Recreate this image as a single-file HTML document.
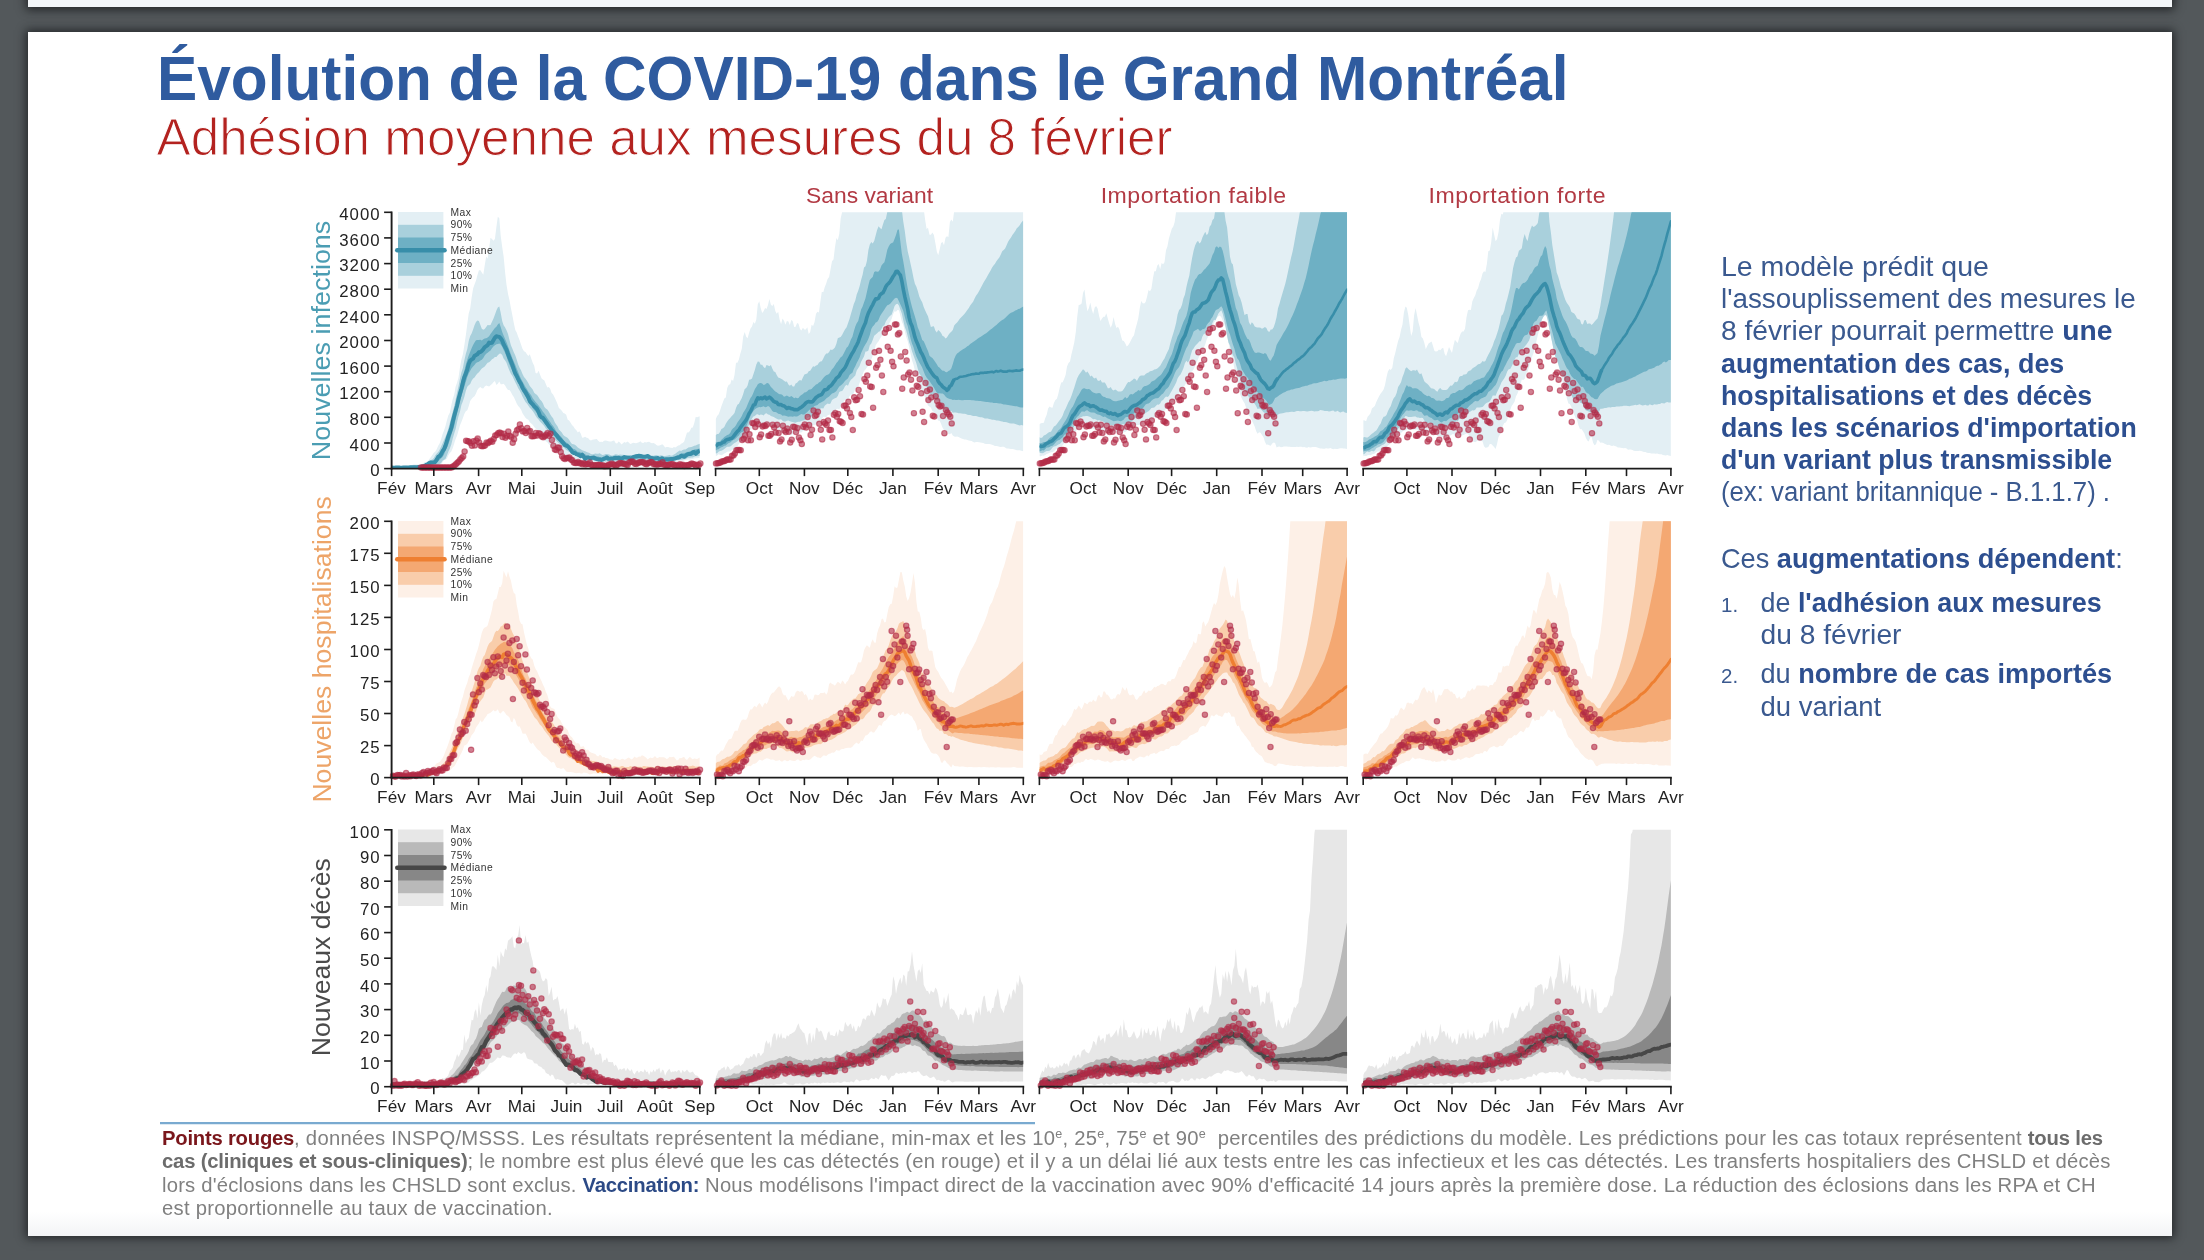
<!DOCTYPE html>
<html lang="fr"><head><meta charset="utf-8"><title>Évolution de la COVID-19 dans le Grand Montréal</title>
<style>
html,body{margin:0;padding:0;}
body{width:2204px;height:1260px;overflow:hidden;background:#53585b;position:relative;font-family:"Liberation Sans",sans-serif;}
.prev{position:absolute;left:28px;top:-20px;width:2144px;height:27px;background:#f3f6f9;box-shadow:0 1px 9px 2px rgba(20,22,24,.75);}
.page{position:absolute;left:28px;top:32px;width:2144px;height:1204px;background:#fff;box-shadow:0 0 9px 2px rgba(20,22,24,.75);}
.page .fade{position:absolute;left:0;right:0;bottom:0;height:24px;background:linear-gradient(#fff,#f3f4f6);}
svg{position:absolute;left:0;top:0;will-change:transform;}
svg text{font-family:"Liberation Sans",sans-serif;white-space:pre;}
</style></head><body>
<div class="prev"></div>
<div class="page"><div class="fade"></div></div>
<svg width="2204" height="1260" viewBox="0 0 2204 1260">
<clipPath id="c1_391"><rect x="391.6" y="212.3" width="308.2" height="256.3"/></clipPath><g clip-path="url(#c1_391)"><path d="M391.6,465.8 393.1,465.8 394.5,465.9 396.0,465.8 397.4,465.8 398.9,465.7 400.3,465.9 401.8,465.9 403.2,465.9 404.7,465.7 406.1,465.6 407.6,466.0 409.1,465.6 410.5,465.2 412.0,464.9 413.4,464.6 414.9,464.5 416.3,464.6 417.8,464.6 419.2,464.4 420.7,464.6 422.2,464.0 423.6,462.7 425.1,462.0 426.5,462.0 428.0,461.1 429.4,459.0 430.9,456.9 432.3,455.1 433.8,452.8 435.2,451.7 436.7,449.3 438.2,445.7 439.6,443.4 441.1,439.2 442.5,434.3 444.0,430.6 445.4,426.3 446.9,420.4 448.3,415.5 449.8,412.8 451.3,405.6 452.7,399.1 454.2,394.7 455.6,386.8 457.1,382.4 458.5,377.5 460.0,367.3 461.4,359.5 462.9,354.2 464.3,345.6 465.8,335.5 467.3,324.1 468.7,313.5 470.2,308.5 471.6,297.8 473.1,288.5 474.5,284.5 476.0,280.6 477.4,275.2 478.9,270.2 480.4,270.3 481.8,272.5 483.3,274.7 484.7,265.5 486.2,256.5 487.6,258.8 489.1,248.5 490.5,237.7 492.0,239.1 493.4,240.7 494.9,239.0 496.4,227.1 497.8,216.7 499.3,218.3 500.7,235.7 502.2,247.0 503.6,256.3 505.1,272.3 506.5,284.7 508.0,293.8 509.5,300.2 510.9,307.9 512.4,315.5 513.8,323.1 515.3,330.1 516.7,332.5 518.2,336.8 519.6,340.3 521.1,344.7 522.5,348.8 524.0,351.2 525.5,351.9 526.9,354.2 528.4,356.0 529.8,354.3 531.3,358.8 532.7,362.8 534.2,365.7 535.6,373.0 537.1,373.4 538.6,370.8 540.0,374.4 541.5,378.2 542.9,379.5 544.4,380.4 545.8,384.0 547.3,387.4 548.7,387.1 550.2,388.8 551.6,393.1 553.1,394.4 554.6,397.5 556.0,400.5 557.5,404.1 558.9,408.0 560.4,409.3 561.8,410.8 563.3,413.0 564.7,413.6 566.2,414.7 567.7,419.7 569.1,420.4 570.6,422.8 572.0,424.9 573.5,426.4 574.9,428.8 576.4,430.2 577.8,432.6 579.3,431.3 580.7,433.6 582.2,437.7 583.7,437.5 585.1,436.8 586.6,437.7 588.0,437.9 589.5,439.7 590.9,440.5 592.4,439.7 593.8,439.6 595.3,439.3 596.8,439.0 598.2,440.8 599.7,441.9 601.1,441.7 602.6,442.0 604.0,440.7 605.5,440.6 606.9,440.8 608.4,441.3 609.8,441.6 611.3,441.5 612.8,440.8 614.2,440.5 615.7,443.2 617.1,443.5 618.6,441.5 620.0,442.5 621.5,444.5 622.9,443.3 624.4,442.1 625.9,442.7 627.3,441.5 628.8,442.6 630.2,443.9 631.7,443.4 633.1,442.8 634.6,443.1 636.0,443.3 637.5,442.8 638.9,442.2 640.4,441.2 641.9,442.8 643.3,443.1 644.8,442.1 646.2,442.4 647.7,441.9 649.1,441.7 650.6,442.8 652.0,443.3 653.5,443.1 655.0,443.7 656.4,445.0 657.9,445.8 659.3,445.5 660.8,445.0 662.2,444.2 663.7,445.6 665.1,447.5 666.6,447.1 668.0,446.9 669.5,447.6 671.0,447.8 672.4,447.9 673.9,447.0 675.3,447.4 676.8,446.6 678.2,445.4 679.7,445.3 681.1,443.7 682.6,443.0 684.1,441.7 685.5,437.3 687.0,432.6 688.4,432.4 689.9,430.9 691.3,427.7 692.8,427.5 694.2,423.2 695.7,417.1 697.1,417.3 699.8,416.3 L699.8,457.8 697.1,458.3 695.7,458.3 694.2,458.4 692.8,459.1 691.3,459.3 689.9,459.6 688.4,459.4 687.0,459.7 685.5,459.8 684.1,460.4 682.6,461.0 681.1,460.8 679.7,461.1 678.2,461.6 676.8,461.8 675.3,462.2 673.9,462.8 672.4,463.5 671.0,463.7 669.5,463.7 668.0,463.4 666.6,463.5 665.1,463.4 663.7,462.7 662.2,462.9 660.8,463.0 659.3,463.8 657.9,464.0 656.4,463.7 655.0,463.8 653.5,463.9 652.0,463.6 650.6,463.3 649.1,463.0 647.7,463.3 646.2,463.8 644.8,464.0 643.3,463.8 641.9,463.5 640.4,463.3 638.9,463.7 637.5,463.5 636.0,463.9 634.6,464.1 633.1,463.4 631.7,463.2 630.2,463.4 628.8,463.6 627.3,463.1 625.9,463.0 624.4,463.4 622.9,463.4 621.5,463.3 620.0,463.5 618.6,463.1 617.1,462.9 615.7,463.7 614.2,463.6 612.8,462.9 611.3,463.5 609.8,463.7 608.4,463.1 606.9,463.0 605.5,463.1 604.0,462.6 602.6,462.8 601.1,463.7 599.7,463.8 598.2,463.6 596.8,463.5 595.3,463.8 593.8,463.5 592.4,463.0 590.9,463.5 589.5,463.4 588.0,463.2 586.6,463.2 585.1,462.5 583.7,462.5 582.2,463.1 580.7,463.1 579.3,462.8 577.8,462.4 576.4,461.8 574.9,460.9 573.5,460.0 572.0,459.0 570.6,458.2 569.1,458.2 567.7,457.8 566.2,456.1 564.7,455.1 563.3,455.3 561.8,453.8 560.4,451.8 558.9,450.9 557.5,449.9 556.0,449.2 554.6,449.6 553.1,448.9 551.6,446.8 550.2,445.5 548.7,443.9 547.3,442.2 545.8,441.2 544.4,440.3 542.9,439.2 541.5,436.9 540.0,434.0 538.6,431.1 537.1,429.6 535.6,428.5 534.2,427.0 532.7,424.8 531.3,423.4 529.8,422.3 528.4,419.8 526.9,418.9 525.5,417.7 524.0,415.5 522.5,413.2 521.1,409.8 519.6,407.6 518.2,406.1 516.7,403.5 515.3,400.3 513.8,397.1 512.4,395.1 510.9,392.1 509.5,390.1 508.0,389.9 506.5,388.0 505.1,385.4 503.6,383.7 502.2,384.3 500.7,384.3 499.3,381.4 497.8,383.8 496.4,385.0 494.9,381.0 493.4,382.3 492.0,384.0 490.5,385.3 489.1,386.4 487.6,386.0 486.2,385.4 484.7,386.4 483.3,388.5 481.8,388.2 480.4,386.9 478.9,388.0 477.4,390.1 476.0,393.4 474.5,396.2 473.1,397.2 471.6,399.1 470.2,401.1 468.7,406.2 467.3,410.2 465.8,411.3 464.3,414.1 462.9,418.1 461.4,422.0 460.0,425.3 458.5,430.6 457.1,435.4 455.6,439.0 454.2,443.5 452.7,448.3 451.3,451.4 449.8,453.1 448.3,455.4 446.9,458.5 445.4,459.7 444.0,460.1 442.5,462.2 441.1,464.5 439.6,465.4 438.2,465.3 436.7,465.7 435.2,465.9 433.8,466.0 432.3,466.9 430.9,466.9 429.4,466.8 428.0,466.8 426.5,466.8 425.1,467.1 423.6,467.5 422.2,468.0 420.7,468.1 419.2,468.1 417.8,468.1 416.3,468.1 414.9,468.1 413.4,468.1 412.0,468.1 410.5,468.1 409.1,468.1 407.6,468.1 406.1,468.1 404.7,468.1 403.2,468.1 401.8,468.1 400.3,468.1 398.9,468.1 397.4,468.1 396.0,468.1 394.5,468.1 393.1,468.1 391.6,468.1Z" fill="#e3eff4"/><path d="M391.6,466.5 393.1,466.5 394.5,466.3 396.0,466.1 397.4,466.1 398.9,466.0 400.3,466.2 401.8,466.2 403.2,466.2 404.7,466.4 406.1,466.3 407.6,466.3 409.1,465.9 410.5,466.1 412.0,465.9 413.4,465.5 414.9,465.3 416.3,465.7 417.8,465.5 419.2,465.4 420.7,465.2 422.2,465.3 423.6,464.9 425.1,464.3 426.5,463.6 428.0,462.8 429.4,461.0 430.9,459.9 432.3,459.5 433.8,458.0 435.2,455.6 436.7,453.4 438.2,452.0 439.6,449.8 441.1,446.6 442.5,443.4 444.0,440.1 445.4,436.9 446.9,433.3 448.3,428.7 449.8,423.0 451.3,417.6 452.7,411.8 454.2,406.0 455.6,399.6 457.1,392.6 458.5,386.2 460.0,378.5 461.4,372.6 462.9,367.9 464.3,360.4 465.8,354.0 467.3,348.9 468.7,341.1 470.2,336.0 471.6,333.4 473.1,329.5 474.5,325.3 476.0,321.9 477.4,320.4 478.9,321.0 480.4,325.0 481.8,328.8 483.3,329.8 484.7,329.0 486.2,326.9 487.6,325.1 489.1,325.2 490.5,325.0 492.0,321.8 493.4,318.7 494.9,314.7 496.4,310.6 497.8,307.4 499.3,306.6 500.7,312.8 502.2,321.0 503.6,325.3 505.1,327.6 506.5,330.3 508.0,334.1 509.5,340.1 510.9,345.3 512.4,348.7 513.8,352.3 515.3,355.5 516.7,359.5 518.2,364.4 519.6,367.8 521.1,370.6 522.5,373.9 524.0,376.9 525.5,378.7 526.9,380.8 528.4,383.3 529.8,385.9 531.3,387.8 532.7,389.5 534.2,392.7 535.6,394.1 537.1,395.0 538.6,397.3 540.0,399.6 541.5,400.9 542.9,403.2 544.4,406.9 545.8,408.6 547.3,409.6 548.7,411.5 550.2,414.2 551.6,416.5 553.1,418.3 554.6,421.9 556.0,424.3 557.5,426.3 558.9,429.4 560.4,431.0 561.8,432.4 563.3,434.9 564.7,436.3 566.2,436.9 567.7,438.0 569.1,439.7 570.6,442.2 572.0,443.9 573.5,444.2 574.9,444.8 576.4,446.1 577.8,447.5 579.3,448.5 580.7,449.3 582.2,450.2 583.7,450.8 585.1,451.3 586.6,452.1 588.0,452.6 589.5,453.1 590.9,454.0 592.4,454.3 593.8,453.9 595.3,453.4 596.8,453.7 598.2,453.7 599.7,453.3 601.1,454.2 602.6,454.9 604.0,454.7 605.5,454.0 606.9,454.0 608.4,454.3 609.8,454.7 611.3,455.5 612.8,455.5 614.2,454.7 615.7,454.3 617.1,454.6 618.6,454.9 620.0,454.6 621.5,454.7 622.9,454.8 624.4,455.1 625.9,455.6 627.3,455.7 628.8,455.3 630.2,455.2 631.7,455.3 633.1,455.1 634.6,455.1 636.0,454.9 637.5,454.7 638.9,454.7 640.4,454.9 641.9,455.2 643.3,455.7 644.8,455.3 646.2,454.9 647.7,454.9 649.1,455.6 650.6,455.5 652.0,455.6 653.5,455.8 655.0,455.3 656.4,455.0 657.9,455.5 659.3,455.8 660.8,455.2 662.2,455.4 663.7,456.0 665.1,456.1 666.6,455.8 668.0,455.4 669.5,455.1 671.0,455.7 672.4,455.5 673.9,454.6 675.3,453.7 676.8,452.5 678.2,451.4 679.7,450.6 681.1,450.9 682.6,450.1 684.1,449.6 685.5,449.6 687.0,448.4 688.4,447.6 689.9,447.3 691.3,447.0 692.8,446.5 694.2,445.7 695.7,445.4 697.1,444.8 699.8,443.7 L699.8,455.9 697.1,456.3 695.7,456.2 694.2,456.8 692.8,457.4 691.3,457.5 689.9,457.8 688.4,457.7 687.0,458.3 685.5,459.2 684.1,459.2 682.6,459.6 681.1,459.8 679.7,459.9 678.2,460.0 676.8,459.8 675.3,460.7 673.9,461.2 672.4,461.1 671.0,461.4 669.5,461.3 668.0,461.9 666.6,462.3 665.1,461.7 663.7,461.8 662.2,462.6 660.8,462.4 659.3,461.7 657.9,461.8 656.4,461.3 655.0,460.9 653.5,461.1 652.0,460.9 650.6,461.3 649.1,461.9 647.7,462.3 646.2,461.8 644.8,461.3 643.3,461.8 641.9,461.9 640.4,461.3 638.9,461.1 637.5,461.7 636.0,462.8 634.6,462.5 633.1,461.3 631.7,461.2 630.2,461.3 628.8,461.3 627.3,461.8 625.9,461.8 624.4,461.0 622.9,461.5 621.5,462.1 620.0,461.8 618.6,461.7 617.1,461.6 615.7,461.4 614.2,461.3 612.8,461.6 611.3,462.0 609.8,462.0 608.4,461.6 606.9,461.3 605.5,461.4 604.0,461.1 602.6,461.2 601.1,461.2 599.7,461.4 598.2,461.4 596.8,460.5 595.3,460.4 593.8,460.5 592.4,460.3 590.9,460.8 589.5,461.0 588.0,460.5 586.6,459.9 585.1,460.2 583.7,458.8 582.2,458.1 580.7,457.6 579.3,457.0 577.8,456.7 576.4,456.0 574.9,455.3 573.5,454.2 572.0,453.0 570.6,452.3 569.1,452.0 567.7,450.8 566.2,449.9 564.7,448.6 563.3,447.0 561.8,446.0 560.4,444.5 558.9,443.2 557.5,441.9 556.0,440.6 554.6,438.8 553.1,436.7 551.6,435.1 550.2,433.2 548.7,431.3 547.3,429.9 545.8,428.4 544.4,426.3 542.9,424.4 541.5,423.1 540.0,421.4 538.6,419.6 537.1,418.1 535.6,415.8 534.2,413.2 532.7,411.0 531.3,409.3 529.8,407.8 528.4,405.8 526.9,403.4 525.5,401.9 524.0,399.2 522.5,396.5 521.1,393.2 519.6,390.4 518.2,388.3 516.7,385.1 515.3,382.2 513.8,378.9 512.4,376.1 510.9,373.7 509.5,370.7 508.0,367.0 506.5,362.7 505.1,360.5 503.6,358.6 502.2,354.9 500.7,353.6 499.3,353.7 497.8,355.3 496.4,357.0 494.9,357.1 493.4,358.5 492.0,359.2 490.5,361.0 489.1,362.3 487.6,362.8 486.2,364.6 484.7,366.4 483.3,367.5 481.8,368.5 480.4,370.2 478.9,372.3 477.4,373.5 476.0,375.3 474.5,377.6 473.1,378.4 471.6,380.8 470.2,383.9 468.7,385.2 467.3,386.8 465.8,390.9 464.3,397.1 462.9,401.3 461.4,405.1 460.0,411.5 458.5,416.3 457.1,422.1 455.6,428.9 454.2,433.6 452.7,438.8 451.3,444.4 449.8,448.5 448.3,451.7 446.9,455.5 445.4,458.9 444.0,459.8 442.5,460.8 441.1,462.9 439.6,463.9 438.2,464.7 436.7,465.3 435.2,465.4 433.8,465.7 432.3,466.5 430.9,466.6 429.4,466.5 428.0,466.3 426.5,466.5 425.1,466.8 423.6,467.2 422.2,467.7 420.7,467.9 419.2,468.0 417.8,468.1 416.3,468.1 414.9,468.1 413.4,468.1 412.0,468.1 410.5,468.1 409.1,468.1 407.6,468.1 406.1,468.1 404.7,468.1 403.2,468.1 401.8,468.1 400.3,468.1 398.9,468.1 397.4,468.1 396.0,468.1 394.5,468.1 393.1,468.1 391.6,468.1Z" fill="#a9d0dc"/><path d="M391.6,466.8 393.1,467.0 394.5,466.9 396.0,466.7 397.4,466.6 398.9,466.7 400.3,467.0 401.8,466.9 403.2,466.8 404.7,466.7 406.1,466.6 407.6,466.6 409.1,466.6 410.5,466.4 412.0,466.5 413.4,466.3 414.9,466.4 416.3,466.4 417.8,465.8 419.2,465.9 420.7,466.0 422.2,465.8 423.6,465.2 425.1,464.9 426.5,463.9 428.0,463.1 429.4,462.2 430.9,461.7 432.3,461.5 433.8,460.2 435.2,458.7 436.7,457.1 438.2,454.8 439.6,452.4 441.1,450.9 442.5,448.5 444.0,445.0 445.4,441.6 446.9,437.9 448.3,433.7 449.8,429.4 451.3,423.7 452.7,417.1 454.2,411.4 455.6,405.5 457.1,399.9 458.5,394.2 460.0,387.4 461.4,380.6 462.9,375.2 464.3,370.9 465.8,364.7 467.3,359.5 468.7,355.6 470.2,351.7 471.6,348.3 473.1,345.0 474.5,342.6 476.0,340.2 477.4,340.1 478.9,340.0 480.4,339.8 481.8,340.4 483.3,339.2 484.7,338.5 486.2,338.3 487.6,337.4 489.1,336.2 490.5,334.1 492.0,332.0 493.4,330.0 494.9,328.1 496.4,326.8 497.8,324.4 499.3,323.1 500.7,326.9 502.2,331.9 503.6,335.4 505.1,339.0 506.5,342.2 508.0,346.3 509.5,350.6 510.9,354.3 512.4,358.2 513.8,361.5 515.3,364.9 516.7,368.6 518.2,372.2 519.6,375.7 521.1,379.0 522.5,381.5 524.0,384.3 525.5,386.9 526.9,389.1 528.4,391.7 529.8,393.4 531.3,395.6 532.7,398.3 534.2,400.2 535.6,401.9 537.1,403.7 538.6,405.5 540.0,407.5 541.5,409.6 542.9,411.7 544.4,413.5 545.8,415.5 547.3,418.1 548.7,420.0 550.2,422.0 551.6,424.3 553.1,426.1 554.6,428.3 556.0,431.0 557.5,432.9 558.9,434.7 560.4,436.1 561.8,437.5 563.3,439.5 564.7,441.2 566.2,442.5 567.7,443.3 569.1,444.7 570.6,446.7 572.0,448.0 573.5,448.9 574.9,449.3 576.4,450.6 577.8,451.9 579.3,451.7 580.7,452.5 582.2,453.4 583.7,453.5 585.1,454.3 586.6,455.4 588.0,455.8 589.5,455.9 590.9,456.6 592.4,456.9 593.8,456.7 595.3,456.5 596.8,456.4 598.2,456.4 599.7,456.9 601.1,457.2 602.6,457.1 604.0,457.3 605.5,457.1 606.9,456.5 608.4,457.2 609.8,457.3 611.3,457.3 612.8,457.3 614.2,456.9 615.7,456.9 617.1,456.7 618.6,456.2 620.0,456.5 621.5,456.9 622.9,456.7 624.4,456.3 625.9,456.1 627.3,456.3 628.8,456.1 630.2,455.6 631.7,455.7 633.1,456.2 634.6,455.8 636.0,455.4 637.5,455.1 638.9,455.0 640.4,455.2 641.9,455.5 643.3,456.0 644.8,456.0 646.2,455.6 647.7,455.2 649.1,456.2 650.6,456.4 652.0,456.6 653.5,456.6 655.0,456.5 656.4,456.9 657.9,457.2 659.3,457.3 660.8,457.0 662.2,457.1 663.7,457.5 665.1,457.6 666.6,457.7 668.0,457.6 669.5,457.3 671.0,457.4 672.4,457.5 673.9,457.6 675.3,456.5 676.8,455.3 678.2,455.0 679.7,454.4 681.1,453.4 682.6,453.3 684.1,453.3 685.5,452.7 687.0,452.0 688.4,451.7 689.9,451.3 691.3,450.9 692.8,450.3 694.2,449.4 695.7,449.3 697.1,448.9 699.8,448.4 L699.8,453.1 697.1,454.0 695.7,454.6 694.2,454.8 692.8,454.9 691.3,455.2 689.9,455.2 688.4,455.5 687.0,456.5 685.5,457.0 684.1,457.6 682.6,457.4 681.1,457.9 679.7,458.9 678.2,459.2 676.8,459.2 675.3,459.9 673.9,460.3 672.4,460.4 671.0,460.5 669.5,460.5 668.0,460.5 666.6,460.0 665.1,460.3 663.7,460.5 662.2,459.8 660.8,459.6 659.3,460.3 657.9,459.9 656.4,459.6 655.0,459.3 653.5,459.2 652.0,459.2 650.6,459.0 649.1,458.6 647.7,458.2 646.2,458.4 644.8,458.6 643.3,458.5 641.9,458.7 640.4,458.8 638.9,458.6 637.5,458.9 636.0,458.9 634.6,458.7 633.1,458.7 631.7,459.4 630.2,459.9 628.8,459.4 627.3,459.2 625.9,459.4 624.4,459.5 622.9,459.4 621.5,459.5 620.0,459.5 618.6,459.6 617.1,459.3 615.7,459.2 614.2,459.6 612.8,460.2 611.3,459.9 609.8,459.7 608.4,459.9 606.9,459.9 605.5,459.7 604.0,459.8 602.6,460.4 601.1,460.8 599.7,460.3 598.2,460.2 596.8,460.0 595.3,459.9 593.8,459.8 592.4,459.6 590.9,459.6 589.5,459.1 588.0,458.6 586.6,458.7 585.1,459.9 583.7,457.5 582.2,457.0 580.7,457.0 579.3,456.1 577.8,455.8 576.4,455.1 574.9,454.0 573.5,453.7 572.0,452.6 570.6,450.4 569.1,449.3 567.7,448.0 566.2,447.4 564.7,446.2 563.3,444.8 561.8,443.8 560.4,442.2 558.9,440.9 557.5,439.9 556.0,438.0 554.6,436.0 553.1,433.8 551.6,431.5 550.2,430.1 548.7,428.5 547.3,426.3 545.8,424.4 544.4,422.9 542.9,421.3 541.5,419.2 540.0,417.5 538.6,415.5 537.1,413.2 535.6,411.5 534.2,410.1 532.7,407.9 531.3,405.8 529.8,404.3 528.4,402.0 526.9,398.9 525.5,396.6 524.0,394.2 522.5,391.6 521.1,388.8 519.6,385.8 518.2,382.8 516.7,380.0 515.3,376.7 513.8,373.2 512.4,370.5 510.9,367.7 509.5,364.7 508.0,360.9 506.5,356.6 505.1,353.0 503.6,349.9 502.2,346.8 500.7,344.6 499.3,343.5 497.8,343.9 496.4,344.2 494.9,345.2 493.4,346.6 492.0,348.3 490.5,350.5 489.1,351.5 487.6,352.7 486.2,353.8 484.7,355.4 483.3,358.0 481.8,359.7 480.4,360.4 478.9,361.8 477.4,362.3 476.0,363.0 474.5,365.1 473.1,366.6 471.6,368.3 470.2,370.8 468.7,373.6 467.3,377.0 465.8,381.9 464.3,386.7 462.9,391.3 461.4,396.4 460.0,400.9 458.5,406.4 457.1,413.2 455.6,419.6 454.2,425.9 452.7,430.6 451.3,435.1 449.8,439.9 448.3,444.4 446.9,447.9 445.4,450.8 444.0,454.4 442.5,457.0 441.1,458.2 439.6,459.7 438.2,461.6 436.7,462.4 435.2,462.8 433.8,463.3 432.3,464.3 430.9,465.0 429.4,465.2 428.0,465.4 426.5,465.8 425.1,466.5 423.6,466.9 422.2,467.4 420.7,467.6 419.2,467.7 417.8,467.9 416.3,468.0 414.9,468.1 413.4,468.1 412.0,468.1 410.5,468.0 409.1,468.1 407.6,468.1 406.1,468.1 404.7,468.1 403.2,468.1 401.8,468.1 400.3,468.1 398.9,468.1 397.4,468.1 396.0,468.1 394.5,468.1 393.1,468.1 391.6,468.1Z" fill="#6eb0c4"/><path d="M391.6,467.6 393.1,467.8 394.5,467.7 396.0,467.5 397.4,467.4 398.9,467.5 400.3,467.8 401.8,467.7 403.2,467.6 404.7,467.6 406.1,467.4 407.6,467.4 409.1,467.4 410.5,467.2 412.0,467.3 413.4,467.3 414.9,467.3 416.3,467.2 417.8,467.1 419.2,466.9 420.7,466.8 422.2,466.6 423.6,466.1 425.1,465.7 426.5,464.7 428.0,463.9 429.4,463.0 430.9,462.5 432.3,462.5 433.8,462.4 435.2,462.0 436.7,459.7 438.2,456.8 439.6,456.2 441.1,454.3 442.5,451.2 444.0,449.2 445.4,445.9 446.9,441.0 448.3,436.4 449.8,432.3 451.3,427.9 452.7,421.8 454.2,415.8 455.6,410.8 457.1,405.5 458.5,399.0 460.0,393.4 461.4,388.7 462.9,382.5 464.3,377.2 465.8,373.7 467.3,369.3 468.7,364.0 470.2,360.6 471.6,359.5 473.1,358.6 474.5,355.8 476.0,355.1 477.4,354.3 478.9,352.3 480.4,352.1 481.8,350.9 483.3,349.3 484.7,347.1 486.2,346.2 487.6,345.2 489.1,342.6 490.5,342.9 492.0,342.8 493.4,340.3 494.9,337.7 496.4,336.3 497.8,336.6 499.3,336.9 500.7,338.4 502.2,340.6 503.6,344.2 505.1,347.0 506.5,349.6 508.0,354.1 509.5,357.9 510.9,361.2 512.4,365.1 513.8,369.5 515.3,373.6 516.7,376.0 518.2,379.2 519.6,381.9 521.1,384.2 522.5,387.8 524.0,390.2 525.5,392.2 526.9,394.8 528.4,397.4 529.8,401.1 531.3,402.9 532.7,404.3 534.2,406.2 535.6,407.4 537.1,409.1 538.6,412.2 540.0,415.8 541.5,417.3 542.9,417.9 544.4,419.9 545.8,422.0 547.3,424.0 548.7,426.2 550.2,427.9 551.6,430.0 553.1,431.6 554.6,433.2 556.0,434.6 557.5,436.4 558.9,438.2 560.4,439.9 561.8,441.5 563.3,443.0 564.7,445.0 566.2,445.6 567.7,446.3 569.1,447.7 570.6,449.5 572.0,451.8 573.5,452.9 574.9,453.0 576.4,454.2 577.8,454.6 579.3,455.3 580.7,456.2 582.2,454.7 583.7,456.7 585.1,459.1 586.6,457.7 588.0,457.4 589.5,458.0 590.9,458.2 592.4,457.7 593.8,457.5 595.3,458.5 596.8,459.0 598.2,459.4 599.7,459.4 601.1,460.0 602.6,459.6 604.0,458.7 605.5,458.1 606.9,457.3 608.4,458.7 609.8,458.8 611.3,458.4 612.8,458.7 614.2,457.9 615.7,457.7 617.1,457.9 618.6,457.7 620.0,458.2 621.5,458.6 622.9,457.9 624.4,457.1 625.9,457.4 627.3,457.6 628.8,457.7 630.2,458.8 631.7,458.5 633.1,457.1 634.6,456.6 636.0,456.2 637.5,455.9 638.9,455.8 640.4,456.0 641.9,456.3 643.3,456.8 644.8,456.8 646.2,456.4 647.7,456.0 649.1,457.0 650.6,457.9 652.0,458.1 653.5,458.4 655.0,458.5 656.4,458.2 657.9,458.0 659.3,459.5 660.8,458.8 662.2,458.2 663.7,459.7 665.1,459.5 666.6,459.2 668.0,459.7 669.5,459.2 671.0,459.0 672.4,459.1 673.9,458.6 675.3,458.3 676.8,457.9 678.2,457.5 679.7,457.1 681.1,455.8 682.6,456.1 684.1,456.8 685.5,455.8 687.0,454.7 688.4,453.9 689.9,453.9 691.3,453.7 692.8,452.3 694.2,452.1 695.7,453.8 697.1,452.3 699.8,450.8" fill="none" stroke="#388ea9" stroke-width="4.0" stroke-linejoin="round"/></g>
<clipPath id="c1_715"><rect x="715.6" y="212.3" width="307.7" height="256.3"/></clipPath><g clip-path="url(#c1_715)"><path d="M715.6,419.5 717.1,416.1 718.5,414.6 720.0,410.7 721.4,406.3 722.9,402.3 724.3,398.6 725.8,397.4 727.2,388.1 728.7,384.8 730.2,384.2 731.6,379.4 733.1,381.0 734.5,374.9 736.0,362.8 737.4,362.8 738.9,359.5 740.3,353.7 741.8,348.8 743.2,336.6 744.7,332.0 746.2,336.7 747.6,338.2 749.1,332.8 750.5,328.6 752.0,326.4 753.4,322.1 754.9,323.8 756.3,319.6 757.8,304.3 759.3,301.2 760.7,308.1 762.2,312.9 763.6,311.3 765.1,308.0 766.5,309.0 768.0,305.1 769.4,298.9 770.9,304.8 772.3,306.0 773.8,304.1 775.3,311.1 776.7,313.8 778.2,311.8 779.6,319.5 781.1,324.3 782.5,318.5 784.0,320.7 785.4,324.7 786.9,321.1 788.4,321.5 789.8,325.0 791.3,319.9 792.7,321.0 794.2,327.0 795.6,326.7 797.1,323.0 798.5,323.7 800.0,328.9 801.4,330.5 802.9,327.7 804.4,329.4 805.8,329.4 807.3,327.2 808.7,334.0 810.2,332.0 811.6,324.7 813.1,326.0 814.5,322.3 816.0,313.8 817.5,311.7 818.9,312.6 820.4,301.4 821.8,291.8 823.3,292.2 824.7,287.3 826.2,283.4 827.6,279.0 829.1,277.0 830.5,269.6 832.0,261.2 833.5,259.5 834.9,247.8 836.4,238.1 837.8,240.2 839.3,233.8 840.7,218.2 842.2,211.8 843.6,206.6 845.1,204.5 846.6,208.7 848.0,200.4 849.5,192.3 850.9,197.7 852.4,194.0 853.8,188.3 855.3,185.3 856.7,180.9 858.2,183.1 859.6,195.9 861.1,196.4 862.6,184.9 864.0,184.2 865.5,185.8 866.9,191.0 868.4,192.5 869.8,198.4 871.3,198.4 872.7,195.7 874.2,195.8 875.7,192.4 877.1,185.6 878.6,182.8 880.0,188.1 881.5,187.7 882.9,180.0 884.4,184.2 885.8,190.7 887.3,186.0 888.7,186.5 890.2,187.3 891.7,189.5 893.1,186.2 894.6,182.1 896.0,186.9 897.5,188.9 898.9,188.2 900.4,185.9 901.8,184.2 903.3,185.7 904.8,193.2 906.2,189.4 907.7,190.9 909.1,199.0 910.6,190.6 912.0,190.3 913.5,186.0 914.9,175.3 916.4,176.0 917.8,181.7 919.3,189.5 920.8,197.0 922.2,207.1 923.7,208.7 925.1,219.5 926.6,229.1 928.0,227.7 929.5,234.7 930.9,234.7 932.4,232.5 933.9,235.0 935.3,242.7 936.8,251.4 938.2,255.3 939.7,249.3 941.1,243.1 942.6,242.0 944.0,245.3 945.5,237.7 946.9,236.3 948.4,236.9 949.9,222.0 951.3,219.6 952.8,221.8 954.2,210.6 955.7,201.1 957.1,191.0 958.6,189.6 960.0,190.2 961.5,189.5 963.0,189.6 964.4,189.7 965.9,189.0 967.3,188.5 968.8,188.3 970.2,189.1 971.7,188.6 973.1,188.6 974.6,189.4 976.0,189.2 977.5,187.9 979.0,187.7 980.4,189.2 981.9,188.8 983.3,188.5 984.8,187.7 986.2,188.0 987.7,188.9 989.1,189.0 990.6,188.4 992.1,188.3 993.5,189.1 995.0,189.2 996.4,188.8 997.9,188.1 999.3,189.7 1000.8,189.6 1002.2,188.1 1003.7,188.4 1005.1,188.2 1006.6,189.0 1008.1,190.4 1009.5,189.4 1011.0,187.6 1012.4,188.6 1013.9,190.1 1015.3,189.9 1016.8,189.9 1018.2,189.0 1019.7,188.4 1021.2,188.1 1023.3,187.5 L1023.3,451.3 1021.2,450.8 1019.7,450.3 1018.2,450.2 1016.8,450.2 1015.3,449.7 1013.9,449.2 1012.4,449.0 1011.0,448.9 1009.5,448.8 1008.1,448.6 1006.6,448.5 1005.1,447.6 1003.7,446.8 1002.2,446.7 1000.8,446.9 999.3,446.8 997.9,446.3 996.4,446.1 995.0,445.9 993.5,445.3 992.1,444.8 990.6,444.3 989.1,444.1 987.7,444.0 986.2,444.0 984.8,443.7 983.3,443.1 981.9,442.7 980.4,442.5 979.0,442.3 977.5,442.0 976.0,442.1 974.6,442.4 973.1,441.9 971.7,441.1 970.2,440.7 968.8,440.4 967.3,440.1 965.9,439.6 964.4,439.5 963.0,439.1 961.5,438.4 960.0,437.8 958.6,437.1 957.1,436.6 955.7,436.7 954.2,436.4 952.8,435.5 951.3,433.1 949.9,434.3 948.4,434.0 946.9,430.9 945.5,430.2 944.0,429.9 942.6,427.7 941.1,423.9 939.7,420.7 938.2,420.4 936.8,418.1 935.3,413.5 933.9,411.7 932.4,411.0 930.9,407.7 929.5,406.5 928.0,405.4 926.6,401.9 925.1,397.6 923.7,394.5 922.2,392.6 920.8,388.7 919.3,383.2 917.8,377.6 916.4,375.1 914.9,370.7 913.5,364.8 912.0,360.2 910.6,354.1 909.1,347.2 907.7,341.3 906.2,337.1 904.8,330.9 903.3,325.2 901.8,321.4 900.4,315.8 898.9,310.3 897.5,310.0 896.0,311.7 894.6,311.3 893.1,314.0 891.7,318.8 890.2,321.7 888.7,324.2 887.3,327.3 885.8,328.6 884.4,330.1 882.9,333.4 881.5,336.6 880.0,338.5 878.6,341.3 877.1,342.9 875.7,345.3 874.2,351.1 872.7,355.8 871.3,359.5 869.8,363.0 868.4,365.4 866.9,367.5 865.5,369.5 864.0,371.1 862.6,374.5 861.1,379.0 859.6,382.8 858.2,386.7 856.7,388.0 855.3,388.7 853.8,393.1 852.4,394.9 850.9,394.2 849.5,396.2 848.0,399.4 846.6,400.1 845.1,399.7 843.6,401.5 842.2,403.9 840.7,406.5 839.3,409.4 837.8,408.7 836.4,409.1 834.9,411.8 833.5,412.4 832.0,412.5 830.5,414.2 829.1,414.8 827.6,415.3 826.2,417.2 824.7,416.8 823.3,416.8 821.8,419.2 820.4,420.3 818.9,422.3 817.5,423.6 816.0,424.6 814.5,425.3 813.1,425.2 811.6,426.1 810.2,426.3 808.7,427.8 807.3,428.3 805.8,429.6 804.4,430.8 802.9,431.0 801.4,432.5 800.0,432.5 798.5,431.3 797.1,432.3 795.6,432.9 794.2,432.5 792.7,433.9 791.3,435.3 789.8,433.6 788.4,432.4 786.9,432.9 785.4,433.0 784.0,433.7 782.5,432.8 781.1,432.1 779.6,430.9 778.2,429.3 776.7,429.1 775.3,429.1 773.8,428.2 772.3,426.4 770.9,425.2 769.4,424.2 768.0,423.5 766.5,423.4 765.1,424.4 763.6,425.7 762.2,427.6 760.7,427.9 759.3,425.9 757.8,426.2 756.3,426.2 754.9,425.7 753.4,427.3 752.0,428.1 750.5,429.5 749.1,432.3 747.6,434.1 746.2,435.3 744.7,436.5 743.2,439.4 741.8,441.7 740.3,442.1 738.9,443.9 737.4,446.2 736.0,447.7 734.5,448.7 733.1,449.4 731.6,450.3 730.2,451.4 728.7,451.6 727.2,451.8 725.8,452.8 724.3,453.5 722.9,454.5 721.4,455.3 720.0,454.7 718.5,454.3 717.1,455.4 715.6,456.0Z" fill="#e3eff4"/><path d="M715.6,435.2 717.1,433.9 718.5,433.9 720.0,431.9 721.4,429.1 722.9,428.3 724.3,427.0 725.8,423.8 727.2,421.4 728.7,419.6 730.2,417.9 731.6,416.3 733.1,414.7 734.5,412.9 736.0,407.9 737.4,404.7 738.9,403.8 740.3,400.8 741.8,397.9 743.2,393.9 744.7,389.1 746.2,388.0 747.6,385.4 749.1,379.8 750.5,379.5 752.0,378.4 753.4,374.3 754.9,369.8 756.3,364.4 757.8,361.4 759.3,361.7 760.7,364.7 762.2,364.8 763.6,367.0 765.1,368.3 766.5,365.1 768.0,365.5 769.4,366.3 770.9,364.9 772.3,368.6 773.8,371.4 775.3,372.0 776.7,374.9 778.2,377.4 779.6,377.9 781.1,378.7 782.5,379.6 784.0,380.8 785.4,381.8 786.9,381.4 788.4,384.5 789.8,385.7 791.3,384.6 792.7,386.5 794.2,386.6 795.6,383.4 797.1,382.7 798.5,381.0 800.0,379.9 801.4,380.7 802.9,377.5 804.4,374.5 805.8,374.0 807.3,373.5 808.7,371.3 810.2,370.7 811.6,368.5 813.1,366.3 814.5,366.7 816.0,365.6 817.5,365.0 818.9,362.7 820.4,361.6 821.8,361.2 823.3,358.4 824.7,355.6 826.2,353.4 827.6,353.5 829.1,351.9 830.5,349.6 832.0,349.9 833.5,349.0 834.9,347.5 836.4,343.7 837.8,338.3 839.3,337.6 840.7,337.0 842.2,334.8 843.6,331.9 845.1,329.2 846.6,327.3 848.0,323.2 849.5,318.9 850.9,314.1 852.4,309.1 853.8,304.1 855.3,300.5 856.7,294.6 858.2,290.8 859.6,286.3 861.1,279.9 862.6,274.8 864.0,267.6 865.5,266.3 866.9,261.1 868.4,250.1 869.8,244.5 871.3,242.0 872.7,243.6 874.2,241.0 875.7,235.3 877.1,230.0 878.6,226.3 880.0,227.9 881.5,229.2 882.9,224.6 884.4,219.9 885.8,219.1 887.3,211.9 888.7,207.0 890.2,203.1 891.7,191.0 893.1,189.2 894.6,196.0 896.0,193.6 897.5,189.2 898.9,193.7 900.4,201.8 901.8,209.4 903.3,221.8 904.8,231.1 906.2,241.9 907.7,251.2 909.1,257.1 910.6,264.1 912.0,270.3 913.5,278.0 914.9,283.7 916.4,286.8 917.8,291.1 919.3,296.5 920.8,299.7 922.2,302.2 923.7,307.1 925.1,310.3 926.6,313.4 928.0,316.2 929.5,321.9 930.9,327.1 932.4,326.6 933.9,326.2 935.3,330.4 936.8,332.4 938.2,330.1 939.7,331.2 941.1,333.0 942.6,335.9 944.0,336.4 945.5,338.4 946.9,337.5 948.4,335.0 949.9,332.9 951.3,331.8 952.8,330.0 954.2,325.4 955.7,323.8 957.1,322.4 958.6,320.4 960.0,318.5 961.5,316.9 963.0,315.4 964.4,314.0 965.9,312.1 967.3,310.0 968.8,307.9 970.2,305.6 971.7,303.5 973.1,301.7 974.6,298.6 976.0,295.7 977.5,293.7 979.0,291.3 980.4,288.6 981.9,285.7 983.3,283.0 984.8,280.6 986.2,278.3 987.7,275.4 989.1,273.0 990.6,270.5 992.1,267.5 993.5,265.4 995.0,263.8 996.4,261.3 997.9,259.3 999.3,257.5 1000.8,254.4 1002.2,251.2 1003.7,249.9 1005.1,248.4 1006.6,245.2 1008.1,241.8 1009.5,239.5 1011.0,237.5 1012.4,234.9 1013.9,233.0 1015.3,230.9 1016.8,228.3 1018.2,227.1 1019.7,225.2 1021.2,222.7 1023.3,220.3 L1023.3,425.5 1021.2,425.1 1019.7,425.4 1018.2,425.1 1016.8,424.5 1015.3,423.9 1013.9,423.4 1012.4,423.6 1011.0,423.6 1009.5,423.2 1008.1,422.8 1006.6,422.2 1005.1,422.0 1003.7,421.9 1002.2,421.5 1000.8,421.3 999.3,420.8 997.9,420.5 996.4,420.4 995.0,419.9 993.5,419.8 992.1,419.7 990.6,419.3 989.1,418.9 987.7,418.6 986.2,418.6 984.8,418.4 983.3,417.7 981.9,417.2 980.4,417.2 979.0,417.0 977.5,416.6 976.0,416.1 974.6,415.9 973.1,415.9 971.7,415.5 970.2,415.0 968.8,414.9 967.3,414.7 965.9,413.9 964.4,413.8 963.0,413.8 961.5,413.6 960.0,413.3 958.6,413.2 957.1,412.8 955.7,412.6 954.2,412.6 952.8,412.8 951.3,410.8 949.9,411.6 948.4,411.6 946.9,411.4 945.5,411.1 944.0,409.3 942.6,408.0 941.1,406.8 939.7,402.7 938.2,400.3 936.8,400.4 935.3,399.8 933.9,397.3 932.4,394.5 930.9,395.0 929.5,392.9 928.0,389.4 926.6,387.0 925.1,383.7 923.7,381.8 922.2,378.8 920.8,375.6 919.3,373.6 917.8,368.8 916.4,363.6 914.9,359.2 913.5,355.5 912.0,351.3 910.6,346.0 909.1,341.9 907.7,336.2 906.2,330.6 904.8,326.9 903.3,320.4 901.8,313.6 900.4,309.8 898.9,305.4 897.5,303.8 896.0,304.2 894.6,306.0 893.1,310.4 891.7,314.4 890.2,315.7 888.7,317.2 887.3,319.2 885.8,321.6 884.4,325.2 882.9,326.0 881.5,328.7 880.0,331.3 878.6,331.7 877.1,333.3 875.7,334.6 874.2,335.7 872.7,340.0 871.3,343.5 869.8,345.2 868.4,350.5 866.9,351.5 865.5,351.5 864.0,356.5 862.6,359.1 861.1,361.7 859.6,366.1 858.2,368.3 856.7,370.5 855.3,375.4 853.8,377.1 852.4,378.6 850.9,379.7 849.5,382.1 848.0,385.8 846.6,384.8 845.1,386.0 843.6,388.9 842.2,390.9 840.7,391.2 839.3,392.0 837.8,396.1 836.4,397.8 834.9,398.3 833.5,398.9 832.0,400.1 830.5,403.5 829.1,403.9 827.6,403.6 826.2,404.6 824.7,405.8 823.3,408.4 821.8,408.2 820.4,408.5 818.9,411.4 817.5,412.5 816.0,413.2 814.5,414.3 813.1,415.2 811.6,416.4 810.2,416.9 808.7,417.2 807.3,417.8 805.8,418.9 804.4,420.3 802.9,420.5 801.4,420.9 800.0,421.8 798.5,421.8 797.1,422.1 795.6,422.7 794.2,422.4 792.7,421.9 791.3,421.8 789.8,421.3 788.4,420.4 786.9,420.8 785.4,421.6 784.0,421.5 782.5,420.7 781.1,419.3 779.6,419.5 778.2,419.6 776.7,418.7 775.3,417.9 773.8,416.9 772.3,416.6 770.9,416.1 769.4,414.8 768.0,414.5 766.5,413.2 765.1,413.8 763.6,415.6 762.2,414.8 760.7,414.6 759.3,415.3 757.8,414.3 756.3,414.4 754.9,415.9 753.4,416.5 752.0,418.4 750.5,421.0 749.1,423.9 747.6,427.9 746.2,431.1 744.7,433.3 743.2,434.9 741.8,436.3 740.3,438.0 738.9,440.1 737.4,441.3 736.0,442.2 734.5,443.0 733.1,443.9 731.6,445.5 730.2,446.5 728.7,446.7 727.2,446.8 725.8,447.8 724.3,449.0 722.9,449.9 721.4,450.7 720.0,451.1 718.5,451.8 717.1,453.2 715.6,453.6Z" fill="#a9d0dc"/><path d="M715.6,442.4 717.1,442.1 718.5,441.8 720.0,441.4 721.4,439.8 722.9,438.4 724.3,437.1 725.8,436.0 727.2,435.1 728.7,434.5 730.2,433.1 731.6,430.0 733.1,428.2 734.5,427.3 736.0,425.2 737.4,422.6 738.9,420.6 740.3,418.5 741.8,416.0 743.2,412.8 744.7,410.6 746.2,408.0 747.6,404.5 749.1,401.1 750.5,397.9 752.0,395.9 753.4,392.7 754.9,389.0 756.3,386.9 757.8,384.2 759.3,383.3 760.7,382.9 762.2,383.6 763.6,384.9 765.1,384.5 766.5,383.3 768.0,382.9 769.4,384.6 770.9,387.0 772.3,388.3 773.8,390.0 775.3,391.4 776.7,392.3 778.2,393.4 779.6,394.3 781.1,394.2 782.5,395.0 784.0,396.7 785.4,396.2 786.9,395.4 788.4,396.5 789.8,397.1 791.3,396.1 792.7,396.9 794.2,398.2 795.6,397.6 797.1,398.3 798.5,398.1 800.0,396.0 801.4,395.0 802.9,393.9 804.4,392.6 805.8,392.3 807.3,391.3 808.7,389.8 810.2,389.6 811.6,389.0 813.1,387.3 814.5,385.9 816.0,384.6 817.5,384.0 818.9,382.6 820.4,381.7 821.8,380.1 823.3,377.9 824.7,376.5 826.2,375.2 827.6,374.7 829.1,374.1 830.5,371.8 832.0,369.3 833.5,367.7 834.9,365.4 836.4,363.0 837.8,361.5 839.3,359.3 840.7,357.3 842.2,356.3 843.6,353.7 845.1,350.8 846.6,347.8 848.0,346.5 849.5,343.2 850.9,339.4 852.4,336.7 853.8,331.6 855.3,326.4 856.7,323.3 858.2,321.1 859.6,315.5 861.1,309.6 862.6,306.5 864.0,302.4 865.5,298.3 866.9,292.1 868.4,285.3 869.8,280.0 871.3,278.3 872.7,276.9 874.2,271.9 875.7,271.3 877.1,271.7 878.6,271.6 880.0,269.5 881.5,265.5 882.9,263.8 884.4,262.2 885.8,256.7 887.3,249.8 888.7,246.4 890.2,243.9 891.7,242.9 893.1,242.5 894.6,238.8 896.0,234.9 897.5,229.8 898.9,229.5 900.4,242.0 901.8,253.6 903.3,261.6 904.8,270.4 906.2,279.8 907.7,288.3 909.1,295.1 910.6,301.6 912.0,307.0 913.5,312.1 914.9,316.6 916.4,321.8 917.8,327.4 919.3,331.0 920.8,335.6 922.2,340.1 923.7,341.3 925.1,344.2 926.6,347.9 928.0,351.1 929.5,355.8 930.9,357.1 932.4,357.9 933.9,360.0 935.3,362.0 936.8,364.3 938.2,366.8 939.7,367.8 941.1,369.6 942.6,370.8 944.0,370.7 945.5,372.0 946.9,372.3 948.4,371.0 949.9,370.2 951.3,368.6 952.8,364.0 954.2,358.9 955.7,355.4 957.1,353.6 958.6,352.4 960.0,351.2 961.5,350.2 963.0,349.3 964.4,348.4 965.9,347.4 967.3,346.3 968.8,345.4 970.2,344.1 971.7,343.0 973.1,342.1 974.6,341.0 976.0,339.9 977.5,338.7 979.0,337.8 980.4,337.0 981.9,336.1 983.3,335.0 984.8,334.1 986.2,333.3 987.7,332.0 989.1,330.8 990.6,329.6 992.1,328.4 993.5,327.2 995.0,326.1 996.4,325.0 997.9,323.5 999.3,322.2 1000.8,321.1 1002.2,319.9 1003.7,319.2 1005.1,318.1 1006.6,316.6 1008.1,315.1 1009.5,313.8 1011.0,312.8 1012.4,312.3 1013.9,311.6 1015.3,310.6 1016.8,309.9 1018.2,309.1 1019.7,308.7 1021.2,307.8 1023.3,306.5 L1023.3,407.6 1021.2,407.4 1019.7,407.2 1018.2,406.7 1016.8,406.3 1015.3,406.2 1013.9,406.1 1012.4,405.8 1011.0,405.4 1009.5,405.2 1008.1,405.0 1006.6,404.8 1005.1,404.6 1003.7,404.4 1002.2,404.1 1000.8,403.6 999.3,403.5 997.9,403.3 996.4,402.9 995.0,402.9 993.5,402.9 992.1,402.6 990.6,402.4 989.1,402.2 987.7,401.9 986.2,401.9 984.8,401.7 983.3,401.6 981.9,401.3 980.4,401.1 979.0,400.9 977.5,400.7 976.0,400.7 974.6,400.5 973.1,400.3 971.7,400.2 970.2,400.1 968.8,400.0 967.3,400.0 965.9,399.9 964.4,400.0 963.0,400.2 961.5,400.3 960.0,400.0 958.6,399.8 957.1,399.9 955.7,399.9 954.2,399.8 952.8,399.9 951.3,399.3 949.9,399.0 948.4,398.6 946.9,397.8 945.5,396.5 944.0,394.5 942.6,393.5 941.1,393.6 939.7,393.2 938.2,393.5 936.8,392.5 935.3,390.2 933.9,387.4 932.4,385.2 930.9,383.3 929.5,380.9 928.0,379.2 926.6,377.5 925.1,375.1 923.7,371.4 922.2,367.5 920.8,364.9 919.3,362.6 917.8,359.4 916.4,356.6 914.9,352.3 913.5,347.2 912.0,343.4 910.6,338.7 909.1,332.4 907.7,325.9 906.2,321.9 904.8,317.0 903.3,311.1 901.8,307.4 900.4,304.4 898.9,301.2 897.5,298.3 896.0,297.8 894.6,298.4 893.1,300.3 891.7,302.0 890.2,303.8 888.7,304.8 887.3,305.2 885.8,307.3 884.4,309.5 882.9,311.8 881.5,313.8 880.0,316.3 878.6,319.7 877.1,322.1 875.7,322.5 874.2,325.1 872.7,326.5 871.3,328.9 869.8,335.0 868.4,338.7 866.9,341.9 865.5,344.2 864.0,346.7 862.6,349.7 861.1,353.0 859.6,357.5 858.2,360.3 856.7,363.1 855.3,366.2 853.8,369.1 852.4,372.8 850.9,373.7 849.5,375.1 848.0,378.2 846.6,379.6 845.1,380.7 843.6,382.7 842.2,384.3 840.7,385.6 839.3,386.5 837.8,388.7 836.4,391.1 834.9,392.2 833.5,393.0 832.0,393.6 830.5,394.9 829.1,396.4 827.6,397.5 826.2,398.6 824.7,400.2 823.3,401.2 821.8,402.0 820.4,402.7 818.9,403.4 817.5,404.9 816.0,405.6 814.5,406.0 813.1,407.4 811.6,408.7 810.2,409.2 808.7,410.6 807.3,412.0 805.8,413.3 804.4,414.6 802.9,414.4 801.4,414.0 800.0,414.7 798.5,415.8 797.1,416.5 795.6,416.4 794.2,416.2 792.7,416.8 791.3,416.5 789.8,416.4 788.4,416.8 786.9,416.2 785.4,415.7 784.0,415.6 782.5,415.8 781.1,414.5 779.6,413.9 778.2,413.7 776.7,412.4 775.3,411.9 773.8,411.9 772.3,411.0 770.9,408.7 769.4,406.7 768.0,405.9 766.5,406.9 765.1,407.2 763.6,406.3 762.2,406.8 760.7,407.3 759.3,406.9 757.8,407.4 756.3,408.3 754.9,409.3 753.4,411.0 752.0,413.0 750.5,416.1 749.1,419.3 747.6,423.0 746.2,426.8 744.7,429.7 743.2,431.7 741.8,431.9 740.3,433.3 738.9,435.6 737.4,436.8 736.0,438.2 734.5,439.4 733.1,440.1 731.6,441.2 730.2,442.5 728.7,442.9 727.2,444.3 725.8,445.5 724.3,445.8 722.9,446.7 721.4,447.3 720.0,448.1 718.5,449.3 717.1,449.5 715.6,450.4Z" fill="#6eb0c4"/><path d="M715.6,446.4 717.1,445.1 718.5,443.7 720.0,444.0 721.4,443.4 722.9,442.3 724.3,442.0 725.8,440.2 727.2,439.6 728.7,439.3 730.2,438.6 731.6,438.3 733.1,437.0 734.5,435.1 736.0,433.1 737.4,431.4 738.9,430.1 740.3,427.7 741.8,425.6 743.2,423.8 744.7,421.9 746.2,419.9 747.6,416.9 749.1,413.5 750.5,411.5 752.0,408.4 753.4,405.2 754.9,404.6 756.3,400.9 757.8,397.8 759.3,398.8 760.7,397.9 762.2,398.7 763.6,397.9 765.1,397.0 766.5,398.8 768.0,398.1 769.4,397.2 770.9,398.3 772.3,399.8 773.8,401.4 775.3,402.2 776.7,402.4 778.2,404.4 779.6,404.6 781.1,404.5 782.5,405.8 784.0,405.8 785.4,407.0 786.9,408.5 788.4,407.6 789.8,407.9 791.3,408.8 792.7,408.9 794.2,409.6 795.6,409.6 797.1,409.8 798.5,409.1 800.0,408.1 801.4,407.2 802.9,406.0 804.4,404.7 805.8,403.0 807.3,401.9 808.7,401.6 810.2,401.9 811.6,402.0 813.1,401.3 814.5,399.3 816.0,397.5 817.5,396.5 818.9,395.5 820.4,395.0 821.8,394.4 823.3,391.9 824.7,389.7 826.2,389.7 827.6,389.0 829.1,386.8 830.5,385.9 832.0,384.4 833.5,382.2 834.9,380.6 836.4,378.1 837.8,377.1 839.3,375.7 840.7,372.9 842.2,371.0 843.6,369.5 845.1,367.5 846.6,364.6 848.0,361.2 849.5,358.4 850.9,355.7 852.4,352.9 853.8,350.8 855.3,347.5 856.7,345.1 858.2,341.9 859.6,337.5 861.1,333.5 862.6,329.3 864.0,326.0 865.5,322.8 866.9,317.3 868.4,313.0 869.8,310.2 871.3,307.2 872.7,304.8 874.2,301.6 875.7,298.9 877.1,298.9 878.6,298.1 880.0,294.9 881.5,293.6 882.9,292.8 884.4,290.0 885.8,286.8 887.3,284.5 888.7,283.3 890.2,281.6 891.7,279.0 893.1,276.5 894.6,274.5 896.0,271.6 897.5,271.2 898.9,273.3 900.4,275.2 901.8,281.0 903.3,289.4 904.8,296.7 906.2,302.6 907.7,309.1 909.1,317.4 910.6,323.0 912.0,326.1 913.5,331.5 914.9,337.2 916.4,341.3 917.8,344.3 919.3,348.3 920.8,352.0 922.2,354.2 923.7,357.5 925.1,361.1 926.6,364.6 928.0,367.5 929.5,369.5 930.9,371.8 932.4,373.9 933.9,375.9 935.3,377.1 936.8,377.9 938.2,381.3 939.7,383.5 941.1,384.7 942.6,386.7 944.0,387.8 945.5,388.7 946.9,390.4 948.4,389.1 949.9,386.2 951.3,385.3 952.8,381.9 954.2,379.5" fill="none" stroke="#388ea9" stroke-width="3.6" stroke-linejoin="round"/><path d="M954.2,379.5 955.7,378.9 957.1,378.8 958.6,377.7 960.0,376.8 961.5,376.7 963.0,376.5 964.4,376.2 965.9,376.0 967.3,375.5 968.8,375.0 970.2,374.7 971.7,374.2 973.1,374.1 974.6,374.0 976.0,373.5 977.5,373.7 979.0,373.8 980.4,372.8 981.9,372.9 983.3,372.9 984.8,372.6 986.2,372.6 987.7,372.4 989.1,372.3 990.6,372.0 992.1,371.8 993.5,372.4 995.0,371.6 996.4,371.0 997.9,371.6 999.3,371.2 1000.8,370.6 1002.2,371.4 1003.7,371.6 1005.1,371.5 1006.6,371.7 1008.1,371.0 1009.5,370.9 1011.0,371.0 1012.4,371.1 1013.9,370.9 1015.3,370.6 1016.8,370.4 1018.2,370.7 1019.7,370.8 1021.2,370.1 1023.3,369.5" fill="none" stroke="#388ea9" stroke-width="2.6" stroke-linejoin="round" stroke-linecap="round"/></g>
<clipPath id="c1_1039"><rect x="1039.4" y="212.3" width="307.7" height="256.3"/></clipPath><g clip-path="url(#c1_1039)"><path d="M1039.4,424.3 1040.9,423.2 1042.3,423.1 1043.8,422.8 1045.2,418.3 1046.7,414.7 1048.1,408.6 1049.6,406.5 1051.0,407.6 1052.5,407.7 1053.9,402.9 1055.4,400.1 1056.9,398.8 1058.3,394.1 1059.8,387.3 1061.2,382.6 1062.7,382.2 1064.1,378.9 1065.6,375.1 1067.0,366.6 1068.5,363.1 1070.0,361.6 1071.4,354.6 1072.9,348.4 1074.3,342.3 1075.8,331.9 1077.2,317.0 1078.7,305.1 1080.1,304.8 1081.6,303.4 1083.0,293.1 1084.5,289.6 1086.0,302.6 1087.4,311.3 1088.9,308.0 1090.3,302.5 1091.8,309.4 1093.2,313.9 1094.7,307.6 1096.1,306.1 1097.6,308.5 1099.1,315.9 1100.5,321.1 1102.0,318.6 1103.4,316.7 1104.9,316.7 1106.3,313.3 1107.8,318.6 1109.2,323.6 1110.7,327.7 1112.1,324.6 1113.6,317.0 1115.1,324.1 1116.5,328.0 1118.0,326.7 1119.4,329.5 1120.9,335.8 1122.3,340.4 1123.8,340.9 1125.2,343.3 1126.7,346.5 1128.2,345.2 1129.6,343.0 1131.1,339.9 1132.5,337.2 1134.0,335.3 1135.4,329.1 1136.9,323.7 1138.3,318.2 1139.8,308.1 1141.2,301.1 1142.7,303.2 1144.2,303.4 1145.6,301.9 1147.1,296.5 1148.5,290.1 1150.0,291.3 1151.4,288.8 1152.9,278.6 1154.3,271.2 1155.8,271.3 1157.3,265.4 1158.7,263.9 1160.2,269.2 1161.6,263.0 1163.1,264.2 1164.5,262.2 1166.0,250.2 1167.4,246.5 1168.9,238.6 1170.3,233.8 1171.8,228.8 1173.3,226.6 1174.7,222.0 1176.2,211.0 1177.6,200.3 1179.1,185.6 1180.5,182.9 1182.0,185.2 1183.4,189.3 1184.9,192.5 1186.4,195.4 1187.8,198.4 1189.3,195.1 1190.7,193.1 1192.2,190.6 1193.6,192.3 1195.1,195.1 1196.5,189.7 1198.0,188.0 1199.4,201.1 1200.9,198.7 1202.4,187.6 1203.8,185.3 1205.3,180.8 1206.7,187.9 1208.2,193.5 1209.6,190.2 1211.1,196.4 1212.5,203.8 1214.0,194.3 1215.5,189.4 1216.9,194.2 1218.4,192.1 1219.8,191.6 1221.3,188.6 1222.7,192.5 1224.2,196.0 1225.6,192.2 1227.1,194.6 1228.5,197.0 1230.0,194.3 1231.5,192.0 1232.9,197.2 1234.4,197.9 1235.8,190.6 1237.3,185.2 1238.7,184.1 1240.2,183.4 1241.6,185.2 1243.1,190.4 1244.6,181.8 1246.0,180.8 1247.5,191.6 1248.9,192.2 1250.4,185.8 1251.8,190.2 1253.3,191.2 1254.7,181.3 1256.2,179.7 1257.6,184.6 1259.1,192.8 1260.6,197.4 1262.0,194.4 1263.5,185.0 1264.9,181.6 1266.4,182.7 1267.8,184.6 1269.3,181.1 1270.7,182.3 1272.2,191.9 1273.7,190.9 1275.1,190.1 1276.6,187.0 1278.0,187.7 1279.5,187.9 1280.9,189.1 1282.4,189.9 1283.8,189.2 1285.3,189.2 1286.7,189.3 1288.2,189.5 1289.7,189.8 1291.1,188.9 1292.6,189.1 1294.0,188.9 1295.5,188.1 1296.9,187.8 1298.4,188.3 1299.8,189.0 1301.3,188.8 1302.8,188.7 1304.2,189.4 1305.7,189.4 1307.1,188.3 1308.6,189.1 1310.0,190.2 1311.5,189.7 1312.9,188.2 1314.4,187.8 1315.8,188.9 1317.3,189.2 1318.8,189.6 1320.2,189.0 1321.7,188.6 1323.1,188.9 1324.6,189.2 1326.0,189.5 1327.5,189.3 1328.9,189.1 1330.4,187.9 1331.9,187.7 1333.3,188.1 1334.8,188.1 1336.2,189.0 1337.7,190.1 1339.1,189.6 1340.6,188.5 1342.0,188.4 1343.5,188.5 1344.9,189.2 1347.1,189.6 L1347.1,449.1 1344.9,448.6 1343.5,448.4 1342.0,448.3 1340.6,448.2 1339.1,448.5 1337.7,449.1 1336.2,448.9 1334.8,448.8 1333.3,449.2 1331.9,448.7 1330.4,448.0 1328.9,448.5 1327.5,448.5 1326.0,448.2 1324.6,448.7 1323.1,448.7 1321.7,448.6 1320.2,448.4 1318.8,448.0 1317.3,447.6 1315.8,447.1 1314.4,447.1 1312.9,446.9 1311.5,447.2 1310.0,447.4 1308.6,447.0 1307.1,447.7 1305.7,447.6 1304.2,447.0 1302.8,447.2 1301.3,446.8 1299.8,446.7 1298.4,446.9 1296.9,446.8 1295.5,446.9 1294.0,447.0 1292.6,447.1 1291.1,446.9 1289.7,446.8 1288.2,446.8 1286.7,446.5 1285.3,446.5 1283.8,446.6 1282.4,446.9 1280.9,447.2 1279.5,446.6 1278.0,446.7 1276.6,447.4 1275.1,443.0 1273.7,442.4 1272.2,443.5 1270.7,445.7 1269.3,445.3 1267.8,444.4 1266.4,444.7 1264.9,441.7 1263.5,437.2 1262.0,435.0 1260.6,432.7 1259.1,432.2 1257.6,433.8 1256.2,431.2 1254.7,426.5 1253.3,423.5 1251.8,420.3 1250.4,417.6 1248.9,415.3 1247.5,412.3 1246.0,407.5 1244.6,403.2 1243.1,400.9 1241.6,397.9 1240.2,394.4 1238.7,387.5 1237.3,379.7 1235.8,374.7 1234.4,368.6 1232.9,360.8 1231.5,355.6 1230.0,349.8 1228.5,342.8 1227.1,336.3 1225.6,328.0 1224.2,323.9 1222.7,320.5 1221.3,317.3 1219.8,315.5 1218.4,316.2 1216.9,317.8 1215.5,320.5 1214.0,322.8 1212.5,326.3 1211.1,329.1 1209.6,332.9 1208.2,336.4 1206.7,339.6 1205.3,344.2 1203.8,347.4 1202.4,349.9 1200.9,351.9 1199.4,355.7 1198.0,359.3 1196.5,362.4 1195.1,366.1 1193.6,369.3 1192.2,371.3 1190.7,371.9 1189.3,375.6 1187.8,378.3 1186.4,382.2 1184.9,385.3 1183.4,387.2 1182.0,388.1 1180.5,389.9 1179.1,393.3 1177.6,395.5 1176.2,398.7 1174.7,400.7 1173.3,401.7 1171.8,401.9 1170.3,404.3 1168.9,408.0 1167.4,408.7 1166.0,408.8 1164.5,410.5 1163.1,412.1 1161.6,412.0 1160.2,412.2 1158.7,413.5 1157.3,416.1 1155.8,417.5 1154.3,417.0 1152.9,419.1 1151.4,420.5 1150.0,419.4 1148.5,420.0 1147.1,421.0 1145.6,420.9 1144.2,421.5 1142.7,423.5 1141.2,424.4 1139.8,424.7 1138.3,425.1 1136.9,425.0 1135.4,425.5 1134.0,427.6 1132.5,428.5 1131.1,427.8 1129.6,428.5 1128.2,429.1 1126.7,430.9 1125.2,432.0 1123.8,432.3 1122.3,433.6 1120.9,432.6 1119.4,432.7 1118.0,434.1 1116.5,432.7 1115.1,431.2 1113.6,431.7 1112.1,430.8 1110.7,430.3 1109.2,431.6 1107.8,432.5 1106.3,432.1 1104.9,430.9 1103.4,430.8 1102.0,430.6 1100.5,431.2 1099.1,430.9 1097.6,428.3 1096.1,428.2 1094.7,429.4 1093.2,428.7 1091.8,428.5 1090.3,428.3 1088.9,427.5 1087.4,427.5 1086.0,427.9 1084.5,426.8 1083.0,424.7 1081.6,424.4 1080.1,425.0 1078.7,427.4 1077.2,429.8 1075.8,431.0 1074.3,431.5 1072.9,432.5 1071.4,435.3 1070.0,437.6 1068.5,439.0 1067.0,441.0 1065.6,442.7 1064.1,443.4 1062.7,445.3 1061.2,446.9 1059.8,448.0 1058.3,448.4 1056.9,448.7 1055.4,449.7 1053.9,451.2 1052.5,452.3 1051.0,452.3 1049.6,452.7 1048.1,453.5 1046.7,453.9 1045.2,454.9 1043.8,455.7 1042.3,455.4 1040.9,456.2 1039.4,456.3Z" fill="#e3eff4"/><path d="M1039.4,437.3 1040.9,438.1 1042.3,437.4 1043.8,435.6 1045.2,435.1 1046.7,434.1 1048.1,432.8 1049.6,432.1 1051.0,431.7 1052.5,429.0 1053.9,426.5 1055.4,425.7 1056.9,424.0 1058.3,422.1 1059.8,419.9 1061.2,418.2 1062.7,415.4 1064.1,411.6 1065.6,408.7 1067.0,405.5 1068.5,402.1 1070.0,399.5 1071.4,396.0 1072.9,391.4 1074.3,387.4 1075.8,382.4 1077.2,378.2 1078.7,375.2 1080.1,373.3 1081.6,371.3 1083.0,369.2 1084.5,370.5 1086.0,372.8 1087.4,371.6 1088.9,373.7 1090.3,376.5 1091.8,375.5 1093.2,377.4 1094.7,378.4 1096.1,377.6 1097.6,380.6 1099.1,381.1 1100.5,379.7 1102.0,382.5 1103.4,382.4 1104.9,382.5 1106.3,384.9 1107.8,388.3 1109.2,388.2 1110.7,387.1 1112.1,389.4 1113.6,390.4 1115.1,389.4 1116.5,390.2 1118.0,391.5 1119.4,391.4 1120.9,391.6 1122.3,391.0 1123.8,389.0 1125.2,386.8 1126.7,383.9 1128.2,382.1 1129.6,382.2 1131.1,381.0 1132.5,379.9 1134.0,378.6 1135.4,379.0 1136.9,380.9 1138.3,378.3 1139.8,375.9 1141.2,375.4 1142.7,375.6 1144.2,375.6 1145.6,374.0 1147.1,372.9 1148.5,372.4 1150.0,371.2 1151.4,371.0 1152.9,370.4 1154.3,369.4 1155.8,369.2 1157.3,368.5 1158.7,367.2 1160.2,365.7 1161.6,363.2 1163.1,360.6 1164.5,358.5 1166.0,355.0 1167.4,351.9 1168.9,349.0 1170.3,343.2 1171.8,337.9 1173.3,333.2 1174.7,328.6 1176.2,322.5 1177.6,314.6 1179.1,309.9 1180.5,308.6 1182.0,304.8 1183.4,298.5 1184.9,294.8 1186.4,287.1 1187.8,281.0 1189.3,275.7 1190.7,266.1 1192.2,257.5 1193.6,250.7 1195.1,245.4 1196.5,242.5 1198.0,240.8 1199.4,243.6 1200.9,242.1 1202.4,237.4 1203.8,234.5 1205.3,231.8 1206.7,235.2 1208.2,233.3 1209.6,226.8 1211.1,224.8 1212.5,219.9 1214.0,218.5 1215.5,208.6 1216.9,196.3 1218.4,196.1 1219.8,192.3 1221.3,188.9 1222.7,192.8 1224.2,210.2 1225.6,220.7 1227.1,227.5 1228.5,241.7 1230.0,256.7 1231.5,262.9 1232.9,264.5 1234.4,274.4 1235.8,283.9 1237.3,289.5 1238.7,295.3 1240.2,298.3 1241.6,302.4 1243.1,308.9 1244.6,315.2 1246.0,313.9 1247.5,313.9 1248.9,322.0 1250.4,325.0 1251.8,322.2 1253.3,323.8 1254.7,326.6 1256.2,327.3 1257.6,327.4 1259.1,327.5 1260.6,327.7 1262.0,328.7 1263.5,328.1 1264.9,327.0 1266.4,328.1 1267.8,331.0 1269.3,332.0 1270.7,329.4 1272.2,329.4 1273.7,327.2 1275.1,322.9 1276.6,316.9 1278.0,308.3 1279.5,303.8 1280.9,298.6 1282.4,293.5 1283.8,288.8 1285.3,283.8 1286.7,277.7 1288.2,270.8 1289.7,263.7 1291.1,257.6 1292.6,251.6 1294.0,244.3 1295.5,235.8 1296.9,228.1 1298.4,220.7 1299.8,212.6 1301.3,204.6 1302.8,194.4 1304.2,190.5 1305.7,190.0 1307.1,189.9 1308.6,190.0 1310.0,190.5 1311.5,191.3 1312.9,191.5 1314.4,191.6 1315.8,191.0 1317.3,191.0 1318.8,191.1 1320.2,191.2 1321.7,191.5 1323.1,190.8 1324.6,190.7 1326.0,190.4 1327.5,190.8 1328.9,190.8 1330.4,190.6 1331.9,190.5 1333.3,190.7 1334.8,190.0 1336.2,190.1 1337.7,190.5 1339.1,190.1 1340.6,190.4 1342.0,190.9 1343.5,190.6 1344.9,190.7 1347.1,189.9 L1347.1,413.0 1344.9,412.4 1343.5,411.6 1342.0,411.7 1340.6,412.4 1339.1,412.1 1337.7,410.7 1336.2,411.4 1334.8,411.7 1333.3,410.5 1331.9,410.7 1330.4,411.3 1328.9,411.4 1327.5,411.1 1326.0,411.1 1324.6,411.0 1323.1,410.6 1321.7,410.3 1320.2,410.1 1318.8,410.9 1317.3,411.2 1315.8,411.2 1314.4,411.4 1312.9,410.9 1311.5,410.8 1310.0,411.0 1308.6,411.2 1307.1,411.5 1305.7,411.2 1304.2,411.1 1302.8,411.1 1301.3,411.3 1299.8,411.2 1298.4,411.1 1296.9,411.0 1295.5,411.4 1294.0,411.9 1292.6,411.7 1291.1,411.8 1289.7,411.9 1288.2,412.3 1286.7,412.3 1285.3,412.6 1283.8,413.1 1282.4,413.3 1280.9,413.6 1279.5,413.8 1278.0,414.5 1276.6,416.2 1275.1,417.1 1273.7,415.9 1272.2,414.0 1270.7,415.9 1269.3,416.0 1267.8,415.5 1266.4,413.9 1264.9,413.0 1263.5,412.2 1262.0,410.5 1260.6,409.0 1259.1,408.4 1257.6,409.0 1256.2,406.3 1254.7,403.8 1253.3,402.4 1251.8,398.9 1250.4,397.6 1248.9,397.4 1247.5,394.0 1246.0,391.7 1244.6,390.9 1243.1,388.8 1241.6,383.5 1240.2,378.7 1238.7,374.5 1237.3,369.1 1235.8,363.9 1234.4,357.7 1232.9,355.2 1231.5,351.7 1230.0,345.5 1228.5,342.5 1227.1,336.0 1225.6,326.8 1224.2,320.3 1222.7,313.7 1221.3,310.3 1219.8,311.8 1218.4,313.6 1216.9,317.1 1215.5,320.2 1214.0,319.7 1212.5,322.8 1211.1,327.0 1209.6,327.8 1208.2,328.5 1206.7,330.2 1205.3,333.6 1203.8,333.9 1202.4,336.6 1200.9,341.3 1199.4,341.2 1198.0,342.9 1196.5,344.5 1195.1,346.1 1193.6,348.5 1192.2,350.2 1190.7,355.1 1189.3,360.3 1187.8,362.5 1186.4,360.8 1184.9,363.2 1183.4,368.3 1182.0,371.6 1180.5,374.4 1179.1,376.1 1177.6,378.6 1176.2,382.6 1174.7,385.5 1173.3,387.9 1171.8,390.8 1170.3,393.2 1168.9,395.9 1167.4,397.0 1166.0,396.6 1164.5,398.1 1163.1,400.1 1161.6,400.7 1160.2,403.4 1158.7,404.8 1157.3,404.5 1155.8,406.1 1154.3,407.6 1152.9,407.7 1151.4,408.1 1150.0,409.8 1148.5,411.2 1147.1,412.0 1145.6,413.1 1144.2,413.7 1142.7,414.2 1141.2,415.3 1139.8,416.3 1138.3,416.8 1136.9,417.1 1135.4,417.7 1134.0,419.1 1132.5,420.8 1131.1,422.3 1129.6,423.3 1128.2,423.5 1126.7,424.1 1125.2,424.5 1123.8,424.2 1122.3,424.2 1120.9,425.6 1119.4,426.6 1118.0,426.4 1116.5,425.9 1115.1,426.0 1113.6,425.4 1112.1,424.9 1110.7,425.0 1109.2,424.7 1107.8,424.2 1106.3,423.6 1104.9,423.1 1103.4,421.7 1102.0,421.1 1100.5,420.8 1099.1,420.0 1097.6,420.5 1096.1,419.6 1094.7,418.9 1093.2,419.2 1091.8,418.3 1090.3,417.1 1088.9,416.6 1087.4,416.0 1086.0,416.0 1084.5,416.2 1083.0,416.3 1081.6,417.0 1080.1,417.6 1078.7,418.2 1077.2,419.7 1075.8,422.7 1074.3,426.1 1072.9,428.6 1071.4,429.9 1070.0,433.3 1068.5,435.3 1067.0,435.5 1065.6,437.6 1064.1,439.8 1062.7,441.2 1061.2,442.4 1059.8,443.9 1058.3,444.5 1056.9,445.4 1055.4,446.3 1053.9,446.4 1052.5,447.6 1051.0,449.4 1049.6,450.8 1048.1,450.9 1046.7,450.9 1045.2,451.7 1043.8,452.7 1042.3,453.3 1040.9,453.0 1039.4,452.8Z" fill="#a9d0dc"/><path d="M1039.4,443.0 1040.9,443.3 1042.3,442.7 1043.8,442.1 1045.2,442.0 1046.7,441.4 1048.1,439.8 1049.6,438.2 1051.0,437.0 1052.5,436.4 1053.9,435.7 1055.4,434.2 1056.9,432.5 1058.3,430.5 1059.8,429.2 1061.2,427.7 1062.7,425.1 1064.1,422.7 1065.6,420.6 1067.0,418.0 1068.5,414.7 1070.0,411.1 1071.4,408.6 1072.9,406.5 1074.3,403.4 1075.8,400.1 1077.2,397.0 1078.7,394.9 1080.1,392.4 1081.6,389.7 1083.0,388.4 1084.5,388.2 1086.0,389.1 1087.4,389.3 1088.9,389.0 1090.3,389.8 1091.8,391.6 1093.2,392.4 1094.7,393.1 1096.1,393.5 1097.6,393.2 1099.1,393.1 1100.5,393.6 1102.0,395.7 1103.4,396.7 1104.9,397.0 1106.3,397.9 1107.8,398.2 1109.2,398.4 1110.7,399.1 1112.1,400.2 1113.6,400.9 1115.1,401.2 1116.5,401.3 1118.0,400.8 1119.4,400.5 1120.9,400.0 1122.3,400.0 1123.8,398.6 1125.2,397.0 1126.7,398.4 1128.2,397.3 1129.6,394.7 1131.1,394.1 1132.5,394.4 1134.0,393.5 1135.4,392.3 1136.9,391.5 1138.3,390.1 1139.8,390.7 1141.2,390.1 1142.7,387.4 1144.2,386.3 1145.6,385.9 1147.1,385.5 1148.5,384.8 1150.0,383.7 1151.4,381.8 1152.9,381.0 1154.3,380.6 1155.8,379.3 1157.3,377.7 1158.7,376.4 1160.2,375.4 1161.6,374.0 1163.1,371.6 1164.5,369.2 1166.0,367.2 1167.4,363.7 1168.9,360.3 1170.3,357.2 1171.8,354.3 1173.3,349.4 1174.7,344.5 1176.2,340.7 1177.6,336.4 1179.1,333.8 1180.5,329.9 1182.0,325.8 1183.4,321.9 1184.9,319.0 1186.4,315.7 1187.8,310.2 1189.3,302.0 1190.7,292.9 1192.2,287.8 1193.6,283.6 1195.1,279.6 1196.5,278.0 1198.0,275.2 1199.4,274.1 1200.9,273.7 1202.4,272.0 1203.8,270.1 1205.3,268.8 1206.7,267.1 1208.2,265.2 1209.6,263.4 1211.1,259.3 1212.5,254.9 1214.0,252.3 1215.5,247.3 1216.9,246.3 1218.4,247.9 1219.8,246.6 1221.3,247.2 1222.7,250.8 1224.2,257.2 1225.6,264.7 1227.1,272.0 1228.5,276.9 1230.0,280.9 1231.5,288.5 1232.9,294.5 1234.4,301.2 1235.8,308.0 1237.3,311.4 1238.7,316.9 1240.2,323.0 1241.6,325.3 1243.1,328.9 1244.6,333.2 1246.0,336.3 1247.5,339.0 1248.9,339.5 1250.4,342.8 1251.8,347.0 1253.3,350.2 1254.7,352.6 1256.2,352.9 1257.6,352.5 1259.1,352.4 1260.6,353.1 1262.0,353.4 1263.5,354.0 1264.9,353.0 1266.4,354.0 1267.8,356.9 1269.3,359.7 1270.7,360.8 1272.2,357.8 1273.7,355.4 1275.1,350.7 1276.6,345.1 1278.0,342.6 1279.5,340.0 1280.9,337.7 1282.4,335.0 1283.8,332.5 1285.3,330.3 1286.7,327.8 1288.2,324.8 1289.7,321.6 1291.1,318.3 1292.6,315.2 1294.0,312.0 1295.5,308.3 1296.9,304.2 1298.4,300.6 1299.8,296.6 1301.3,292.2 1302.8,287.9 1304.2,283.0 1305.7,278.2 1307.1,272.2 1308.6,265.5 1310.0,258.4 1311.5,251.4 1312.9,245.5 1314.4,239.9 1315.8,233.8 1317.3,227.9 1318.8,221.5 1320.2,215.1 1321.7,209.3 1323.1,199.9 1324.6,191.7 1326.0,190.7 1327.5,191.1 1328.9,191.1 1330.4,190.9 1331.9,190.8 1333.3,191.0 1334.8,191.1 1336.2,191.0 1337.7,190.8 1339.1,190.4 1340.6,191.4 1342.0,191.2 1343.5,190.9 1344.9,191.0 1347.1,190.2 L1347.1,378.0 1344.9,378.7 1343.5,378.6 1342.0,378.5 1340.6,378.6 1339.1,378.8 1337.7,379.1 1336.2,379.5 1334.8,379.7 1333.3,379.5 1331.9,379.9 1330.4,380.3 1328.9,380.3 1327.5,381.0 1326.0,381.3 1324.6,380.8 1323.1,381.3 1321.7,381.8 1320.2,382.0 1318.8,382.5 1317.3,383.1 1315.8,383.2 1314.4,383.2 1312.9,383.6 1311.5,384.2 1310.0,384.6 1308.6,385.1 1307.1,385.7 1305.7,385.8 1304.2,386.2 1302.8,386.6 1301.3,387.1 1299.8,387.7 1298.4,387.9 1296.9,388.2 1295.5,388.5 1294.0,388.9 1292.6,389.4 1291.1,389.6 1289.7,390.2 1288.2,390.6 1286.7,391.1 1285.3,391.9 1283.8,392.6 1282.4,393.2 1280.9,394.2 1279.5,395.1 1278.0,396.2 1276.6,397.2 1275.1,398.1 1273.7,401.1 1272.2,403.6 1270.7,404.3 1269.3,404.9 1267.8,403.3 1266.4,400.8 1264.9,399.2 1263.5,397.9 1262.0,398.0 1260.6,396.9 1259.1,394.9 1257.6,392.1 1256.2,391.6 1254.7,389.7 1253.3,387.8 1251.8,386.3 1250.4,382.5 1248.9,379.9 1247.5,377.6 1246.0,376.2 1244.6,373.9 1243.1,371.6 1241.6,369.0 1240.2,363.9 1238.7,360.1 1237.3,358.5 1235.8,354.2 1234.4,348.4 1232.9,344.5 1231.5,339.8 1230.0,334.5 1228.5,330.9 1227.1,325.6 1225.6,319.1 1224.2,313.5 1222.7,308.4 1221.3,306.2 1219.8,307.6 1218.4,309.1 1216.9,309.6 1215.5,310.6 1214.0,313.8 1212.5,317.0 1211.1,318.8 1209.6,321.8 1208.2,323.1 1206.7,325.1 1205.3,328.3 1203.8,329.1 1202.4,329.2 1200.9,330.7 1199.4,330.4 1198.0,328.8 1196.5,329.7 1195.1,330.4 1193.6,331.5 1192.2,335.6 1190.7,338.7 1189.3,341.8 1187.8,345.7 1186.4,348.1 1184.9,351.4 1183.4,355.6 1182.0,359.6 1180.5,363.8 1179.1,367.0 1177.6,368.8 1176.2,370.4 1174.7,373.6 1173.3,377.3 1171.8,380.6 1170.3,383.5 1168.9,386.4 1167.4,388.3 1166.0,389.2 1164.5,391.4 1163.1,393.4 1161.6,394.4 1160.2,396.0 1158.7,397.7 1157.3,398.3 1155.8,398.3 1154.3,398.7 1152.9,399.6 1151.4,400.8 1150.0,402.4 1148.5,403.5 1147.1,403.7 1145.6,404.6 1144.2,406.6 1142.7,408.4 1141.2,408.9 1139.8,409.0 1138.3,410.5 1136.9,411.0 1135.4,411.7 1134.0,413.4 1132.5,414.1 1131.1,414.7 1129.6,415.5 1128.2,416.9 1126.7,417.1 1125.2,417.4 1123.8,419.5 1122.3,420.6 1120.9,421.3 1119.4,421.1 1118.0,420.6 1116.5,420.8 1115.1,420.9 1113.6,421.2 1112.1,420.6 1110.7,419.8 1109.2,419.0 1107.8,418.5 1106.3,417.6 1104.9,416.6 1103.4,416.9 1102.0,416.3 1100.5,415.3 1099.1,414.7 1097.6,414.5 1096.1,413.7 1094.7,412.8 1093.2,412.4 1091.8,412.5 1090.3,412.3 1088.9,411.5 1087.4,410.2 1086.0,410.4 1084.5,411.7 1083.0,411.4 1081.6,411.6 1080.1,413.4 1078.7,415.4 1077.2,416.7 1075.8,418.5 1074.3,421.0 1072.9,423.4 1071.4,425.5 1070.0,428.1 1068.5,430.8 1067.0,432.9 1065.6,433.9 1064.1,435.1 1062.7,437.3 1061.2,438.4 1059.8,439.7 1058.3,440.3 1056.9,441.0 1055.4,442.8 1053.9,444.5 1052.5,445.7 1051.0,446.1 1049.6,447.1 1048.1,447.5 1046.7,447.5 1045.2,449.0 1043.8,450.4 1042.3,450.2 1040.9,451.0 1039.4,451.6Z" fill="#6eb0c4"/><path d="M1039.4,445.5 1040.9,446.4 1042.3,446.2 1043.8,446.0 1045.2,444.5 1046.7,443.4 1048.1,442.9 1049.6,441.8 1051.0,441.4 1052.5,440.6 1053.9,439.0 1055.4,437.6 1056.9,436.2 1058.3,434.2 1059.8,433.8 1061.2,433.0 1062.7,430.3 1064.1,428.1 1065.6,427.0 1067.0,426.3 1068.5,424.8 1070.0,422.4 1071.4,418.6 1072.9,415.6 1074.3,414.2 1075.8,411.9 1077.2,409.6 1078.7,407.4 1080.1,406.1 1081.6,405.4 1083.0,404.0 1084.5,402.9 1086.0,404.2 1087.4,404.9 1088.9,404.9 1090.3,406.6 1091.8,406.0 1093.2,405.7 1094.7,406.5 1096.1,407.2 1097.6,408.2 1099.1,409.6 1100.5,410.3 1102.0,409.9 1103.4,410.8 1104.9,411.2 1106.3,411.2 1107.8,413.1 1109.2,413.6 1110.7,412.9 1112.1,413.9 1113.6,414.1 1115.1,413.5 1116.5,414.8 1118.0,415.6 1119.4,414.7 1120.9,414.4 1122.3,413.4 1123.8,412.0 1125.2,411.5 1126.7,412.1 1128.2,411.3 1129.6,409.5 1131.1,407.5 1132.5,406.3 1134.0,405.6 1135.4,405.2 1136.9,404.8 1138.3,403.5 1139.8,402.7 1141.2,401.3 1142.7,399.5 1144.2,399.0 1145.6,397.8 1147.1,395.7 1148.5,395.1 1150.0,394.1 1151.4,393.2 1152.9,393.0 1154.3,392.0 1155.8,390.6 1157.3,389.5 1158.7,388.7 1160.2,386.5 1161.6,384.7 1163.1,383.4 1164.5,380.5 1166.0,378.7 1167.4,376.7 1168.9,374.4 1170.3,372.3 1171.8,367.6 1173.3,363.3 1174.7,361.6 1176.2,358.1 1177.6,354.0 1179.1,350.0 1180.5,344.9 1182.0,340.7 1183.4,338.2 1184.9,335.6 1186.4,331.2 1187.8,326.7 1189.3,322.8 1190.7,317.4 1192.2,313.1 1193.6,312.0 1195.1,311.9 1196.5,310.0 1198.0,309.1 1199.4,308.0 1200.9,305.7 1202.4,303.5 1203.8,303.1 1205.3,302.5 1206.7,301.5 1208.2,300.0 1209.6,296.5 1211.1,292.8 1212.5,290.9 1214.0,289.2 1215.5,285.9 1216.9,282.2 1218.4,280.1 1219.8,279.8 1221.3,278.0 1222.7,279.3 1224.2,285.7 1225.6,291.9 1227.1,297.5 1228.5,304.0 1230.0,309.8 1231.5,314.3 1232.9,319.5 1234.4,323.6 1235.8,328.3 1237.3,334.7 1238.7,339.5 1240.2,342.7 1241.6,346.7 1243.1,349.9 1244.6,353.1 1246.0,357.7 1247.5,361.0 1248.9,362.9 1250.4,365.3 1251.8,368.8 1253.3,370.2 1254.7,371.6 1256.2,373.0 1257.6,373.6 1259.1,376.7 1260.6,379.6 1262.0,381.2 1263.5,382.6 1264.9,383.9 1266.4,386.1 1267.8,388.6 1269.3,389.2 1270.7,387.9 1272.2,387.2 1273.7,385.5 1275.1,382.2 1276.6,379.8 1278.0,378.3" fill="none" stroke="#388ea9" stroke-width="3.6" stroke-linejoin="round"/><path d="M1278.0,378.3 1279.5,376.7 1280.9,374.8 1282.4,372.9 1283.8,371.3 1285.3,370.3 1286.7,369.1 1288.2,368.1 1289.7,366.6 1291.1,365.8 1292.6,364.5 1294.0,362.8 1295.5,362.0 1296.9,360.6 1298.4,359.5 1299.8,358.7 1301.3,357.2 1302.8,356.2 1304.2,354.9 1305.7,353.1 1307.1,351.5 1308.6,349.5 1310.0,348.1 1311.5,346.9 1312.9,345.3 1314.4,343.9 1315.8,341.6 1317.3,339.2 1318.8,337.4 1320.2,336.0 1321.7,334.2 1323.1,331.5 1324.6,329.1 1326.0,327.1 1327.5,324.8 1328.9,322.1 1330.4,319.0 1331.9,316.5 1333.3,314.4 1334.8,311.5 1336.2,309.1 1337.7,306.4 1339.1,303.5 1340.6,301.2 1342.0,298.8 1343.5,296.0 1344.9,293.4 1347.1,289.7" fill="none" stroke="#388ea9" stroke-width="2.6" stroke-linejoin="round" stroke-linecap="round"/></g>
<clipPath id="c1_1363"><rect x="1363.2" y="212.3" width="307.7" height="256.3"/></clipPath><g clip-path="url(#c1_1363)"><path d="M1363.2,420.2 1364.7,420.6 1366.1,421.2 1367.6,416.8 1369.0,415.2 1370.5,413.3 1371.9,408.6 1373.4,407.3 1374.8,405.9 1376.3,401.9 1377.7,399.1 1379.2,396.1 1380.7,393.5 1382.1,391.7 1383.6,389.4 1385.0,385.0 1386.5,377.3 1387.9,371.4 1389.4,368.9 1390.8,370.0 1392.3,367.7 1393.8,358.2 1395.2,353.3 1396.7,346.7 1398.1,341.1 1399.6,337.0 1401.0,330.0 1402.5,324.6 1403.9,312.4 1405.4,306.6 1406.8,307.8 1408.3,315.3 1409.8,326.6 1411.2,336.1 1412.7,331.2 1414.1,315.3 1415.6,308.1 1417.0,315.1 1418.5,322.5 1419.9,327.5 1421.4,337.1 1422.9,338.4 1424.3,342.8 1425.8,349.3 1427.2,345.9 1428.7,343.3 1430.1,342.5 1431.6,341.4 1433.0,345.9 1434.5,351.0 1435.9,351.4 1437.4,351.2 1438.9,349.6 1440.3,350.2 1441.8,348.4 1443.2,347.8 1444.7,353.9 1446.1,356.3 1447.6,351.5 1449.0,347.1 1450.5,349.9 1452.0,353.1 1453.4,345.8 1454.9,339.8 1456.3,341.6 1457.8,342.9 1459.2,337.8 1460.7,333.6 1462.1,331.5 1463.6,331.5 1465.0,328.8 1466.5,317.2 1468.0,310.3 1469.4,309.8 1470.9,310.0 1472.3,301.4 1473.8,298.1 1475.2,295.6 1476.7,290.5 1478.1,288.1 1479.6,282.6 1481.1,279.1 1482.5,273.6 1484.0,271.2 1485.4,272.0 1486.9,263.7 1488.3,251.2 1489.8,250.4 1491.2,242.3 1492.7,227.4 1494.1,234.4 1495.6,241.3 1497.1,239.1 1498.5,232.3 1500.0,219.7 1501.4,213.8 1502.9,214.5 1504.3,206.1 1505.8,191.9 1507.2,181.2 1508.7,178.6 1510.2,187.3 1511.6,193.6 1513.1,185.8 1514.5,179.8 1516.0,182.1 1517.4,188.5 1518.9,186.1 1520.3,183.3 1521.8,179.5 1523.2,175.3 1524.7,185.3 1526.2,193.7 1527.6,187.6 1529.1,181.3 1530.5,188.6 1532.0,190.0 1533.4,185.3 1534.9,188.5 1536.3,191.0 1537.8,193.0 1539.3,194.9 1540.7,189.3 1542.2,186.4 1543.6,188.1 1545.1,184.2 1546.5,181.2 1548.0,188.6 1549.4,186.4 1550.9,186.4 1552.3,193.5 1553.8,189.1 1555.3,190.1 1556.7,192.5 1558.2,195.1 1559.6,191.7 1561.1,186.1 1562.5,186.7 1564.0,194.9 1565.4,199.6 1566.9,188.6 1568.4,183.7 1569.8,184.5 1571.3,185.9 1572.7,189.5 1574.2,198.3 1575.6,190.4 1577.1,185.5 1578.5,194.3 1580.0,187.5 1581.4,185.3 1582.9,186.1 1584.4,186.8 1585.8,192.7 1587.3,186.6 1588.7,187.8 1590.2,192.2 1591.6,193.0 1593.1,196.0 1594.5,195.0 1596.0,195.6 1597.5,195.0 1598.9,193.0 1600.4,185.6 1601.8,188.8 1603.3,189.5 1604.7,190.2 1606.2,188.9 1607.6,187.8 1609.1,189.3 1610.5,188.8 1612.0,188.2 1613.5,189.7 1614.9,190.5 1616.4,189.1 1617.8,189.1 1619.3,190.1 1620.7,189.8 1622.2,189.4 1623.6,189.1 1625.1,188.6 1626.6,188.2 1628.0,189.0 1629.5,189.3 1630.9,189.8 1632.4,189.6 1633.8,187.6 1635.3,187.6 1636.7,188.8 1638.2,189.2 1639.6,189.1 1641.1,188.5 1642.6,189.2 1644.0,189.2 1645.5,188.9 1646.9,189.0 1648.4,188.3 1649.8,189.0 1651.3,188.5 1652.7,187.6 1654.2,188.7 1655.7,188.9 1657.1,189.0 1658.6,189.1 1660.0,188.7 1661.5,189.3 1662.9,189.4 1664.4,188.8 1665.8,188.6 1667.3,188.5 1668.7,188.9 1670.9,189.1 L1670.9,455.9 1668.7,455.4 1667.3,454.9 1665.8,455.4 1664.4,455.2 1662.9,454.9 1661.5,454.3 1660.0,454.3 1658.6,454.0 1657.1,453.5 1655.7,453.8 1654.2,453.6 1652.7,453.5 1651.3,453.4 1649.8,453.1 1648.4,453.0 1646.9,452.7 1645.5,452.1 1644.0,451.9 1642.6,451.6 1641.1,450.9 1639.6,450.7 1638.2,450.9 1636.7,450.9 1635.3,451.1 1633.8,450.8 1632.4,450.1 1630.9,449.6 1629.5,449.6 1628.0,449.7 1626.6,448.6 1625.1,448.0 1623.6,448.2 1622.2,447.9 1620.7,447.8 1619.3,447.6 1617.8,447.4 1616.4,446.6 1614.9,445.9 1613.5,445.6 1612.0,445.9 1610.5,445.6 1609.1,444.8 1607.6,444.9 1606.2,444.6 1604.7,443.8 1603.3,442.9 1601.8,442.5 1600.4,442.7 1598.9,440.7 1597.5,439.8 1596.0,444.2 1594.5,445.2 1593.1,442.8 1591.6,437.1 1590.2,437.6 1588.7,441.4 1587.3,440.4 1585.8,437.7 1584.4,433.4 1582.9,431.0 1581.4,429.1 1580.0,429.3 1578.5,425.6 1577.1,420.1 1575.6,418.0 1574.2,414.7 1572.7,410.9 1571.3,406.8 1569.8,404.1 1568.4,403.6 1566.9,398.5 1565.4,391.6 1564.0,386.8 1562.5,381.3 1561.1,374.6 1559.6,369.1 1558.2,364.2 1556.7,359.5 1555.3,356.8 1553.8,351.3 1552.3,343.2 1550.9,336.7 1549.4,329.2 1548.0,321.6 1546.5,316.0 1545.1,315.3 1543.6,316.7 1542.2,319.5 1540.7,325.7 1539.3,329.6 1537.8,335.2 1536.3,341.8 1534.9,348.5 1533.4,353.3 1532.0,357.0 1530.5,361.0 1529.1,367.0 1527.6,371.5 1526.2,373.1 1524.7,379.0 1523.2,380.0 1521.8,379.6 1520.3,385.0 1518.9,389.6 1517.4,393.7 1516.0,396.3 1514.5,401.8 1513.1,404.1 1511.6,405.9 1510.2,410.1 1508.7,414.2 1507.2,420.0 1505.8,422.6 1504.3,423.1 1502.9,425.8 1501.4,431.1 1500.0,434.6 1498.5,437.0 1497.1,443.7 1495.6,449.1 1494.1,447.1 1492.7,445.4 1491.2,444.0 1489.8,444.0 1488.3,447.1 1486.9,447.6 1485.4,447.7 1484.0,446.3 1482.5,441.3 1481.1,441.0 1479.6,441.2 1478.1,440.2 1476.7,441.3 1475.2,442.3 1473.8,441.8 1472.3,441.0 1470.9,439.3 1469.4,436.0 1468.0,434.1 1466.5,433.4 1465.0,434.2 1463.6,435.1 1462.1,435.5 1460.7,435.2 1459.2,435.1 1457.8,435.2 1456.3,436.8 1454.9,436.3 1453.4,433.8 1452.0,434.4 1450.5,435.6 1449.0,435.4 1447.6,435.5 1446.1,437.3 1444.7,437.4 1443.2,437.1 1441.8,437.4 1440.3,436.2 1438.9,436.0 1437.4,436.3 1435.9,434.3 1434.5,434.6 1433.0,434.2 1431.6,431.7 1430.1,431.5 1428.7,432.5 1427.2,432.8 1425.8,433.0 1424.3,433.2 1422.9,432.5 1421.4,431.8 1419.9,431.7 1418.5,430.5 1417.0,429.6 1415.6,429.7 1414.1,429.2 1412.7,429.1 1411.2,429.4 1409.8,429.8 1408.3,429.2 1406.8,429.5 1405.4,430.6 1403.9,430.8 1402.5,431.5 1401.0,433.0 1399.6,434.1 1398.1,434.7 1396.7,435.5 1395.2,436.8 1393.8,438.6 1392.3,440.2 1390.8,442.4 1389.4,444.5 1387.9,445.4 1386.5,446.7 1385.0,448.7 1383.6,449.4 1382.1,449.7 1380.7,450.4 1379.2,451.3 1377.7,451.5 1376.3,452.0 1374.8,453.5 1373.4,454.0 1371.9,454.5 1370.5,455.2 1369.0,455.0 1367.6,455.3 1366.1,455.9 1364.7,455.8 1363.2,456.2Z" fill="#e3eff4"/><path d="M1363.2,437.6 1364.7,437.0 1366.1,437.6 1367.6,437.6 1369.0,436.5 1370.5,435.1 1371.9,433.8 1373.4,432.8 1374.8,431.4 1376.3,430.6 1377.7,428.2 1379.2,425.4 1380.7,423.6 1382.1,419.6 1383.6,416.8 1385.0,416.5 1386.5,414.9 1387.9,411.3 1389.4,408.2 1390.8,406.1 1392.3,401.3 1393.8,398.0 1395.2,396.6 1396.7,392.7 1398.1,387.0 1399.6,384.8 1401.0,382.3 1402.5,377.1 1403.9,373.5 1405.4,368.4 1406.8,367.2 1408.3,369.1 1409.8,370.3 1411.2,371.2 1412.7,370.3 1414.1,370.2 1415.6,370.7 1417.0,369.4 1418.5,372.4 1419.9,374.3 1421.4,373.3 1422.9,377.4 1424.3,381.3 1425.8,382.7 1427.2,383.7 1428.7,385.3 1430.1,387.2 1431.6,388.5 1433.0,388.5 1434.5,389.2 1435.9,390.8 1437.4,391.7 1438.9,389.0 1440.3,388.0 1441.8,389.8 1443.2,389.9 1444.7,390.0 1446.1,390.0 1447.6,389.2 1449.0,387.2 1450.5,385.4 1452.0,385.7 1453.4,383.9 1454.9,381.7 1456.3,382.3 1457.8,381.2 1459.2,377.1 1460.7,375.9 1462.1,376.1 1463.6,374.5 1465.0,374.5 1466.5,373.9 1468.0,371.6 1469.4,370.8 1470.9,370.3 1472.3,368.5 1473.8,367.4 1475.2,366.7 1476.7,365.5 1478.1,364.3 1479.6,364.0 1481.1,362.9 1482.5,360.9 1484.0,361.7 1485.4,360.9 1486.9,357.4 1488.3,354.8 1489.8,351.9 1491.2,348.9 1492.7,345.7 1494.1,341.2 1495.6,337.9 1497.1,333.5 1498.5,328.9 1500.0,322.8 1501.4,315.7 1502.9,314.2 1504.3,310.5 1505.8,303.7 1507.2,299.2 1508.7,293.2 1510.2,286.9 1511.6,277.7 1513.1,268.1 1514.5,262.3 1516.0,257.5 1517.4,256.4 1518.9,250.8 1520.3,249.7 1521.8,248.2 1523.2,239.2 1524.7,233.9 1526.2,238.8 1527.6,240.9 1529.1,233.9 1530.5,229.6 1532.0,225.6 1533.4,226.9 1534.9,226.2 1536.3,225.1 1537.8,223.1 1539.3,212.5 1540.7,211.4 1542.2,206.3 1543.6,192.0 1545.1,196.6 1546.5,196.6 1548.0,201.5 1549.4,221.8 1550.9,232.4 1552.3,244.9 1553.8,254.1 1555.3,263.2 1556.7,272.5 1558.2,276.6 1559.6,281.6 1561.1,287.5 1562.5,291.0 1564.0,296.0 1565.4,300.0 1566.9,303.1 1568.4,305.1 1569.8,307.2 1571.3,311.7 1572.7,312.7 1574.2,313.6 1575.6,315.6 1577.1,318.4 1578.5,319.2 1580.0,319.8 1581.4,323.9 1582.9,324.5 1584.4,320.2 1585.8,319.9 1587.3,324.1 1588.7,323.4 1590.2,323.4 1591.6,324.9 1593.1,323.6 1594.5,321.8 1596.0,319.9 1597.5,318.5 1598.9,312.9 1600.4,305.5 1601.8,296.4 1603.3,287.6 1604.7,278.4 1606.2,269.6 1607.6,259.9 1609.1,249.9 1610.5,239.8 1612.0,228.5 1613.5,216.7 1614.9,204.3 1616.4,191.3 1617.8,191.0 1619.3,191.5 1620.7,190.6 1622.2,190.5 1623.6,190.7 1625.1,191.3 1626.6,191.6 1628.0,190.8 1629.5,191.0 1630.9,191.1 1632.4,191.0 1633.8,191.7 1635.3,190.2 1636.7,189.8 1638.2,190.3 1639.6,190.5 1641.1,190.6 1642.6,190.4 1644.0,190.6 1645.5,190.8 1646.9,190.2 1648.4,190.1 1649.8,190.4 1651.3,190.9 1652.7,191.2 1654.2,190.9 1655.7,190.7 1657.1,190.9 1658.6,191.3 1660.0,191.1 1661.5,190.8 1662.9,191.0 1664.4,190.8 1665.8,190.7 1667.3,190.9 1668.7,190.8 1670.9,190.8 L1670.9,402.5 1668.7,402.6 1667.3,402.0 1665.8,402.6 1664.4,403.5 1662.9,403.2 1661.5,403.1 1660.0,404.0 1658.6,404.1 1657.1,404.5 1655.7,404.4 1654.2,404.3 1652.7,405.3 1651.3,404.9 1649.8,404.3 1648.4,405.5 1646.9,405.4 1645.5,404.7 1644.0,405.2 1642.6,405.4 1641.1,404.9 1639.6,404.2 1638.2,404.8 1636.7,405.2 1635.3,404.8 1633.8,405.3 1632.4,405.5 1630.9,405.8 1629.5,406.3 1628.0,406.0 1626.6,405.8 1625.1,405.7 1623.6,405.8 1622.2,406.2 1620.7,406.3 1619.3,406.5 1617.8,406.6 1616.4,406.6 1614.9,406.9 1613.5,407.0 1612.0,407.1 1610.5,407.4 1609.1,407.3 1607.6,407.4 1606.2,407.9 1604.7,408.0 1603.3,408.4 1601.8,408.8 1600.4,408.7 1598.9,412.0 1597.5,415.6 1596.0,417.1 1594.5,413.8 1593.1,412.6 1591.6,412.8 1590.2,412.3 1588.7,411.6 1587.3,411.0 1585.8,410.2 1584.4,408.2 1582.9,404.6 1581.4,403.0 1580.0,402.7 1578.5,399.8 1577.1,398.4 1575.6,398.4 1574.2,399.0 1572.7,398.0 1571.3,394.4 1569.8,391.2 1568.4,387.0 1566.9,384.5 1565.4,381.3 1564.0,376.7 1562.5,375.9 1561.1,373.5 1559.6,368.8 1558.2,363.9 1556.7,359.2 1555.3,356.5 1553.8,351.0 1552.3,342.9 1550.9,336.4 1549.4,328.9 1548.0,321.3 1546.5,315.7 1545.1,314.8 1543.6,316.4 1542.2,319.0 1540.7,322.3 1539.3,324.1 1537.8,325.9 1536.3,329.6 1534.9,332.0 1533.4,333.4 1532.0,334.3 1530.5,336.2 1529.1,340.6 1527.6,342.7 1526.2,344.7 1524.7,346.5 1523.2,348.6 1521.8,349.7 1520.3,350.0 1518.9,354.0 1517.4,357.3 1516.0,357.3 1514.5,359.7 1513.1,363.6 1511.6,366.4 1510.2,368.9 1508.7,369.3 1507.2,371.5 1505.8,375.4 1504.3,378.3 1502.9,380.2 1501.4,382.5 1500.0,386.1 1498.5,389.2 1497.1,392.0 1495.6,395.7 1494.1,395.5 1492.7,395.4 1491.2,399.0 1489.8,401.3 1488.3,402.2 1486.9,402.7 1485.4,403.7 1484.0,405.5 1482.5,407.0 1481.1,407.3 1479.6,407.4 1478.1,407.6 1476.7,407.6 1475.2,409.7 1473.8,410.6 1472.3,410.2 1470.9,411.3 1469.4,411.9 1468.0,413.6 1466.5,414.5 1465.0,415.2 1463.6,416.7 1462.1,418.2 1460.7,417.9 1459.2,418.9 1457.8,421.3 1456.3,420.8 1454.9,422.7 1453.4,423.6 1452.0,423.8 1450.5,425.8 1449.0,425.3 1447.6,425.4 1446.1,427.5 1444.7,427.1 1443.2,427.0 1441.8,427.4 1440.3,427.4 1438.9,428.0 1437.4,427.6 1435.9,426.0 1434.5,425.4 1433.0,425.6 1431.6,423.7 1430.1,422.7 1428.7,422.7 1427.2,423.0 1425.8,422.8 1424.3,420.5 1422.9,417.9 1421.4,417.8 1419.9,417.9 1418.5,417.4 1417.0,417.4 1415.6,416.6 1414.1,416.6 1412.7,416.8 1411.2,416.9 1409.8,417.1 1408.3,417.1 1406.8,416.2 1405.4,415.9 1403.9,418.4 1402.5,420.5 1401.0,423.1 1399.6,426.7 1398.1,428.7 1396.7,429.9 1395.2,432.3 1393.8,435.0 1392.3,436.1 1390.8,437.5 1389.4,439.2 1387.9,440.0 1386.5,441.6 1385.0,443.6 1383.6,444.6 1382.1,445.1 1380.7,445.9 1379.2,447.0 1377.7,447.6 1376.3,448.3 1374.8,450.6 1373.4,451.4 1371.9,450.8 1370.5,451.6 1369.0,452.2 1367.6,451.5 1366.1,452.2 1364.7,453.8 1363.2,454.5Z" fill="#a9d0dc"/><path d="M1363.2,441.9 1364.7,442.2 1366.1,441.7 1367.6,440.7 1369.0,439.6 1370.5,438.9 1371.9,438.3 1373.4,437.5 1374.8,436.4 1376.3,435.7 1377.7,434.9 1379.2,432.9 1380.7,430.9 1382.1,430.4 1383.6,429.2 1385.0,427.5 1386.5,426.5 1387.9,424.0 1389.4,421.2 1390.8,419.2 1392.3,416.7 1393.8,413.8 1395.2,411.4 1396.7,409.1 1398.1,405.8 1399.6,401.8 1401.0,398.3 1402.5,394.3 1403.9,392.0 1405.4,387.8 1406.8,385.1 1408.3,386.7 1409.8,386.5 1411.2,386.9 1412.7,388.6 1414.1,388.3 1415.6,388.2 1417.0,388.6 1418.5,389.4 1419.9,390.8 1421.4,391.6 1422.9,393.2 1424.3,394.4 1425.8,395.3 1427.2,396.3 1428.7,395.7 1430.1,396.4 1431.6,398.0 1433.0,398.0 1434.5,399.1 1435.9,400.6 1437.4,400.7 1438.9,400.6 1440.3,400.7 1441.8,401.3 1443.2,400.8 1444.7,400.0 1446.1,398.3 1447.6,398.0 1449.0,397.4 1450.5,394.5 1452.0,393.5 1453.4,393.1 1454.9,393.0 1456.3,392.0 1457.8,391.0 1459.2,390.1 1460.7,390.2 1462.1,390.0 1463.6,389.1 1465.0,387.4 1466.5,386.0 1468.0,385.3 1469.4,384.5 1470.9,384.6 1472.3,382.9 1473.8,381.3 1475.2,380.8 1476.7,380.0 1478.1,379.6 1479.6,379.2 1481.1,378.2 1482.5,377.8 1484.0,377.6 1485.4,375.4 1486.9,373.0 1488.3,371.4 1489.8,369.0 1491.2,365.9 1492.7,363.5 1494.1,360.6 1495.6,356.2 1497.1,350.9 1498.5,346.8 1500.0,343.3 1501.4,337.8 1502.9,333.0 1504.3,330.6 1505.8,326.8 1507.2,322.9 1508.7,319.6 1510.2,314.6 1511.6,308.6 1513.1,300.9 1514.5,293.7 1516.0,288.0 1517.4,288.0 1518.9,289.4 1520.3,286.8 1521.8,284.3 1523.2,283.0 1524.7,282.7 1526.2,281.5 1527.6,279.7 1529.1,276.4 1530.5,274.3 1532.0,273.0 1533.4,269.9 1534.9,267.4 1536.3,266.6 1537.8,265.6 1539.3,260.2 1540.7,256.5 1542.2,255.1 1543.6,249.7 1545.1,245.9 1546.5,248.4 1548.0,258.1 1549.4,265.5 1550.9,270.8 1552.3,278.8 1553.8,284.7 1555.3,290.4 1556.7,298.5 1558.2,303.6 1559.6,307.8 1561.1,312.1 1562.5,315.9 1564.0,319.2 1565.4,321.3 1566.9,324.2 1568.4,327.8 1569.8,331.7 1571.3,335.6 1572.7,337.4 1574.2,338.0 1575.6,339.3 1577.1,341.7 1578.5,345.0 1580.0,346.9 1581.4,347.1 1582.9,347.5 1584.4,349.3 1585.8,351.1 1587.3,351.1 1588.7,351.5 1590.2,353.5 1591.6,353.8 1593.1,354.2 1594.5,355.8 1596.0,354.5 1597.5,353.0 1598.9,346.3 1600.4,336.0 1601.8,330.2 1603.3,324.3 1604.7,318.6 1606.2,313.1 1607.6,307.3 1609.1,301.6 1610.5,295.0 1612.0,288.9 1613.5,283.3 1614.9,277.4 1616.4,272.1 1617.8,266.7 1619.3,262.3 1620.7,257.0 1622.2,251.9 1623.6,247.3 1625.1,241.2 1626.6,235.5 1628.0,229.6 1629.5,222.4 1630.9,215.0 1632.4,209.0 1633.8,199.4 1635.3,190.5 1636.7,190.1 1638.2,190.6 1639.6,190.8 1641.1,190.9 1642.6,190.7 1644.0,190.9 1645.5,191.1 1646.9,190.5 1648.4,190.4 1649.8,190.7 1651.3,191.2 1652.7,191.5 1654.2,191.2 1655.7,191.0 1657.1,191.2 1658.6,191.6 1660.0,191.4 1661.5,191.1 1662.9,191.3 1664.4,191.1 1665.8,191.0 1667.3,191.2 1668.7,191.1 1670.9,191.1 L1670.9,360.0 1668.7,360.1 1667.3,361.5 1665.8,362.5 1664.4,361.4 1662.9,362.3 1661.5,363.9 1660.0,364.8 1658.6,365.8 1657.1,365.8 1655.7,366.6 1654.2,367.8 1652.7,368.2 1651.3,368.8 1649.8,369.0 1648.4,369.4 1646.9,370.9 1645.5,371.5 1644.0,371.7 1642.6,372.6 1641.1,373.3 1639.6,373.9 1638.2,374.8 1636.7,375.5 1635.3,376.4 1633.8,377.1 1632.4,377.7 1630.9,378.5 1629.5,378.7 1628.0,379.8 1626.6,380.6 1625.1,381.1 1623.6,381.6 1622.2,382.0 1620.7,382.4 1619.3,382.8 1617.8,383.2 1616.4,383.6 1614.9,384.5 1613.5,385.2 1612.0,385.5 1610.5,386.2 1609.1,387.2 1607.6,388.1 1606.2,389.0 1604.7,390.0 1603.3,391.4 1601.8,392.8 1600.4,394.1 1598.9,396.5 1597.5,398.9 1596.0,399.2 1594.5,399.1 1593.1,397.8 1591.6,397.2 1590.2,395.7 1588.7,393.7 1587.3,393.2 1585.8,391.9 1584.4,389.3 1582.9,386.8 1581.4,386.9 1580.0,385.5 1578.5,383.6 1577.1,381.5 1575.6,379.3 1574.2,379.1 1572.7,377.4 1571.3,375.9 1569.8,373.3 1568.4,369.8 1566.9,368.3 1565.4,365.3 1564.0,361.8 1562.5,358.8 1561.1,355.0 1559.6,352.1 1558.2,349.2 1556.7,346.3 1555.3,343.6 1553.8,337.8 1552.3,331.8 1550.9,327.1 1549.4,322.0 1548.0,316.4 1546.5,310.6 1545.1,311.7 1543.6,314.6 1542.2,315.8 1540.7,315.8 1539.3,316.0 1537.8,318.4 1536.3,321.1 1534.9,321.5 1533.4,323.6 1532.0,328.1 1530.5,329.5 1529.1,331.5 1527.6,334.6 1526.2,335.0 1524.7,335.5 1523.2,337.6 1521.8,340.7 1520.3,342.8 1518.9,343.1 1517.4,343.0 1516.0,343.7 1514.5,346.7 1513.1,349.3 1511.6,352.4 1510.2,356.5 1508.7,358.9 1507.2,361.5 1505.8,364.4 1504.3,367.2 1502.9,370.5 1501.4,371.8 1500.0,374.2 1498.5,377.8 1497.1,381.9 1495.6,385.1 1494.1,386.5 1492.7,388.3 1491.2,390.0 1489.8,391.0 1488.3,392.1 1486.9,395.0 1485.4,396.7 1484.0,397.2 1482.5,397.9 1481.1,398.4 1479.6,399.8 1478.1,401.2 1476.7,401.2 1475.2,401.1 1473.8,402.1 1472.3,403.6 1470.9,404.4 1469.4,405.7 1468.0,407.6 1466.5,408.8 1465.0,409.5 1463.6,410.0 1462.1,411.1 1460.7,411.7 1459.2,412.3 1457.8,413.5 1456.3,414.7 1454.9,415.6 1453.4,416.7 1452.0,417.7 1450.5,418.1 1449.0,418.8 1447.6,420.1 1446.1,421.2 1444.7,421.0 1443.2,421.3 1441.8,422.5 1440.3,422.1 1438.9,420.7 1437.4,419.8 1435.9,420.2 1434.5,420.3 1433.0,419.2 1431.6,418.1 1430.1,417.6 1428.7,416.7 1427.2,415.3 1425.8,415.5 1424.3,415.7 1422.9,413.9 1421.4,412.0 1419.9,411.7 1418.5,411.4 1417.0,410.3 1415.6,410.4 1414.1,411.1 1412.7,410.7 1411.2,410.2 1409.8,410.5 1408.3,410.8 1406.8,410.3 1405.4,411.4 1403.9,413.6 1402.5,414.9 1401.0,417.2 1399.6,419.8 1398.1,422.4 1396.7,425.5 1395.2,428.2 1393.8,429.7 1392.3,431.8 1390.8,434.0 1389.4,434.9 1387.9,437.1 1386.5,438.5 1385.0,439.8 1383.6,441.8 1382.1,443.0 1380.7,443.7 1379.2,443.9 1377.7,444.6 1376.3,445.8 1374.8,446.6 1373.4,447.6 1371.9,448.3 1370.5,449.3 1369.0,450.2 1367.6,450.4 1366.1,450.8 1364.7,451.1 1363.2,451.4Z" fill="#6eb0c4"/><path d="M1363.2,447.8 1364.7,447.7 1366.1,446.3 1367.6,446.2 1369.0,445.6 1370.5,444.3 1371.9,443.7 1373.4,442.0 1374.8,441.5 1376.3,441.6 1377.7,439.9 1379.2,438.0 1380.7,437.2 1382.1,437.5 1383.6,435.8 1385.0,433.2 1386.5,432.3 1387.9,430.4 1389.4,427.1 1390.8,425.8 1392.3,424.7 1393.8,422.7 1395.2,420.7 1396.7,418.7 1398.1,416.3 1399.6,413.1 1401.0,410.3 1402.5,408.3 1403.9,406.4 1405.4,403.5 1406.8,402.1 1408.3,399.8 1409.8,398.9 1411.2,400.7 1412.7,401.6 1414.1,401.1 1415.6,402.0 1417.0,403.3 1418.5,402.7 1419.9,403.4 1421.4,404.5 1422.9,405.0 1424.3,406.6 1425.8,407.8 1427.2,407.6 1428.7,408.3 1430.1,409.8 1431.6,410.4 1433.0,411.9 1434.5,412.7 1435.9,413.6 1437.4,415.3 1438.9,414.2 1440.3,414.0 1441.8,415.2 1443.2,414.7 1444.7,412.8 1446.1,412.1 1447.6,412.9 1449.0,410.9 1450.5,409.0 1452.0,408.7 1453.4,407.3 1454.9,406.2 1456.3,405.2 1457.8,405.2 1459.2,404.9 1460.7,402.9 1462.1,402.6 1463.6,401.5 1465.0,400.1 1466.5,399.9 1468.0,399.1 1469.4,398.0 1470.9,396.8 1472.3,395.4 1473.8,394.4 1475.2,393.7 1476.7,393.6 1478.1,392.4 1479.6,391.3 1481.1,391.3 1482.5,389.9 1484.0,388.3 1485.4,387.1 1486.9,385.0 1488.3,382.2 1489.8,381.3 1491.2,379.0 1492.7,377.0 1494.1,374.6 1495.6,370.4 1497.1,366.6 1498.5,362.7 1500.0,358.6 1501.4,354.5 1502.9,351.2 1504.3,348.6 1505.8,346.0 1507.2,342.9 1508.7,339.3 1510.2,335.4 1511.6,331.1 1513.1,328.5 1514.5,326.8 1516.0,323.3 1517.4,320.5 1518.9,319.0 1520.3,316.5 1521.8,314.6 1523.2,313.0 1524.7,309.7 1526.2,307.6 1527.6,306.5 1529.1,305.0 1530.5,302.5 1532.0,299.7 1533.4,297.3 1534.9,295.3 1536.3,293.9 1537.8,292.4 1539.3,290.7 1540.7,288.1 1542.2,285.9 1543.6,284.4 1545.1,283.6 1546.5,286.1 1548.0,291.1 1549.4,296.3 1550.9,303.8 1552.3,310.6 1553.8,315.6 1555.3,320.2 1556.7,326.1 1558.2,330.1 1559.6,332.7 1561.1,336.5 1562.5,340.3 1564.0,344.1 1565.4,347.2 1566.9,350.6 1568.4,353.8 1569.8,354.9 1571.3,357.1 1572.7,359.3 1574.2,362.1 1575.6,365.7 1577.1,367.4 1578.5,368.9 1580.0,370.3 1581.4,371.5 1582.9,374.9 1584.4,375.3 1585.8,376.1 1587.3,378.8 1588.7,378.3 1590.2,378.2 1591.6,380.1 1593.1,382.5 1594.5,383.6 1596.0,382.9 1597.5,381.2 1598.9,377.4 1600.4,373.0 1601.8,369.8" fill="none" stroke="#388ea9" stroke-width="3.6" stroke-linejoin="round"/><path d="M1601.8,369.8 1603.3,367.5 1604.7,364.9 1606.2,362.7 1607.6,360.6 1609.1,357.7 1610.5,355.8 1612.0,354.0 1613.5,351.1 1614.9,349.0 1616.4,347.2 1617.8,344.9 1619.3,343.5 1620.7,341.5 1622.2,339.4 1623.6,337.3 1625.1,335.6 1626.6,333.5 1628.0,330.4 1629.5,327.8 1630.9,325.5 1632.4,323.4 1633.8,321.2 1635.3,318.8 1636.7,316.2 1638.2,313.1 1639.6,310.3 1641.1,307.3 1642.6,304.3 1644.0,301.4 1645.5,298.4 1646.9,294.9 1648.4,291.0 1649.8,287.7 1651.3,284.9 1652.7,280.9 1654.2,277.0 1655.7,274.0 1657.1,269.8 1658.6,264.8 1660.0,260.5 1661.5,255.9 1662.9,250.0 1664.4,244.6 1665.8,239.8 1667.3,233.9 1668.7,229.0 1670.9,221.3" fill="none" stroke="#388ea9" stroke-width="2.6" stroke-linejoin="round" stroke-linecap="round"/></g>
<clipPath id="c2_391"><rect x="391.6" y="521.3" width="308.2" height="256.3"/></clipPath><g clip-path="url(#c2_391)"><path d="M391.6,774.0 393.1,773.8 394.5,773.6 396.0,773.7 397.4,773.5 398.9,773.5 400.3,773.5 401.8,773.4 403.2,773.1 404.7,772.8 406.1,773.1 407.6,773.2 409.1,772.6 410.5,772.3 412.0,772.3 413.4,772.4 414.9,772.5 416.3,772.4 417.8,772.0 419.2,771.8 420.7,771.4 422.2,770.3 423.6,770.6 425.1,770.7 426.5,770.1 428.0,769.7 429.4,769.5 430.9,768.7 432.3,767.6 433.8,766.8 435.2,765.0 436.7,763.3 438.2,762.7 439.6,761.9 441.1,759.9 442.5,758.3 444.0,755.3 445.4,751.2 446.9,747.7 448.3,743.9 449.8,739.5 451.3,734.1 452.7,731.7 454.2,725.9 455.6,719.4 457.1,717.4 458.5,712.6 460.0,706.1 461.4,700.9 462.9,696.7 464.3,690.8 465.8,686.6 467.3,682.7 468.7,677.2 470.2,674.0 471.6,668.6 473.1,663.5 474.5,659.3 476.0,654.3 477.4,650.4 478.9,645.2 480.4,638.8 481.8,632.7 483.3,629.1 484.7,627.4 486.2,627.0 487.6,625.6 489.1,620.3 490.5,615.2 492.0,609.6 493.4,601.6 494.9,599.4 496.4,598.9 497.8,593.6 499.3,586.9 500.7,587.0 502.2,583.3 503.6,570.8 505.1,574.3 506.5,577.6 508.0,571.2 509.5,576.7 510.9,580.4 512.4,588.2 513.8,593.1 515.3,594.0 516.7,604.7 518.2,612.0 519.6,620.5 521.1,623.7 522.5,624.3 524.0,632.2 525.5,639.0 526.9,644.7 528.4,648.8 529.8,655.2 531.3,658.3 532.7,659.4 534.2,665.6 535.6,668.9 537.1,671.2 538.6,674.9 540.0,678.1 541.5,680.9 542.9,684.5 544.4,687.4 545.8,691.7 547.3,694.8 548.7,699.7 550.2,706.2 551.6,707.9 553.1,708.5 554.6,709.3 556.0,713.5 557.5,716.9 558.9,718.7 560.4,720.3 561.8,723.2 563.3,725.4 564.7,726.9 566.2,728.5 567.7,730.1 569.1,734.1 570.6,736.2 572.0,737.2 573.5,739.8 574.9,741.7 576.4,743.4 577.8,743.1 579.3,743.8 580.7,747.0 582.2,746.6 583.7,746.2 585.1,748.9 586.6,749.9 588.0,749.6 589.5,751.5 590.9,752.5 592.4,753.1 593.8,753.4 595.3,753.9 596.8,755.8 598.2,756.4 599.7,754.8 601.1,755.5 602.6,757.4 604.0,756.8 605.5,758.0 606.9,757.9 608.4,758.5 609.8,759.5 611.3,759.5 612.8,760.0 614.2,758.2 615.7,758.3 617.1,759.3 618.6,759.6 620.0,760.1 621.5,759.1 622.9,758.8 624.4,759.8 625.9,759.3 627.3,758.2 628.8,757.6 630.2,758.5 631.7,759.5 633.1,758.3 634.6,756.6 636.0,757.8 637.5,757.4 638.9,756.5 640.4,756.8 641.9,755.3 643.3,755.8 644.8,756.8 646.2,757.7 647.7,759.4 649.1,758.3 650.6,757.5 652.0,758.3 653.5,757.4 655.0,756.1 656.4,757.7 657.9,758.1 659.3,757.1 660.8,757.2 662.2,757.3 663.7,757.2 665.1,757.8 666.6,759.1 668.0,758.5 669.5,756.8 671.0,757.2 672.4,757.1 673.9,756.8 675.3,758.6 676.8,760.5 678.2,760.0 679.7,757.9 681.1,758.2 682.6,757.5 684.1,756.7 685.5,759.1 687.0,760.1 688.4,758.3 689.9,756.8 691.3,758.3 692.8,759.3 694.2,758.5 695.7,758.8 697.1,758.9 699.8,757.5 L699.8,774.5 697.1,774.7 695.7,774.8 694.2,774.5 692.8,774.3 691.3,774.7 689.9,774.4 688.4,774.4 687.0,774.6 685.5,774.1 684.1,774.5 682.6,774.5 681.1,774.4 679.7,774.8 678.2,774.7 676.8,774.6 675.3,774.5 673.9,774.6 672.4,774.7 671.0,774.8 669.5,774.7 668.0,774.4 666.6,774.6 665.1,775.2 663.7,775.1 662.2,774.6 660.8,774.8 659.3,774.8 657.9,774.7 656.4,774.4 655.0,774.4 653.5,774.4 652.0,774.6 650.6,774.6 649.1,774.7 647.7,774.4 646.2,774.5 644.8,774.6 643.3,774.6 641.9,774.9 640.4,774.6 638.9,774.6 637.5,774.4 636.0,774.4 634.6,774.9 633.1,774.6 631.7,774.5 630.2,774.9 628.8,774.2 627.3,774.2 625.9,774.0 624.4,774.2 622.9,774.4 621.5,774.5 620.0,774.3 618.6,774.5 617.1,774.7 615.7,774.5 614.2,775.2 612.8,774.8 611.3,774.5 609.8,774.0 608.4,773.9 606.9,773.6 605.5,773.3 604.0,773.9 602.6,774.3 601.1,774.1 599.7,773.8 598.2,773.7 596.8,773.8 595.3,773.4 593.8,773.3 592.4,773.8 590.9,774.2 589.5,774.6 588.0,773.5 586.6,772.9 585.1,772.7 583.7,772.5 582.2,773.6 580.7,773.5 579.3,772.7 577.8,773.0 576.4,773.2 574.9,772.9 573.5,772.6 572.0,772.3 570.6,772.1 569.1,771.9 567.7,771.9 566.2,771.6 564.7,769.5 563.3,768.1 561.8,768.7 560.4,768.8 558.9,768.0 557.5,767.9 556.0,766.8 554.6,762.9 553.1,761.7 551.6,762.7 550.2,761.4 548.7,760.0 547.3,758.6 545.8,756.9 544.4,756.4 542.9,755.3 541.5,753.7 540.0,751.3 538.6,750.3 537.1,748.9 535.6,747.0 534.2,744.9 532.7,742.6 531.3,744.0 529.8,742.6 528.4,739.7 526.9,736.0 525.5,733.4 524.0,733.8 522.5,733.6 521.1,729.5 519.6,726.2 518.2,726.7 516.7,724.8 515.3,720.2 513.8,717.7 512.4,722.4 510.9,721.4 509.5,717.4 508.0,715.9 506.5,714.9 505.1,713.0 503.6,711.0 502.2,711.4 500.7,713.4 499.3,712.8 497.8,709.3 496.4,710.8 494.9,711.6 493.4,709.9 492.0,711.6 490.5,712.8 489.1,713.5 487.6,714.0 486.2,716.4 484.7,718.2 483.3,720.7 481.8,722.2 480.4,720.3 478.9,723.4 477.4,725.4 476.0,727.4 474.5,731.5 473.1,733.4 471.6,735.3 470.2,738.6 468.7,741.0 467.3,743.8 465.8,744.9 464.3,745.6 462.9,749.7 461.4,753.0 460.0,755.5 458.5,758.7 457.1,761.2 455.6,764.2 454.2,766.4 452.7,767.2 451.3,769.1 449.8,770.4 448.3,770.8 446.9,772.0 445.4,772.8 444.0,773.1 442.5,773.2 441.1,773.4 439.6,774.0 438.2,774.1 436.7,773.7 435.2,774.0 433.8,774.8 432.3,775.0 430.9,774.9 429.4,775.4 428.0,776.4 426.5,775.7 425.1,775.4 423.6,776.4 422.2,777.1 420.7,777.1 419.2,776.0 417.8,776.1 416.3,776.3 414.9,776.3 413.4,776.5 412.0,776.5 410.5,776.6 409.1,776.9 407.6,777.1 406.1,777.0 404.7,776.9 403.2,777.0 401.8,776.8 400.3,777.0 398.9,777.1 397.4,777.1 396.0,777.1 394.5,777.1 393.1,777.1 391.6,777.1Z" fill="#fdf0e7"/><path d="M391.6,774.7 393.1,774.8 394.5,774.4 396.0,774.0 397.4,773.9 398.9,774.5 400.3,774.5 401.8,774.3 403.2,773.9 404.7,774.2 406.1,774.4 407.6,774.1 409.1,774.0 410.5,773.7 412.0,773.5 413.4,773.6 414.9,773.5 416.3,773.8 417.8,773.4 419.2,773.4 420.7,773.6 422.2,773.4 423.6,772.9 425.1,772.0 426.5,772.4 428.0,772.4 429.4,771.6 430.9,771.5 432.3,771.4 433.8,771.1 435.2,770.2 436.7,769.4 438.2,768.6 439.6,767.5 441.1,766.0 442.5,764.5 444.0,762.7 445.4,761.2 446.9,758.7 448.3,755.4 449.8,752.3 451.3,749.1 452.7,745.5 454.2,740.6 455.6,736.9 457.1,733.3 458.5,728.7 460.0,725.5 461.4,722.1 462.9,718.1 464.3,714.2 465.8,709.5 467.3,704.6 468.7,699.2 470.2,695.1 471.6,691.4 473.1,687.0 474.5,682.5 476.0,676.9 477.4,671.5 478.9,668.0 480.4,665.5 481.8,660.8 483.3,656.7 484.7,654.9 486.2,650.8 487.6,646.6 489.1,643.6 490.5,642.3 492.0,641.0 493.4,637.0 494.9,632.8 496.4,630.8 497.8,631.1 499.3,629.3 500.7,626.6 502.2,626.1 503.6,624.1 505.1,622.6 506.5,624.1 508.0,624.0 509.5,624.7 510.9,628.7 512.4,632.6 513.8,635.3 515.3,639.1 516.7,643.5 518.2,646.8 519.6,650.5 521.1,655.8 522.5,661.0 524.0,665.4 525.5,667.8 526.9,671.2 528.4,675.9 529.8,678.7 531.3,682.0 532.7,685.9 534.2,690.1 535.6,692.4 537.1,695.0 538.6,698.6 540.0,701.1 541.5,704.6 542.9,707.8 544.4,709.2 545.8,711.2 547.3,714.2 548.7,716.0 550.2,718.7 551.6,721.6 553.1,723.5 554.6,725.9 556.0,728.8 557.5,730.6 558.9,731.6 560.4,734.2 561.8,736.0 563.3,736.8 564.7,738.1 566.2,740.5 567.7,742.8 569.1,744.1 570.6,745.5 572.0,746.7 573.5,747.7 574.9,748.8 576.4,750.5 577.8,752.1 579.3,753.7 580.7,754.4 582.2,754.6 583.7,755.4 585.1,757.1 586.6,757.9 588.0,758.4 589.5,760.2 590.9,760.6 592.4,761.0 593.8,761.0 595.3,761.3 596.8,762.2 598.2,763.0 599.7,764.1 601.1,764.2 602.6,764.8 604.0,765.4 605.5,765.1 606.9,765.1 608.4,764.9 609.8,765.2 611.3,766.7 612.8,766.7 614.2,766.2 615.7,766.4 617.1,766.7 618.6,767.1 620.0,766.8 621.5,766.1 622.9,766.1 624.4,767.1 625.9,767.2 627.3,767.0 628.8,766.9 630.2,766.1 631.7,766.4 633.1,767.1 634.6,766.8 636.0,766.6 637.5,766.8 638.9,766.8 640.4,766.8 641.9,766.9 643.3,766.1 644.8,766.1 646.2,766.6 647.7,766.4 649.1,766.7 650.6,766.8 652.0,766.8 653.5,767.3 655.0,767.2 656.4,766.4 657.9,766.1 659.3,766.8 660.8,767.0 662.2,766.4 663.7,766.4 665.1,766.8 666.6,766.9 668.0,766.9 669.5,766.6 671.0,766.3 672.4,766.4 673.9,766.5 675.3,765.9 676.8,765.8 678.2,766.0 679.7,766.5 681.1,767.4 682.6,767.4 684.1,767.1 685.5,766.4 687.0,766.4 688.4,766.4 689.9,766.3 691.3,766.0 692.8,765.6 694.2,766.0 695.7,766.7 697.1,766.5 699.8,766.5 L699.8,773.7 697.1,774.4 695.7,773.8 694.2,773.2 692.8,773.7 691.3,772.8 689.9,772.5 688.4,772.5 687.0,772.5 685.5,772.5 684.1,772.8 682.6,773.2 681.1,772.9 679.7,772.8 678.2,772.5 676.8,772.6 675.3,772.6 673.9,772.5 672.4,772.9 671.0,773.3 669.5,772.5 668.0,773.0 666.6,772.2 665.1,771.9 663.7,772.1 662.2,772.3 660.8,772.2 659.3,772.8 657.9,774.4 656.4,773.6 655.0,772.9 653.5,773.8 652.0,774.3 650.6,773.1 649.1,772.7 647.7,773.6 646.2,772.5 644.8,772.4 643.3,772.9 641.9,772.7 640.4,772.6 638.9,773.6 637.5,773.2 636.0,772.7 634.6,773.6 633.1,773.2 631.7,774.1 630.2,774.6 628.8,773.9 627.3,773.6 625.9,773.6 624.4,773.3 622.9,773.9 621.5,773.8 620.0,773.1 618.6,773.0 617.1,773.0 615.7,773.2 614.2,774.9 612.8,773.2 611.3,772.8 609.8,773.7 608.4,773.2 606.9,772.7 605.5,772.3 604.0,771.7 602.6,772.5 601.1,771.3 599.7,770.8 598.2,772.1 596.8,770.6 595.3,770.1 593.8,769.6 592.4,769.3 590.9,768.5 589.5,767.5 588.0,767.7 586.6,767.4 585.1,766.2 583.7,765.5 582.2,764.8 580.7,764.7 579.3,763.9 577.8,762.3 576.4,761.7 574.9,760.8 573.5,760.1 572.0,759.1 570.6,757.9 569.1,757.8 567.7,756.5 566.2,754.8 564.7,753.4 563.3,751.8 561.8,750.6 560.4,748.9 558.9,747.5 557.5,746.1 556.0,744.1 554.6,743.7 553.1,742.6 551.6,740.8 550.2,738.2 548.7,735.7 547.3,734.2 545.8,732.2 544.4,730.6 542.9,727.9 541.5,726.1 540.0,724.7 538.6,722.5 537.1,720.1 535.6,718.6 534.2,717.1 532.7,713.9 531.3,711.7 529.8,709.1 528.4,706.7 526.9,703.3 525.5,700.8 524.0,699.3 522.5,696.6 521.1,694.2 519.6,691.3 518.2,688.8 516.7,686.6 515.3,684.5 513.8,682.5 512.4,680.1 510.9,677.9 509.5,675.8 508.0,675.7 506.5,675.7 505.1,673.3 503.6,674.5 502.2,677.5 500.7,678.7 499.3,677.6 497.8,678.2 496.4,679.5 494.9,679.9 493.4,681.4 492.0,684.4 490.5,687.5 489.1,688.5 487.6,689.5 486.2,689.8 484.7,693.2 483.3,697.4 481.8,699.3 480.4,701.2 478.9,703.0 477.4,706.8 476.0,711.3 474.5,713.9 473.1,717.0 471.6,720.1 470.2,722.1 468.7,725.2 467.3,729.2 465.8,731.3 464.3,734.0 462.9,737.8 461.4,741.4 460.0,744.7 458.5,747.2 457.1,750.0 455.6,753.5 454.2,756.4 452.7,759.3 451.3,762.1 449.8,764.1 448.3,766.1 446.9,767.8 445.4,768.5 444.0,769.8 442.5,770.2 441.1,771.0 439.6,771.5 438.2,772.3 436.7,772.7 435.2,773.2 433.8,773.5 432.3,774.1 430.9,773.9 429.4,775.1 428.0,776.1 426.5,774.6 425.1,775.1 423.6,776.1 422.2,777.1 420.7,776.9 419.2,775.7 417.8,775.8 416.3,776.0 414.9,776.0 413.4,776.2 412.0,776.2 410.5,776.3 409.1,776.6 407.6,776.8 406.1,776.7 404.7,776.6 403.2,776.7 401.8,776.5 400.3,776.7 398.9,776.9 397.4,776.7 396.0,776.8 394.5,777.0 393.1,777.0 391.6,776.9Z" fill="#f9cdab"/><path d="M391.6,775.0 393.1,775.1 394.5,775.1 396.0,774.9 397.4,774.8 398.9,775.0 400.3,774.8 401.8,774.6 403.2,774.8 404.7,774.7 406.1,774.8 407.6,774.9 409.1,774.6 410.5,774.4 412.0,774.3 413.4,773.9 414.9,773.8 416.3,774.1 417.8,773.9 419.2,773.8 420.7,774.3 422.2,774.0 423.6,773.4 425.1,772.3 426.5,772.7 428.0,773.4 429.4,772.8 430.9,772.0 432.3,772.2 433.8,771.5 435.2,770.5 436.7,770.4 438.2,769.2 439.6,769.3 441.1,767.9 442.5,766.8 444.0,765.6 445.4,764.2 446.9,762.8 448.3,760.5 449.8,757.7 451.3,754.1 452.7,750.6 454.2,747.4 455.6,743.7 457.1,740.1 458.5,736.1 460.0,732.2 461.4,728.6 462.9,724.1 464.3,720.1 465.8,716.3 467.3,712.2 468.7,708.5 470.2,705.1 471.6,701.0 473.1,696.7 474.5,692.2 476.0,688.1 477.4,684.9 478.9,681.1 480.4,677.0 481.8,672.9 483.3,669.1 484.7,666.3 486.2,663.2 487.6,660.1 489.1,658.5 490.5,656.4 492.0,654.6 493.4,652.3 494.9,649.7 496.4,647.9 497.8,646.2 499.3,644.9 500.7,643.7 502.2,643.1 503.6,642.0 505.1,641.8 506.5,642.7 508.0,642.8 509.5,644.0 510.9,646.3 512.4,648.2 513.8,651.9 515.3,654.2 516.7,656.4 518.2,660.0 519.6,663.7 521.1,667.8 522.5,672.8 524.0,676.3 525.5,678.8 526.9,682.3 528.4,684.7 529.8,687.6 531.3,691.5 532.7,694.6 534.2,697.2 535.6,700.3 537.1,702.7 538.6,705.1 540.0,708.4 541.5,711.5 542.9,713.7 544.4,715.9 545.8,718.5 547.3,720.9 548.7,723.4 550.2,725.7 551.6,727.8 553.1,729.4 554.6,731.1 556.0,733.6 557.5,735.4 558.9,737.3 560.4,739.3 561.8,740.8 563.3,742.8 564.7,744.5 566.2,745.7 567.7,747.2 569.1,748.9 570.6,751.2 572.0,751.9 573.5,752.5 574.9,754.2 576.4,755.6 577.8,756.7 579.3,756.8 580.7,758.2 582.2,759.5 583.7,760.0 585.1,760.8 586.6,761.3 588.0,762.3 589.5,763.5 590.9,764.4 592.4,764.7 593.8,765.2 595.3,765.8 596.8,766.3 598.2,766.9 599.7,767.4 601.1,767.6 602.6,767.8 604.0,768.2 605.5,768.6 606.9,768.6 608.4,769.2 609.8,769.5 611.3,769.4 612.8,769.8 614.2,770.0 615.7,769.5 617.1,769.8 618.6,770.4 620.0,769.7 621.5,769.8 622.9,770.7 624.4,770.8 625.9,769.9 627.3,769.7 628.8,770.2 630.2,770.0 631.7,769.6 633.1,769.8 634.6,770.3 636.0,770.2 637.5,769.9 638.9,769.8 640.4,769.2 641.9,769.6 643.3,769.9 644.8,769.2 646.2,769.2 647.7,769.7 649.1,769.4 650.6,769.3 652.0,769.5 653.5,769.4 655.0,769.2 656.4,769.1 657.9,769.2 659.3,769.0 660.8,769.1 662.2,769.0 663.7,769.1 665.1,769.4 666.6,769.1 668.0,769.3 669.5,770.0 671.0,770.1 672.4,769.3 673.9,769.3 675.3,769.7 676.8,769.3 678.2,769.1 679.7,769.1 681.1,769.6 682.6,769.7 684.1,769.3 685.5,769.0 687.0,768.9 688.4,769.2 689.9,769.7 691.3,769.3 692.8,768.9 694.2,769.0 695.7,768.8 697.1,768.9 699.8,769.2 L699.8,773.4 697.1,774.1 695.7,773.5 694.2,772.9 692.8,773.4 691.3,772.5 689.9,772.2 688.4,772.2 687.0,771.6 685.5,771.8 684.1,772.5 682.6,772.9 681.1,772.6 679.7,772.5 678.2,772.2 676.8,772.3 675.3,772.3 673.9,772.0 672.4,772.6 671.0,773.0 669.5,772.2 668.0,772.7 666.6,771.9 665.1,771.6 663.7,771.8 662.2,771.9 660.8,771.7 659.3,772.5 657.9,774.1 656.4,773.3 655.0,772.6 653.5,773.5 652.0,774.0 650.6,772.8 649.1,772.4 647.7,773.3 646.2,772.2 644.8,772.0 643.3,772.6 641.9,772.0 640.4,772.2 638.9,773.3 637.5,772.9 636.0,772.4 634.6,773.3 633.1,772.9 631.7,773.8 630.2,774.3 628.8,773.6 627.3,773.3 625.9,773.3 624.4,773.0 622.9,773.6 621.5,773.5 620.0,772.8 618.6,772.7 617.1,772.7 615.7,772.9 614.2,774.6 612.8,772.9 611.3,772.4 609.8,773.4 608.4,772.9 606.9,771.8 605.5,771.5 604.0,771.4 602.6,772.2 601.1,771.0 599.7,770.5 598.2,771.8 596.8,769.8 595.3,769.6 593.8,769.3 592.4,769.0 590.9,767.6 589.5,766.8 588.0,766.5 586.6,766.2 585.1,765.4 583.7,764.3 582.2,763.4 580.7,762.9 579.3,762.5 577.8,762.0 576.4,760.3 574.9,758.9 573.5,757.6 572.0,757.2 570.6,756.4 569.1,754.9 567.7,753.3 566.2,751.7 564.7,751.2 563.3,749.8 561.8,747.4 560.4,745.7 558.9,744.6 557.5,742.8 556.0,740.9 554.6,739.4 553.1,737.8 551.6,736.1 550.2,733.3 548.7,731.3 547.3,730.0 545.8,727.6 544.4,725.0 542.9,723.1 541.5,721.1 540.0,718.7 538.6,716.1 537.1,713.9 535.6,711.8 534.2,709.6 532.7,707.6 531.3,704.2 529.8,700.6 528.4,697.9 526.9,695.8 525.5,693.2 524.0,689.7 522.5,686.8 521.1,684.2 519.6,681.4 518.2,678.4 516.7,676.0 515.3,673.5 513.8,671.2 512.4,668.8 510.9,666.5 509.5,665.5 508.0,664.3 506.5,664.1 505.1,663.8 503.6,663.6 502.2,664.5 500.7,664.8 499.3,665.7 497.8,667.0 496.4,668.6 494.9,670.3 493.4,671.4 492.0,673.5 490.5,675.7 489.1,677.8 487.6,679.9 486.2,681.8 484.7,683.6 483.3,686.5 481.8,689.7 480.4,692.5 478.9,695.7 477.4,699.1 476.0,703.2 474.5,706.9 473.1,709.4 471.6,712.8 470.2,716.9 468.7,720.4 467.3,723.4 465.8,726.6 464.3,729.8 462.9,733.4 461.4,736.7 460.0,739.9 458.5,743.2 457.1,746.8 455.6,750.2 454.2,753.6 452.7,756.5 451.3,759.3 449.8,762.2 448.3,764.6 446.9,766.3 445.4,768.0 444.0,769.5 442.5,769.9 441.1,770.1 439.6,771.2 438.2,772.0 436.7,772.3 435.2,772.9 433.8,773.2 432.3,773.8 430.9,773.6 429.4,774.8 428.0,775.8 426.5,774.3 425.1,774.8 423.6,775.8 422.2,776.8 420.7,776.6 419.2,775.4 417.8,775.5 416.3,775.7 414.9,775.7 413.4,775.9 412.0,775.9 410.5,776.0 409.1,776.3 407.6,776.5 406.1,776.4 404.7,776.3 403.2,776.4 401.8,776.2 400.3,776.4 398.9,776.6 397.4,776.4 396.0,776.5 394.5,776.7 393.1,776.7 391.6,776.6Z" fill="#f4a872"/><path d="M391.6,775.8 393.1,775.9 394.5,775.9 396.0,775.7 397.4,775.6 398.9,775.8 400.3,775.6 401.8,775.4 403.2,775.6 404.7,775.5 406.1,775.6 407.6,775.7 409.1,775.5 410.5,775.2 412.0,775.1 413.4,775.1 414.9,774.9 416.3,774.9 417.8,774.7 419.2,774.6 420.7,775.8 422.2,776.0 423.6,775.0 425.1,773.1 426.5,773.5 428.0,775.0 429.4,774.0 430.9,772.8 432.3,773.0 433.8,772.4 435.2,772.1 436.7,771.5 438.2,770.0 439.6,770.1 441.1,769.0 442.5,768.2 444.0,768.3 445.4,766.4 446.9,765.3 448.3,763.8 449.8,761.0 451.3,758.4 452.7,754.5 454.2,750.6 455.6,746.5 457.1,743.1 458.5,740.0 460.0,737.7 461.4,735.0 462.9,729.5 464.3,725.7 465.8,723.0 467.3,718.6 468.7,715.1 470.2,712.2 471.6,707.9 473.1,703.7 474.5,700.4 476.0,696.2 477.4,692.3 478.9,689.1 480.4,685.0 481.8,681.3 483.3,678.9 484.7,677.0 486.2,674.3 487.6,670.7 489.1,668.6 490.5,667.1 492.0,665.1 493.4,663.9 494.9,661.4 496.4,659.1 497.8,658.0 499.3,656.5 500.7,657.1 502.2,657.4 503.6,654.5 505.1,653.9 506.5,654.7 508.0,655.8 509.5,657.3 510.9,657.8 512.4,659.5 513.8,662.3 515.3,665.2 516.7,668.0 518.2,670.8 519.6,674.1 521.1,676.4 522.5,679.0 524.0,682.6 525.5,685.2 526.9,688.6 528.4,691.1 529.8,693.4 531.3,696.7 532.7,700.1 534.2,703.2 535.6,705.7 537.1,708.9 538.6,710.6 540.0,713.2 541.5,716.2 542.9,718.2 544.4,721.0 545.8,724.0 547.3,726.7 548.7,729.5 550.2,731.4 551.6,732.1 553.1,733.8 554.6,736.4 556.0,739.6 557.5,741.3 558.9,741.8 560.4,743.5 561.8,745.7 563.3,747.1 564.7,748.1 566.2,748.1 567.7,749.7 569.1,753.2 570.6,754.9 572.0,754.3 573.5,755.3 574.9,756.7 576.4,759.0 577.8,761.2 579.3,760.3 580.7,761.5 582.2,762.6 583.7,763.3 585.1,764.5 586.6,764.2 588.0,765.3 589.5,765.8 590.9,766.8 592.4,768.2 593.8,767.3 595.3,766.7 596.8,768.7 598.2,771.0 599.7,769.7 601.1,770.2 602.6,771.4 604.0,770.6 605.5,770.7 606.9,771.0 608.4,772.1 609.8,772.6 611.3,770.8 612.8,772.1 614.2,773.8 615.7,772.0 617.1,771.4 618.6,771.6 620.0,771.9 621.5,772.7 622.9,772.8 624.4,772.2 625.9,771.6 627.3,772.4 628.8,772.8 630.2,773.5 631.7,773.0 633.1,772.1 634.6,772.5 636.0,771.4 637.5,772.1 638.9,772.5 640.4,771.1 641.9,770.8 643.3,771.8 644.8,771.2 646.2,771.4 647.7,772.5 649.1,771.6 650.6,772.0 652.0,773.2 653.5,772.7 655.0,771.8 656.4,772.5 657.9,773.3 659.3,771.7 660.8,770.7 662.2,771.1 663.7,771.0 665.1,770.2 666.6,771.0 668.0,771.9 669.5,771.4 671.0,772.2 672.4,771.8 673.9,771.0 675.3,771.5 676.8,771.2 678.2,771.0 679.7,771.7 681.1,771.8 682.6,772.1 684.1,771.7 685.5,771.0 687.0,770.6 688.4,770.4 689.9,770.8 691.3,771.7 692.8,772.6 694.2,772.1 695.7,772.7 697.1,773.3 699.8,772.6" fill="none" stroke="#ee7f31" stroke-width="3.6" stroke-linejoin="round"/></g>
<clipPath id="c2_715"><rect x="715.6" y="521.3" width="307.7" height="256.3"/></clipPath><g clip-path="url(#c2_715)"><path d="M715.6,757.1 717.1,754.4 718.5,754.1 720.0,752.0 721.4,750.6 722.9,750.8 724.3,748.1 725.8,744.5 727.2,742.3 728.7,739.4 730.2,738.9 731.6,738.5 733.1,734.4 734.5,731.3 736.0,730.6 737.4,731.1 738.9,727.0 740.3,722.7 741.8,720.0 743.2,719.4 744.7,719.8 746.2,719.7 747.6,717.3 749.1,712.0 750.5,709.3 752.0,709.4 753.4,706.9 754.9,705.8 756.3,707.4 757.8,705.1 759.3,703.1 760.7,704.5 762.2,707.4 763.6,704.8 765.1,702.4 766.5,704.3 768.0,701.7 769.4,697.4 770.9,694.6 772.3,692.7 773.8,692.5 775.3,690.6 776.7,688.7 778.2,686.7 779.6,686.4 781.1,688.6 782.5,693.2 784.0,695.6 785.4,695.1 786.9,698.1 788.4,700.8 789.8,698.7 791.3,696.0 792.7,696.7 794.2,696.6 795.6,692.5 797.1,690.8 798.5,691.0 800.0,692.1 801.4,691.0 802.9,691.7 804.4,695.3 805.8,694.1 807.3,696.7 808.7,700.7 810.2,698.4 811.6,699.9 813.1,699.6 814.5,694.7 816.0,694.4 817.5,695.2 818.9,695.1 820.4,692.9 821.8,693.1 823.3,693.0 824.7,692.2 826.2,694.8 827.6,692.3 829.1,684.0 830.5,682.5 832.0,684.1 833.5,684.4 834.9,685.7 836.4,683.6 837.8,681.7 839.3,682.8 840.7,683.9 842.2,680.6 843.6,681.7 845.1,684.5 846.6,682.1 848.0,680.7 849.5,677.3 850.9,674.4 852.4,674.7 853.8,673.8 855.3,670.7 856.7,666.5 858.2,662.3 859.6,662.4 861.1,662.2 862.6,657.1 864.0,650.3 865.5,647.2 866.9,645.2 868.4,646.4 869.8,647.8 871.3,642.2 872.7,639.2 874.2,642.6 875.7,642.8 877.1,633.5 878.6,628.4 880.0,625.5 881.5,619.3 882.9,618.4 884.4,622.6 885.8,621.9 887.3,614.1 888.7,607.2 890.2,604.3 891.7,603.8 893.1,596.6 894.6,586.2 896.0,588.1 897.5,587.5 898.9,579.7 900.4,572.0 901.8,572.2 903.3,580.5 904.8,586.6 906.2,596.2 907.7,600.9 909.1,597.9 910.6,592.2 912.0,583.5 913.5,573.0 914.9,582.6 916.4,601.5 917.8,611.6 919.3,611.8 920.8,618.0 922.2,627.9 923.7,630.2 925.1,628.7 926.6,636.6 928.0,647.8 929.5,651.1 930.9,650.5 932.4,651.0 933.9,659.6 935.3,667.2 936.8,669.9 938.2,671.8 939.7,675.0 941.1,677.7 942.6,679.4 944.0,681.4 945.5,684.2 946.9,686.8 948.4,689.6 949.9,692.6 951.3,691.6 952.8,693.6 954.2,691.3 955.7,685.5 957.1,679.3 958.6,675.3 960.0,671.4 961.5,668.4 963.0,666.5 964.4,664.0 965.9,660.5 967.3,657.0 968.8,654.7 970.2,652.0 971.7,649.6 973.1,646.7 974.6,643.7 976.0,641.2 977.5,637.2 979.0,633.4 980.4,630.5 981.9,627.5 983.3,624.6 984.8,620.9 986.2,617.3 987.7,613.0 989.1,607.6 990.6,604.3 992.1,602.0 993.5,598.0 995.0,593.4 996.4,589.6 997.9,586.7 999.3,582.0 1000.8,576.3 1002.2,571.1 1003.7,567.3 1005.1,562.4 1006.6,556.5 1008.1,551.8 1009.5,546.8 1011.0,540.7 1012.4,535.4 1013.9,530.8 1015.3,525.0 1016.8,518.8 1018.2,512.6 1019.7,508.0 1021.2,504.5 1023.3,501.5 L1023.3,767.7 1021.2,767.7 1019.7,767.7 1018.2,767.8 1016.8,767.8 1015.3,767.3 1013.9,767.1 1012.4,767.2 1011.0,767.4 1009.5,767.6 1008.1,767.6 1006.6,767.5 1005.1,767.4 1003.7,767.4 1002.2,767.5 1000.8,767.5 999.3,767.3 997.9,767.3 996.4,767.6 995.0,767.6 993.5,767.3 992.1,767.3 990.6,767.3 989.1,767.4 987.7,767.2 986.2,767.2 984.8,767.1 983.3,767.1 981.9,767.2 980.4,767.2 979.0,767.1 977.5,767.2 976.0,767.3 974.6,767.2 973.1,767.2 971.7,767.1 970.2,766.9 968.8,767.1 967.3,767.2 965.9,767.0 964.4,766.7 963.0,766.4 961.5,766.5 960.0,766.7 958.6,766.6 957.1,766.2 955.7,766.3 954.2,765.9 952.8,764.2 951.3,767.4 949.9,766.1 948.4,764.3 946.9,763.0 945.5,760.7 944.0,760.3 942.6,762.7 941.1,762.5 939.7,758.1 938.2,755.5 936.8,753.9 935.3,753.6 933.9,753.8 932.4,753.2 930.9,752.3 929.5,749.4 928.0,746.9 926.6,744.1 925.1,741.7 923.7,739.6 922.2,735.5 920.8,729.0 919.3,729.2 917.8,731.0 916.4,725.2 914.9,721.6 913.5,719.7 912.0,716.5 910.6,715.8 909.1,714.8 907.7,713.5 906.2,713.5 904.8,714.5 903.3,711.5 901.8,712.9 900.4,715.2 898.9,712.5 897.5,714.1 896.0,715.4 894.6,716.2 893.1,715.2 891.7,714.5 890.2,715.3 888.7,716.5 887.3,718.5 885.8,720.6 884.4,721.0 882.9,722.6 881.5,725.9 880.0,725.1 878.6,725.6 877.1,728.5 875.7,730.3 874.2,732.6 872.7,732.6 871.3,731.3 869.8,732.0 868.4,733.9 866.9,735.2 865.5,735.4 864.0,738.3 862.6,740.9 861.1,740.6 859.6,743.3 858.2,743.9 856.7,742.5 855.3,743.6 853.8,744.9 852.4,746.7 850.9,747.8 849.5,747.7 848.0,747.8 846.6,747.9 845.1,748.2 843.6,749.0 842.2,749.0 840.7,749.6 839.3,750.8 837.8,750.6 836.4,750.1 834.9,751.9 833.5,752.7 832.0,752.5 830.5,753.6 829.1,753.8 827.6,754.8 826.2,756.1 824.7,755.5 823.3,755.6 821.8,757.1 820.4,758.2 818.9,757.6 817.5,757.5 816.0,756.4 814.5,755.8 813.1,756.8 811.6,758.3 810.2,759.6 808.7,760.1 807.3,759.7 805.8,759.5 804.4,760.2 802.9,759.8 801.4,760.7 800.0,761.0 798.5,759.5 797.1,759.4 795.6,760.8 794.2,761.0 792.7,760.8 791.3,760.6 789.8,759.9 788.4,760.9 786.9,761.3 785.4,760.2 784.0,760.3 782.5,761.6 781.1,761.6 779.6,760.1 778.2,760.4 776.7,760.7 775.3,760.7 773.8,759.7 772.3,759.4 770.9,759.8 769.4,759.0 768.0,758.4 766.5,758.2 765.1,759.0 763.6,759.8 762.2,760.8 760.7,759.9 759.3,759.8 757.8,761.6 756.3,763.0 754.9,763.8 753.4,763.7 752.0,764.9 750.5,766.2 749.1,766.0 747.6,766.1 746.2,767.6 744.7,768.5 743.2,768.5 741.8,768.5 740.3,768.4 738.9,768.8 737.4,769.9 736.0,771.1 734.5,771.6 733.1,771.8 731.6,772.4 730.2,772.6 728.7,772.6 727.2,773.0 725.8,773.5 724.3,773.8 722.9,774.1 721.4,774.6 720.0,775.6 718.5,775.6 717.1,775.2 715.6,776.0Z" fill="#fdf0e7"/><path d="M715.6,763.6 717.1,762.0 718.5,761.8 720.0,761.6 721.4,760.1 722.9,759.1 724.3,758.8 725.8,757.8 727.2,756.7 728.7,756.7 730.2,756.2 731.6,755.3 733.1,753.7 734.5,751.5 736.0,750.8 737.4,750.9 738.9,749.5 740.3,748.1 741.8,746.5 743.2,744.6 744.7,743.8 746.2,743.3 747.6,740.8 749.1,739.0 750.5,738.1 752.0,736.5 753.4,735.1 754.9,734.0 756.3,733.3 757.8,732.1 759.3,729.8 760.7,728.9 762.2,728.9 763.6,727.0 765.1,726.6 766.5,725.7 768.0,725.1 769.4,726.1 770.9,724.5 772.3,723.3 773.8,723.3 775.3,722.6 776.7,721.2 778.2,721.1 779.6,722.7 781.1,724.0 782.5,725.5 784.0,727.4 785.4,729.2 786.9,730.2 788.4,731.5 789.8,731.3 791.3,731.1 792.7,731.1 794.2,730.9 795.6,730.5 797.1,730.6 798.5,731.5 800.0,730.7 801.4,730.0 802.9,729.6 804.4,727.8 805.8,727.1 807.3,727.8 808.7,726.8 810.2,724.5 811.6,724.3 813.1,724.3 814.5,724.6 816.0,724.4 817.5,722.7 818.9,721.7 820.4,721.2 821.8,720.6 823.3,719.3 824.7,718.9 826.2,718.2 827.6,718.3 829.1,717.3 830.5,715.8 832.0,715.3 833.5,713.7 834.9,714.1 836.4,712.8 837.8,711.7 839.3,711.1 840.7,709.3 842.2,710.2 843.6,707.9 845.1,704.6 846.6,705.4 848.0,705.1 849.5,702.8 850.9,701.3 852.4,699.7 853.8,698.4 855.3,698.4 856.7,696.6 858.2,694.2 859.6,693.5 861.1,693.0 862.6,690.1 864.0,687.2 865.5,685.3 866.9,682.7 868.4,680.7 869.8,678.6 871.3,675.4 872.7,672.1 874.2,670.4 875.7,669.4 877.1,668.2 878.6,665.1 880.0,661.4 881.5,659.4 882.9,657.2 884.4,653.6 885.8,649.9 887.3,648.6 888.7,645.4 890.2,640.5 891.7,636.4 893.1,634.2 894.6,632.5 896.0,631.1 897.5,628.0 898.9,623.8 900.4,622.5 901.8,622.1 903.3,620.9 904.8,624.7 906.2,630.6 907.7,633.0 909.1,636.6 910.6,640.3 912.0,644.2 913.5,646.4 914.9,650.9 916.4,656.7 917.8,659.3 919.3,662.8 920.8,668.9 922.2,672.5 923.7,673.7 925.1,677.9 926.6,680.6 928.0,682.2 929.5,685.1 930.9,687.4 932.4,690.6 933.9,693.2 935.3,694.2 936.8,695.5 938.2,697.7 939.7,698.9 941.1,700.0 942.6,700.8 944.0,701.3 945.5,702.9 946.9,703.8 948.4,705.2 949.9,706.9 951.3,706.8 952.8,707.0 954.2,707.7 955.7,707.3 957.1,706.8 958.6,706.1 960.0,705.2 961.5,704.5 963.0,703.7 964.4,702.7 965.9,701.9 967.3,701.1 968.8,700.2 970.2,699.3 971.7,698.7 973.1,698.0 974.6,696.9 976.0,695.8 977.5,694.9 979.0,694.3 980.4,693.4 981.9,692.4 983.3,691.7 984.8,690.7 986.2,689.9 987.7,689.0 989.1,688.0 990.6,687.0 992.1,686.5 993.5,685.8 995.0,684.6 996.4,683.9 997.9,682.9 999.3,681.7 1000.8,680.7 1002.2,679.6 1003.7,678.6 1005.1,677.5 1006.6,676.3 1008.1,674.9 1009.5,673.7 1011.0,672.5 1012.4,671.2 1013.9,670.1 1015.3,669.1 1016.8,667.6 1018.2,665.9 1019.7,664.7 1021.2,663.3 1023.3,661.1 L1023.3,751.1 1021.2,750.6 1019.7,750.5 1018.2,750.4 1016.8,750.0 1015.3,749.7 1013.9,749.4 1012.4,749.2 1011.0,749.0 1009.5,748.8 1008.1,748.5 1006.6,748.4 1005.1,748.5 1003.7,748.3 1002.2,747.8 1000.8,747.6 999.3,747.6 997.9,747.3 996.4,746.8 995.0,746.6 993.5,746.6 992.1,746.4 990.6,746.0 989.1,745.6 987.7,745.5 986.2,745.3 984.8,745.0 983.3,744.6 981.9,744.5 980.4,744.3 979.0,744.1 977.5,743.7 976.0,743.5 974.6,743.3 973.1,742.9 971.7,742.6 970.2,742.3 968.8,742.0 967.3,741.5 965.9,741.1 964.4,740.7 963.0,740.3 961.5,740.0 960.0,739.6 958.6,738.8 957.1,738.2 955.7,737.8 954.2,737.1 952.8,736.2 951.3,736.8 949.9,736.1 948.4,736.0 946.9,734.5 945.5,734.1 944.0,734.0 942.6,731.3 941.1,730.6 939.7,730.9 938.2,729.1 936.8,728.5 935.3,726.5 933.9,723.8 932.4,722.6 930.9,720.3 929.5,717.9 928.0,715.7 926.6,713.8 925.1,712.1 923.7,710.3 922.2,708.1 920.8,705.5 919.3,702.8 917.8,699.6 916.4,696.4 914.9,693.8 913.5,690.6 912.0,687.5 910.6,685.0 909.1,682.7 907.7,679.7 906.2,676.4 904.8,672.4 903.3,670.7 901.8,670.0 900.4,671.3 898.9,672.5 897.5,673.8 896.0,675.8 894.6,676.7 893.1,678.8 891.7,681.3 890.2,684.8 888.7,686.9 887.3,688.0 885.8,690.9 884.4,693.2 882.9,693.5 881.5,696.1 880.0,699.7 878.6,700.8 877.1,702.2 875.7,704.7 874.2,705.1 872.7,705.6 871.3,709.0 869.8,711.5 868.4,712.4 866.9,714.0 865.5,715.6 864.0,717.9 862.6,719.3 861.1,719.3 859.6,720.0 858.2,721.7 856.7,723.8 855.3,725.1 853.8,725.7 852.4,726.8 850.9,728.6 849.5,728.7 848.0,729.1 846.6,730.7 845.1,731.9 843.6,732.8 842.2,733.5 840.7,734.3 839.3,734.7 837.8,735.2 836.4,736.4 834.9,737.7 833.5,738.5 832.0,739.5 830.5,740.0 829.1,740.3 827.6,740.9 826.2,742.0 824.7,742.2 823.3,742.0 821.8,743.4 820.4,744.2 818.9,744.1 817.5,744.3 816.0,744.5 814.5,745.1 813.1,745.6 811.6,746.4 810.2,746.9 808.7,747.3 807.3,747.5 805.8,747.6 804.4,748.9 802.9,750.4 801.4,751.0 800.0,751.0 798.5,751.5 797.1,750.9 795.6,750.4 794.2,752.0 792.7,752.6 791.3,751.6 789.8,751.0 788.4,751.2 786.9,751.5 785.4,750.8 784.0,749.6 782.5,748.4 781.1,748.1 779.6,748.1 778.2,747.1 776.7,745.9 775.3,745.8 773.8,746.4 772.3,746.6 770.9,746.9 769.4,747.7 768.0,748.1 766.5,748.9 765.1,749.1 763.6,748.9 762.2,750.2 760.7,751.7 759.3,751.8 757.8,752.6 756.3,753.4 754.9,753.5 753.4,754.0 752.0,754.8 750.5,756.4 749.1,756.7 747.6,757.8 746.2,759.2 744.7,760.1 743.2,762.1 741.8,763.0 740.3,763.7 738.9,765.0 737.4,765.8 736.0,766.8 734.5,767.7 733.1,768.2 731.6,768.9 730.2,769.7 728.7,770.5 727.2,771.2 725.8,772.0 724.3,772.5 722.9,773.0 721.4,773.1 720.0,773.8 718.5,774.1 717.1,774.9 715.6,775.7Z" fill="#f9cdab"/><path d="M715.6,767.9 717.1,767.4 718.5,766.4 720.0,765.2 721.4,765.8 722.9,765.4 724.3,763.6 725.8,762.9 727.2,762.4 728.7,761.2 730.2,760.1 731.6,759.6 733.1,758.8 734.5,757.9 736.0,756.5 737.4,755.0 738.9,753.2 740.3,752.6 741.8,751.6 743.2,749.9 744.7,749.7 746.2,748.4 747.6,746.7 749.1,745.4 750.5,744.0 752.0,742.8 753.4,741.1 754.9,740.4 756.3,739.5 757.8,737.7 759.3,736.8 760.7,736.6 762.2,735.5 763.6,734.9 765.1,734.8 766.5,734.7 768.0,733.7 769.4,732.6 770.9,731.7 772.3,730.8 773.8,731.0 775.3,731.0 776.7,730.7 778.2,730.5 779.6,730.8 781.1,731.6 782.5,733.2 784.0,734.9 785.4,736.3 786.9,737.4 788.4,738.1 789.8,737.3 791.3,736.7 792.7,737.2 794.2,737.2 795.6,737.6 797.1,738.1 798.5,737.6 800.0,737.1 801.4,737.0 802.9,736.2 804.4,735.0 805.8,734.7 807.3,734.4 808.7,733.9 810.2,733.3 811.6,732.5 813.1,731.6 814.5,730.5 816.0,730.0 817.5,728.8 818.9,728.3 820.4,728.9 821.8,728.1 823.3,727.0 824.7,726.7 826.2,726.0 827.6,725.3 829.1,725.2 830.5,724.4 832.0,723.2 833.5,722.3 834.9,721.3 836.4,720.3 837.8,719.4 839.3,718.7 840.7,717.2 842.2,715.7 843.6,715.5 845.1,714.2 846.6,712.9 848.0,711.8 849.5,710.8 850.9,710.1 852.4,709.2 853.8,707.7 855.3,705.6 856.7,704.1 858.2,703.2 859.6,702.1 861.1,699.6 862.6,697.6 864.0,696.0 865.5,694.4 866.9,693.5 868.4,691.5 869.8,689.7 871.3,687.5 872.7,684.8 874.2,682.5 875.7,680.9 877.1,678.4 878.6,675.6 880.0,672.7 881.5,670.6 882.9,668.3 884.4,664.9 885.8,662.3 887.3,659.6 888.7,657.0 890.2,655.3 891.7,653.0 893.1,650.3 894.6,648.1 896.0,644.8 897.5,641.8 898.9,640.6 900.4,639.6 901.8,637.2 903.3,636.1 904.8,640.0 906.2,644.2 907.7,646.8 909.1,650.7 910.6,654.5 912.0,657.1 913.5,661.0 914.9,665.6 916.4,669.5 917.8,673.4 919.3,676.6 920.8,679.4 922.2,682.2 923.7,684.6 925.1,687.7 926.6,691.6 928.0,694.7 929.5,697.6 930.9,699.6 932.4,700.2 933.9,702.7 935.3,705.7 936.8,706.7 938.2,707.3 939.7,709.3 941.1,711.6 942.6,712.3 944.0,713.1 945.5,714.3 946.9,714.9 948.4,716.1 949.9,717.7 951.3,718.7 952.8,718.7 954.2,718.7 955.7,718.3 957.1,718.0 958.6,717.4 960.0,716.9 961.5,716.4 963.0,715.9 964.4,715.4 965.9,715.0 967.3,714.5 968.8,713.9 970.2,713.2 971.7,712.7 973.1,712.3 974.6,711.7 976.0,711.0 977.5,710.4 979.0,709.8 980.4,709.3 981.9,708.7 983.3,708.1 984.8,707.5 986.2,706.8 987.7,706.2 989.1,705.5 990.6,704.9 992.1,704.4 993.5,703.9 995.0,703.5 996.4,703.0 997.9,702.4 999.3,701.9 1000.8,701.1 1002.2,700.5 1003.7,700.1 1005.1,699.5 1006.6,698.8 1008.1,698.2 1009.5,697.8 1011.0,697.2 1012.4,696.4 1013.9,695.6 1015.3,694.9 1016.8,694.3 1018.2,693.5 1019.7,692.5 1021.2,691.5 1023.3,690.3 L1023.3,739.3 1021.2,738.8 1019.7,738.8 1018.2,738.7 1016.8,738.6 1015.3,738.5 1013.9,738.3 1012.4,738.2 1011.0,738.0 1009.5,737.7 1008.1,737.5 1006.6,737.4 1005.1,737.3 1003.7,737.2 1002.2,737.0 1000.8,737.0 999.3,736.9 997.9,736.6 996.4,736.5 995.0,736.5 993.5,736.2 992.1,736.1 990.6,736.0 989.1,735.8 987.7,735.6 986.2,735.5 984.8,735.3 983.3,735.2 981.9,735.1 980.4,734.9 979.0,734.8 977.5,734.6 976.0,734.4 974.6,734.2 973.1,734.2 971.7,734.1 970.2,733.9 968.8,733.6 967.3,733.5 965.9,733.5 964.4,733.5 963.0,733.3 961.5,733.0 960.0,733.0 958.6,732.9 957.1,732.7 955.7,732.6 954.2,732.6 952.8,733.6 951.3,732.7 949.9,731.5 948.4,730.5 946.9,729.5 945.5,729.1 944.0,728.2 942.6,726.9 941.1,725.8 939.7,723.7 938.2,722.0 936.8,721.2 935.3,718.9 933.9,717.0 932.4,715.7 930.9,713.6 929.5,711.6 928.0,709.5 926.6,707.3 925.1,704.6 923.7,702.3 922.2,700.0 920.8,696.0 919.3,692.4 917.8,690.0 916.4,687.2 914.9,684.2 913.5,681.0 912.0,677.9 910.6,674.4 909.1,671.4 907.7,669.1 906.2,666.1 904.8,662.8 903.3,660.5 901.8,660.1 900.4,660.9 898.9,661.9 897.5,663.5 896.0,665.2 894.6,667.0 893.1,669.6 891.7,672.5 890.2,675.0 888.7,677.0 887.3,679.1 885.8,681.8 884.4,684.0 882.9,686.2 881.5,688.2 880.0,690.3 878.6,692.5 877.1,693.8 875.7,696.1 874.2,698.8 872.7,699.9 871.3,701.6 869.8,704.1 868.4,705.5 866.9,707.0 865.5,708.5 864.0,709.9 862.6,711.4 861.1,713.1 859.6,715.1 858.2,716.6 856.7,717.9 855.3,719.1 853.8,719.6 852.4,720.2 850.9,721.7 849.5,723.8 848.0,724.9 846.6,725.5 845.1,726.4 843.6,727.5 842.2,728.5 840.7,728.6 839.3,729.2 837.8,730.2 836.4,731.2 834.9,732.1 833.5,732.6 832.0,733.6 830.5,734.7 829.1,735.0 827.6,735.2 826.2,735.7 824.7,736.6 823.3,737.6 821.8,738.0 820.4,738.2 818.9,739.3 817.5,740.5 816.0,741.4 814.5,742.4 813.1,742.6 811.6,742.7 810.2,742.9 808.7,742.8 807.3,744.0 805.8,744.6 804.4,744.7 802.9,745.3 801.4,746.4 800.0,747.1 798.5,747.4 797.1,747.5 795.6,747.2 794.2,747.5 792.7,747.7 791.3,747.8 789.8,747.3 788.4,746.8 786.9,746.9 785.4,746.8 784.0,745.1 782.5,744.1 781.1,743.8 779.6,742.0 778.2,741.6 776.7,742.1 775.3,742.5 773.8,742.4 772.3,742.5 770.9,743.2 769.4,743.5 768.0,743.9 766.5,744.6 765.1,745.5 763.6,745.5 762.2,745.4 760.7,746.3 759.3,747.7 757.8,748.5 756.3,749.1 754.9,749.7 753.4,750.6 752.0,751.7 750.5,753.3 749.1,755.3 747.6,756.1 746.2,756.9 744.7,757.7 743.2,758.8 741.8,760.5 740.3,761.2 738.9,762.0 737.4,763.6 736.0,764.6 734.5,765.3 733.1,766.2 731.6,767.4 730.2,768.5 728.7,768.7 727.2,769.7 725.8,770.3 724.3,770.5 722.9,771.4 721.4,771.9 720.0,772.3 718.5,772.9 717.1,772.9 715.6,773.0Z" fill="#f4a872"/><path d="M715.6,771.7 717.1,770.6 718.5,769.0 720.0,768.5 721.4,768.2 722.9,767.8 724.3,768.0 725.8,767.4 727.2,766.7 728.7,766.3 730.2,765.0 731.6,764.5 733.1,763.2 734.5,761.8 736.0,762.0 737.4,760.4 738.9,757.9 740.3,757.5 741.8,756.8 743.2,755.7 744.7,755.4 746.2,753.7 747.6,752.0 749.1,751.3 750.5,750.3 752.0,748.0 753.4,746.7 754.9,746.6 756.3,745.7 757.8,744.6 759.3,743.6 760.7,742.6 762.2,741.3 763.6,739.8 765.1,740.5 766.5,740.5 768.0,739.6 769.4,738.6 770.9,738.2 772.3,738.2 773.8,739.7 775.3,739.3 776.7,736.8 778.2,738.0 779.6,739.7 781.1,738.5 782.5,739.0 784.0,741.9 785.4,742.0 786.9,742.7 788.4,743.6 789.8,742.6 791.3,742.7 792.7,743.0 794.2,742.4 795.6,744.0 797.1,744.6 798.5,742.7 800.0,743.2 801.4,743.1 802.9,742.7 804.4,741.9 805.8,740.6 807.3,740.2 808.7,739.5 810.2,738.8 811.6,738.0 813.1,738.6 814.5,737.6 816.0,735.6 817.5,735.2 818.9,735.3 820.4,735.1 821.8,734.6 823.3,732.9 824.7,731.7 826.2,731.7 827.6,730.7 829.1,730.1 830.5,728.3 832.0,727.6 833.5,728.2 834.9,726.3 836.4,725.3 837.8,726.3 839.3,725.3 840.7,723.8 842.2,723.0 843.6,721.2 845.1,719.8 846.6,719.0 848.0,719.3 849.5,718.9 850.9,716.5 852.4,715.4 853.8,714.5 855.3,712.1 856.7,711.2 858.2,709.7 859.6,707.1 861.1,707.1 862.6,705.5 864.0,703.5 865.5,702.1 866.9,700.0 868.4,699.1 869.8,696.9 871.3,693.7 872.7,691.8 874.2,691.0 875.7,688.4 877.1,686.2 878.6,685.1 880.0,682.5 881.5,679.8 882.9,677.2 884.4,674.9 885.8,673.6 887.3,672.5 888.7,670.3 890.2,666.5 891.7,664.2 893.1,660.8 894.6,658.3 896.0,656.6 897.5,653.6 898.9,652.7 900.4,651.8 901.8,651.2 903.3,650.7 904.8,652.4 906.2,655.8 907.7,658.3 909.1,660.7 910.6,665.1 912.0,670.0 913.5,672.3 914.9,674.7 916.4,678.2 917.8,683.3 919.3,687.0 920.8,689.1 922.2,692.5 923.7,695.5 925.1,698.1 926.6,701.2 928.0,703.8 929.5,706.2 930.9,707.5 932.4,709.1 933.9,711.7 935.3,713.6 936.8,715.6 938.2,716.8 939.7,718.2 941.1,720.6 942.6,721.8 944.0,721.8 945.5,723.5 946.9,725.8 948.4,726.0 949.9,726.2 951.3,726.4 952.8,726.2 954.2,727.1" fill="none" stroke="#ee7f31" stroke-width="3.4" stroke-linejoin="round"/><path d="M954.2,727.1 955.7,727.4 957.1,727.0 958.6,726.6 960.0,726.0 961.5,726.1 963.0,726.7 964.4,726.8 965.9,727.2 967.3,726.9 968.8,726.5 970.2,726.0 971.7,726.0 973.1,726.6 974.6,726.6 976.0,726.5 977.5,726.1 979.0,726.3 980.4,725.9 981.9,725.6 983.3,726.1 984.8,725.6 986.2,724.9 987.7,725.2 989.1,725.5 990.6,725.5 992.1,725.5 993.5,725.0 995.0,724.9 996.4,725.3 997.9,725.0 999.3,724.5 1000.8,724.2 1002.2,724.4 1003.7,725.3 1005.1,724.5 1006.6,724.1 1008.1,724.7 1009.5,724.2 1011.0,723.7 1012.4,723.5 1013.9,723.3 1015.3,723.6 1016.8,724.0 1018.2,724.0 1019.7,724.0 1021.2,723.9 1023.3,723.3" fill="none" stroke="#ee7f31" stroke-width="2.9" stroke-linejoin="round" stroke-linecap="round"/></g>
<clipPath id="c2_1039"><rect x="1039.4" y="521.3" width="307.7" height="256.3"/></clipPath><g clip-path="url(#c2_1039)"><path d="M1039.4,754.2 1040.9,755.0 1042.3,754.5 1043.8,751.9 1045.2,751.6 1046.7,751.1 1048.1,747.0 1049.6,744.0 1051.0,743.8 1052.5,744.0 1053.9,739.1 1055.4,735.4 1056.9,735.0 1058.3,730.7 1059.8,728.8 1061.2,726.8 1062.7,724.3 1064.1,726.1 1065.6,725.4 1067.0,722.4 1068.5,720.6 1070.0,718.1 1071.4,716.6 1072.9,712.5 1074.3,708.8 1075.8,710.0 1077.2,708.2 1078.7,705.4 1080.1,707.3 1081.6,709.4 1083.0,706.3 1084.5,702.4 1086.0,703.5 1087.4,704.3 1088.9,701.9 1090.3,701.4 1091.8,702.0 1093.2,699.6 1094.7,701.3 1096.1,701.5 1097.6,696.5 1099.1,694.5 1100.5,697.2 1102.0,697.2 1103.4,691.6 1104.9,691.6 1106.3,694.5 1107.8,694.8 1109.2,696.7 1110.7,699.3 1112.1,699.5 1113.6,698.2 1115.1,698.8 1116.5,695.6 1118.0,693.8 1119.4,694.9 1120.9,692.4 1122.3,687.0 1123.8,689.1 1125.2,690.7 1126.7,687.3 1128.2,693.0 1129.6,695.2 1131.1,695.2 1132.5,694.3 1134.0,695.2 1135.4,698.9 1136.9,699.9 1138.3,698.1 1139.8,696.0 1141.2,695.7 1142.7,693.0 1144.2,690.2 1145.6,693.3 1147.1,692.3 1148.5,690.4 1150.0,691.0 1151.4,690.6 1152.9,688.8 1154.3,686.7 1155.8,687.6 1157.3,686.0 1158.7,685.7 1160.2,684.6 1161.6,683.8 1163.1,684.1 1164.5,685.1 1166.0,685.3 1167.4,681.9 1168.9,681.0 1170.3,681.6 1171.8,679.1 1173.3,679.0 1174.7,678.5 1176.2,675.3 1177.6,671.0 1179.1,666.7 1180.5,667.3 1182.0,663.4 1183.4,660.0 1184.9,660.2 1186.4,656.4 1187.8,654.0 1189.3,650.6 1190.7,648.5 1192.2,645.9 1193.6,641.0 1195.1,643.5 1196.5,642.4 1198.0,633.7 1199.4,634.3 1200.9,634.2 1202.4,623.1 1203.8,621.3 1205.3,626.5 1206.7,623.9 1208.2,622.1 1209.6,617.8 1211.1,612.2 1212.5,607.2 1214.0,603.1 1215.5,605.1 1216.9,602.1 1218.4,594.8 1219.8,584.1 1221.3,577.1 1222.7,571.0 1224.2,566.0 1225.6,568.1 1227.1,577.8 1228.5,585.7 1230.0,594.1 1231.5,597.4 1232.9,594.7 1234.4,598.4 1235.8,591.3 1237.3,577.4 1238.7,584.7 1240.2,601.1 1241.6,611.2 1243.1,610.3 1244.6,614.9 1246.0,620.3 1247.5,629.4 1248.9,639.2 1250.4,639.0 1251.8,644.8 1253.3,651.0 1254.7,651.6 1256.2,657.7 1257.6,663.1 1259.1,661.3 1260.6,668.4 1262.0,677.8 1263.5,681.2 1264.9,682.9 1266.4,682.0 1267.8,683.7 1269.3,687.5 1270.7,686.5 1272.2,684.6 1273.7,678.7 1275.1,672.6 1276.6,670.4 1278.0,658.4 1279.5,648.2 1280.9,637.6 1282.4,625.1 1283.8,610.3 1285.3,593.6 1286.7,574.8 1288.2,554.3 1289.7,530.8 1291.1,508.7 1292.6,491.2 1294.0,490.5 1295.5,490.4 1296.9,490.2 1298.4,490.4 1299.8,490.4 1301.3,490.8 1302.8,491.0 1304.2,490.4 1305.7,490.0 1307.1,489.7 1308.6,490.2 1310.0,490.4 1311.5,490.0 1312.9,489.4 1314.4,489.7 1315.8,490.4 1317.3,490.6 1318.8,491.1 1320.2,490.7 1321.7,489.2 1323.1,489.3 1324.6,489.3 1326.0,488.8 1327.5,490.2 1328.9,491.0 1330.4,490.2 1331.9,489.7 1333.3,489.9 1334.8,489.4 1336.2,489.7 1337.7,490.3 1339.1,491.0 1340.6,490.6 1342.0,490.2 1343.5,490.4 1344.9,490.4 1347.1,490.3 L1347.1,766.8 1344.9,767.0 1343.5,766.2 1342.0,765.9 1340.6,766.1 1339.1,766.5 1337.7,767.1 1336.2,766.9 1334.8,766.5 1333.3,766.8 1331.9,766.8 1330.4,766.8 1328.9,766.7 1327.5,766.9 1326.0,766.8 1324.6,766.8 1323.1,766.8 1321.7,766.8 1320.2,766.7 1318.8,766.8 1317.3,767.0 1315.8,766.7 1314.4,766.4 1312.9,766.3 1311.5,766.5 1310.0,766.6 1308.6,766.5 1307.1,766.5 1305.7,766.6 1304.2,766.8 1302.8,766.5 1301.3,766.1 1299.8,766.1 1298.4,765.9 1296.9,765.6 1295.5,765.9 1294.0,766.0 1292.6,765.8 1291.1,765.6 1289.7,765.4 1288.2,765.1 1286.7,764.9 1285.3,764.7 1283.8,764.3 1282.4,764.0 1280.9,763.8 1279.5,763.4 1278.0,763.5 1276.6,765.5 1275.1,766.3 1273.7,765.5 1272.2,764.2 1270.7,763.9 1269.3,763.3 1267.8,763.2 1266.4,762.5 1264.9,762.1 1263.5,759.6 1262.0,756.6 1260.6,755.5 1259.1,754.8 1257.6,752.9 1256.2,752.1 1254.7,750.1 1253.3,746.9 1251.8,746.7 1250.4,742.6 1248.9,740.7 1247.5,739.0 1246.0,736.7 1244.6,735.3 1243.1,732.9 1241.6,731.6 1240.2,728.9 1238.7,725.5 1237.3,726.3 1235.8,723.0 1234.4,716.7 1232.9,716.5 1231.5,716.7 1230.0,713.3 1228.5,711.9 1227.1,713.4 1225.6,712.4 1224.2,713.6 1222.7,716.4 1221.3,716.7 1219.8,715.7 1218.4,715.7 1216.9,714.3 1215.5,714.7 1214.0,716.5 1212.5,715.4 1211.1,715.6 1209.6,719.7 1208.2,722.4 1206.7,724.8 1205.3,727.1 1203.8,725.7 1202.4,725.9 1200.9,726.7 1199.4,728.2 1198.0,732.0 1196.5,732.6 1195.1,733.3 1193.6,734.3 1192.2,734.8 1190.7,735.3 1189.3,736.3 1187.8,738.3 1186.4,739.5 1184.9,739.7 1183.4,740.2 1182.0,741.1 1180.5,743.1 1179.1,744.8 1177.6,745.3 1176.2,746.1 1174.7,745.6 1173.3,746.0 1171.8,746.0 1170.3,747.1 1168.9,749.0 1167.4,748.9 1166.0,749.1 1164.5,750.4 1163.1,751.2 1161.6,750.7 1160.2,751.2 1158.7,752.1 1157.3,753.3 1155.8,754.1 1154.3,752.8 1152.9,753.4 1151.4,753.7 1150.0,754.6 1148.5,756.5 1147.1,755.3 1145.6,756.4 1144.2,757.6 1142.7,757.2 1141.2,756.7 1139.8,756.5 1138.3,757.5 1136.9,758.3 1135.4,758.9 1134.0,761.1 1132.5,760.9 1131.1,758.6 1129.6,758.9 1128.2,759.3 1126.7,760.0 1125.2,761.1 1123.8,760.5 1122.3,759.8 1120.9,760.2 1119.4,761.1 1118.0,761.2 1116.5,760.8 1115.1,760.6 1113.6,761.1 1112.1,762.1 1110.7,762.7 1109.2,762.3 1107.8,760.9 1106.3,761.4 1104.9,761.7 1103.4,761.3 1102.0,761.1 1100.5,760.2 1099.1,759.7 1097.6,759.5 1096.1,760.2 1094.7,760.5 1093.2,759.8 1091.8,759.2 1090.3,758.9 1088.9,760.1 1087.4,760.0 1086.0,758.7 1084.5,760.5 1083.0,762.0 1081.6,761.7 1080.1,762.9 1078.7,762.6 1077.2,762.8 1075.8,764.1 1074.3,764.1 1072.9,765.9 1071.4,767.1 1070.0,766.9 1068.5,767.2 1067.0,768.3 1065.6,769.4 1064.1,769.7 1062.7,770.2 1061.2,770.9 1059.8,770.8 1058.3,771.3 1056.9,772.4 1055.4,772.4 1053.9,772.0 1052.5,772.0 1051.0,772.3 1049.6,773.3 1048.1,774.3 1046.7,775.0 1045.2,774.8 1043.8,774.8 1042.3,775.1 1040.9,775.4 1039.4,775.6Z" fill="#fdf0e7"/><path d="M1039.4,763.1 1040.9,761.9 1042.3,761.3 1043.8,760.5 1045.2,760.6 1046.7,759.4 1048.1,757.7 1049.6,757.4 1051.0,756.8 1052.5,756.5 1053.9,755.7 1055.4,754.3 1056.9,753.9 1058.3,752.4 1059.8,750.6 1061.2,749.2 1062.7,748.2 1064.1,747.9 1065.6,747.2 1067.0,745.5 1068.5,743.3 1070.0,741.5 1071.4,739.7 1072.9,738.5 1074.3,738.2 1075.8,735.5 1077.2,732.3 1078.7,732.9 1080.1,732.0 1081.6,730.5 1083.0,729.7 1084.5,729.0 1086.0,729.2 1087.4,728.1 1088.9,727.4 1090.3,726.6 1091.8,725.7 1093.2,725.9 1094.7,725.4 1096.1,723.4 1097.6,721.7 1099.1,721.4 1100.5,721.4 1102.0,721.6 1103.4,722.0 1104.9,723.5 1106.3,725.5 1107.8,727.1 1109.2,728.7 1110.7,730.1 1112.1,730.2 1113.6,730.7 1115.1,731.5 1116.5,730.9 1118.0,731.0 1119.4,731.3 1120.9,731.4 1122.3,730.9 1123.8,730.2 1125.2,728.7 1126.7,728.3 1128.2,728.2 1129.6,727.2 1131.1,728.0 1132.5,726.6 1134.0,724.9 1135.4,725.8 1136.9,725.7 1138.3,725.1 1139.8,723.4 1141.2,721.7 1142.7,722.0 1144.2,721.6 1145.6,721.5 1147.1,721.1 1148.5,719.7 1150.0,719.1 1151.4,718.1 1152.9,717.2 1154.3,716.3 1155.8,715.4 1157.3,714.6 1158.7,713.9 1160.2,712.5 1161.6,710.6 1163.1,710.6 1164.5,710.4 1166.0,708.6 1167.4,707.2 1168.9,706.0 1170.3,706.0 1171.8,704.5 1173.3,703.1 1174.7,702.2 1176.2,700.1 1177.6,699.0 1179.1,697.1 1180.5,696.3 1182.0,695.4 1183.4,693.0 1184.9,690.3 1186.4,689.9 1187.8,689.5 1189.3,686.4 1190.7,683.4 1192.2,681.5 1193.6,679.5 1195.1,677.9 1196.5,674.9 1198.0,671.7 1199.4,669.4 1200.9,667.6 1202.4,666.8 1203.8,663.1 1205.3,659.4 1206.7,657.5 1208.2,654.0 1209.6,649.2 1211.1,647.2 1212.5,645.4 1214.0,641.5 1215.5,639.2 1216.9,636.6 1218.4,631.2 1219.8,628.5 1221.3,626.8 1222.7,625.1 1224.2,622.6 1225.6,619.4 1227.1,620.8 1228.5,625.2 1230.0,628.3 1231.5,632.2 1232.9,636.9 1234.4,641.9 1235.8,647.9 1237.3,649.7 1238.7,651.0 1240.2,655.0 1241.6,658.9 1243.1,662.7 1244.6,666.8 1246.0,671.4 1247.5,673.6 1248.9,675.0 1250.4,677.7 1251.8,682.5 1253.3,687.3 1254.7,687.9 1256.2,688.2 1257.6,691.4 1259.1,695.1 1260.6,697.5 1262.0,698.5 1263.5,699.7 1264.9,701.0 1266.4,701.3 1267.8,703.3 1269.3,704.8 1270.7,703.8 1272.2,704.5 1273.7,705.0 1275.1,706.3 1276.6,709.3 1278.0,710.1 1279.5,709.9 1280.9,709.0 1282.4,707.2 1283.8,704.7 1285.3,702.1 1286.7,699.8 1288.2,697.4 1289.7,694.8 1291.1,692.2 1292.6,689.4 1294.0,686.3 1295.5,682.8 1296.9,679.4 1298.4,675.7 1299.8,671.2 1301.3,666.2 1302.8,661.2 1304.2,655.9 1305.7,650.1 1307.1,643.9 1308.6,636.1 1310.0,628.0 1311.5,620.6 1312.9,612.5 1314.4,602.5 1315.8,592.3 1317.3,582.2 1318.8,571.5 1320.2,560.5 1321.7,549.4 1323.1,538.5 1324.6,528.5 1326.0,517.4 1327.5,501.7 1328.9,497.3 1330.4,497.3 1331.9,497.6 1333.3,497.8 1334.8,497.7 1336.2,497.5 1337.7,497.2 1339.1,497.1 1340.6,496.8 1342.0,496.5 1343.5,497.1 1344.9,497.2 1347.1,497.1 L1347.1,744.6 1344.9,745.5 1343.5,745.3 1342.0,745.3 1340.6,745.2 1339.1,745.6 1337.7,746.1 1336.2,746.2 1334.8,745.9 1333.3,745.6 1331.9,745.9 1330.4,745.6 1328.9,745.5 1327.5,745.6 1326.0,745.5 1324.6,745.5 1323.1,745.3 1321.7,745.4 1320.2,745.5 1318.8,745.1 1317.3,744.8 1315.8,744.7 1314.4,744.8 1312.9,744.6 1311.5,744.3 1310.0,744.1 1308.6,744.1 1307.1,744.0 1305.7,743.8 1304.2,743.7 1302.8,743.4 1301.3,743.1 1299.8,743.1 1298.4,742.7 1296.9,742.3 1295.5,742.1 1294.0,741.7 1292.6,741.5 1291.1,741.2 1289.7,740.9 1288.2,740.5 1286.7,740.0 1285.3,739.5 1283.8,739.0 1282.4,738.4 1280.9,737.9 1279.5,737.4 1278.0,736.9 1276.6,736.6 1275.1,736.6 1273.7,736.3 1272.2,735.1 1270.7,734.6 1269.3,734.1 1267.8,732.9 1266.4,732.9 1264.9,731.7 1263.5,729.5 1262.0,728.0 1260.6,726.5 1259.1,725.9 1257.6,724.5 1256.2,722.5 1254.7,719.8 1253.3,717.8 1251.8,717.5 1250.4,716.1 1248.9,712.4 1247.5,709.5 1246.0,706.5 1244.6,703.8 1243.1,702.2 1241.6,698.9 1240.2,697.1 1238.7,694.3 1237.3,690.6 1235.8,686.8 1234.4,683.4 1232.9,682.2 1231.5,678.9 1230.0,676.7 1228.5,675.3 1227.1,672.6 1225.6,672.5 1224.2,672.7 1222.7,673.5 1221.3,675.0 1219.8,676.6 1218.4,678.0 1216.9,680.5 1215.5,682.3 1214.0,684.6 1212.5,686.5 1211.1,687.9 1209.6,690.5 1208.2,692.6 1206.7,694.3 1205.3,695.8 1203.8,698.2 1202.4,700.6 1200.9,702.8 1199.4,704.0 1198.0,705.8 1196.5,707.0 1195.1,709.1 1193.6,711.8 1192.2,712.9 1190.7,714.6 1189.3,715.6 1187.8,717.3 1186.4,719.0 1184.9,720.8 1183.4,722.3 1182.0,723.2 1180.5,724.7 1179.1,724.8 1177.6,725.5 1176.2,725.8 1174.7,726.1 1173.3,728.2 1171.8,729.4 1170.3,730.5 1168.9,732.2 1167.4,733.4 1166.0,733.5 1164.5,733.7 1163.1,735.5 1161.6,736.4 1160.2,736.6 1158.7,737.1 1157.3,738.3 1155.8,739.4 1154.3,739.4 1152.9,739.0 1151.4,738.8 1150.0,740.2 1148.5,742.1 1147.1,743.0 1145.6,743.8 1144.2,744.3 1142.7,743.8 1141.2,744.2 1139.8,744.7 1138.3,745.8 1136.9,747.7 1135.4,748.1 1134.0,747.4 1132.5,747.0 1131.1,747.3 1129.6,748.1 1128.2,748.6 1126.7,749.9 1125.2,751.1 1123.8,751.1 1122.3,751.2 1120.9,751.4 1119.4,751.7 1118.0,751.9 1116.5,751.8 1115.1,751.2 1113.6,751.6 1112.1,751.2 1110.7,751.4 1109.2,751.4 1107.8,749.5 1106.3,747.9 1104.9,746.9 1103.4,746.4 1102.0,746.6 1100.5,747.6 1099.1,746.7 1097.6,746.5 1096.1,746.7 1094.7,747.2 1093.2,747.7 1091.8,747.7 1090.3,748.3 1088.9,748.6 1087.4,749.3 1086.0,749.9 1084.5,750.7 1083.0,751.6 1081.6,751.8 1080.1,752.6 1078.7,753.8 1077.2,754.9 1075.8,755.5 1074.3,755.8 1072.9,756.4 1071.4,757.5 1070.0,758.6 1068.5,759.9 1067.0,761.0 1065.6,762.6 1064.1,764.3 1062.7,765.4 1061.2,765.8 1059.8,766.4 1058.3,767.5 1056.9,769.0 1055.4,770.4 1053.9,770.5 1052.5,771.1 1051.0,772.0 1049.6,771.6 1048.1,772.0 1046.7,773.7 1045.2,774.5 1043.8,774.5 1042.3,774.6 1040.9,774.6 1039.4,775.3Z" fill="#f9cdab"/><path d="M1039.4,766.9 1040.9,766.5 1042.3,766.1 1043.8,765.7 1045.2,765.7 1046.7,764.3 1048.1,762.8 1049.6,762.7 1051.0,762.6 1052.5,761.7 1053.9,760.6 1055.4,759.8 1056.9,758.9 1058.3,758.3 1059.8,757.2 1061.2,755.3 1062.7,753.8 1064.1,753.0 1065.6,751.6 1067.0,750.3 1068.5,749.1 1070.0,747.7 1071.4,746.7 1072.9,745.4 1074.3,743.5 1075.8,742.0 1077.2,741.1 1078.7,740.9 1080.1,739.9 1081.6,738.8 1083.0,738.0 1084.5,736.0 1086.0,735.2 1087.4,734.9 1088.9,733.6 1090.3,733.0 1091.8,733.4 1093.2,732.7 1094.7,731.4 1096.1,731.8 1097.6,731.8 1099.1,730.5 1100.5,730.0 1102.0,730.4 1103.4,730.8 1104.9,732.2 1106.3,733.3 1107.8,734.4 1109.2,736.3 1110.7,736.8 1112.1,736.8 1113.6,737.5 1115.1,737.3 1116.5,736.9 1118.0,736.9 1119.4,737.1 1120.9,737.4 1122.3,737.5 1123.8,737.7 1125.2,736.9 1126.7,735.8 1128.2,735.2 1129.6,734.6 1131.1,733.6 1132.5,733.3 1134.0,733.2 1135.4,732.5 1136.9,731.4 1138.3,730.8 1139.8,731.3 1141.2,730.6 1142.7,728.9 1144.2,728.0 1145.6,727.8 1147.1,727.2 1148.5,726.4 1150.0,725.8 1151.4,725.0 1152.9,724.2 1154.3,723.3 1155.8,722.5 1157.3,722.2 1158.7,721.2 1160.2,720.2 1161.6,719.2 1163.1,718.0 1164.5,717.2 1166.0,716.7 1167.4,715.5 1168.9,714.5 1170.3,713.2 1171.8,711.6 1173.3,711.1 1174.7,710.2 1176.2,708.3 1177.6,706.3 1179.1,705.6 1180.5,704.2 1182.0,702.7 1183.4,701.4 1184.9,699.7 1186.4,699.1 1187.8,698.0 1189.3,695.7 1190.7,692.9 1192.2,690.8 1193.6,689.3 1195.1,687.1 1196.5,685.3 1198.0,682.5 1199.4,679.8 1200.9,678.2 1202.4,675.4 1203.8,673.6 1205.3,670.9 1206.7,667.6 1208.2,665.5 1209.6,662.0 1211.1,658.7 1212.5,656.5 1214.0,654.8 1215.5,652.8 1216.9,650.0 1218.4,647.2 1219.8,643.7 1221.3,641.2 1222.7,639.5 1224.2,638.1 1225.6,638.0 1227.1,639.3 1228.5,641.9 1230.0,644.9 1231.5,647.4 1232.9,650.6 1234.4,654.2 1235.8,658.3 1237.3,662.0 1238.7,665.1 1240.2,668.8 1241.6,672.2 1243.1,676.2 1244.6,679.5 1246.0,682.5 1247.5,685.3 1248.9,688.7 1250.4,691.7 1251.8,694.2 1253.3,697.8 1254.7,698.8 1256.2,699.7 1257.6,702.6 1259.1,705.4 1260.6,707.1 1262.0,708.4 1263.5,709.8 1264.9,711.2 1266.4,712.3 1267.8,713.5 1269.3,713.9 1270.7,713.9 1272.2,716.6 1273.7,718.5 1275.1,718.3 1276.6,719.5 1278.0,719.3 1279.5,718.7 1280.9,717.9 1282.4,717.1 1283.8,716.2 1285.3,715.1 1286.7,714.1 1288.2,713.1 1289.7,711.9 1291.1,710.8 1292.6,709.5 1294.0,708.0 1295.5,706.5 1296.9,704.9 1298.4,703.2 1299.8,701.3 1301.3,699.6 1302.8,697.7 1304.2,695.8 1305.7,693.9 1307.1,691.7 1308.6,689.5 1310.0,687.5 1311.5,685.4 1312.9,682.9 1314.4,680.4 1315.8,677.7 1317.3,675.0 1318.8,672.0 1320.2,669.0 1321.7,666.0 1323.1,662.9 1324.6,659.4 1326.0,655.1 1327.5,650.9 1328.9,646.5 1330.4,641.4 1331.9,636.0 1333.3,630.2 1334.8,624.3 1336.2,617.4 1337.7,608.8 1339.1,601.1 1340.6,593.6 1342.0,584.0 1343.5,575.9 1344.9,568.2 1347.1,555.8 L1347.1,727.8 1344.9,728.5 1343.5,728.7 1342.0,729.3 1340.6,729.7 1339.1,729.9 1337.7,730.1 1336.2,730.4 1334.8,730.5 1333.3,730.6 1331.9,730.6 1330.4,730.7 1328.9,731.0 1327.5,731.2 1326.0,731.3 1324.6,731.4 1323.1,731.7 1321.7,731.8 1320.2,731.8 1318.8,732.2 1317.3,732.2 1315.8,732.3 1314.4,732.5 1312.9,732.6 1311.5,732.5 1310.0,732.6 1308.6,732.8 1307.1,733.0 1305.7,733.1 1304.2,733.1 1302.8,733.1 1301.3,733.3 1299.8,733.4 1298.4,733.3 1296.9,733.4 1295.5,733.6 1294.0,733.5 1292.6,733.5 1291.1,733.5 1289.7,733.5 1288.2,733.5 1286.7,733.4 1285.3,733.2 1283.8,733.2 1282.4,733.0 1280.9,732.7 1279.5,732.5 1278.0,732.4 1276.6,732.0 1275.1,731.6 1273.7,731.5 1272.2,731.6 1270.7,730.4 1269.3,728.8 1267.8,728.3 1266.4,726.9 1264.9,725.2 1263.5,724.5 1262.0,723.2 1260.6,721.4 1259.1,719.4 1257.6,717.9 1256.2,716.0 1254.7,713.4 1253.3,712.0 1251.8,710.1 1250.4,707.3 1248.9,703.9 1247.5,701.5 1246.0,699.8 1244.6,696.7 1243.1,693.6 1241.6,690.7 1240.2,687.7 1238.7,684.2 1237.3,680.7 1235.8,678.7 1234.4,675.9 1232.9,671.6 1231.5,668.5 1230.0,665.7 1228.5,662.7 1227.1,660.2 1225.6,659.7 1224.2,660.6 1222.7,661.9 1221.3,664.7 1219.8,666.6 1218.4,667.5 1216.9,669.5 1215.5,672.5 1214.0,675.2 1212.5,677.4 1211.1,679.0 1209.6,681.2 1208.2,684.2 1206.7,686.1 1205.3,687.6 1203.8,690.2 1202.4,692.8 1200.9,694.9 1199.4,697.0 1198.0,698.6 1196.5,699.8 1195.1,701.6 1193.6,703.8 1192.2,706.0 1190.7,708.2 1189.3,709.2 1187.8,710.4 1186.4,712.5 1184.9,714.5 1183.4,715.3 1182.0,715.8 1180.5,717.1 1179.1,717.7 1177.6,719.6 1176.2,721.4 1174.7,721.9 1173.3,723.5 1171.8,724.9 1170.3,725.3 1168.9,725.7 1167.4,727.0 1166.0,728.7 1164.5,728.7 1163.1,728.7 1161.6,729.8 1160.2,730.9 1158.7,732.1 1157.3,732.9 1155.8,733.5 1154.3,734.2 1152.9,734.3 1151.4,734.3 1150.0,735.1 1148.5,736.5 1147.1,737.8 1145.6,738.7 1144.2,739.3 1142.7,739.9 1141.2,740.6 1139.8,740.8 1138.3,741.0 1136.9,741.3 1135.4,742.5 1134.0,742.9 1132.5,743.2 1131.1,744.1 1129.6,744.6 1128.2,745.6 1126.7,746.1 1125.2,746.9 1123.8,747.1 1122.3,747.1 1120.9,747.7 1119.4,748.2 1118.0,747.6 1116.5,746.5 1115.1,746.8 1113.6,747.0 1112.1,747.0 1110.7,746.9 1109.2,746.2 1107.8,745.9 1106.3,744.2 1104.9,742.9 1103.4,743.2 1102.0,742.4 1100.5,742.2 1099.1,742.4 1097.6,742.3 1096.1,742.4 1094.7,743.0 1093.2,743.8 1091.8,744.3 1090.3,743.9 1088.9,744.2 1087.4,745.3 1086.0,745.5 1084.5,746.4 1083.0,747.8 1081.6,747.7 1080.1,748.3 1078.7,750.4 1077.2,751.7 1075.8,752.1 1074.3,752.9 1072.9,753.9 1071.4,755.6 1070.0,757.1 1068.5,757.6 1067.0,758.8 1065.6,760.1 1064.1,761.5 1062.7,762.7 1061.2,763.8 1059.8,764.9 1058.3,766.0 1056.9,767.1 1055.4,767.5 1053.9,767.7 1052.5,768.1 1051.0,769.0 1049.6,769.8 1048.1,770.7 1046.7,771.2 1045.2,771.7 1043.8,772.3 1042.3,772.6 1040.9,773.1 1039.4,773.7Z" fill="#f4a872"/><path d="M1039.4,771.6 1040.9,769.9 1042.3,769.2 1043.8,768.5 1045.2,769.6 1046.7,769.9 1048.1,768.3 1049.6,767.9 1051.0,768.2 1052.5,767.0 1053.9,765.8 1055.4,765.5 1056.9,763.8 1058.3,761.7 1059.8,761.3 1061.2,760.8 1062.7,758.8 1064.1,758.1 1065.6,757.1 1067.0,756.4 1068.5,754.8 1070.0,753.0 1071.4,752.3 1072.9,751.0 1074.3,750.0 1075.8,748.6 1077.2,747.8 1078.7,746.5 1080.1,744.1 1081.6,743.6 1083.0,744.3 1084.5,743.2 1086.0,741.4 1087.4,740.8 1088.9,740.7 1090.3,740.3 1091.8,740.0 1093.2,738.7 1094.7,739.0 1096.1,739.9 1097.6,738.3 1099.1,738.5 1100.5,739.1 1102.0,739.2 1103.4,738.6 1104.9,739.5 1106.3,741.2 1107.8,740.1 1109.2,741.6 1110.7,743.4 1112.1,742.8 1113.6,742.9 1115.1,742.3 1116.5,742.8 1118.0,743.8 1119.4,743.3 1120.9,744.3 1122.3,744.4 1123.8,742.9 1125.2,741.8 1126.7,741.5 1128.2,741.9 1129.6,740.9 1131.1,739.1 1132.5,739.4 1134.0,739.5 1135.4,738.3 1136.9,738.9 1138.3,737.6 1139.8,735.9 1141.2,734.9 1142.7,734.0 1144.2,734.7 1145.6,734.9 1147.1,733.1 1148.5,732.2 1150.0,732.7 1151.4,731.4 1152.9,731.7 1154.3,731.0 1155.8,728.3 1157.3,727.7 1158.7,726.3 1160.2,726.2 1161.6,727.0 1163.1,725.0 1164.5,723.9 1166.0,723.5 1167.4,723.4 1168.9,721.7 1170.3,718.8 1171.8,716.9 1173.3,716.3 1174.7,715.4 1176.2,714.2 1177.6,714.1 1179.1,712.7 1180.5,710.6 1182.0,710.3 1183.4,709.3 1184.9,707.4 1186.4,706.6 1187.8,704.1 1189.3,701.5 1190.7,702.0 1192.2,700.7 1193.6,696.7 1195.1,694.6 1196.5,692.8 1198.0,690.1 1199.4,688.1 1200.9,686.6 1202.4,684.6 1203.8,682.7 1205.3,679.4 1206.7,675.9 1208.2,675.0 1209.6,673.3 1211.1,671.1 1212.5,669.2 1214.0,665.2 1215.5,662.7 1216.9,660.3 1218.4,657.9 1219.8,657.2 1221.3,656.3 1222.7,653.7 1224.2,651.4 1225.6,650.9 1227.1,651.5 1228.5,652.1 1230.0,654.4 1231.5,658.8 1232.9,662.6 1234.4,665.6 1235.8,669.4 1237.3,673.9 1238.7,676.9 1240.2,679.5 1241.6,682.7 1243.1,686.2 1244.6,690.3 1246.0,694.0 1247.5,695.9 1248.9,697.2 1250.4,699.7 1251.8,703.3 1253.3,706.3 1254.7,708.1 1256.2,710.3 1257.6,712.4 1259.1,714.0 1260.6,714.9 1262.0,716.3 1263.5,718.5 1264.9,720.6 1266.4,721.7 1267.8,722.5 1269.3,724.6 1270.7,725.4 1272.2,725.5 1273.7,726.3 1275.1,726.2 1276.6,725.6 1278.0,726.3" fill="none" stroke="#ee7f31" stroke-width="3.4" stroke-linejoin="round"/><path d="M1278.0,726.3 1279.5,726.4 1280.9,726.5 1282.4,725.9 1283.8,724.9 1285.3,724.7 1286.7,724.0 1288.2,723.2 1289.7,722.7 1291.1,721.4 1292.6,720.4 1294.0,720.0 1295.5,720.0 1296.9,719.7 1298.4,718.8 1299.8,718.8 1301.3,717.9 1302.8,716.8 1304.2,716.4 1305.7,715.6 1307.1,715.2 1308.6,714.8 1310.0,714.0 1311.5,713.0 1312.9,711.8 1314.4,710.9 1315.8,709.9 1317.3,708.6 1318.8,707.8 1320.2,707.5 1321.7,706.3 1323.1,704.8 1324.6,703.8 1326.0,702.9 1327.5,701.8 1328.9,701.1 1330.4,699.6 1331.9,698.0 1333.3,697.2 1334.8,696.0 1336.2,694.6 1337.7,693.1 1339.1,691.9 1340.6,691.2 1342.0,690.7 1343.5,689.2 1344.9,687.8 1347.1,686.5" fill="none" stroke="#ee7f31" stroke-width="2.9" stroke-linejoin="round" stroke-linecap="round"/></g>
<clipPath id="c2_1363"><rect x="1363.2" y="521.3" width="307.7" height="256.3"/></clipPath><g clip-path="url(#c2_1363)"><path d="M1363.2,754.8 1364.7,753.8 1366.1,753.4 1367.6,754.0 1369.0,751.8 1370.5,749.1 1371.9,747.3 1373.4,745.2 1374.8,743.5 1376.3,742.1 1377.7,739.2 1379.2,735.8 1380.7,733.5 1382.1,733.5 1383.6,731.5 1385.0,730.3 1386.5,728.5 1387.9,726.4 1389.4,723.0 1390.8,718.1 1392.3,718.6 1393.8,718.3 1395.2,715.3 1396.7,715.7 1398.1,714.2 1399.6,709.9 1401.0,707.6 1402.5,708.8 1403.9,710.3 1405.4,707.6 1406.8,703.1 1408.3,702.4 1409.8,703.6 1411.2,703.0 1412.7,704.5 1414.1,701.8 1415.6,699.5 1417.0,700.5 1418.5,698.5 1419.9,694.5 1421.4,690.5 1422.9,688.3 1424.3,686.9 1425.8,689.8 1427.2,693.0 1428.7,690.2 1430.1,691.6 1431.6,693.2 1433.0,689.0 1434.5,694.8 1435.9,703.4 1437.4,698.5 1438.9,694.2 1440.3,695.8 1441.8,694.8 1443.2,691.0 1444.7,689.1 1446.1,689.2 1447.6,688.7 1449.0,690.1 1450.5,691.8 1452.0,691.5 1453.4,693.8 1454.9,693.9 1456.3,697.8 1457.8,698.6 1459.2,696.3 1460.7,699.0 1462.1,698.7 1463.6,697.2 1465.0,697.2 1466.5,693.6 1468.0,690.3 1469.4,691.6 1470.9,690.0 1472.3,687.9 1473.8,690.1 1475.2,689.1 1476.7,685.4 1478.1,685.6 1479.6,685.5 1481.1,685.8 1482.5,685.4 1484.0,685.5 1485.4,685.8 1486.9,685.8 1488.3,687.5 1489.8,685.1 1491.2,685.1 1492.7,685.2 1494.1,682.5 1495.6,681.7 1497.1,678.1 1498.5,672.2 1500.0,672.8 1501.4,672.3 1502.9,665.8 1504.3,666.8 1505.8,666.1 1507.2,665.4 1508.7,666.1 1510.2,661.6 1511.6,656.5 1513.1,654.2 1514.5,648.8 1516.0,645.4 1517.4,646.1 1518.9,642.6 1520.3,640.6 1521.8,636.3 1523.2,635.2 1524.7,638.3 1526.2,631.0 1527.6,625.6 1529.1,628.3 1530.5,625.6 1532.0,616.6 1533.4,610.0 1534.9,610.8 1536.3,614.1 1537.8,606.5 1539.3,598.9 1540.7,595.9 1542.2,590.6 1543.6,588.3 1545.1,583.4 1546.5,573.1 1548.0,571.7 1549.4,573.8 1550.9,577.7 1552.3,589.3 1553.8,594.7 1555.3,595.3 1556.7,598.7 1558.2,591.1 1559.6,582.0 1561.1,585.4 1562.5,591.0 1564.0,598.0 1565.4,605.7 1566.9,608.2 1568.4,614.1 1569.8,625.0 1571.3,632.7 1572.7,637.3 1574.2,639.1 1575.6,641.5 1577.1,646.7 1578.5,653.0 1580.0,659.5 1581.4,662.9 1582.9,663.7 1584.4,667.8 1585.8,672.1 1587.3,675.8 1588.7,676.3 1590.2,676.5 1591.6,679.2 1593.1,671.8 1594.5,655.3 1596.0,649.4 1597.5,649.8 1598.9,641.7 1600.4,633.6 1601.8,622.6 1603.3,608.4 1604.7,591.6 1606.2,570.4 1607.6,548.6 1609.1,528.4 1610.5,508.9 1612.0,490.8 1613.5,489.0 1614.9,489.0 1616.4,490.0 1617.8,491.5 1619.3,492.3 1620.7,491.0 1622.2,489.7 1623.6,489.9 1625.1,489.8 1626.6,489.7 1628.0,490.5 1629.5,490.2 1630.9,490.2 1632.4,490.2 1633.8,489.8 1635.3,490.7 1636.7,491.3 1638.2,490.4 1639.6,489.7 1641.1,489.9 1642.6,490.6 1644.0,491.0 1645.5,491.4 1646.9,491.2 1648.4,489.9 1649.8,490.7 1651.3,491.9 1652.7,491.3 1654.2,491.4 1655.7,490.2 1657.1,489.3 1658.6,489.8 1660.0,490.6 1661.5,490.2 1662.9,489.5 1664.4,490.9 1665.8,491.4 1667.3,490.4 1668.7,491.0 1670.9,490.5 L1670.9,765.7 1668.7,765.4 1667.3,765.5 1665.8,765.3 1664.4,765.5 1662.9,765.5 1661.5,765.4 1660.0,765.4 1658.6,765.4 1657.1,764.6 1655.7,764.6 1654.2,765.2 1652.7,764.9 1651.3,764.5 1649.8,764.3 1648.4,764.1 1646.9,764.1 1645.5,764.1 1644.0,764.2 1642.6,764.2 1641.1,763.9 1639.6,763.9 1638.2,764.2 1636.7,763.7 1635.3,763.1 1633.8,763.7 1632.4,764.1 1630.9,763.8 1629.5,764.0 1628.0,764.0 1626.6,763.5 1625.1,763.4 1623.6,763.9 1622.2,764.0 1620.7,763.7 1619.3,763.4 1617.8,763.6 1616.4,763.9 1614.9,763.5 1613.5,763.4 1612.0,763.5 1610.5,763.6 1609.1,763.4 1607.6,763.5 1606.2,763.6 1604.7,763.5 1603.3,763.7 1601.8,763.8 1600.4,764.5 1598.9,765.1 1597.5,766.2 1596.0,765.9 1594.5,763.5 1593.1,761.1 1591.6,759.7 1590.2,759.6 1588.7,759.9 1587.3,759.0 1585.8,758.3 1584.4,757.1 1582.9,755.2 1581.4,754.0 1580.0,752.2 1578.5,749.7 1577.1,748.0 1575.6,747.3 1574.2,744.9 1572.7,741.7 1571.3,739.4 1569.8,738.2 1568.4,737.0 1566.9,733.7 1565.4,729.0 1564.0,727.4 1562.5,722.9 1561.1,718.3 1559.6,718.6 1558.2,717.1 1556.7,716.1 1555.3,712.3 1553.8,709.6 1552.3,711.9 1550.9,711.8 1549.4,709.9 1548.0,709.8 1546.5,712.5 1545.1,714.2 1543.6,716.0 1542.2,716.7 1540.7,715.6 1539.3,720.1 1537.8,720.1 1536.3,720.1 1534.9,721.2 1533.4,718.5 1532.0,719.8 1530.5,723.2 1529.1,727.0 1527.6,727.7 1526.2,727.5 1524.7,730.4 1523.2,732.6 1521.8,731.2 1520.3,730.9 1518.9,732.5 1517.4,734.3 1516.0,735.5 1514.5,734.9 1513.1,736.3 1511.6,738.1 1510.2,738.2 1508.7,738.2 1507.2,740.6 1505.8,742.5 1504.3,744.3 1502.9,746.1 1501.4,746.1 1500.0,745.6 1498.5,746.8 1497.1,747.6 1495.6,747.0 1494.1,746.1 1492.7,746.4 1491.2,747.3 1489.8,747.8 1488.3,749.8 1486.9,752.0 1485.4,750.9 1484.0,751.2 1482.5,753.6 1481.1,753.0 1479.6,753.7 1478.1,753.9 1476.7,753.9 1475.2,754.5 1473.8,755.9 1472.3,757.0 1470.9,757.2 1469.4,758.2 1468.0,757.8 1466.5,757.3 1465.0,757.4 1463.6,758.4 1462.1,759.0 1460.7,760.0 1459.2,759.1 1457.8,758.4 1456.3,760.0 1454.9,760.5 1453.4,760.6 1452.0,760.4 1450.5,760.1 1449.0,759.3 1447.6,759.5 1446.1,761.1 1444.7,761.6 1443.2,760.4 1441.8,760.2 1440.3,761.5 1438.9,761.6 1437.4,761.8 1435.9,762.0 1434.5,760.9 1433.0,761.8 1431.6,761.2 1430.1,760.3 1428.7,760.6 1427.2,760.1 1425.8,760.2 1424.3,759.2 1422.9,759.3 1421.4,758.7 1419.9,758.3 1418.5,758.5 1417.0,758.5 1415.6,759.2 1414.1,758.5 1412.7,757.3 1411.2,758.9 1409.8,760.7 1408.3,761.2 1406.8,761.0 1405.4,761.5 1403.9,762.7 1402.5,762.9 1401.0,763.7 1399.6,764.4 1398.1,765.5 1396.7,766.8 1395.2,766.4 1393.8,767.1 1392.3,768.3 1390.8,767.8 1389.4,768.0 1387.9,769.4 1386.5,770.2 1385.0,770.5 1383.6,771.5 1382.1,771.7 1380.7,771.7 1379.2,771.6 1377.7,771.6 1376.3,771.8 1374.8,772.0 1373.4,773.1 1371.9,774.3 1370.5,774.2 1369.0,774.1 1367.6,775.2 1366.1,775.6 1364.7,775.9 1363.2,776.0Z" fill="#fdf0e7"/><path d="M1363.2,763.8 1364.7,763.2 1366.1,762.4 1367.6,760.9 1369.0,760.4 1370.5,760.3 1371.9,758.4 1373.4,757.0 1374.8,757.2 1376.3,755.6 1377.7,753.9 1379.2,753.8 1380.7,752.8 1382.1,751.2 1383.6,751.2 1385.0,750.0 1386.5,747.7 1387.9,745.9 1389.4,744.6 1390.8,743.8 1392.3,743.8 1393.8,743.4 1395.2,740.6 1396.7,739.4 1398.1,738.7 1399.6,736.2 1401.0,734.8 1402.5,733.8 1403.9,731.9 1405.4,729.8 1406.8,728.8 1408.3,728.8 1409.8,728.2 1411.2,727.0 1412.7,726.9 1414.1,726.0 1415.6,725.3 1417.0,724.8 1418.5,723.6 1419.9,722.5 1421.4,721.8 1422.9,721.5 1424.3,720.2 1425.8,720.6 1427.2,722.2 1428.7,723.9 1430.1,725.6 1431.6,726.4 1433.0,727.6 1434.5,728.2 1435.9,728.6 1437.4,730.5 1438.9,731.8 1440.3,731.6 1441.8,731.0 1443.2,730.9 1444.7,731.0 1446.1,729.8 1447.6,728.8 1449.0,729.7 1450.5,730.0 1452.0,728.9 1453.4,727.4 1454.9,726.5 1456.3,725.9 1457.8,725.0 1459.2,723.8 1460.7,723.7 1462.1,723.8 1463.6,723.0 1465.0,723.4 1466.5,723.2 1468.0,721.3 1469.4,720.7 1470.9,719.6 1472.3,719.2 1473.8,719.3 1475.2,718.0 1476.7,717.4 1478.1,717.4 1479.6,716.1 1481.1,714.1 1482.5,714.5 1484.0,714.0 1485.4,712.8 1486.9,711.4 1488.3,709.8 1489.8,708.7 1491.2,707.7 1492.7,706.8 1494.1,704.9 1495.6,704.7 1497.1,703.9 1498.5,700.7 1500.0,699.1 1501.4,698.2 1502.9,696.3 1504.3,694.9 1505.8,693.7 1507.2,692.4 1508.7,690.5 1510.2,687.6 1511.6,685.9 1513.1,685.6 1514.5,683.1 1516.0,680.9 1517.4,679.9 1518.9,677.0 1520.3,674.5 1521.8,671.9 1523.2,669.0 1524.7,666.3 1526.2,664.2 1527.6,663.1 1529.1,659.5 1530.5,656.4 1532.0,652.4 1533.4,647.8 1534.9,645.6 1536.3,644.6 1537.8,642.0 1539.3,638.3 1540.7,634.2 1542.2,630.8 1543.6,630.1 1545.1,626.9 1546.5,620.9 1548.0,618.4 1549.4,620.3 1550.9,622.4 1552.3,625.9 1553.8,628.1 1555.3,631.5 1556.7,637.5 1558.2,640.9 1559.6,644.6 1561.1,648.7 1562.5,652.1 1564.0,656.8 1565.4,659.9 1566.9,665.1 1568.4,669.2 1569.8,670.8 1571.3,673.4 1572.7,676.4 1574.2,679.8 1575.6,681.7 1577.1,683.6 1578.5,687.1 1580.0,690.3 1581.4,690.5 1582.9,691.1 1584.4,694.4 1585.8,697.4 1587.3,699.4 1588.7,699.8 1590.2,700.9 1591.6,702.5 1593.1,702.8 1594.5,704.0 1596.0,706.2 1597.5,707.7 1598.9,708.5 1600.4,707.7 1601.8,704.2 1603.3,702.0 1604.7,700.1 1606.2,698.0 1607.6,695.6 1609.1,693.0 1610.5,690.2 1612.0,687.2 1613.5,683.8 1614.9,680.3 1616.4,676.4 1617.8,672.1 1619.3,667.5 1620.7,662.5 1622.2,657.0 1623.6,650.9 1625.1,644.3 1626.6,638.0 1628.0,630.8 1629.5,622.4 1630.9,613.7 1632.4,604.1 1633.8,595.0 1635.3,584.1 1636.7,570.8 1638.2,557.5 1639.6,543.8 1641.1,532.2 1642.6,522.1 1644.0,509.3 1645.5,496.6 1646.9,497.0 1648.4,496.8 1649.8,496.6 1651.3,497.6 1652.7,497.8 1654.2,496.8 1655.7,495.4 1657.1,496.1 1658.6,497.4 1660.0,496.9 1661.5,497.1 1662.9,497.2 1664.4,496.8 1665.8,496.5 1667.3,496.6 1668.7,496.3 1670.9,496.5 L1670.9,739.6 1668.7,740.0 1667.3,740.9 1665.8,741.1 1664.4,740.9 1662.9,741.8 1661.5,741.8 1660.0,741.5 1658.6,741.7 1657.1,741.3 1655.7,741.7 1654.2,741.8 1652.7,741.4 1651.3,741.8 1649.8,741.7 1648.4,741.8 1646.9,742.2 1645.5,742.5 1644.0,742.6 1642.6,742.6 1641.1,742.6 1639.6,742.4 1638.2,742.3 1636.7,742.3 1635.3,742.3 1633.8,742.3 1632.4,742.1 1630.9,742.1 1629.5,742.2 1628.0,742.2 1626.6,742.2 1625.1,742.1 1623.6,742.0 1622.2,741.9 1620.7,741.6 1619.3,741.5 1617.8,741.7 1616.4,741.5 1614.9,741.2 1613.5,741.0 1612.0,740.3 1610.5,739.9 1609.1,739.7 1607.6,739.2 1606.2,738.5 1604.7,737.9 1603.3,737.5 1601.8,736.8 1600.4,736.8 1598.9,737.7 1597.5,737.1 1596.0,735.3 1594.5,734.2 1593.1,733.7 1591.6,734.1 1590.2,733.0 1588.7,730.9 1587.3,730.3 1585.8,728.7 1584.4,726.6 1582.9,725.4 1581.4,724.2 1580.0,722.7 1578.5,720.0 1577.1,717.8 1575.6,716.2 1574.2,714.7 1572.7,712.2 1571.3,708.7 1569.8,706.9 1568.4,704.7 1566.9,702.4 1565.4,698.4 1564.0,694.5 1562.5,692.8 1561.1,690.9 1559.6,687.9 1558.2,685.3 1556.7,683.0 1555.3,677.8 1553.8,675.0 1552.3,674.9 1550.9,672.1 1549.4,671.1 1548.0,671.7 1546.5,672.5 1545.1,675.0 1543.6,676.8 1542.2,678.9 1540.7,678.9 1539.3,679.5 1537.8,683.5 1536.3,685.2 1534.9,686.8 1533.4,689.3 1532.0,691.9 1530.5,694.6 1529.1,696.4 1527.6,697.4 1526.2,698.9 1524.7,701.4 1523.2,704.9 1521.8,707.0 1520.3,707.4 1518.9,708.2 1517.4,709.8 1516.0,712.7 1514.5,714.3 1513.1,715.5 1511.6,717.5 1510.2,718.1 1508.7,720.1 1507.2,722.6 1505.8,723.5 1504.3,724.0 1502.9,724.8 1501.4,726.5 1500.0,727.5 1498.5,727.7 1497.1,728.8 1495.6,729.5 1494.1,730.7 1492.7,732.5 1491.2,733.4 1489.8,733.6 1488.3,733.9 1486.9,734.8 1485.4,735.5 1484.0,736.8 1482.5,737.4 1481.1,737.9 1479.6,738.9 1478.1,739.3 1476.7,740.7 1475.2,741.3 1473.8,741.3 1472.3,741.9 1470.9,742.4 1469.4,743.1 1468.0,743.9 1466.5,744.9 1465.0,745.1 1463.6,745.6 1462.1,746.7 1460.7,746.5 1459.2,746.3 1457.8,747.3 1456.3,747.9 1454.9,748.4 1453.4,749.3 1452.0,749.4 1450.5,749.5 1449.0,750.7 1447.6,751.1 1446.1,751.7 1444.7,752.3 1443.2,751.7 1441.8,751.2 1440.3,751.2 1438.9,751.4 1437.4,751.0 1435.9,750.8 1434.5,750.2 1433.0,749.4 1431.6,749.4 1430.1,748.9 1428.7,747.2 1427.2,746.1 1425.8,745.7 1424.3,745.5 1422.9,746.1 1421.4,746.7 1419.9,747.5 1418.5,747.4 1417.0,747.3 1415.6,748.2 1414.1,747.8 1412.7,748.1 1411.2,749.3 1409.8,750.1 1408.3,750.7 1406.8,751.0 1405.4,752.7 1403.9,753.5 1402.5,753.4 1401.0,754.1 1399.6,755.4 1398.1,756.3 1396.7,757.3 1395.2,758.6 1393.8,759.1 1392.3,760.3 1390.8,762.0 1389.4,762.9 1387.9,763.0 1386.5,764.2 1385.0,765.9 1383.6,767.0 1382.1,767.9 1380.7,768.3 1379.2,769.2 1377.7,770.2 1376.3,770.4 1374.8,770.8 1373.4,771.1 1371.9,771.9 1370.5,772.7 1369.0,773.5 1367.6,774.9 1366.1,775.3 1364.7,775.4 1363.2,775.7Z" fill="#f9cdab"/><path d="M1363.2,767.5 1364.7,767.0 1366.1,766.7 1367.6,765.9 1369.0,765.6 1370.5,764.8 1371.9,763.3 1373.4,763.3 1374.8,763.4 1376.3,762.0 1377.7,760.3 1379.2,759.1 1380.7,758.6 1382.1,758.0 1383.6,756.3 1385.0,755.3 1386.5,754.8 1387.9,753.6 1389.4,752.7 1390.8,751.6 1392.3,749.8 1393.8,748.1 1395.2,746.8 1396.7,745.8 1398.1,744.5 1399.6,743.2 1401.0,741.7 1402.5,740.5 1403.9,739.8 1405.4,738.6 1406.8,736.8 1408.3,736.6 1409.8,736.5 1411.2,735.0 1412.7,734.2 1414.1,733.7 1415.6,732.5 1417.0,731.9 1418.5,731.5 1419.9,731.1 1421.4,731.1 1422.9,731.1 1424.3,730.9 1425.8,730.6 1427.2,731.0 1428.7,731.7 1430.1,732.6 1431.6,734.4 1433.0,736.3 1434.5,736.7 1435.9,737.3 1437.4,737.4 1438.9,737.1 1440.3,737.3 1441.8,737.9 1443.2,737.8 1444.7,736.9 1446.1,736.7 1447.6,737.5 1449.0,736.9 1450.5,736.0 1452.0,735.5 1453.4,734.6 1454.9,734.1 1456.3,732.7 1457.8,732.1 1459.2,732.7 1460.7,732.2 1462.1,731.1 1463.6,730.4 1465.0,729.5 1466.5,729.1 1468.0,728.7 1469.4,728.6 1470.9,727.8 1472.3,726.3 1473.8,725.4 1475.2,724.3 1476.7,723.2 1478.1,723.1 1479.6,722.2 1481.1,721.7 1482.5,721.8 1484.0,720.3 1485.4,718.7 1486.9,717.9 1488.3,717.4 1489.8,716.8 1491.2,715.5 1492.7,713.9 1494.1,713.0 1495.6,711.9 1497.1,710.5 1498.5,708.8 1500.0,707.1 1501.4,706.2 1502.9,705.3 1504.3,704.6 1505.8,704.1 1507.2,702.8 1508.7,700.6 1510.2,699.1 1511.6,697.2 1513.1,694.6 1514.5,693.7 1516.0,691.6 1517.4,688.5 1518.9,686.8 1520.3,685.3 1521.8,682.9 1523.2,680.4 1524.7,678.1 1526.2,674.9 1527.6,672.7 1529.1,670.8 1530.5,667.6 1532.0,664.5 1533.4,662.0 1534.9,660.2 1536.3,658.1 1537.8,655.1 1539.3,652.4 1540.7,649.3 1542.2,646.8 1543.6,644.4 1545.1,641.1 1546.5,638.6 1548.0,637.4 1549.4,636.9 1550.9,638.1 1552.3,640.2 1553.8,643.2 1555.3,647.5 1556.7,650.7 1558.2,654.3 1559.6,658.3 1561.1,661.3 1562.5,665.6 1564.0,669.0 1565.4,672.5 1566.9,676.4 1568.4,678.9 1569.8,681.8 1571.3,684.9 1572.7,687.8 1574.2,691.1 1575.6,693.3 1577.1,696.3 1578.5,699.7 1580.0,701.9 1581.4,703.2 1582.9,703.6 1584.4,705.6 1585.8,708.1 1587.3,710.0 1588.7,711.2 1590.2,712.2 1591.6,713.7 1593.1,714.1 1594.5,715.8 1596.0,716.9 1597.5,716.8 1598.9,717.7 1600.4,716.6 1601.8,715.7 1603.3,714.4 1604.7,712.3 1606.2,710.2 1607.6,708.3 1609.1,706.3 1610.5,704.4 1612.0,702.6 1613.5,700.7 1614.9,699.0 1616.4,697.1 1617.8,695.2 1619.3,693.0 1620.7,690.7 1622.2,688.6 1623.6,686.1 1625.1,683.4 1626.6,680.4 1628.0,677.4 1629.5,674.3 1630.9,671.3 1632.4,667.8 1633.8,664.1 1635.3,660.0 1636.7,655.7 1638.2,651.1 1639.6,646.1 1641.1,641.2 1642.6,636.2 1644.0,631.1 1645.5,625.1 1646.9,618.9 1648.4,612.8 1649.8,606.0 1651.3,599.0 1652.7,592.0 1654.2,584.7 1655.7,577.2 1657.1,567.7 1658.6,556.5 1660.0,545.3 1661.5,534.1 1662.9,523.2 1664.4,510.8 1665.8,497.5 1667.3,497.0 1668.7,496.6 1670.9,497.3 L1670.9,719.2 1668.7,719.6 1667.3,719.8 1665.8,720.3 1664.4,720.9 1662.9,720.9 1661.5,721.0 1660.0,721.4 1658.6,722.0 1657.1,722.4 1655.7,722.7 1654.2,723.4 1652.7,723.8 1651.3,724.1 1649.8,724.2 1648.4,724.4 1646.9,724.8 1645.5,725.2 1644.0,725.5 1642.6,725.9 1641.1,726.6 1639.6,727.1 1638.2,727.0 1636.7,727.2 1635.3,727.6 1633.8,727.9 1632.4,728.0 1630.9,728.2 1629.5,728.6 1628.0,728.8 1626.6,728.9 1625.1,729.1 1623.6,729.4 1622.2,729.6 1620.7,729.8 1619.3,729.9 1617.8,730.1 1616.4,730.3 1614.9,730.4 1613.5,730.5 1612.0,730.5 1610.5,730.6 1609.1,730.8 1607.6,731.0 1606.2,731.0 1604.7,731.0 1603.3,731.3 1601.8,731.3 1600.4,731.2 1598.9,730.9 1597.5,731.4 1596.0,730.8 1594.5,729.3 1593.1,728.4 1591.6,727.5 1590.2,726.6 1588.7,725.5 1587.3,724.2 1585.8,722.5 1584.4,721.1 1582.9,719.3 1581.4,718.3 1580.0,716.1 1578.5,713.4 1577.1,711.7 1575.6,709.4 1574.2,707.2 1572.7,705.0 1571.3,702.3 1569.8,699.6 1568.4,696.8 1566.9,693.9 1565.4,690.6 1564.0,687.2 1562.5,683.9 1561.1,680.7 1559.6,677.9 1558.2,674.3 1556.7,670.3 1555.3,667.5 1553.8,664.7 1552.3,662.1 1550.9,661.5 1549.4,661.1 1548.0,660.8 1546.5,662.0 1545.1,664.1 1543.6,665.2 1542.2,666.0 1540.7,669.1 1539.3,673.1 1537.8,674.7 1536.3,676.4 1534.9,678.9 1533.4,681.4 1532.0,684.3 1530.5,686.8 1529.1,688.8 1527.6,689.6 1526.2,691.4 1524.7,694.4 1523.2,697.2 1521.8,698.3 1520.3,699.7 1518.9,702.1 1517.4,703.7 1516.0,705.2 1514.5,707.6 1513.1,709.7 1511.6,710.3 1510.2,711.5 1508.7,713.7 1507.2,715.1 1505.8,716.4 1504.3,717.3 1502.9,718.3 1501.4,719.9 1500.0,721.3 1498.5,722.5 1497.1,723.4 1495.6,725.1 1494.1,726.5 1492.7,727.5 1491.2,728.0 1489.8,728.4 1488.3,729.4 1486.9,730.3 1485.4,731.3 1484.0,731.7 1482.5,732.0 1481.1,732.4 1479.6,733.1 1478.1,733.9 1476.7,734.7 1475.2,735.9 1473.8,736.7 1472.3,737.1 1470.9,737.6 1469.4,738.6 1468.0,739.2 1466.5,739.7 1465.0,740.1 1463.6,740.1 1462.1,740.7 1460.7,741.6 1459.2,742.0 1457.8,742.2 1456.3,743.1 1454.9,743.5 1453.4,744.3 1452.0,745.5 1450.5,746.2 1449.0,746.6 1447.6,747.2 1446.1,747.4 1444.7,747.2 1443.2,747.2 1441.8,747.3 1440.3,747.5 1438.9,747.8 1437.4,747.8 1435.9,747.8 1434.5,747.5 1433.0,746.2 1431.6,745.0 1430.1,744.5 1428.7,743.5 1427.2,742.3 1425.8,741.9 1424.3,742.3 1422.9,742.5 1421.4,742.1 1419.9,742.6 1418.5,743.4 1417.0,743.9 1415.6,744.2 1414.1,744.3 1412.7,744.6 1411.2,745.1 1409.8,745.9 1408.3,746.7 1406.8,747.1 1405.4,747.9 1403.9,748.8 1402.5,749.8 1401.0,751.0 1399.6,752.1 1398.1,753.2 1396.7,753.8 1395.2,755.2 1393.8,757.2 1392.3,758.5 1390.8,758.8 1389.4,759.1 1387.9,760.8 1386.5,762.3 1385.0,763.8 1383.6,764.8 1382.1,765.6 1380.7,766.7 1379.2,767.1 1377.7,767.7 1376.3,768.6 1374.8,769.4 1373.4,770.0 1371.9,770.5 1370.5,771.6 1369.0,772.0 1367.6,772.4 1366.1,772.5 1364.7,772.3 1363.2,773.2Z" fill="#f4a872"/><path d="M1363.2,771.0 1364.7,771.3 1366.1,771.0 1367.6,771.4 1369.0,770.2 1370.5,768.6 1371.9,768.6 1373.4,767.7 1374.8,766.0 1376.3,765.2 1377.7,765.6 1379.2,765.0 1380.7,763.9 1382.1,762.8 1383.6,761.6 1385.0,760.5 1386.5,758.6 1387.9,757.8 1389.4,757.0 1390.8,756.5 1392.3,754.4 1393.8,752.7 1395.2,753.2 1396.7,752.4 1398.1,750.1 1399.6,747.8 1401.0,746.6 1402.5,746.1 1403.9,745.6 1405.4,744.7 1406.8,744.1 1408.3,742.5 1409.8,740.8 1411.2,740.1 1412.7,739.4 1414.1,739.5 1415.6,740.0 1417.0,741.0 1418.5,740.7 1419.9,739.0 1421.4,739.2 1422.9,738.5 1424.3,737.8 1425.8,738.7 1427.2,739.4 1428.7,739.8 1430.1,740.2 1431.6,740.4 1433.0,741.5 1434.5,742.7 1435.9,743.6 1437.4,743.9 1438.9,743.8 1440.3,743.0 1441.8,743.2 1443.2,743.6 1444.7,742.2 1446.1,741.9 1447.6,742.1 1449.0,742.9 1450.5,743.0 1452.0,741.0 1453.4,740.0 1454.9,740.0 1456.3,738.5 1457.8,737.4 1459.2,736.6 1460.7,736.1 1462.1,735.1 1463.6,734.6 1465.0,734.9 1466.5,734.2 1468.0,733.6 1469.4,734.0 1470.9,733.6 1472.3,732.4 1473.8,732.3 1475.2,731.9 1476.7,731.1 1478.1,729.6 1479.6,727.8 1481.1,726.9 1482.5,726.5 1484.0,726.1 1485.4,725.4 1486.9,725.2 1488.3,724.3 1489.8,723.7 1491.2,723.4 1492.7,721.2 1494.1,720.0 1495.6,717.6 1497.1,716.8 1498.5,717.4 1500.0,715.6 1501.4,713.3 1502.9,713.1 1504.3,712.6 1505.8,709.8 1507.2,709.2 1508.7,707.8 1510.2,705.3 1511.6,704.2 1513.1,702.5 1514.5,700.9 1516.0,699.7 1517.4,698.0 1518.9,695.3 1520.3,693.3 1521.8,692.0 1523.2,690.2 1524.7,687.5 1526.2,685.3 1527.6,683.8 1529.1,680.9 1530.5,677.8 1532.0,675.3 1533.4,673.7 1534.9,670.5 1536.3,667.2 1537.8,664.7 1539.3,663.5 1540.7,661.5 1542.2,658.8 1543.6,657.0 1545.1,654.6 1546.5,652.6 1548.0,650.9 1549.4,650.7 1550.9,651.6 1552.3,653.3 1553.8,655.4 1555.3,658.2 1556.7,661.9 1558.2,665.0 1559.6,669.6 1561.1,672.8 1562.5,675.5 1564.0,679.8 1565.4,683.9 1566.9,686.6 1568.4,689.3 1569.8,692.7 1571.3,694.8 1572.7,696.2 1574.2,698.4 1575.6,702.4 1577.1,705.9 1578.5,707.1 1580.0,708.8 1581.4,711.3 1582.9,713.3 1584.4,715.3 1585.8,718.4 1587.3,719.6 1588.7,719.9 1590.2,721.3 1591.6,722.1 1593.1,723.1 1594.5,724.2 1596.0,725.2 1597.5,726.2 1598.9,727.1 1600.4,726.2 1601.8,724.3" fill="none" stroke="#ee7f31" stroke-width="3.4" stroke-linejoin="round"/><path d="M1601.8,724.3 1603.3,721.6 1604.7,719.8 1606.2,719.5 1607.6,718.1 1609.1,717.0 1610.5,716.7 1612.0,715.6 1613.5,713.9 1614.9,713.4 1616.4,713.0 1617.8,711.6 1619.3,711.1 1620.7,710.2 1622.2,709.3 1623.6,708.5 1625.1,707.5 1626.6,706.4 1628.0,705.2 1629.5,704.2 1630.9,703.1 1632.4,702.2 1633.8,701.2 1635.3,700.0 1636.7,699.2 1638.2,697.8 1639.6,695.7 1641.1,694.3 1642.6,693.4 1644.0,692.3 1645.5,691.1 1646.9,689.6 1648.4,687.7 1649.8,686.1 1651.3,684.1 1652.7,682.6 1654.2,681.4 1655.7,679.5 1657.1,677.5 1658.6,675.6 1660.0,673.7 1661.5,672.0 1662.9,669.9 1664.4,668.1 1665.8,666.7 1667.3,665.0 1668.7,662.9 1670.9,659.4" fill="none" stroke="#ee7f31" stroke-width="2.9" stroke-linejoin="round" stroke-linecap="round"/></g>
<clipPath id="c3_391"><rect x="391.6" y="829.8" width="308.2" height="256.9"/></clipPath><g clip-path="url(#c3_391)"><path d="M391.6,1083.1 393.1,1083.1 394.5,1082.9 396.0,1082.9 397.4,1083.1 398.9,1083.0 400.3,1083.0 401.8,1083.1 403.2,1083.0 404.7,1083.0 406.1,1083.0 407.6,1083.1 409.1,1083.1 410.5,1082.9 412.0,1082.9 413.4,1083.0 414.9,1083.0 416.3,1082.8 417.8,1082.8 419.2,1082.9 420.7,1082.7 422.2,1082.7 423.6,1082.7 425.1,1082.5 426.5,1082.6 428.0,1082.6 429.4,1082.5 430.9,1082.5 432.3,1082.5 433.8,1082.0 435.2,1081.3 436.7,1081.6 438.2,1081.4 439.6,1080.4 441.1,1079.4 442.5,1078.0 444.0,1078.7 445.4,1077.8 446.9,1077.0 448.3,1075.2 449.8,1070.8 451.3,1069.5 452.7,1067.7 454.2,1062.0 455.6,1059.3 457.1,1054.1 458.5,1057.1 460.0,1054.0 461.4,1049.8 462.9,1049.9 464.3,1034.5 465.8,1043.7 467.3,1039.4 468.7,1038.0 470.2,1028.6 471.6,1019.7 473.1,1020.4 474.5,1011.9 476.0,1008.9 477.4,1018.5 478.9,1002.2 480.4,1015.4 481.8,1005.0 483.3,998.6 484.7,994.9 486.2,984.9 487.6,993.0 489.1,979.1 490.5,976.2 492.0,966.5 493.4,966.2 494.9,967.7 496.4,970.0 497.8,954.7 499.3,966.3 500.7,951.2 502.2,955.2 503.6,957.2 505.1,948.2 506.5,950.6 508.0,940.8 509.5,939.4 510.9,938.3 512.4,936.2 513.8,947.1 515.3,948.2 516.7,938.6 518.2,935.1 519.6,924.9 521.1,944.5 522.5,942.4 524.0,943.4 525.5,935.1 526.9,943.1 528.4,941.6 529.8,949.2 531.3,955.9 532.7,961.2 534.2,971.8 535.6,968.0 537.1,969.0 538.6,970.3 540.0,971.9 541.5,978.4 542.9,981.5 544.4,980.7 545.8,978.1 547.3,980.0 548.7,996.1 550.2,991.9 551.6,986.8 553.1,1000.5 554.6,999.2 556.0,999.0 557.5,995.9 558.9,1002.6 560.4,1011.3 561.8,1008.9 563.3,1008.5 564.7,1014.4 566.2,1007.7 567.7,1016.4 569.1,1028.9 570.6,1029.9 572.0,1029.0 573.5,1029.7 574.9,1023.7 576.4,1028.5 577.8,1027.3 579.3,1031.9 580.7,1030.7 582.2,1043.8 583.7,1044.7 585.1,1041.0 586.6,1043.7 588.0,1041.8 589.5,1044.9 590.9,1051.5 592.4,1046.9 593.8,1048.4 595.3,1055.5 596.8,1054.1 598.2,1055.1 599.7,1052.9 601.1,1054.2 602.6,1062.9 604.0,1059.7 605.5,1060.3 606.9,1057.2 608.4,1062.1 609.8,1061.9 611.3,1062.3 612.8,1061.9 614.2,1066.3 615.7,1064.6 617.1,1066.9 618.6,1070.5 620.0,1068.6 621.5,1069.8 622.9,1068.8 624.4,1068.1 625.9,1071.2 627.3,1068.1 628.8,1069.8 630.2,1071.3 631.7,1068.9 633.1,1072.7 634.6,1074.5 636.0,1071.8 637.5,1070.5 638.9,1072.9 640.4,1070.9 641.9,1071.3 643.3,1072.5 644.8,1068.9 646.2,1072.1 647.7,1071.5 649.1,1075.2 650.6,1070.9 652.0,1072.7 653.5,1069.6 655.0,1072.2 656.4,1069.2 657.9,1069.4 659.3,1067.6 660.8,1073.6 662.2,1069.6 663.7,1070.5 665.1,1075.7 666.6,1072.2 668.0,1070.3 669.5,1068.8 671.0,1072.6 672.4,1071.6 673.9,1071.8 675.3,1071.1 676.8,1071.9 678.2,1069.9 679.7,1070.4 681.1,1073.7 682.6,1069.7 684.1,1071.9 685.5,1071.3 687.0,1069.4 688.4,1071.6 689.9,1072.8 691.3,1072.2 692.8,1071.5 694.2,1073.8 695.7,1075.6 697.1,1075.4 699.8,1078.1 L699.8,1085.2 697.1,1085.0 695.7,1084.9 694.2,1085.2 692.8,1085.2 691.3,1085.2 689.9,1085.2 688.4,1085.1 687.0,1085.0 685.5,1085.1 684.1,1085.3 682.6,1085.3 681.1,1085.3 679.7,1085.1 678.2,1085.2 676.8,1085.1 675.3,1085.0 673.9,1085.3 672.4,1085.2 671.0,1084.9 669.5,1085.1 668.0,1085.2 666.6,1085.3 665.1,1085.3 663.7,1085.1 662.2,1085.1 660.8,1085.1 659.3,1085.2 657.9,1085.1 656.4,1085.2 655.0,1085.2 653.5,1085.0 652.0,1085.0 650.6,1085.1 649.1,1085.2 647.7,1085.3 646.2,1085.2 644.8,1085.2 643.3,1085.3 641.9,1085.2 640.4,1085.2 638.9,1085.1 637.5,1085.2 636.0,1085.2 634.6,1085.1 633.1,1085.3 631.7,1085.4 630.2,1085.4 628.8,1085.4 627.3,1085.3 625.9,1085.2 624.4,1085.1 622.9,1085.1 621.5,1084.9 620.0,1085.1 618.6,1085.7 617.1,1085.6 615.7,1084.8 614.2,1084.3 612.8,1084.2 611.3,1084.4 609.8,1084.4 608.4,1084.5 606.9,1084.4 605.5,1084.2 604.0,1084.0 602.6,1084.2 601.1,1084.0 599.7,1083.9 598.2,1083.7 596.8,1083.7 595.3,1084.0 593.8,1084.1 592.4,1084.0 590.9,1084.1 589.5,1084.3 588.0,1084.7 586.6,1084.0 585.1,1083.5 583.7,1083.3 582.2,1083.8 580.7,1084.4 579.3,1083.3 577.8,1082.7 576.4,1084.1 574.9,1084.5 573.5,1083.1 572.0,1082.7 570.6,1083.7 569.1,1084.6 567.7,1084.8 566.2,1084.4 564.7,1082.8 563.3,1081.4 561.8,1080.1 560.4,1080.1 558.9,1079.5 557.5,1079.1 556.0,1079.7 554.6,1078.4 553.1,1075.1 551.6,1074.6 550.2,1076.6 548.7,1074.2 547.3,1073.8 545.8,1072.7 544.4,1069.5 542.9,1068.9 541.5,1067.3 540.0,1066.5 538.6,1066.0 537.1,1063.8 535.6,1063.5 534.2,1063.2 532.7,1060.6 531.3,1059.8 529.8,1059.5 528.4,1059.0 526.9,1058.3 525.5,1053.7 524.0,1052.1 522.5,1053.2 521.1,1054.1 519.6,1052.9 518.2,1052.1 516.7,1054.2 515.3,1053.3 513.8,1054.1 512.4,1055.7 510.9,1058.0 509.5,1057.4 508.0,1057.4 506.5,1057.0 505.1,1056.0 503.6,1055.6 502.2,1055.5 500.7,1058.1 499.3,1058.3 497.8,1057.2 496.4,1058.7 494.9,1060.4 493.4,1061.8 492.0,1062.8 490.5,1062.7 489.1,1063.7 487.6,1066.7 486.2,1068.6 484.7,1070.3 483.3,1071.2 481.8,1071.8 480.4,1074.0 478.9,1075.2 477.4,1075.8 476.0,1076.9 474.5,1077.7 473.1,1078.7 471.6,1079.9 470.2,1080.6 468.7,1082.5 467.3,1083.3 465.8,1083.4 464.3,1084.2 462.9,1083.6 461.4,1083.5 460.0,1083.7 458.5,1084.1 457.1,1085.0 455.6,1084.2 454.2,1083.7 452.7,1084.2 451.3,1084.2 449.8,1084.4 448.3,1085.1 446.9,1085.6 445.4,1085.0 444.0,1084.9 442.5,1085.5 441.1,1084.8 439.6,1085.0 438.2,1086.0 436.7,1085.2 435.2,1085.3 433.8,1085.3 432.3,1085.3 430.9,1085.3 429.4,1085.3 428.0,1085.4 426.5,1085.4 425.1,1085.3 423.6,1085.5 422.2,1085.5 420.7,1085.5 419.2,1085.7 417.8,1085.6 416.3,1085.6 414.9,1085.8 413.4,1085.8 412.0,1085.7 410.5,1085.7 409.1,1085.9 407.6,1085.9 406.1,1085.9 404.7,1085.8 403.2,1085.8 401.8,1085.9 400.3,1085.8 398.9,1085.8 397.4,1085.9 396.0,1085.7 394.5,1085.7 393.1,1085.9 391.6,1085.9Z" fill="#e7e7e7"/><path d="M391.6,1083.4 393.1,1083.4 394.5,1083.2 396.0,1083.2 397.4,1083.4 398.9,1083.3 400.3,1083.3 401.8,1083.4 403.2,1083.3 404.7,1083.3 406.1,1083.4 407.6,1083.4 409.1,1083.4 410.5,1083.2 412.0,1083.2 413.4,1083.3 414.9,1083.3 416.3,1083.1 417.8,1083.1 419.2,1083.2 420.7,1083.0 422.2,1083.0 423.6,1083.0 425.1,1082.8 426.5,1082.9 428.0,1082.9 429.4,1082.8 430.9,1082.8 432.3,1082.8 433.8,1082.8 435.2,1082.7 436.7,1082.5 438.2,1082.4 439.6,1082.4 441.1,1081.8 442.5,1081.1 444.0,1081.0 445.4,1080.4 446.9,1079.7 448.3,1079.1 449.8,1077.5 451.3,1075.6 452.7,1074.4 454.2,1073.1 455.6,1071.1 457.1,1068.9 458.5,1067.6 460.0,1066.1 461.4,1063.3 462.9,1061.0 464.3,1058.8 465.8,1056.3 467.3,1053.9 468.7,1051.3 470.2,1047.1 471.6,1044.9 473.1,1043.9 474.5,1040.7 476.0,1038.4 477.4,1034.6 478.9,1028.7 480.4,1027.6 481.8,1027.0 483.3,1022.5 484.7,1019.7 486.2,1019.1 487.6,1016.5 489.1,1014.4 490.5,1014.4 492.0,1012.5 493.4,1008.5 494.9,1005.0 496.4,1001.6 497.8,998.9 499.3,997.0 500.7,994.3 502.2,991.7 503.6,992.1 505.1,991.5 506.5,988.0 508.0,986.7 509.5,987.8 510.9,988.6 512.4,986.7 513.8,985.3 515.3,986.0 516.7,985.4 518.2,984.0 519.6,984.1 521.1,985.7 522.5,987.1 524.0,987.7 525.5,989.5 526.9,992.4 528.4,994.5 529.8,995.4 531.3,998.1 532.7,999.6 534.2,1000.3 535.6,1002.0 537.1,1004.7 538.6,1007.7 540.0,1008.6 541.5,1010.6 542.9,1015.1 544.4,1018.4 545.8,1019.8 547.3,1022.0 548.7,1023.2 550.2,1024.3 551.6,1026.5 553.1,1028.5 554.6,1031.0 556.0,1033.7 557.5,1036.5 558.9,1038.8 560.4,1041.8 561.8,1043.2 563.3,1043.9 564.7,1046.5 566.2,1048.1 567.7,1049.6 569.1,1052.0 570.6,1053.3 572.0,1054.9 573.5,1057.3 574.9,1058.1 576.4,1058.1 577.8,1059.9 579.3,1061.7 580.7,1063.1 582.2,1064.6 583.7,1065.9 585.1,1067.7 586.6,1069.0 588.0,1069.6 589.5,1070.1 590.9,1070.4 592.4,1071.0 593.8,1072.3 595.3,1073.8 596.8,1074.6 598.2,1075.1 599.7,1075.5 601.1,1075.9 602.6,1076.4 604.0,1077.5 605.5,1078.0 606.9,1078.5 608.4,1079.2 609.8,1079.5 611.3,1080.2 612.8,1080.6 614.2,1081.1 615.7,1081.1 617.1,1080.9 618.6,1081.3 620.0,1081.6 621.5,1082.0 622.9,1082.3 624.4,1082.2 625.9,1082.3 627.3,1082.2 628.8,1082.3 630.2,1082.1 631.7,1081.9 633.1,1082.4 634.6,1082.2 636.0,1081.9 637.5,1081.9 638.9,1082.3 640.4,1081.8 641.9,1081.6 643.3,1082.2 644.8,1082.2 646.2,1082.3 647.7,1082.7 649.1,1082.5 650.6,1082.3 652.0,1082.2 653.5,1082.0 655.0,1082.0 656.4,1082.2 657.9,1082.1 659.3,1081.9 660.8,1082.2 662.2,1082.3 663.7,1081.9 665.1,1081.5 666.6,1081.7 668.0,1082.0 669.5,1082.2 671.0,1082.3 672.4,1082.7 673.9,1082.7 675.3,1082.5 676.8,1082.2 678.2,1082.3 679.7,1082.5 681.1,1082.5 682.6,1082.3 684.1,1082.3 685.5,1082.6 687.0,1082.4 688.4,1081.6 689.9,1082.0 691.3,1082.5 692.8,1082.3 694.2,1082.1 695.7,1082.4 697.1,1082.5 699.8,1081.9 L699.8,1084.9 697.1,1084.7 695.7,1084.6 694.2,1084.9 692.8,1084.9 691.3,1084.9 689.9,1084.9 688.4,1084.8 687.0,1084.7 685.5,1084.8 684.1,1085.0 682.6,1085.0 681.1,1085.0 679.7,1084.8 678.2,1084.9 676.8,1084.8 675.3,1084.7 673.9,1085.0 672.4,1084.9 671.0,1084.6 669.5,1084.8 668.0,1084.9 666.6,1085.0 665.1,1085.0 663.7,1084.8 662.2,1084.8 660.8,1084.8 659.3,1084.9 657.9,1084.8 656.4,1084.9 655.0,1084.9 653.5,1084.7 652.0,1084.7 650.6,1084.8 649.1,1084.9 647.7,1085.0 646.2,1084.9 644.8,1084.9 643.3,1085.0 641.9,1084.9 640.4,1084.9 638.9,1084.8 637.5,1084.9 636.0,1084.9 634.6,1084.8 633.1,1085.0 631.7,1085.1 630.2,1085.1 628.8,1085.1 627.3,1085.0 625.9,1084.9 624.4,1084.8 622.9,1084.8 621.5,1084.6 620.0,1084.8 618.6,1085.4 617.1,1085.3 615.7,1084.5 614.2,1083.9 612.8,1083.9 611.3,1084.1 609.8,1083.7 608.4,1083.4 606.9,1083.6 605.5,1083.9 604.0,1083.7 602.6,1083.2 601.1,1082.7 599.7,1082.0 598.2,1082.4 596.8,1083.1 595.3,1082.2 593.8,1081.1 592.4,1080.2 590.9,1080.1 589.5,1079.4 588.0,1078.7 586.6,1078.6 585.1,1077.8 583.7,1077.0 582.2,1076.1 580.7,1075.4 579.3,1075.0 577.8,1073.8 576.4,1073.0 574.9,1072.8 573.5,1071.7 572.0,1070.4 570.6,1069.9 569.1,1069.0 567.7,1067.9 566.2,1066.7 564.7,1065.8 563.3,1064.3 561.8,1062.8 560.4,1062.0 558.9,1060.7 557.5,1058.5 556.0,1056.8 554.6,1055.6 553.1,1054.1 551.6,1052.4 550.2,1050.7 548.7,1049.3 547.3,1047.5 545.8,1045.3 544.4,1043.8 542.9,1042.9 541.5,1041.3 540.0,1039.7 538.6,1038.4 537.1,1037.2 535.6,1036.1 534.2,1033.4 532.7,1031.9 531.3,1031.0 529.8,1028.9 528.4,1027.4 526.9,1025.8 525.5,1025.2 524.0,1024.5 522.5,1023.5 521.1,1022.4 519.6,1020.3 518.2,1019.8 516.7,1020.1 515.3,1020.8 513.8,1021.7 512.4,1021.7 510.9,1022.3 509.5,1023.4 508.0,1024.9 506.5,1026.4 505.1,1027.1 503.6,1029.6 502.2,1031.7 500.7,1031.3 499.3,1031.7 497.8,1034.3 496.4,1036.4 494.9,1038.3 493.4,1039.9 492.0,1041.1 490.5,1042.6 489.1,1044.9 487.6,1047.6 486.2,1049.2 484.7,1051.2 483.3,1053.3 481.8,1054.8 480.4,1057.0 478.9,1059.1 477.4,1059.9 476.0,1061.4 474.5,1063.6 473.1,1064.7 471.6,1066.4 470.2,1068.3 468.7,1070.1 467.3,1072.1 465.8,1073.3 464.3,1074.2 462.9,1075.7 461.4,1076.7 460.0,1078.2 458.5,1079.1 457.1,1080.0 455.6,1080.6 454.2,1081.3 452.7,1082.0 451.3,1081.9 449.8,1082.7 448.3,1084.8 446.9,1085.3 445.4,1084.7 444.0,1084.6 442.5,1085.2 441.1,1084.5 439.6,1084.7 438.2,1085.7 436.7,1084.9 435.2,1085.0 433.8,1085.0 432.3,1085.0 430.9,1085.0 429.4,1085.0 428.0,1085.1 426.5,1085.1 425.1,1085.0 423.6,1085.2 422.2,1085.2 420.7,1085.2 419.2,1085.4 417.8,1085.3 416.3,1085.3 414.9,1085.5 413.4,1085.5 412.0,1085.4 410.5,1085.4 409.1,1085.6 407.6,1085.6 406.1,1085.6 404.7,1085.5 403.2,1085.5 401.8,1085.6 400.3,1085.5 398.9,1085.5 397.4,1085.6 396.0,1085.4 394.5,1085.4 393.1,1085.6 391.6,1085.6Z" fill="#b9b9b9"/><path d="M391.6,1083.7 393.1,1083.7 394.5,1083.5 396.0,1083.5 397.4,1083.7 398.9,1083.6 400.3,1083.6 401.8,1083.7 403.2,1083.6 404.7,1083.6 406.1,1083.7 407.6,1083.7 409.1,1083.7 410.5,1083.5 412.0,1083.5 413.4,1083.6 414.9,1083.6 416.3,1083.4 417.8,1083.4 419.2,1083.5 420.7,1083.3 422.2,1083.3 423.6,1083.3 425.1,1083.1 426.5,1083.2 428.0,1083.2 429.4,1083.1 430.9,1083.1 432.3,1083.1 433.8,1083.1 435.2,1083.1 436.7,1082.8 438.2,1082.7 439.6,1082.8 441.1,1082.6 442.5,1082.4 444.0,1082.4 445.4,1081.7 446.9,1080.6 448.3,1080.6 449.8,1079.8 451.3,1078.9 452.7,1078.2 454.2,1076.5 455.6,1075.6 457.1,1075.4 458.5,1073.8 460.0,1071.2 461.4,1069.6 462.9,1067.8 464.3,1065.6 465.8,1064.3 467.3,1062.0 468.7,1059.1 470.2,1057.1 471.6,1055.5 473.1,1053.0 474.5,1050.3 476.0,1048.5 477.4,1046.3 478.9,1043.1 480.4,1040.3 481.8,1038.2 483.3,1036.2 484.7,1033.9 486.2,1031.0 487.6,1028.8 489.1,1027.0 490.5,1025.0 492.0,1023.6 493.4,1021.6 494.9,1018.8 496.4,1015.9 497.8,1013.1 499.3,1011.1 500.7,1009.2 502.2,1007.1 503.6,1005.3 505.1,1003.9 506.5,1002.9 508.0,1002.7 509.5,1002.1 510.9,1000.1 512.4,999.4 513.8,998.6 515.3,998.2 516.7,998.6 518.2,999.7 519.6,999.3 521.1,998.8 522.5,1000.5 524.0,1001.9 525.5,1003.6 526.9,1004.4 528.4,1005.4 529.8,1007.7 531.3,1010.4 532.7,1011.7 534.2,1012.5 535.6,1015.4 537.1,1018.5 538.6,1020.4 540.0,1021.5 541.5,1023.0 542.9,1025.5 544.4,1027.8 545.8,1029.7 547.3,1031.5 548.7,1034.0 550.2,1036.0 551.6,1037.4 553.1,1039.5 554.6,1041.6 556.0,1043.8 557.5,1045.9 558.9,1047.5 560.4,1050.0 561.8,1052.1 563.3,1053.1 564.7,1055.2 566.2,1056.7 567.7,1057.8 569.1,1059.4 570.6,1060.6 572.0,1061.8 573.5,1063.3 574.9,1064.1 576.4,1065.1 577.8,1066.8 579.3,1068.1 580.7,1069.2 582.2,1070.8 583.7,1071.9 585.1,1072.1 586.6,1072.8 588.0,1073.7 589.5,1074.7 590.9,1075.4 592.4,1076.3 593.8,1076.8 595.3,1077.1 596.8,1078.2 598.2,1078.2 599.7,1078.8 601.1,1079.7 602.6,1079.7 604.0,1080.6 605.5,1081.2 606.9,1080.9 608.4,1080.9 609.8,1081.1 611.3,1081.6 612.8,1081.9 614.2,1081.6 615.7,1081.7 617.1,1082.1 618.6,1082.4 620.0,1082.7 621.5,1082.7 622.9,1082.7 624.4,1082.9 625.9,1083.0 627.3,1082.6 628.8,1082.6 630.2,1083.2 631.7,1083.2 633.1,1083.1 634.6,1082.9 636.0,1082.8 637.5,1082.2 638.9,1082.7 640.4,1083.0 641.9,1083.0 643.3,1083.1 644.8,1083.0 646.2,1083.0 647.7,1083.1 649.1,1082.8 650.6,1082.9 652.0,1082.8 653.5,1082.8 655.0,1083.0 656.4,1083.0 657.9,1082.8 659.3,1082.9 660.8,1082.9 662.2,1082.9 663.7,1082.9 665.1,1083.1 666.6,1083.0 668.0,1082.8 669.5,1082.9 671.0,1082.7 672.4,1083.0 673.9,1083.1 675.3,1082.8 676.8,1082.9 678.2,1083.0 679.7,1082.9 681.1,1082.9 682.6,1083.0 684.1,1083.1 685.5,1082.9 687.0,1082.8 688.4,1082.7 689.9,1082.5 691.3,1082.9 692.8,1083.0 694.2,1083.0 695.7,1082.7 697.1,1082.8 699.8,1082.9 L699.8,1084.6 697.1,1084.4 695.7,1084.3 694.2,1084.6 692.8,1084.6 691.3,1084.6 689.9,1084.6 688.4,1084.5 687.0,1084.4 685.5,1084.5 684.1,1084.7 682.6,1084.7 681.1,1084.7 679.7,1084.5 678.2,1084.6 676.8,1084.5 675.3,1084.4 673.9,1084.7 672.4,1084.6 671.0,1084.3 669.5,1084.5 668.0,1084.6 666.6,1084.7 665.1,1084.7 663.7,1084.5 662.2,1084.5 660.8,1084.5 659.3,1084.6 657.9,1084.5 656.4,1084.6 655.0,1084.6 653.5,1084.4 652.0,1084.4 650.6,1084.5 649.1,1084.6 647.7,1084.7 646.2,1084.6 644.8,1084.6 643.3,1084.7 641.9,1084.6 640.4,1084.6 638.9,1084.5 637.5,1084.6 636.0,1084.6 634.6,1084.5 633.1,1084.7 631.7,1084.8 630.2,1084.8 628.8,1084.8 627.3,1084.7 625.9,1084.6 624.4,1084.5 622.9,1084.5 621.5,1084.3 620.0,1084.5 618.6,1085.1 617.1,1085.0 615.7,1084.2 614.2,1083.6 612.8,1083.6 611.3,1083.8 609.8,1083.4 608.4,1083.1 606.9,1083.3 605.5,1083.6 604.0,1083.4 602.6,1082.9 601.1,1082.4 599.7,1081.7 598.2,1082.1 596.8,1082.8 595.3,1081.9 593.8,1080.8 592.4,1079.9 590.9,1078.6 589.5,1078.0 588.0,1077.7 586.6,1078.3 585.1,1076.3 583.7,1075.7 582.2,1075.3 580.7,1074.8 579.3,1073.6 577.8,1072.9 576.4,1072.2 574.9,1071.1 573.5,1069.2 572.0,1068.3 570.6,1068.1 569.1,1066.8 567.7,1065.5 566.2,1065.6 564.7,1063.2 563.3,1061.9 561.8,1060.6 560.4,1059.1 558.9,1057.3 557.5,1055.6 556.0,1054.4 554.6,1052.6 553.1,1051.0 551.6,1049.0 550.2,1046.8 548.7,1044.9 547.3,1042.7 545.8,1040.7 544.4,1039.1 542.9,1037.8 541.5,1036.0 540.0,1034.2 538.6,1032.5 537.1,1031.1 535.6,1029.9 534.2,1028.1 532.7,1026.2 531.3,1024.3 529.8,1022.6 528.4,1021.3 526.9,1019.5 525.5,1017.8 524.0,1017.1 522.5,1016.1 521.1,1014.4 519.6,1013.3 518.2,1013.4 516.7,1013.4 515.3,1013.3 513.8,1014.0 512.4,1014.4 510.9,1015.7 509.5,1017.1 508.0,1017.9 506.5,1018.7 505.1,1019.9 503.6,1022.3 502.2,1024.3 500.7,1025.5 499.3,1026.3 497.8,1028.2 496.4,1030.7 494.9,1033.4 493.4,1034.6 492.0,1035.9 490.5,1038.6 489.1,1040.6 487.6,1042.7 486.2,1044.7 484.7,1046.5 483.3,1048.1 481.8,1050.5 480.4,1053.1 478.9,1055.0 477.4,1056.9 476.0,1059.1 474.5,1061.5 473.1,1062.8 471.6,1064.0 470.2,1065.9 468.7,1068.3 467.3,1070.3 465.8,1072.0 464.3,1073.3 462.9,1074.6 461.4,1075.9 460.0,1077.9 458.5,1078.8 457.1,1079.2 455.6,1080.2 454.2,1080.6 452.7,1081.7 451.3,1081.6 449.8,1082.4 448.3,1084.5 446.9,1085.0 445.4,1084.4 444.0,1084.3 442.5,1084.9 441.1,1084.2 439.6,1084.4 438.2,1085.4 436.7,1084.6 435.2,1084.7 433.8,1084.7 432.3,1084.7 430.9,1084.7 429.4,1084.7 428.0,1084.8 426.5,1084.8 425.1,1084.7 423.6,1084.9 422.2,1084.9 420.7,1084.9 419.2,1085.1 417.8,1085.0 416.3,1085.0 414.9,1085.2 413.4,1085.2 412.0,1085.1 410.5,1085.1 409.1,1085.3 407.6,1085.3 406.1,1085.3 404.7,1085.2 403.2,1085.2 401.8,1085.3 400.3,1085.2 398.9,1085.2 397.4,1085.3 396.0,1085.1 394.5,1085.1 393.1,1085.3 391.6,1085.3Z" fill="#878787"/><path d="M391.6,1084.5 393.1,1084.5 394.5,1084.3 396.0,1084.3 397.4,1084.5 398.9,1084.4 400.3,1084.4 401.8,1084.5 403.2,1084.4 404.7,1084.4 406.1,1084.5 407.6,1084.5 409.1,1084.5 410.5,1084.3 412.0,1084.3 413.4,1084.4 414.9,1084.4 416.3,1084.2 417.8,1084.2 419.2,1084.3 420.7,1084.1 422.2,1084.1 423.6,1084.1 425.1,1083.9 426.5,1084.0 428.0,1084.0 429.4,1083.9 430.9,1083.9 432.3,1083.9 433.8,1083.9 435.2,1083.9 436.7,1083.8 438.2,1084.6 439.6,1083.6 441.1,1083.4 442.5,1084.1 444.0,1083.5 445.4,1083.6 446.9,1084.2 448.3,1083.7 449.8,1081.5 451.3,1080.8 452.7,1080.9 454.2,1079.8 455.6,1079.4 457.1,1078.4 458.5,1078.0 460.0,1077.1 461.4,1074.8 462.9,1073.6 464.3,1072.5 465.8,1071.2 467.3,1069.4 468.7,1066.9 470.2,1064.8 471.6,1061.7 473.1,1058.8 474.5,1058.5 476.0,1057.0 477.4,1055.3 478.9,1054.2 480.4,1050.3 481.8,1047.2 483.3,1047.3 484.7,1044.5 486.2,1041.0 487.6,1039.1 489.1,1036.6 490.5,1034.4 492.0,1032.3 493.4,1030.6 494.9,1027.8 496.4,1025.4 497.8,1023.3 499.3,1021.3 500.7,1020.1 502.2,1017.7 503.6,1016.0 505.1,1014.5 506.5,1012.6 508.0,1012.4 509.5,1010.8 510.9,1009.3 512.4,1009.6 513.8,1008.1 515.3,1007.6 516.7,1008.2 518.2,1007.2 519.6,1007.6 521.1,1009.5 522.5,1009.9 524.0,1011.1 525.5,1013.2 526.9,1013.9 528.4,1014.1 529.8,1016.5 531.3,1019.1 532.7,1019.9 534.2,1022.0 535.6,1023.5 537.1,1025.2 538.6,1029.1 540.0,1029.4 541.5,1030.5 542.9,1033.3 544.4,1034.6 545.8,1036.4 547.3,1038.9 548.7,1041.4 550.2,1042.7 551.6,1044.2 553.1,1046.5 554.6,1050.0 556.0,1051.6 557.5,1053.0 558.9,1055.5 560.4,1055.8 561.8,1057.8 563.3,1060.4 564.7,1062.4 566.2,1064.8 567.7,1064.7 569.1,1064.9 570.6,1065.6 572.0,1066.1 573.5,1068.1 574.9,1069.8 576.4,1070.1 577.8,1071.1 579.3,1072.6 580.7,1074.0 582.2,1074.5 583.7,1074.6 585.1,1075.5 586.6,1077.5 588.0,1076.9 589.5,1075.8 590.9,1077.8 592.4,1079.1 593.8,1080.0 595.3,1081.1 596.8,1082.0 598.2,1081.3 599.7,1080.9 601.1,1081.6 602.6,1082.1 604.0,1082.6 605.5,1082.8 606.9,1082.5 608.4,1082.3 609.8,1082.6 611.3,1082.5 612.8,1082.7 614.2,1082.4 615.7,1083.4 617.1,1084.2 618.6,1084.3 620.0,1083.7 621.5,1083.5 622.9,1083.5 624.4,1083.7 625.9,1083.8 627.3,1083.9 628.8,1084.0 630.2,1084.0 631.7,1084.0 633.1,1083.9 634.6,1083.7 636.0,1083.8 637.5,1083.8 638.9,1083.7 640.4,1083.8 641.9,1083.8 643.3,1083.9 644.8,1083.8 646.2,1083.8 647.7,1083.9 649.1,1083.8 650.6,1083.7 652.0,1083.6 653.5,1083.6 655.0,1083.8 656.4,1083.8 657.9,1083.7 659.3,1083.8 660.8,1083.7 662.2,1083.7 663.7,1083.7 665.1,1083.9 666.6,1083.9 668.0,1083.8 669.5,1083.7 671.0,1083.5 672.4,1083.8 673.9,1083.9 675.3,1083.6 676.8,1083.7 678.2,1083.8 679.7,1083.7 681.1,1083.9 682.6,1083.9 684.1,1083.9 685.5,1083.7 687.0,1083.6 688.4,1083.7 689.9,1083.8 691.3,1083.8 692.8,1083.8 694.2,1083.8 695.7,1083.5 697.1,1083.6 699.8,1083.8" fill="none" stroke="#474747" stroke-width="4.3" stroke-linejoin="round"/></g>
<clipPath id="c3_715"><rect x="715.6" y="829.8" width="307.7" height="256.9"/></clipPath><g clip-path="url(#c3_715)"><path d="M715.6,1077.6 717.1,1074.3 718.5,1070.4 720.0,1070.2 721.4,1068.6 722.9,1068.0 724.3,1066.4 725.8,1070.4 727.2,1066.3 728.7,1067.1 730.2,1069.9 731.6,1069.0 733.1,1068.2 734.5,1066.3 736.0,1065.2 737.4,1065.6 738.9,1063.9 740.3,1066.2 741.8,1064.7 743.2,1063.8 744.7,1060.2 746.2,1057.5 747.6,1058.2 749.1,1058.4 750.5,1056.0 752.0,1057.3 753.4,1054.0 754.9,1054.5 756.3,1058.0 757.8,1053.0 759.3,1053.0 760.7,1056.3 762.2,1054.0 763.6,1052.5 765.1,1043.7 766.5,1040.2 768.0,1044.4 769.4,1041.6 770.9,1048.5 772.3,1037.7 773.8,1033.4 775.3,1033.6 776.7,1040.8 778.2,1033.3 779.6,1038.3 781.1,1032.8 782.5,1038.7 784.0,1037.2 785.4,1039.2 786.9,1035.1 788.4,1036.5 789.8,1034.3 791.3,1033.7 792.7,1032.7 794.2,1031.9 795.6,1030.0 797.1,1026.1 798.5,1023.2 800.0,1028.3 801.4,1030.0 802.9,1032.3 804.4,1033.2 805.8,1039.4 807.3,1045.5 808.7,1034.3 810.2,1032.8 811.6,1043.2 813.1,1033.5 814.5,1041.0 816.0,1027.6 817.5,1028.3 818.9,1032.2 820.4,1030.5 821.8,1031.4 823.3,1035.9 824.7,1039.7 826.2,1040.4 827.6,1033.3 829.1,1030.9 830.5,1035.5 832.0,1034.9 833.5,1036.0 834.9,1035.9 836.4,1031.0 837.8,1036.8 839.3,1029.3 840.7,1031.1 842.2,1031.8 843.6,1030.4 845.1,1021.8 846.6,1025.1 848.0,1026.7 849.5,1024.6 850.9,1023.5 852.4,1029.2 853.8,1025.3 855.3,1031.6 856.7,1030.8 858.2,1025.6 859.6,1027.7 861.1,1024.8 862.6,1018.9 864.0,1018.3 865.5,1020.3 866.9,1016.0 868.4,1015.3 869.8,1015.9 871.3,1009.7 872.7,1012.4 874.2,1016.6 875.7,1012.3 877.1,1002.2 878.6,1006.2 880.0,1007.9 881.5,1004.7 882.9,998.0 884.4,999.5 885.8,999.1 887.3,1006.0 888.7,1002.2 890.2,997.8 891.7,994.4 893.1,976.3 894.6,981.0 896.0,994.1 897.5,985.9 898.9,981.3 900.4,977.6 901.8,984.0 903.3,974.6 904.8,976.0 906.2,986.0 907.7,971.5 909.1,971.3 910.6,964.0 912.0,951.3 913.5,965.3 914.9,972.9 916.4,981.7 917.8,971.3 919.3,969.2 920.8,973.0 922.2,963.2 923.7,984.7 925.1,987.7 926.6,991.0 928.0,990.9 929.5,994.6 930.9,990.2 932.4,992.0 933.9,992.5 935.3,987.4 936.8,989.4 938.2,994.5 939.7,1004.6 941.1,1007.9 942.6,1005.7 944.0,996.3 945.5,1004.0 946.9,999.7 948.4,992.7 949.9,1010.1 951.3,1008.3 952.8,1009.6 954.2,1010.4 955.7,1014.0 957.1,1015.7 958.6,1020.4 960.0,1013.7 961.5,1014.7 963.0,1015.2 964.4,1010.8 965.9,1006.9 967.3,1014.7 968.8,1015.3 970.2,1014.1 971.7,1015.2 973.1,1024.0 974.6,1016.1 976.0,1010.0 977.5,1013.4 979.0,1006.5 980.4,1016.1 981.9,1003.9 983.3,996.8 984.8,995.6 986.2,1006.2 987.7,1012.2 989.1,1010.1 990.6,1013.8 992.1,1007.9 993.5,1007.8 995.0,997.4 996.4,995.0 997.9,988.3 999.3,997.3 1000.8,1007.8 1002.2,1009.9 1003.7,1013.2 1005.1,1006.2 1006.6,1004.5 1008.1,998.8 1009.5,993.0 1011.0,1000.2 1012.4,991.2 1013.9,988.9 1015.3,994.1 1016.8,980.9 1018.2,986.5 1019.7,974.7 1021.2,981.5 1023.3,985.7 L1023.3,1081.5 1021.2,1081.5 1019.7,1081.5 1018.2,1081.5 1016.8,1081.5 1015.3,1081.5 1013.9,1081.5 1012.4,1081.6 1011.0,1081.6 1009.5,1081.6 1008.1,1081.7 1006.6,1081.6 1005.1,1081.5 1003.7,1081.5 1002.2,1081.7 1000.8,1081.8 999.3,1081.4 997.9,1081.3 996.4,1081.5 995.0,1081.6 993.5,1081.5 992.1,1081.4 990.6,1081.5 989.1,1081.4 987.7,1081.4 986.2,1081.6 984.8,1081.6 983.3,1081.5 981.9,1081.6 980.4,1081.5 979.0,1081.5 977.5,1081.5 976.0,1081.6 974.6,1081.6 973.1,1081.8 971.7,1081.7 970.2,1081.6 968.8,1081.7 967.3,1081.7 965.9,1081.7 964.4,1081.7 963.0,1081.6 961.5,1081.6 960.0,1081.5 958.6,1081.6 957.1,1081.6 955.7,1081.6 954.2,1081.7 952.8,1082.4 951.3,1082.0 949.9,1080.6 948.4,1079.8 946.9,1080.4 945.5,1081.4 944.0,1081.8 942.6,1080.6 941.1,1081.0 939.7,1080.3 938.2,1079.7 936.8,1080.6 935.3,1078.4 933.9,1076.5 932.4,1077.2 930.9,1078.0 929.5,1077.7 928.0,1076.4 926.6,1075.2 925.1,1075.8 923.7,1076.3 922.2,1075.3 920.8,1074.0 919.3,1071.7 917.8,1071.1 916.4,1072.5 914.9,1072.0 913.5,1072.2 912.0,1073.2 910.6,1071.8 909.1,1071.4 907.7,1072.0 906.2,1073.5 904.8,1072.9 903.3,1072.2 901.8,1073.6 900.4,1073.1 898.9,1074.0 897.5,1073.2 896.0,1072.5 894.6,1075.0 893.1,1076.1 891.7,1075.7 890.2,1077.9 888.7,1080.5 887.3,1078.2 885.8,1075.5 884.4,1075.7 882.9,1075.7 881.5,1074.8 880.0,1076.7 878.6,1079.4 877.1,1078.5 875.7,1077.4 874.2,1079.3 872.7,1078.7 871.3,1077.9 869.8,1079.6 868.4,1080.6 866.9,1080.1 865.5,1079.7 864.0,1080.1 862.6,1080.0 861.1,1080.6 859.6,1081.4 858.2,1080.2 856.7,1079.2 855.3,1080.3 853.8,1082.5 852.4,1081.7 850.9,1081.2 849.5,1082.4 848.0,1082.0 846.6,1082.2 845.1,1081.5 843.6,1081.5 842.2,1082.4 840.7,1083.1 839.3,1082.8 837.8,1082.2 836.4,1082.4 834.9,1082.8 833.5,1083.1 832.0,1082.4 830.5,1082.9 829.1,1083.1 827.6,1082.5 826.2,1082.7 824.7,1083.0 823.3,1082.4 821.8,1083.0 820.4,1083.8 818.9,1082.8 817.5,1083.6 816.0,1082.9 814.5,1082.5 813.1,1083.6 811.6,1082.9 810.2,1083.4 808.7,1083.9 807.3,1083.0 805.8,1083.4 804.4,1084.3 802.9,1084.4 801.4,1084.2 800.0,1083.3 798.5,1083.8 797.1,1083.8 795.6,1083.4 794.2,1084.6 792.7,1085.3 791.3,1084.7 789.8,1084.8 788.4,1084.5 786.9,1083.9 785.4,1082.7 784.0,1082.3 782.5,1083.5 781.1,1084.0 779.6,1084.3 778.2,1084.3 776.7,1084.2 775.3,1084.5 773.8,1084.9 772.3,1084.8 770.9,1084.4 769.4,1084.9 768.0,1084.7 766.5,1084.9 765.1,1084.9 763.6,1084.4 762.2,1084.9 760.7,1084.5 759.3,1084.4 757.8,1084.4 756.3,1084.2 754.9,1084.6 753.4,1084.7 752.0,1084.6 750.5,1083.8 749.1,1083.9 747.6,1084.2 746.2,1084.5 744.7,1084.8 743.2,1084.3 741.8,1084.3 740.3,1084.6 738.9,1085.2 737.4,1084.7 736.0,1085.0 734.5,1085.5 733.1,1086.2 731.6,1086.2 730.2,1085.9 728.7,1086.1 727.2,1086.0 725.8,1086.2 724.3,1086.0 722.9,1086.1 721.4,1086.2 720.0,1086.2 718.5,1086.2 717.1,1086.2 715.6,1086.2Z" fill="#e7e7e7"/><path d="M715.6,1078.4 717.1,1078.2 718.5,1078.3 720.0,1077.4 721.4,1077.1 722.9,1077.3 724.3,1076.9 725.8,1076.6 727.2,1076.2 728.7,1075.6 730.2,1075.7 731.6,1074.9 733.1,1073.6 734.5,1073.3 736.0,1073.8 737.4,1073.5 738.9,1073.4 740.3,1071.9 741.8,1070.4 743.2,1071.0 744.7,1070.9 746.2,1071.2 747.6,1070.5 749.1,1069.1 750.5,1069.0 752.0,1069.6 753.4,1067.6 754.9,1066.7 756.3,1067.4 757.8,1066.2 759.3,1065.2 760.7,1065.0 762.2,1064.6 763.6,1063.6 765.1,1062.3 766.5,1061.9 768.0,1061.5 769.4,1060.9 770.9,1060.5 772.3,1060.2 773.8,1060.4 775.3,1060.0 776.7,1059.6 778.2,1058.5 779.6,1058.0 781.1,1058.6 782.5,1057.8 784.0,1057.3 785.4,1056.1 786.9,1056.1 788.4,1057.2 789.8,1056.1 791.3,1056.7 792.7,1057.8 794.2,1058.0 795.6,1058.7 797.1,1059.2 798.5,1059.9 800.0,1059.9 801.4,1060.4 802.9,1061.2 804.4,1060.0 805.8,1059.5 807.3,1060.3 808.7,1059.6 810.2,1060.3 811.6,1061.1 813.1,1059.7 814.5,1058.4 816.0,1059.0 817.5,1059.0 818.9,1058.2 820.4,1057.3 821.8,1057.1 823.3,1058.4 824.7,1058.1 826.2,1057.2 827.6,1058.1 829.1,1058.3 830.5,1057.9 832.0,1057.5 833.5,1057.1 834.9,1055.6 836.4,1054.3 837.8,1053.9 839.3,1055.0 840.7,1055.5 842.2,1053.9 843.6,1052.9 845.1,1052.0 846.6,1050.4 848.0,1051.5 849.5,1052.4 850.9,1050.7 852.4,1049.5 853.8,1048.8 855.3,1049.1 856.7,1048.4 858.2,1047.9 859.6,1046.7 861.1,1045.8 862.6,1046.0 864.0,1045.3 865.5,1044.2 866.9,1042.9 868.4,1041.1 869.8,1040.4 871.3,1039.6 872.7,1037.4 874.2,1036.9 875.7,1035.2 877.1,1033.1 878.6,1033.5 880.0,1033.4 881.5,1031.4 882.9,1029.7 884.4,1029.1 885.8,1027.9 887.3,1025.8 888.7,1025.0 890.2,1024.5 891.7,1022.9 893.1,1022.4 894.6,1021.3 896.0,1018.8 897.5,1017.6 898.9,1018.5 900.4,1017.0 901.8,1014.4 903.3,1013.6 904.8,1013.3 906.2,1012.2 907.7,1011.7 909.1,1013.0 910.6,1011.8 912.0,1010.5 913.5,1010.4 914.9,1011.8 916.4,1013.0 917.8,1013.6 919.3,1015.3 920.8,1016.5 922.2,1018.5 923.7,1021.5 925.1,1020.6 926.6,1020.2 928.0,1023.6 929.5,1025.0 930.9,1026.0 932.4,1028.4 933.9,1031.2 935.3,1033.2 936.8,1033.2 938.2,1033.6 939.7,1034.8 941.1,1035.7 942.6,1036.2 944.0,1036.0 945.5,1037.8 946.9,1041.2 948.4,1043.3 949.9,1042.6 951.3,1043.0 952.8,1044.4 954.2,1045.1 955.7,1045.3 957.1,1045.5 958.6,1045.7 960.0,1045.8 961.5,1046.0 963.0,1045.8 964.4,1045.8 965.9,1046.1 967.3,1046.1 968.8,1046.1 970.2,1046.1 971.7,1045.9 973.1,1045.8 974.6,1045.9 976.0,1045.9 977.5,1045.9 979.0,1045.6 980.4,1045.4 981.9,1045.3 983.3,1045.2 984.8,1045.1 986.2,1045.1 987.7,1045.0 989.1,1045.0 990.6,1044.8 992.1,1044.7 993.5,1044.6 995.0,1044.5 996.4,1044.2 997.9,1044.1 999.3,1044.1 1000.8,1044.0 1002.2,1043.8 1003.7,1043.5 1005.1,1043.4 1006.6,1043.3 1008.1,1043.2 1009.5,1043.1 1011.0,1042.8 1012.4,1042.6 1013.9,1042.2 1015.3,1041.8 1016.8,1041.8 1018.2,1041.6 1019.7,1041.3 1021.2,1040.9 1023.3,1040.5 L1023.3,1071.6 1021.2,1071.6 1019.7,1071.5 1018.2,1071.5 1016.8,1071.6 1015.3,1071.6 1013.9,1071.6 1012.4,1071.6 1011.0,1071.5 1009.5,1071.5 1008.1,1071.5 1006.6,1071.4 1005.1,1071.4 1003.7,1071.4 1002.2,1071.3 1000.8,1071.3 999.3,1071.4 997.9,1071.4 996.4,1071.4 995.0,1071.4 993.5,1071.3 992.1,1071.2 990.6,1071.3 989.1,1071.2 987.7,1071.0 986.2,1071.0 984.8,1071.0 983.3,1070.9 981.9,1071.0 980.4,1070.9 979.0,1070.8 977.5,1070.7 976.0,1070.6 974.6,1070.6 973.1,1070.7 971.7,1070.7 970.2,1070.6 968.8,1070.5 967.3,1070.4 965.9,1070.4 964.4,1070.3 963.0,1070.3 961.5,1070.1 960.0,1070.0 958.6,1070.0 957.1,1069.8 955.7,1069.6 954.2,1069.4 952.8,1068.7 951.3,1068.5 949.9,1068.3 948.4,1068.1 946.9,1067.0 945.5,1066.2 944.0,1065.6 942.6,1064.9 941.1,1063.7 939.7,1062.4 938.2,1061.4 936.8,1060.6 935.3,1061.0 933.9,1059.8 932.4,1057.5 930.9,1056.3 929.5,1055.8 928.0,1055.6 926.6,1053.8 925.1,1051.2 923.7,1050.9 922.2,1049.9 920.8,1047.7 919.3,1046.8 917.8,1046.3 916.4,1046.0 914.9,1045.0 913.5,1045.8 912.0,1046.0 910.6,1044.5 909.1,1045.1 907.7,1045.1 906.2,1045.3 904.8,1046.5 903.3,1047.0 901.8,1048.1 900.4,1048.6 898.9,1048.7 897.5,1049.2 896.0,1049.1 894.6,1049.4 893.1,1050.4 891.7,1052.1 890.2,1053.2 888.7,1054.1 887.3,1054.7 885.8,1054.6 884.4,1055.9 882.9,1057.3 881.5,1057.3 880.0,1058.1 878.6,1058.6 877.1,1060.2 875.7,1060.8 874.2,1060.4 872.7,1061.7 871.3,1062.2 869.8,1063.1 868.4,1063.5 866.9,1064.1 865.5,1064.2 864.0,1064.3 862.6,1065.4 861.1,1066.3 859.6,1067.0 858.2,1066.6 856.7,1066.6 855.3,1067.7 853.8,1068.3 852.4,1068.3 850.9,1068.3 849.5,1069.1 848.0,1069.4 846.6,1069.5 845.1,1070.2 843.6,1070.9 842.2,1071.2 840.7,1071.2 839.3,1071.1 837.8,1071.7 836.4,1072.5 834.9,1072.6 833.5,1073.3 832.0,1073.4 830.5,1073.7 829.1,1074.3 827.6,1074.6 826.2,1074.9 824.7,1074.5 823.3,1074.2 821.8,1074.4 820.4,1074.2 818.9,1074.6 817.5,1074.8 816.0,1075.0 814.5,1075.6 813.1,1075.7 811.6,1075.7 810.2,1075.9 808.7,1076.7 807.3,1077.3 805.8,1076.9 804.4,1076.7 802.9,1076.8 801.4,1076.9 800.0,1076.1 798.5,1075.1 797.1,1075.8 795.6,1075.4 794.2,1074.5 792.7,1074.0 791.3,1074.1 789.8,1074.6 788.4,1074.5 786.9,1074.7 785.4,1074.1 784.0,1074.4 782.5,1075.3 781.1,1074.3 779.6,1074.3 778.2,1075.3 776.7,1075.3 775.3,1075.5 773.8,1075.6 772.3,1076.0 770.9,1077.3 769.4,1077.1 768.0,1077.2 766.5,1078.1 765.1,1078.5 763.6,1079.1 762.2,1079.2 760.7,1078.9 759.3,1079.2 757.8,1079.6 756.3,1080.3 754.9,1081.0 753.4,1080.7 752.0,1081.4 750.5,1082.1 749.1,1082.4 747.6,1083.6 746.2,1083.1 744.7,1082.4 743.2,1082.9 741.8,1083.7 740.3,1084.3 738.9,1084.9 737.4,1084.4 736.0,1084.1 734.5,1085.2 733.1,1086.2 731.6,1086.0 730.2,1085.6 728.7,1085.8 727.2,1085.7 725.8,1085.9 724.3,1085.7 722.9,1085.8 721.4,1086.2 720.0,1086.1 718.5,1086.2 717.1,1086.2 715.6,1086.1Z" fill="#b9b9b9"/><path d="M715.6,1079.8 717.1,1080.0 718.5,1079.8 720.0,1079.8 721.4,1079.3 722.9,1079.0 724.3,1079.3 725.8,1078.8 727.2,1078.7 728.7,1078.7 730.2,1078.3 731.6,1078.3 733.1,1078.3 734.5,1077.9 736.0,1077.9 737.4,1077.5 738.9,1077.0 740.3,1076.5 741.8,1076.0 743.2,1075.9 744.7,1075.1 746.2,1074.1 747.6,1073.4 749.1,1073.1 750.5,1073.2 752.0,1073.0 753.4,1072.3 754.9,1072.0 756.3,1071.9 757.8,1071.7 759.3,1070.8 760.7,1069.9 762.2,1069.8 763.6,1068.8 765.1,1068.0 766.5,1067.5 768.0,1066.9 769.4,1066.9 770.9,1066.0 772.3,1065.2 773.8,1065.2 775.3,1065.1 776.7,1064.8 778.2,1064.5 779.6,1064.1 781.1,1063.5 782.5,1063.7 784.0,1063.7 785.4,1063.4 786.9,1063.2 788.4,1063.4 789.8,1063.9 791.3,1063.6 792.7,1063.2 794.2,1063.4 795.6,1064.6 797.1,1065.1 798.5,1064.6 800.0,1065.4 801.4,1066.5 802.9,1066.2 804.4,1065.9 805.8,1065.8 807.3,1065.6 808.7,1066.4 810.2,1066.5 811.6,1065.6 813.1,1065.4 814.5,1065.3 816.0,1064.9 817.5,1064.2 818.9,1063.6 820.4,1064.4 821.8,1064.3 823.3,1063.8 824.7,1063.6 826.2,1063.4 827.6,1063.6 829.1,1062.9 830.5,1063.1 832.0,1062.6 833.5,1061.5 834.9,1061.2 836.4,1060.7 837.8,1060.6 839.3,1060.1 840.7,1059.8 842.2,1060.2 843.6,1059.3 845.1,1057.9 846.6,1057.8 848.0,1057.6 849.5,1057.8 850.9,1057.7 852.4,1057.0 853.8,1056.3 855.3,1056.4 856.7,1055.4 858.2,1053.6 859.6,1053.4 861.1,1053.2 862.6,1052.5 864.0,1051.5 865.5,1050.4 866.9,1049.8 868.4,1049.3 869.8,1048.3 871.3,1047.3 872.7,1047.0 874.2,1046.7 875.7,1045.9 877.1,1044.6 878.6,1042.9 880.0,1042.0 881.5,1041.0 882.9,1040.0 884.4,1038.9 885.8,1037.2 887.3,1036.1 888.7,1036.3 890.2,1034.5 891.7,1033.0 893.1,1033.0 894.6,1032.6 896.0,1031.2 897.5,1029.9 898.9,1029.9 900.4,1029.6 901.8,1027.9 903.3,1026.4 904.8,1026.4 906.2,1026.2 907.7,1025.0 909.1,1024.4 910.6,1024.6 912.0,1024.7 913.5,1024.7 914.9,1025.1 916.4,1025.1 917.8,1026.7 919.3,1028.8 920.8,1029.9 922.2,1030.8 923.7,1031.7 925.1,1033.6 926.6,1035.5 928.0,1035.8 929.5,1037.0 930.9,1038.7 932.4,1039.8 933.9,1041.2 935.3,1043.1 936.8,1044.8 938.2,1045.2 939.7,1046.6 941.1,1047.7 942.6,1047.8 944.0,1048.7 945.5,1049.8 946.9,1050.9 948.4,1052.7 949.9,1053.6 951.3,1053.9 952.8,1054.5 954.2,1054.3 955.7,1054.2 957.1,1054.1 958.6,1054.0 960.0,1053.9 961.5,1053.8 963.0,1053.9 964.4,1053.9 965.9,1053.8 967.3,1053.7 968.8,1053.7 970.2,1053.7 971.7,1053.6 973.1,1053.5 974.6,1053.4 976.0,1053.5 977.5,1053.4 979.0,1053.3 980.4,1053.3 981.9,1053.2 983.3,1053.1 984.8,1053.2 986.2,1053.1 987.7,1053.0 989.1,1052.9 990.6,1052.7 992.1,1052.8 993.5,1052.9 995.0,1052.8 996.4,1052.8 997.9,1052.7 999.3,1052.6 1000.8,1052.6 1002.2,1052.6 1003.7,1052.5 1005.1,1052.4 1006.6,1052.3 1008.1,1052.2 1009.5,1052.1 1011.0,1052.1 1012.4,1052.1 1013.9,1052.1 1015.3,1052.1 1016.8,1051.9 1018.2,1051.9 1019.7,1051.8 1021.2,1051.7 1023.3,1051.6 L1023.3,1067.1 1021.2,1067.1 1019.7,1067.1 1018.2,1067.2 1016.8,1067.1 1015.3,1067.1 1013.9,1067.1 1012.4,1067.1 1011.0,1067.0 1009.5,1067.0 1008.1,1067.0 1006.6,1067.1 1005.1,1067.1 1003.7,1067.0 1002.2,1067.0 1000.8,1067.0 999.3,1066.9 997.9,1066.8 996.4,1066.8 995.0,1066.8 993.5,1066.8 992.1,1066.8 990.6,1066.8 989.1,1066.7 987.7,1066.7 986.2,1066.6 984.8,1066.5 983.3,1066.6 981.9,1066.5 980.4,1066.4 979.0,1066.4 977.5,1066.4 976.0,1066.4 974.6,1066.2 973.1,1066.1 971.7,1066.1 970.2,1066.2 968.8,1066.1 967.3,1066.1 965.9,1066.0 964.4,1065.9 963.0,1065.8 961.5,1065.7 960.0,1065.6 958.6,1065.4 957.1,1065.3 955.7,1065.1 954.2,1064.9 952.8,1064.7 951.3,1064.7 949.9,1064.5 948.4,1063.7 946.9,1063.1 945.5,1062.5 944.0,1061.5 942.6,1061.0 941.1,1059.7 939.7,1058.7 938.2,1058.1 936.8,1057.4 935.3,1056.3 933.9,1054.9 932.4,1053.6 930.9,1052.9 929.5,1052.1 928.0,1050.9 926.6,1049.2 925.1,1047.4 923.7,1046.0 922.2,1044.7 920.8,1043.5 919.3,1042.2 917.8,1041.4 916.4,1041.1 914.9,1040.4 913.5,1039.9 912.0,1039.7 910.6,1039.4 909.1,1040.0 907.7,1040.9 906.2,1040.7 904.8,1040.7 903.3,1040.9 901.8,1041.9 900.4,1043.4 898.9,1043.5 897.5,1044.1 896.0,1045.0 894.6,1045.5 893.1,1046.8 891.7,1047.9 890.2,1048.4 888.7,1049.1 887.3,1050.1 885.8,1051.0 884.4,1051.9 882.9,1052.7 881.5,1053.7 880.0,1054.6 878.6,1055.2 877.1,1055.9 875.7,1056.7 874.2,1057.9 872.7,1058.4 871.3,1058.4 869.8,1059.3 868.4,1059.8 866.9,1060.7 865.5,1061.6 864.0,1061.8 862.6,1062.1 861.1,1062.7 859.6,1063.2 858.2,1063.4 856.7,1064.0 855.3,1065.0 853.8,1065.2 852.4,1065.1 850.9,1065.8 849.5,1066.5 848.0,1067.1 846.6,1067.6 845.1,1068.4 843.6,1068.7 842.2,1068.3 840.7,1068.2 839.3,1068.6 837.8,1069.0 836.4,1069.7 834.9,1069.9 833.5,1069.7 832.0,1070.1 830.5,1070.7 829.1,1070.7 827.6,1071.0 826.2,1071.5 824.7,1071.6 823.3,1072.0 821.8,1071.9 820.4,1072.0 818.9,1072.5 817.5,1072.5 816.0,1072.7 814.5,1073.4 813.1,1073.4 811.6,1073.0 810.2,1073.5 808.7,1074.0 807.3,1074.0 805.8,1073.9 804.4,1074.0 802.9,1073.6 801.4,1072.6 800.0,1073.0 798.5,1073.5 797.1,1072.8 795.6,1071.7 794.2,1071.1 792.7,1071.4 791.3,1071.5 789.8,1071.6 788.4,1071.2 786.9,1071.0 785.4,1071.0 784.0,1071.1 782.5,1071.5 781.1,1072.2 779.6,1072.7 778.2,1073.3 776.7,1073.5 775.3,1073.4 773.8,1073.8 772.3,1074.5 770.9,1074.6 769.4,1074.0 768.0,1074.5 766.5,1074.9 765.1,1075.3 763.6,1076.0 762.2,1076.6 760.7,1077.4 759.3,1077.3 757.8,1078.0 756.3,1078.6 754.9,1078.5 753.4,1078.6 752.0,1079.2 750.5,1080.6 749.1,1080.8 747.6,1080.8 746.2,1081.4 744.7,1081.5 743.2,1080.9 741.8,1081.5 740.3,1082.2 738.9,1082.7 737.4,1083.0 736.0,1083.5 734.5,1084.0 733.1,1084.1 731.6,1083.8 730.2,1083.7 728.7,1084.1 727.2,1084.0 725.8,1084.4 724.3,1084.6 722.9,1084.7 721.4,1085.0 720.0,1085.2 718.5,1085.0 717.1,1084.2 715.6,1084.3Z" fill="#878787"/><path d="M715.6,1083.5 717.1,1083.2 718.5,1082.6 720.0,1083.2 721.4,1083.3 722.9,1083.0 724.3,1082.6 725.8,1083.4 727.2,1083.2 728.7,1081.8 730.2,1082.0 731.6,1083.0 733.1,1083.3 734.5,1082.3 736.0,1081.7 737.4,1081.7 738.9,1081.0 740.3,1080.8 741.8,1080.7 743.2,1080.0 744.7,1080.2 746.2,1079.5 747.6,1078.9 749.1,1079.9 750.5,1079.8 752.0,1078.4 753.4,1076.7 754.9,1075.2 756.3,1074.9 757.8,1076.7 759.3,1075.5 760.7,1072.8 762.2,1073.7 763.6,1074.5 765.1,1072.5 766.5,1071.7 768.0,1072.5 769.4,1071.3 770.9,1071.3 772.3,1071.1 773.8,1070.8 775.3,1071.3 776.7,1069.9 778.2,1068.6 779.6,1068.4 781.1,1068.9 782.5,1068.8 784.0,1068.2 785.4,1068.0 786.9,1068.7 788.4,1068.2 789.8,1067.7 791.3,1068.6 792.7,1069.0 794.2,1069.6 795.6,1070.9 797.1,1070.7 798.5,1070.4 800.0,1069.4 801.4,1069.4 802.9,1071.7 804.4,1071.3 805.8,1071.7 807.3,1071.1 808.7,1071.0 810.2,1071.6 811.6,1070.0 813.1,1069.8 814.5,1069.9 816.0,1069.3 817.5,1068.4 818.9,1068.5 820.4,1069.5 821.8,1069.8 823.3,1069.8 824.7,1069.0 826.2,1067.9 827.6,1067.8 829.1,1067.8 830.5,1068.0 832.0,1068.6 833.5,1068.5 834.9,1067.3 836.4,1067.4 837.8,1066.5 839.3,1064.7 840.7,1065.1 842.2,1065.6 843.6,1064.9 845.1,1065.0 846.6,1064.3 848.0,1063.3 849.5,1063.3 850.9,1063.3 852.4,1063.2 853.8,1062.5 855.3,1061.6 856.7,1059.7 858.2,1059.7 859.6,1059.7 861.1,1058.4 862.6,1060.2 864.0,1059.4 865.5,1056.6 866.9,1057.0 868.4,1057.0 869.8,1055.3 871.3,1054.8 872.7,1054.6 874.2,1054.3 875.7,1053.1 877.1,1052.5 878.6,1051.3 880.0,1050.2 881.5,1049.5 882.9,1048.6 884.4,1047.7 885.8,1046.1 887.3,1046.4 888.7,1045.2 890.2,1042.8 891.7,1042.8 893.1,1042.3 894.6,1040.8 896.0,1040.0 897.5,1040.6 898.9,1039.3 900.4,1037.3 901.8,1037.4 903.3,1036.4 904.8,1035.8 906.2,1036.0 907.7,1035.1 909.1,1035.2 910.6,1034.9 912.0,1034.2 913.5,1035.2 914.9,1037.3 916.4,1036.4 917.8,1035.2 919.3,1038.4 920.8,1039.2 922.2,1040.0 923.7,1042.3 925.1,1042.6 926.6,1044.2 928.0,1045.8 929.5,1046.9 930.9,1047.8 932.4,1049.3 933.9,1049.9 935.3,1050.6 936.8,1053.7 938.2,1055.1 939.7,1055.2 941.1,1055.8 942.6,1056.7 944.0,1059.3 945.5,1060.3 946.9,1059.4 948.4,1059.6 949.9,1059.9 951.3,1061.0 952.8,1061.2 954.2,1061.0" fill="none" stroke="#474747" stroke-width="4.2" stroke-linejoin="round"/><path d="M954.2,1061.0 955.7,1061.2 957.1,1061.4 958.6,1061.8 960.0,1061.9 961.5,1061.9 963.0,1061.9 964.4,1062.3 965.9,1062.6 967.3,1062.2 968.8,1062.2 970.2,1062.3 971.7,1061.8 973.1,1061.7 974.6,1062.6 976.0,1062.8 977.5,1062.7 979.0,1062.4 980.4,1061.6 981.9,1061.6 983.3,1062.4 984.8,1062.3 986.2,1061.7 987.7,1062.3 989.1,1062.5 990.6,1062.1 992.1,1062.3 993.5,1062.4 995.0,1062.2 996.4,1062.2 997.9,1062.1 999.3,1062.0 1000.8,1062.4 1002.2,1062.1 1003.7,1061.9 1005.1,1061.8 1006.6,1062.1 1008.1,1062.6 1009.5,1062.7 1011.0,1062.8 1012.4,1062.8 1013.9,1062.7 1015.3,1062.2 1016.8,1062.3 1018.2,1062.2 1019.7,1062.6 1021.2,1063.0 1023.3,1062.5" fill="none" stroke="#474747" stroke-width="3.8" stroke-linejoin="round" stroke-linecap="round"/></g>
<clipPath id="c3_1039"><rect x="1039.4" y="829.8" width="307.7" height="256.9"/></clipPath><g clip-path="url(#c3_1039)"><path d="M1039.4,1077.9 1040.9,1074.0 1042.3,1070.6 1043.8,1072.2 1045.2,1066.6 1046.7,1068.8 1048.1,1062.7 1049.6,1067.3 1051.0,1067.9 1052.5,1067.0 1053.9,1068.8 1055.4,1067.8 1056.9,1065.7 1058.3,1068.2 1059.8,1064.3 1061.2,1066.7 1062.7,1065.5 1064.1,1062.6 1065.6,1064.4 1067.0,1062.9 1068.5,1066.7 1070.0,1060.8 1071.4,1060.3 1072.9,1055.9 1074.3,1055.1 1075.8,1058.8 1077.2,1054.9 1078.7,1054.2 1080.1,1058.1 1081.6,1051.2 1083.0,1050.1 1084.5,1048.9 1086.0,1052.0 1087.4,1052.8 1088.9,1053.6 1090.3,1050.6 1091.8,1047.3 1093.2,1041.0 1094.7,1041.9 1096.1,1046.1 1097.6,1038.0 1099.1,1034.8 1100.5,1041.1 1102.0,1039.1 1103.4,1037.7 1104.9,1043.8 1106.3,1034.3 1107.8,1034.8 1109.2,1032.9 1110.7,1037.7 1112.1,1036.4 1113.6,1034.4 1115.1,1032.6 1116.5,1029.4 1118.0,1037.0 1119.4,1029.1 1120.9,1024.7 1122.3,1037.6 1123.8,1019.3 1125.2,1029.6 1126.7,1030.4 1128.2,1037.0 1129.6,1037.4 1131.1,1036.7 1132.5,1033.9 1134.0,1031.1 1135.4,1035.6 1136.9,1039.1 1138.3,1037.5 1139.8,1035.1 1141.2,1027.0 1142.7,1038.9 1144.2,1028.8 1145.6,1032.8 1147.1,1033.6 1148.5,1027.5 1150.0,1035.4 1151.4,1034.5 1152.9,1030.7 1154.3,1030.8 1155.8,1038.0 1157.3,1025.7 1158.7,1032.6 1160.2,1041.7 1161.6,1033.6 1163.1,1027.5 1164.5,1030.4 1166.0,1027.1 1167.4,1019.3 1168.9,1022.4 1170.3,1017.8 1171.8,1025.9 1173.3,1029.5 1174.7,1020.5 1176.2,1032.6 1177.6,1025.0 1179.1,1026.0 1180.5,1033.1 1182.0,1032.8 1183.4,1030.2 1184.9,1023.7 1186.4,1011.9 1187.8,1015.1 1189.3,1007.1 1190.7,1010.6 1192.2,1019.1 1193.6,1022.5 1195.1,1017.0 1196.5,1012.5 1198.0,1010.7 1199.4,1007.5 1200.9,1007.5 1202.4,1005.3 1203.8,1013.0 1205.3,1011.2 1206.7,1012.5 1208.2,1014.4 1209.6,1006.3 1211.1,1003.4 1212.5,992.2 1214.0,977.3 1215.5,965.1 1216.9,982.0 1218.4,989.7 1219.8,997.8 1221.3,993.7 1222.7,974.1 1224.2,980.1 1225.6,970.7 1227.1,981.9 1228.5,971.0 1230.0,976.3 1231.5,985.6 1232.9,970.6 1234.4,965.7 1235.8,948.8 1237.3,967.4 1238.7,974.8 1240.2,976.3 1241.6,978.9 1243.1,983.5 1244.6,971.8 1246.0,967.2 1247.5,977.3 1248.9,990.1 1250.4,994.3 1251.8,984.9 1253.3,987.8 1254.7,986.8 1256.2,987.4 1257.6,984.6 1259.1,992.1 1260.6,1006.6 1262.0,1001.5 1263.5,1001.8 1264.9,1004.3 1266.4,990.9 1267.8,994.1 1269.3,991.1 1270.7,1003.8 1272.2,1000.6 1273.7,1010.2 1275.1,1020.4 1276.6,1027.8 1278.0,1019.6 1279.5,1021.0 1280.9,1025.9 1282.4,1028.4 1283.8,1027.2 1285.3,1021.6 1286.7,1026.3 1288.2,1017.7 1289.7,1024.6 1291.1,1015.5 1292.6,1011.7 1294.0,1006.4 1295.5,1008.3 1296.9,1005.1 1298.4,1002.7 1299.8,989.1 1301.3,986.8 1302.8,978.7 1304.2,967.5 1305.7,954.0 1307.1,940.8 1308.6,919.4 1310.0,910.6 1311.5,877.9 1312.9,859.0 1314.4,833.6 1315.8,824.2 1317.3,808.7 1318.8,801.4 1320.2,804.4 1321.7,809.5 1323.1,805.4 1324.6,805.9 1326.0,803.0 1327.5,803.9 1328.9,805.2 1330.4,801.6 1331.9,808.7 1333.3,796.0 1334.8,805.7 1336.2,808.3 1337.7,802.1 1339.1,799.8 1340.6,798.8 1342.0,799.1 1343.5,804.5 1344.9,805.6 1347.1,801.9 L1347.1,1081.5 1344.9,1081.4 1343.5,1081.4 1342.0,1081.4 1340.6,1081.3 1339.1,1081.4 1337.7,1081.2 1336.2,1081.0 1334.8,1080.9 1333.3,1080.8 1331.9,1081.0 1330.4,1081.0 1328.9,1080.8 1327.5,1080.9 1326.0,1081.0 1324.6,1080.9 1323.1,1080.7 1321.7,1080.8 1320.2,1080.9 1318.8,1080.8 1317.3,1080.7 1315.8,1080.7 1314.4,1080.7 1312.9,1080.7 1311.5,1080.7 1310.0,1080.7 1308.6,1080.6 1307.1,1080.6 1305.7,1080.5 1304.2,1080.4 1302.8,1080.4 1301.3,1080.5 1299.8,1080.5 1298.4,1080.4 1296.9,1080.4 1295.5,1080.5 1294.0,1080.5 1292.6,1080.5 1291.1,1080.4 1289.7,1080.5 1288.2,1080.5 1286.7,1080.5 1285.3,1080.4 1283.8,1080.4 1282.4,1080.4 1280.9,1080.3 1279.5,1080.3 1278.0,1080.3 1276.6,1081.6 1275.1,1082.0 1273.7,1080.3 1272.2,1081.2 1270.7,1080.8 1269.3,1081.3 1267.8,1081.6 1266.4,1081.1 1264.9,1079.6 1263.5,1078.7 1262.0,1079.5 1260.6,1078.7 1259.1,1078.4 1257.6,1080.0 1256.2,1080.4 1254.7,1077.9 1253.3,1076.0 1251.8,1076.4 1250.4,1075.4 1248.9,1074.4 1247.5,1076.5 1246.0,1076.6 1244.6,1074.7 1243.1,1072.8 1241.6,1071.0 1240.2,1072.0 1238.7,1072.7 1237.3,1072.6 1235.8,1073.1 1234.4,1072.7 1232.9,1071.7 1231.5,1071.2 1230.0,1071.3 1228.5,1070.2 1227.1,1070.2 1225.6,1071.0 1224.2,1070.5 1222.7,1072.3 1221.3,1074.0 1219.8,1073.3 1218.4,1072.7 1216.9,1073.1 1215.5,1073.8 1214.0,1074.6 1212.5,1075.7 1211.1,1076.8 1209.6,1076.3 1208.2,1077.2 1206.7,1078.6 1205.3,1079.3 1203.8,1078.6 1202.4,1077.8 1200.9,1078.6 1199.4,1079.6 1198.0,1078.6 1196.5,1078.3 1195.1,1080.7 1193.6,1079.8 1192.2,1078.3 1190.7,1078.4 1189.3,1080.2 1187.8,1080.9 1186.4,1080.2 1184.9,1081.2 1183.4,1079.4 1182.0,1078.2 1180.5,1081.0 1179.1,1082.2 1177.6,1082.5 1176.2,1082.6 1174.7,1081.7 1173.3,1080.7 1171.8,1081.1 1170.3,1081.6 1168.9,1081.6 1167.4,1082.7 1166.0,1084.0 1164.5,1082.8 1163.1,1081.7 1161.6,1082.3 1160.2,1082.4 1158.7,1082.0 1157.3,1083.1 1155.8,1084.3 1154.3,1083.8 1152.9,1083.0 1151.4,1082.4 1150.0,1082.5 1148.5,1083.0 1147.1,1083.4 1145.6,1083.6 1144.2,1083.6 1142.7,1083.2 1141.2,1082.5 1139.8,1083.2 1138.3,1083.6 1136.9,1083.0 1135.4,1082.8 1134.0,1082.9 1132.5,1082.2 1131.1,1082.8 1129.6,1082.9 1128.2,1082.5 1126.7,1083.7 1125.2,1083.6 1123.8,1083.3 1122.3,1082.9 1120.9,1083.0 1119.4,1083.8 1118.0,1083.5 1116.5,1084.2 1115.1,1084.0 1113.6,1083.0 1112.1,1083.9 1110.7,1084.5 1109.2,1084.4 1107.8,1084.1 1106.3,1083.5 1104.9,1084.7 1103.4,1084.7 1102.0,1083.3 1100.5,1083.6 1099.1,1083.9 1097.6,1084.0 1096.1,1084.8 1094.7,1085.2 1093.2,1084.8 1091.8,1084.2 1090.3,1084.0 1088.9,1084.0 1087.4,1083.9 1086.0,1084.8 1084.5,1084.6 1083.0,1084.3 1081.6,1084.9 1080.1,1085.1 1078.7,1085.3 1077.2,1085.3 1075.8,1084.8 1074.3,1084.6 1072.9,1084.5 1071.4,1084.9 1070.0,1084.8 1068.5,1084.1 1067.0,1084.4 1065.6,1084.7 1064.1,1084.6 1062.7,1085.0 1061.2,1084.7 1059.8,1085.1 1058.3,1086.2 1056.9,1086.0 1055.4,1086.2 1053.9,1086.2 1052.5,1086.2 1051.0,1086.1 1049.6,1085.7 1048.1,1085.9 1046.7,1086.2 1045.2,1086.2 1043.8,1086.2 1042.3,1085.9 1040.9,1086.2 1039.4,1086.2Z" fill="#e7e7e7"/><path d="M1039.4,1078.2 1040.9,1077.5 1042.3,1077.2 1043.8,1077.3 1045.2,1077.2 1046.7,1076.7 1048.1,1075.7 1049.6,1075.9 1051.0,1076.8 1052.5,1075.5 1053.9,1074.5 1055.4,1075.1 1056.9,1074.4 1058.3,1073.1 1059.8,1073.1 1061.2,1073.2 1062.7,1072.5 1064.1,1072.8 1065.6,1073.1 1067.0,1072.3 1068.5,1071.2 1070.0,1070.4 1071.4,1070.3 1072.9,1069.8 1074.3,1069.6 1075.8,1069.7 1077.2,1068.3 1078.7,1067.6 1080.1,1068.0 1081.6,1067.4 1083.0,1065.7 1084.5,1064.6 1086.0,1064.2 1087.4,1063.6 1088.9,1063.1 1090.3,1062.2 1091.8,1062.0 1093.2,1062.2 1094.7,1061.1 1096.1,1059.4 1097.6,1059.5 1099.1,1059.8 1100.5,1059.4 1102.0,1058.8 1103.4,1058.4 1104.9,1057.9 1106.3,1058.0 1107.8,1059.0 1109.2,1057.9 1110.7,1055.8 1112.1,1056.0 1113.6,1056.9 1115.1,1057.4 1116.5,1058.0 1118.0,1058.5 1119.4,1060.2 1120.9,1060.2 1122.3,1059.2 1123.8,1060.1 1125.2,1059.7 1126.7,1060.1 1128.2,1060.8 1129.6,1059.7 1131.1,1059.5 1132.5,1060.3 1134.0,1060.9 1135.4,1061.0 1136.9,1060.5 1138.3,1059.4 1139.8,1059.1 1141.2,1059.2 1142.7,1059.7 1144.2,1058.6 1145.6,1058.0 1147.1,1059.1 1148.5,1058.4 1150.0,1057.7 1151.4,1057.1 1152.9,1056.4 1154.3,1055.7 1155.8,1056.8 1157.3,1057.7 1158.7,1056.7 1160.2,1056.1 1161.6,1054.5 1163.1,1053.8 1164.5,1054.3 1166.0,1054.5 1167.4,1053.5 1168.9,1052.6 1170.3,1052.5 1171.8,1051.8 1173.3,1051.0 1174.7,1050.6 1176.2,1050.5 1177.6,1048.8 1179.1,1048.7 1180.5,1050.1 1182.0,1048.4 1183.4,1047.1 1184.9,1046.3 1186.4,1044.6 1187.8,1045.3 1189.3,1044.8 1190.7,1043.8 1192.2,1042.9 1193.6,1041.5 1195.1,1040.1 1196.5,1039.1 1198.0,1039.1 1199.4,1037.4 1200.9,1034.8 1202.4,1032.9 1203.8,1031.5 1205.3,1031.0 1206.7,1030.8 1208.2,1028.8 1209.6,1027.9 1211.1,1026.8 1212.5,1026.3 1214.0,1026.0 1215.5,1024.6 1216.9,1022.3 1218.4,1019.1 1219.8,1017.1 1221.3,1017.2 1222.7,1016.7 1224.2,1016.4 1225.6,1016.5 1227.1,1015.3 1228.5,1013.5 1230.0,1011.7 1231.5,1012.3 1232.9,1012.9 1234.4,1011.6 1235.8,1011.3 1237.3,1012.1 1238.7,1013.2 1240.2,1014.5 1241.6,1014.8 1243.1,1016.4 1244.6,1018.6 1246.0,1019.3 1247.5,1020.6 1248.9,1021.4 1250.4,1022.2 1251.8,1023.7 1253.3,1025.2 1254.7,1026.9 1256.2,1028.3 1257.6,1030.7 1259.1,1031.2 1260.6,1030.8 1262.0,1032.6 1263.5,1035.4 1264.9,1036.8 1266.4,1036.9 1267.8,1038.3 1269.3,1039.8 1270.7,1040.9 1272.2,1041.6 1273.7,1042.6 1275.1,1045.1 1276.6,1045.9 1278.0,1047.0 1279.5,1047.1 1280.9,1047.1 1282.4,1046.9 1283.8,1046.7 1285.3,1046.3 1286.7,1046.0 1288.2,1045.7 1289.7,1045.3 1291.1,1044.9 1292.6,1044.6 1294.0,1044.4 1295.5,1043.8 1296.9,1043.0 1298.4,1042.2 1299.8,1041.5 1301.3,1040.8 1302.8,1039.7 1304.2,1038.8 1305.7,1037.9 1307.1,1036.7 1308.6,1035.3 1310.0,1033.7 1311.5,1032.1 1312.9,1030.4 1314.4,1028.7 1315.8,1027.0 1317.3,1025.1 1318.8,1022.8 1320.2,1020.6 1321.7,1018.1 1323.1,1015.2 1324.6,1012.4 1326.0,1009.4 1327.5,1005.6 1328.9,1001.6 1330.4,997.4 1331.9,993.1 1333.3,988.4 1334.8,983.1 1336.2,977.7 1337.7,971.9 1339.1,965.0 1340.6,958.6 1342.0,951.3 1343.5,942.5 1344.9,934.3 1347.1,921.7 L1347.1,1073.8 1344.9,1073.7 1343.5,1073.5 1342.0,1073.5 1340.6,1073.3 1339.1,1073.2 1337.7,1073.2 1336.2,1073.1 1334.8,1073.0 1333.3,1072.8 1331.9,1072.7 1330.4,1072.7 1328.9,1072.6 1327.5,1072.4 1326.0,1072.3 1324.6,1072.2 1323.1,1072.2 1321.7,1072.1 1320.2,1071.9 1318.8,1071.8 1317.3,1071.8 1315.8,1071.7 1314.4,1071.7 1312.9,1071.5 1311.5,1071.4 1310.0,1071.3 1308.6,1071.3 1307.1,1071.3 1305.7,1071.1 1304.2,1071.1 1302.8,1070.9 1301.3,1070.7 1299.8,1070.8 1298.4,1070.7 1296.9,1070.5 1295.5,1070.3 1294.0,1070.3 1292.6,1070.3 1291.1,1070.3 1289.7,1070.1 1288.2,1070.0 1286.7,1069.8 1285.3,1069.7 1283.8,1069.6 1282.4,1069.5 1280.9,1069.5 1279.5,1069.5 1278.0,1069.2 1276.6,1068.5 1275.1,1068.5 1273.7,1068.0 1272.2,1066.9 1270.7,1066.4 1269.3,1065.7 1267.8,1064.3 1266.4,1063.9 1264.9,1063.0 1263.5,1062.0 1262.0,1061.8 1260.6,1061.0 1259.1,1059.8 1257.6,1058.6 1256.2,1057.7 1254.7,1057.0 1253.3,1055.6 1251.8,1054.3 1250.4,1053.5 1248.9,1051.2 1247.5,1049.6 1246.0,1049.0 1244.6,1047.9 1243.1,1046.3 1241.6,1045.4 1240.2,1045.4 1238.7,1045.4 1237.3,1044.9 1235.8,1044.9 1234.4,1045.0 1232.9,1044.6 1231.5,1044.8 1230.0,1045.5 1228.5,1045.5 1227.1,1045.3 1225.6,1046.4 1224.2,1048.2 1222.7,1049.4 1221.3,1049.8 1219.8,1050.0 1218.4,1050.6 1216.9,1051.1 1215.5,1052.0 1214.0,1052.9 1212.5,1053.6 1211.1,1054.7 1209.6,1055.6 1208.2,1056.4 1206.7,1057.7 1205.3,1058.1 1203.8,1058.1 1202.4,1058.6 1200.9,1060.0 1199.4,1061.4 1198.0,1061.6 1196.5,1061.5 1195.1,1061.7 1193.6,1063.3 1192.2,1064.0 1190.7,1063.9 1189.3,1064.3 1187.8,1064.0 1186.4,1064.0 1184.9,1065.4 1183.4,1066.7 1182.0,1066.9 1180.5,1067.2 1179.1,1067.8 1177.6,1068.2 1176.2,1068.9 1174.7,1069.7 1173.3,1070.2 1171.8,1070.7 1170.3,1070.9 1168.9,1071.1 1167.4,1071.0 1166.0,1070.9 1164.5,1070.8 1163.1,1071.1 1161.6,1072.0 1160.2,1072.8 1158.7,1073.3 1157.3,1073.4 1155.8,1073.5 1154.3,1073.8 1152.9,1073.4 1151.4,1073.1 1150.0,1073.7 1148.5,1073.8 1147.1,1073.6 1145.6,1074.2 1144.2,1074.4 1142.7,1073.9 1141.2,1074.1 1139.8,1075.1 1138.3,1076.2 1136.9,1076.5 1135.4,1076.3 1134.0,1076.5 1132.5,1076.9 1131.1,1077.1 1129.6,1076.6 1128.2,1075.9 1126.7,1076.2 1125.2,1076.7 1123.8,1076.1 1122.3,1075.2 1120.9,1074.8 1119.4,1075.3 1118.0,1075.1 1116.5,1073.8 1115.1,1073.8 1113.6,1073.9 1112.1,1073.8 1110.7,1074.1 1109.2,1074.6 1107.8,1074.8 1106.3,1074.0 1104.9,1074.1 1103.4,1074.3 1102.0,1074.6 1100.5,1075.3 1099.1,1076.1 1097.6,1076.5 1096.1,1076.0 1094.7,1076.7 1093.2,1077.5 1091.8,1078.0 1090.3,1078.5 1088.9,1078.6 1087.4,1078.3 1086.0,1078.2 1084.5,1079.2 1083.0,1080.1 1081.6,1079.9 1080.1,1080.7 1078.7,1081.2 1077.2,1081.6 1075.8,1081.9 1074.3,1081.9 1072.9,1082.3 1071.4,1082.6 1070.0,1082.8 1068.5,1082.7 1067.0,1083.4 1065.6,1084.1 1064.1,1084.3 1062.7,1084.7 1061.2,1084.4 1059.8,1084.8 1058.3,1085.9 1056.9,1085.7 1055.4,1085.9 1053.9,1086.1 1052.5,1085.9 1051.0,1085.8 1049.6,1085.4 1048.1,1085.6 1046.7,1086.2 1045.2,1086.2 1043.8,1086.0 1042.3,1085.6 1040.9,1086.0 1039.4,1086.2Z" fill="#b9b9b9"/><path d="M1039.4,1080.4 1040.9,1079.9 1042.3,1079.6 1043.8,1079.6 1045.2,1079.4 1046.7,1079.6 1048.1,1079.5 1049.6,1079.0 1051.0,1079.2 1052.5,1079.1 1053.9,1078.0 1055.4,1077.4 1056.9,1077.9 1058.3,1078.0 1059.8,1077.7 1061.2,1077.3 1062.7,1076.6 1064.1,1076.1 1065.6,1075.6 1067.0,1075.0 1068.5,1074.6 1070.0,1074.2 1071.4,1073.9 1072.9,1073.6 1074.3,1073.0 1075.8,1073.0 1077.2,1072.6 1078.7,1072.3 1080.1,1072.4 1081.6,1071.0 1083.0,1070.4 1084.5,1069.8 1086.0,1069.4 1087.4,1069.5 1088.9,1068.1 1090.3,1066.7 1091.8,1066.4 1093.2,1066.3 1094.7,1066.4 1096.1,1066.0 1097.6,1065.2 1099.1,1065.4 1100.5,1065.1 1102.0,1064.7 1103.4,1064.3 1104.9,1064.1 1106.3,1063.6 1107.8,1063.3 1109.2,1063.0 1110.7,1062.8 1112.1,1062.7 1113.6,1062.6 1115.1,1063.4 1116.5,1064.2 1118.0,1063.7 1119.4,1063.5 1120.9,1064.3 1122.3,1065.4 1123.8,1065.8 1125.2,1066.0 1126.7,1066.4 1128.2,1065.7 1129.6,1065.9 1131.1,1065.9 1132.5,1066.0 1134.0,1066.4 1135.4,1066.4 1136.9,1065.5 1138.3,1065.3 1139.8,1065.7 1141.2,1064.3 1142.7,1064.5 1144.2,1065.4 1145.6,1064.1 1147.1,1063.4 1148.5,1063.1 1150.0,1062.7 1151.4,1063.0 1152.9,1063.0 1154.3,1062.4 1155.8,1061.9 1157.3,1061.6 1158.7,1061.4 1160.2,1061.6 1161.6,1061.2 1163.1,1061.0 1164.5,1060.8 1166.0,1060.2 1167.4,1059.9 1168.9,1058.9 1170.3,1058.0 1171.8,1057.4 1173.3,1056.9 1174.7,1056.9 1176.2,1056.7 1177.6,1056.2 1179.1,1055.1 1180.5,1054.7 1182.0,1054.3 1183.4,1053.9 1184.9,1053.0 1186.4,1051.6 1187.8,1050.7 1189.3,1051.0 1190.7,1050.4 1192.2,1048.9 1193.6,1048.1 1195.1,1047.8 1196.5,1047.0 1198.0,1046.2 1199.4,1045.2 1200.9,1043.8 1202.4,1043.5 1203.8,1042.8 1205.3,1041.0 1206.7,1039.4 1208.2,1038.9 1209.6,1037.2 1211.1,1036.6 1212.5,1036.6 1214.0,1035.5 1215.5,1033.6 1216.9,1032.3 1218.4,1032.1 1219.8,1031.4 1221.3,1030.0 1222.7,1029.0 1224.2,1029.4 1225.6,1028.2 1227.1,1026.4 1228.5,1025.8 1230.0,1024.7 1231.5,1024.2 1232.9,1025.4 1234.4,1024.9 1235.8,1024.1 1237.3,1025.4 1238.7,1026.2 1240.2,1026.3 1241.6,1026.5 1243.1,1027.3 1244.6,1028.7 1246.0,1030.5 1247.5,1032.1 1248.9,1033.8 1250.4,1034.4 1251.8,1035.8 1253.3,1037.8 1254.7,1038.8 1256.2,1040.1 1257.6,1041.6 1259.1,1042.9 1260.6,1044.1 1262.0,1044.9 1263.5,1045.8 1264.9,1047.7 1266.4,1049.2 1267.8,1049.4 1269.3,1049.9 1270.7,1050.8 1272.2,1051.5 1273.7,1052.7 1275.1,1054.0 1276.6,1054.5 1278.0,1053.9 1279.5,1053.9 1280.9,1053.7 1282.4,1053.5 1283.8,1053.5 1285.3,1053.2 1286.7,1053.0 1288.2,1052.9 1289.7,1052.8 1291.1,1052.6 1292.6,1052.3 1294.0,1052.1 1295.5,1051.8 1296.9,1051.5 1298.4,1051.3 1299.8,1050.9 1301.3,1050.6 1302.8,1050.6 1304.2,1050.4 1305.7,1049.8 1307.1,1049.5 1308.6,1049.0 1310.0,1048.5 1311.5,1048.1 1312.9,1047.5 1314.4,1046.7 1315.8,1045.9 1317.3,1044.9 1318.8,1043.7 1320.2,1042.5 1321.7,1041.2 1323.1,1039.9 1324.6,1038.7 1326.0,1037.6 1327.5,1036.4 1328.9,1035.2 1330.4,1034.1 1331.9,1033.1 1333.3,1031.9 1334.8,1030.5 1336.2,1029.4 1337.7,1027.8 1339.1,1025.7 1340.6,1023.9 1342.0,1022.2 1343.5,1020.1 1344.9,1018.2 1347.1,1015.8 L1347.1,1068.2 1344.9,1067.9 1343.5,1067.7 1342.0,1067.5 1340.6,1067.4 1339.1,1067.2 1337.7,1066.9 1336.2,1066.9 1334.8,1066.7 1333.3,1066.5 1331.9,1066.3 1330.4,1066.2 1328.9,1066.1 1327.5,1065.8 1326.0,1065.6 1324.6,1065.6 1323.1,1065.5 1321.7,1065.4 1320.2,1065.3 1318.8,1065.2 1317.3,1065.1 1315.8,1065.1 1314.4,1065.0 1312.9,1064.9 1311.5,1064.8 1310.0,1064.8 1308.6,1064.7 1307.1,1064.6 1305.7,1064.4 1304.2,1064.4 1302.8,1064.4 1301.3,1064.3 1299.8,1064.2 1298.4,1064.2 1296.9,1064.2 1295.5,1064.1 1294.0,1064.0 1292.6,1064.0 1291.1,1064.0 1289.7,1063.9 1288.2,1063.9 1286.7,1063.9 1285.3,1063.9 1283.8,1063.9 1282.4,1063.9 1280.9,1063.9 1279.5,1063.8 1278.0,1063.8 1276.6,1064.3 1275.1,1064.6 1273.7,1063.8 1272.2,1063.1 1270.7,1063.3 1269.3,1062.7 1267.8,1061.7 1266.4,1061.1 1264.9,1060.2 1263.5,1059.5 1262.0,1058.2 1260.6,1056.6 1259.1,1055.1 1257.6,1054.3 1256.2,1053.9 1254.7,1052.7 1253.3,1051.9 1251.8,1050.7 1250.4,1049.3 1248.9,1048.1 1247.5,1046.2 1246.0,1045.0 1244.6,1043.8 1243.1,1042.3 1241.6,1040.9 1240.2,1039.8 1238.7,1040.0 1237.3,1039.7 1235.8,1039.6 1234.4,1040.2 1232.9,1040.8 1231.5,1040.7 1230.0,1041.0 1228.5,1041.2 1227.1,1041.5 1225.6,1042.4 1224.2,1043.0 1222.7,1043.6 1221.3,1044.2 1219.8,1044.6 1218.4,1045.9 1216.9,1047.0 1215.5,1047.6 1214.0,1048.5 1212.5,1049.1 1211.1,1050.0 1209.6,1050.7 1208.2,1051.6 1206.7,1052.6 1205.3,1053.7 1203.8,1055.0 1202.4,1055.3 1200.9,1055.8 1199.4,1056.7 1198.0,1057.2 1196.5,1057.5 1195.1,1058.3 1193.6,1059.3 1192.2,1060.3 1190.7,1060.7 1189.3,1061.2 1187.8,1062.3 1186.4,1062.2 1184.9,1062.0 1183.4,1062.8 1182.0,1063.9 1180.5,1064.5 1179.1,1064.8 1177.6,1065.3 1176.2,1065.6 1174.7,1065.4 1173.3,1066.1 1171.8,1067.1 1170.3,1067.6 1168.9,1067.8 1167.4,1067.6 1166.0,1067.9 1164.5,1069.0 1163.1,1069.3 1161.6,1069.4 1160.2,1070.2 1158.7,1070.2 1157.3,1069.7 1155.8,1070.0 1154.3,1071.0 1152.9,1071.2 1151.4,1071.6 1150.0,1072.0 1148.5,1071.6 1147.1,1071.5 1145.6,1071.6 1144.2,1071.8 1142.7,1072.3 1141.2,1072.2 1139.8,1072.5 1138.3,1073.2 1136.9,1073.5 1135.4,1073.6 1134.0,1073.4 1132.5,1074.1 1131.1,1074.3 1129.6,1073.9 1128.2,1074.1 1126.7,1073.9 1125.2,1073.8 1123.8,1073.9 1122.3,1073.3 1120.9,1072.5 1119.4,1072.4 1118.0,1072.2 1116.5,1072.0 1115.1,1072.0 1113.6,1071.7 1112.1,1071.4 1110.7,1071.3 1109.2,1071.1 1107.8,1071.5 1106.3,1072.3 1104.9,1072.2 1103.4,1072.5 1102.0,1072.6 1100.5,1072.5 1099.1,1073.0 1097.6,1073.6 1096.1,1074.5 1094.7,1074.4 1093.2,1074.0 1091.8,1074.8 1090.3,1075.6 1088.9,1075.6 1087.4,1075.4 1086.0,1075.9 1084.5,1077.3 1083.0,1077.2 1081.6,1076.8 1080.1,1078.1 1078.7,1078.8 1077.2,1078.6 1075.8,1078.9 1074.3,1079.8 1072.9,1080.6 1071.4,1081.2 1070.0,1081.4 1068.5,1081.7 1067.0,1082.4 1065.6,1082.5 1064.1,1082.3 1062.7,1082.9 1061.2,1083.5 1059.8,1083.0 1058.3,1083.4 1056.9,1084.0 1055.4,1084.0 1053.9,1084.2 1052.5,1084.5 1051.0,1084.7 1049.6,1083.8 1048.1,1083.7 1046.7,1084.6 1045.2,1085.1 1043.8,1084.4 1042.3,1084.4 1040.9,1084.2 1039.4,1084.7Z" fill="#878787"/><path d="M1039.4,1083.7 1040.9,1083.4 1042.3,1082.9 1043.8,1083.6 1045.2,1084.3 1046.7,1083.3 1048.1,1081.4 1049.6,1082.6 1051.0,1083.9 1052.5,1083.6 1053.9,1083.3 1055.4,1082.4 1056.9,1081.4 1058.3,1080.6 1059.8,1081.5 1061.2,1082.3 1062.7,1081.4 1064.1,1079.9 1065.6,1079.1 1067.0,1079.0 1068.5,1078.7 1070.0,1077.1 1071.4,1076.9 1072.9,1078.9 1074.3,1078.0 1075.8,1076.8 1077.2,1076.8 1078.7,1075.8 1080.1,1075.5 1081.6,1075.2 1083.0,1074.3 1084.5,1074.4 1086.0,1074.2 1087.4,1073.7 1088.9,1072.8 1090.3,1072.7 1091.8,1072.2 1093.2,1071.9 1094.7,1071.8 1096.1,1070.4 1097.6,1070.3 1099.1,1070.0 1100.5,1069.3 1102.0,1069.5 1103.4,1069.8 1104.9,1070.0 1106.3,1069.6 1107.8,1068.7 1109.2,1067.5 1110.7,1067.4 1112.1,1068.0 1113.6,1068.0 1115.1,1068.1 1116.5,1068.2 1118.0,1069.3 1119.4,1069.3 1120.9,1069.3 1122.3,1071.2 1123.8,1071.2 1125.2,1070.3 1126.7,1070.8 1128.2,1071.3 1129.6,1071.5 1131.1,1072.3 1132.5,1072.0 1134.0,1071.3 1135.4,1070.9 1136.9,1070.0 1138.3,1070.2 1139.8,1069.9 1141.2,1070.1 1142.7,1070.0 1144.2,1069.0 1145.6,1068.4 1147.1,1068.1 1148.5,1067.9 1150.0,1067.6 1151.4,1066.9 1152.9,1067.0 1154.3,1068.6 1155.8,1067.3 1157.3,1067.0 1158.7,1067.7 1160.2,1066.9 1161.6,1066.1 1163.1,1066.4 1164.5,1066.0 1166.0,1064.5 1167.4,1065.6 1168.9,1064.5 1170.3,1062.0 1171.8,1062.3 1173.3,1062.7 1174.7,1061.8 1176.2,1061.3 1177.6,1060.6 1179.1,1061.4 1180.5,1062.3 1182.0,1060.3 1183.4,1059.1 1184.9,1059.0 1186.4,1059.1 1187.8,1058.4 1189.3,1058.1 1190.7,1057.9 1192.2,1056.0 1193.6,1055.2 1195.1,1054.6 1196.5,1055.2 1198.0,1054.8 1199.4,1052.5 1200.9,1051.7 1202.4,1052.0 1203.8,1050.6 1205.3,1048.0 1206.7,1048.4 1208.2,1048.7 1209.6,1046.9 1211.1,1045.6 1212.5,1045.5 1214.0,1043.2 1215.5,1042.3 1216.9,1042.8 1218.4,1041.5 1219.8,1040.6 1221.3,1041.1 1222.7,1040.0 1224.2,1038.3 1225.6,1036.7 1227.1,1035.5 1228.5,1036.8 1230.0,1035.4 1231.5,1033.4 1232.9,1034.0 1234.4,1035.5 1235.8,1036.1 1237.3,1035.3 1238.7,1035.1 1240.2,1035.1 1241.6,1036.2 1243.1,1037.4 1244.6,1038.5 1246.0,1040.3 1247.5,1041.2 1248.9,1044.0 1250.4,1045.2 1251.8,1046.3 1253.3,1047.9 1254.7,1047.9 1256.2,1048.8 1257.6,1051.0 1259.1,1052.6 1260.6,1052.8 1262.0,1053.1 1263.5,1054.9 1264.9,1057.4 1266.4,1057.9 1267.8,1058.6 1269.3,1057.4 1270.7,1057.4 1272.2,1059.9 1273.7,1060.8 1275.1,1060.8 1276.6,1060.8 1278.0,1060.4" fill="none" stroke="#474747" stroke-width="4.2" stroke-linejoin="round"/><path d="M1278.0,1060.4 1279.5,1060.0 1280.9,1059.7 1282.4,1059.9 1283.8,1060.0 1285.3,1059.7 1286.7,1060.2 1288.2,1060.3 1289.7,1059.9 1291.1,1059.4 1292.6,1059.3 1294.0,1059.9 1295.5,1060.2 1296.9,1059.9 1298.4,1059.7 1299.8,1059.7 1301.3,1059.8 1302.8,1059.7 1304.2,1058.8 1305.7,1059.4 1307.1,1060.4 1308.6,1059.8 1310.0,1059.8 1311.5,1059.5 1312.9,1059.4 1314.4,1059.7 1315.8,1059.5 1317.3,1059.3 1318.8,1059.1 1320.2,1059.3 1321.7,1059.4 1323.1,1059.4 1324.6,1059.1 1326.0,1058.7 1327.5,1058.9 1328.9,1059.0 1330.4,1058.4 1331.9,1058.0 1333.3,1057.4 1334.8,1056.8 1336.2,1056.0 1337.7,1055.6 1339.1,1055.3 1340.6,1054.9 1342.0,1054.3 1343.5,1053.8 1344.9,1053.8 1347.1,1053.9" fill="none" stroke="#474747" stroke-width="3.8" stroke-linejoin="round" stroke-linecap="round"/></g>
<clipPath id="c3_1363"><rect x="1363.2" y="829.8" width="307.7" height="256.9"/></clipPath><g clip-path="url(#c3_1363)"><path d="M1363.2,1075.1 1364.7,1072.0 1366.1,1070.9 1367.6,1067.5 1369.0,1065.3 1370.5,1066.2 1371.9,1066.0 1373.4,1066.8 1374.8,1067.9 1376.3,1064.2 1377.7,1069.6 1379.2,1067.6 1380.7,1067.6 1382.1,1065.7 1383.6,1062.8 1385.0,1066.9 1386.5,1062.6 1387.9,1064.7 1389.4,1056.4 1390.8,1061.0 1392.3,1055.8 1393.8,1057.5 1395.2,1056.1 1396.7,1061.3 1398.1,1058.3 1399.6,1055.8 1401.0,1056.1 1402.5,1054.5 1403.9,1053.9 1405.4,1051.2 1406.8,1054.4 1408.3,1053.8 1409.8,1053.0 1411.2,1046.1 1412.7,1045.6 1414.1,1048.1 1415.6,1043.2 1417.0,1040.4 1418.5,1043.4 1419.9,1046.0 1421.4,1032.3 1422.9,1037.3 1424.3,1037.6 1425.8,1029.3 1427.2,1039.7 1428.7,1035.6 1430.1,1045.6 1431.6,1036.4 1433.0,1035.9 1434.5,1042.2 1435.9,1040.1 1437.4,1037.9 1438.9,1034.2 1440.3,1023.6 1441.8,1033.0 1443.2,1031.1 1444.7,1031.6 1446.1,1037.5 1447.6,1032.0 1449.0,1039.9 1450.5,1035.8 1452.0,1043.6 1453.4,1041.5 1454.9,1037.9 1456.3,1044.8 1457.8,1043.3 1459.2,1032.8 1460.7,1038.8 1462.1,1033.7 1463.6,1032.9 1465.0,1038.2 1466.5,1038.9 1468.0,1028.5 1469.4,1039.5 1470.9,1033.3 1472.3,1037.8 1473.8,1030.3 1475.2,1037.8 1476.7,1040.3 1478.1,1038.8 1479.6,1037.2 1481.1,1037.9 1482.5,1037.4 1484.0,1032.4 1485.4,1037.3 1486.9,1032.2 1488.3,1032.9 1489.8,1023.9 1491.2,1022.3 1492.7,1020.3 1494.1,1036.1 1495.6,1020.5 1497.1,1030.9 1498.5,1018.8 1500.0,1027.2 1501.4,1028.3 1502.9,1034.4 1504.3,1028.3 1505.8,1027.3 1507.2,1028.1 1508.7,1027.0 1510.2,1018.8 1511.6,1013.8 1513.1,1012.3 1514.5,1018.3 1516.0,1018.7 1517.4,1014.1 1518.9,1008.7 1520.3,1006.3 1521.8,1010.9 1523.2,1011.6 1524.7,1008.9 1526.2,1005.4 1527.6,1005.9 1529.1,1001.1 1530.5,1010.8 1532.0,1007.1 1533.4,1005.0 1534.9,987.1 1536.3,987.8 1537.8,985.5 1539.3,985.0 1540.7,984.0 1542.2,985.1 1543.6,995.1 1545.1,987.0 1546.5,989.9 1548.0,988.0 1549.4,979.1 1550.9,975.6 1552.3,983.7 1553.8,991.3 1555.3,979.5 1556.7,976.7 1558.2,966.9 1559.6,954.5 1561.1,964.5 1562.5,980.2 1564.0,984.6 1565.4,972.9 1566.9,983.3 1568.4,973.7 1569.8,962.5 1571.3,987.0 1572.7,984.9 1574.2,990.4 1575.6,984.4 1577.1,993.9 1578.5,990.4 1580.0,984.8 1581.4,1001.6 1582.9,1004.2 1584.4,1001.1 1585.8,987.6 1587.3,999.2 1588.7,1003.4 1590.2,1009.0 1591.6,988.8 1593.1,989.8 1594.5,1000.1 1596.0,990.8 1597.5,1010.4 1598.9,1013.3 1600.4,1012.9 1601.8,1012.7 1603.3,1009.4 1604.7,1007.2 1606.2,1007.6 1607.6,1005.2 1609.1,1000.6 1610.5,995.3 1612.0,996.5 1613.5,991.8 1614.9,977.6 1616.4,973.6 1617.8,968.3 1619.3,957.8 1620.7,952.1 1622.2,941.6 1623.6,931.8 1625.1,916.5 1626.6,901.5 1628.0,888.2 1629.5,866.3 1630.9,834.6 1632.4,831.9 1633.8,821.4 1635.3,810.8 1636.7,805.0 1638.2,806.9 1639.6,811.1 1641.1,807.8 1642.6,807.6 1644.0,801.0 1645.5,804.3 1646.9,805.2 1648.4,809.0 1649.8,805.0 1651.3,801.3 1652.7,804.4 1654.2,802.1 1655.7,804.3 1657.1,802.5 1658.6,803.8 1660.0,807.4 1661.5,800.1 1662.9,802.5 1664.4,801.1 1665.8,808.1 1667.3,808.0 1668.7,805.3 1670.9,807.9 L1670.9,1080.4 1668.7,1080.2 1667.3,1080.3 1665.8,1080.3 1664.4,1080.0 1662.9,1079.8 1661.5,1079.8 1660.0,1079.7 1658.6,1079.8 1657.1,1079.9 1655.7,1080.0 1654.2,1079.9 1652.7,1079.6 1651.3,1079.8 1649.8,1079.7 1648.4,1079.4 1646.9,1079.5 1645.5,1079.6 1644.0,1079.6 1642.6,1079.6 1641.1,1079.5 1639.6,1079.5 1638.2,1079.6 1636.7,1079.3 1635.3,1079.3 1633.8,1079.5 1632.4,1079.3 1630.9,1079.3 1629.5,1079.4 1628.0,1079.3 1626.6,1079.3 1625.1,1079.4 1623.6,1079.4 1622.2,1079.2 1620.7,1079.2 1619.3,1079.3 1617.8,1079.2 1616.4,1079.4 1614.9,1079.5 1613.5,1079.2 1612.0,1079.1 1610.5,1079.2 1609.1,1079.4 1607.6,1079.4 1606.2,1079.4 1604.7,1079.5 1603.3,1079.4 1601.8,1080.2 1600.4,1081.4 1598.9,1082.2 1597.5,1082.0 1596.0,1081.9 1594.5,1081.8 1593.1,1080.6 1591.6,1080.9 1590.2,1081.3 1588.7,1081.4 1587.3,1080.1 1585.8,1078.3 1584.4,1078.1 1582.9,1078.9 1581.4,1079.2 1580.0,1077.8 1578.5,1077.7 1577.1,1078.4 1575.6,1077.3 1574.2,1076.5 1572.7,1076.7 1571.3,1076.0 1569.8,1074.1 1568.4,1071.1 1566.9,1069.7 1565.4,1072.7 1564.0,1075.4 1562.5,1073.1 1561.1,1072.0 1559.6,1073.4 1558.2,1072.3 1556.7,1071.8 1555.3,1072.6 1553.8,1072.1 1552.3,1072.4 1550.9,1072.0 1549.4,1072.1 1548.0,1073.0 1546.5,1073.2 1545.1,1073.5 1543.6,1072.6 1542.2,1072.2 1540.7,1072.5 1539.3,1072.9 1537.8,1074.0 1536.3,1076.0 1534.9,1074.5 1533.4,1073.7 1532.0,1076.7 1530.5,1076.8 1529.1,1076.8 1527.6,1076.8 1526.2,1078.0 1524.7,1079.2 1523.2,1078.5 1521.8,1077.9 1520.3,1078.1 1518.9,1079.3 1517.4,1079.6 1516.0,1079.4 1514.5,1079.4 1513.1,1080.0 1511.6,1079.4 1510.2,1079.3 1508.7,1080.8 1507.2,1080.9 1505.8,1079.7 1504.3,1079.8 1502.9,1081.1 1501.4,1081.5 1500.0,1080.3 1498.5,1079.0 1497.1,1079.7 1495.6,1081.5 1494.1,1081.4 1492.7,1081.4 1491.2,1082.2 1489.8,1081.4 1488.3,1081.5 1486.9,1082.2 1485.4,1082.2 1484.0,1082.3 1482.5,1082.7 1481.1,1083.0 1479.6,1082.5 1478.1,1083.1 1476.7,1083.3 1475.2,1082.2 1473.8,1082.8 1472.3,1083.8 1470.9,1082.9 1469.4,1081.8 1468.0,1082.2 1466.5,1082.5 1465.0,1082.8 1463.6,1083.8 1462.1,1083.5 1460.7,1083.3 1459.2,1083.4 1457.8,1082.8 1456.3,1082.8 1454.9,1082.9 1453.4,1083.8 1452.0,1084.3 1450.5,1083.8 1449.0,1083.1 1447.6,1083.2 1446.1,1083.9 1444.7,1084.6 1443.2,1084.4 1441.8,1083.5 1440.3,1083.4 1438.9,1084.1 1437.4,1084.0 1435.9,1084.1 1434.5,1084.7 1433.0,1083.8 1431.6,1082.9 1430.1,1082.9 1428.7,1084.4 1427.2,1084.6 1425.8,1084.8 1424.3,1085.0 1422.9,1084.5 1421.4,1084.0 1419.9,1083.7 1418.5,1084.0 1417.0,1084.5 1415.6,1085.2 1414.1,1084.8 1412.7,1084.5 1411.2,1084.6 1409.8,1084.6 1408.3,1084.4 1406.8,1084.1 1405.4,1083.9 1403.9,1084.4 1402.5,1084.3 1401.0,1083.9 1399.6,1085.4 1398.1,1085.6 1396.7,1084.5 1395.2,1084.3 1393.8,1084.2 1392.3,1084.2 1390.8,1084.3 1389.4,1084.3 1387.9,1084.5 1386.5,1084.9 1385.0,1085.0 1383.6,1085.3 1382.1,1085.9 1380.7,1085.9 1379.2,1086.2 1377.7,1086.2 1376.3,1086.0 1374.8,1085.7 1373.4,1085.9 1371.9,1086.2 1370.5,1086.2 1369.0,1086.2 1367.6,1086.2 1366.1,1086.2 1364.7,1086.2 1363.2,1086.2Z" fill="#e7e7e7"/><path d="M1363.2,1078.5 1364.7,1077.8 1366.1,1077.7 1367.6,1077.6 1369.0,1077.6 1370.5,1078.2 1371.9,1077.7 1373.4,1076.9 1374.8,1076.4 1376.3,1075.7 1377.7,1075.2 1379.2,1074.6 1380.7,1074.8 1382.1,1074.7 1383.6,1074.0 1385.0,1073.1 1386.5,1073.1 1387.9,1072.9 1389.4,1071.6 1390.8,1071.2 1392.3,1071.2 1393.8,1071.0 1395.2,1070.9 1396.7,1069.7 1398.1,1068.5 1399.6,1069.0 1401.0,1069.5 1402.5,1068.2 1403.9,1066.8 1405.4,1065.8 1406.8,1064.9 1408.3,1064.4 1409.8,1064.0 1411.2,1063.2 1412.7,1062.9 1414.1,1062.7 1415.6,1061.6 1417.0,1061.5 1418.5,1061.0 1419.9,1059.7 1421.4,1059.4 1422.9,1060.5 1424.3,1060.2 1425.8,1059.1 1427.2,1058.6 1428.7,1058.0 1430.1,1058.0 1431.6,1056.8 1433.0,1055.8 1434.5,1056.6 1435.9,1057.0 1437.4,1057.9 1438.9,1059.2 1440.3,1059.2 1441.8,1058.7 1443.2,1059.1 1444.7,1060.1 1446.1,1059.8 1447.6,1059.3 1449.0,1060.2 1450.5,1060.8 1452.0,1060.0 1453.4,1060.0 1454.9,1060.0 1456.3,1060.0 1457.8,1060.9 1459.2,1059.3 1460.7,1058.9 1462.1,1059.7 1463.6,1059.0 1465.0,1059.0 1466.5,1059.9 1468.0,1059.5 1469.4,1057.9 1470.9,1056.8 1472.3,1056.6 1473.8,1056.5 1475.2,1057.3 1476.7,1057.6 1478.1,1056.9 1479.6,1056.9 1481.1,1056.6 1482.5,1055.9 1484.0,1055.1 1485.4,1054.5 1486.9,1054.4 1488.3,1053.8 1489.8,1054.0 1491.2,1054.1 1492.7,1052.7 1494.1,1052.5 1495.6,1051.8 1497.1,1051.3 1498.5,1051.3 1500.0,1051.1 1501.4,1050.2 1502.9,1048.5 1504.3,1047.7 1505.8,1046.6 1507.2,1046.4 1508.7,1045.7 1510.2,1044.9 1511.6,1044.3 1513.1,1043.8 1514.5,1041.9 1516.0,1040.6 1517.4,1040.9 1518.9,1039.5 1520.3,1037.9 1521.8,1037.6 1523.2,1036.5 1524.7,1034.5 1526.2,1033.5 1527.6,1031.8 1529.1,1030.9 1530.5,1030.3 1532.0,1028.4 1533.4,1026.5 1534.9,1025.2 1536.3,1024.5 1537.8,1023.7 1539.3,1021.7 1540.7,1021.4 1542.2,1020.6 1543.6,1019.2 1545.1,1018.0 1546.5,1017.0 1548.0,1016.3 1549.4,1014.5 1550.9,1013.7 1552.3,1013.5 1553.8,1012.5 1555.3,1012.4 1556.7,1011.8 1558.2,1010.6 1559.6,1011.9 1561.1,1014.4 1562.5,1014.0 1564.0,1014.4 1565.4,1016.0 1566.9,1015.9 1568.4,1016.3 1569.8,1017.6 1571.3,1019.1 1572.7,1020.4 1574.2,1022.2 1575.6,1023.2 1577.1,1025.5 1578.5,1027.0 1580.0,1027.2 1581.4,1029.9 1582.9,1032.4 1584.4,1034.0 1585.8,1034.8 1587.3,1034.6 1588.7,1036.4 1590.2,1037.8 1591.6,1038.0 1593.1,1038.7 1594.5,1040.5 1596.0,1041.1 1597.5,1042.4 1598.9,1043.6 1600.4,1044.1 1601.8,1043.6 1603.3,1042.6 1604.7,1042.5 1606.2,1042.2 1607.6,1041.7 1609.1,1041.7 1610.5,1041.5 1612.0,1041.2 1613.5,1041.1 1614.9,1040.7 1616.4,1040.2 1617.8,1039.9 1619.3,1039.3 1620.7,1038.5 1622.2,1037.8 1623.6,1037.1 1625.1,1036.0 1626.6,1034.7 1628.0,1033.4 1629.5,1032.1 1630.9,1030.6 1632.4,1028.8 1633.8,1027.0 1635.3,1024.9 1636.7,1022.3 1638.2,1019.8 1639.6,1017.6 1641.1,1015.0 1642.6,1012.0 1644.0,1008.4 1645.5,1004.7 1646.9,1001.3 1648.4,996.9 1649.8,992.4 1651.3,988.1 1652.7,983.4 1654.2,977.8 1655.7,972.2 1657.1,966.6 1658.6,959.7 1660.0,952.5 1661.5,945.4 1662.9,936.7 1664.4,927.7 1665.8,917.7 1667.3,906.3 1668.7,895.5 1670.9,880.1 L1670.9,1071.4 1668.7,1071.3 1667.3,1071.3 1665.8,1071.4 1664.4,1071.4 1662.9,1071.4 1661.5,1071.4 1660.0,1071.3 1658.6,1071.2 1657.1,1071.2 1655.7,1071.2 1654.2,1071.1 1652.7,1071.1 1651.3,1071.1 1649.8,1070.9 1648.4,1070.8 1646.9,1070.9 1645.5,1070.8 1644.0,1070.8 1642.6,1070.7 1641.1,1070.6 1639.6,1070.5 1638.2,1070.6 1636.7,1070.6 1635.3,1070.4 1633.8,1070.3 1632.4,1070.4 1630.9,1070.3 1629.5,1070.1 1628.0,1070.0 1626.6,1070.0 1625.1,1070.1 1623.6,1070.1 1622.2,1070.1 1620.7,1070.1 1619.3,1069.9 1617.8,1069.7 1616.4,1069.8 1614.9,1069.7 1613.5,1069.6 1612.0,1069.7 1610.5,1069.6 1609.1,1069.5 1607.6,1069.5 1606.2,1069.5 1604.7,1069.3 1603.3,1069.2 1601.8,1068.6 1600.4,1068.8 1598.9,1068.0 1597.5,1067.6 1596.0,1068.1 1594.5,1066.6 1593.1,1065.6 1591.6,1064.7 1590.2,1064.5 1588.7,1064.1 1587.3,1063.0 1585.8,1062.0 1584.4,1060.7 1582.9,1059.3 1581.4,1058.5 1580.0,1058.6 1578.5,1057.5 1577.1,1055.7 1575.6,1055.0 1574.2,1054.3 1572.7,1052.2 1571.3,1050.6 1569.8,1049.5 1568.4,1047.7 1566.9,1047.4 1565.4,1047.3 1564.0,1046.2 1562.5,1045.9 1561.1,1044.7 1559.6,1044.3 1558.2,1045.9 1556.7,1045.0 1555.3,1044.7 1553.8,1045.9 1552.3,1045.8 1550.9,1045.5 1549.4,1046.0 1548.0,1047.0 1546.5,1047.6 1545.1,1049.2 1543.6,1050.2 1542.2,1050.9 1540.7,1051.5 1539.3,1052.1 1537.8,1053.4 1536.3,1054.1 1534.9,1054.9 1533.4,1056.0 1532.0,1056.9 1530.5,1057.2 1529.1,1057.3 1527.6,1058.1 1526.2,1058.3 1524.7,1059.8 1523.2,1060.6 1521.8,1060.7 1520.3,1062.3 1518.9,1063.2 1517.4,1063.2 1516.0,1063.3 1514.5,1063.6 1513.1,1064.3 1511.6,1064.4 1510.2,1064.9 1508.7,1065.6 1507.2,1066.1 1505.8,1067.1 1504.3,1067.6 1502.9,1067.7 1501.4,1068.1 1500.0,1069.0 1498.5,1070.0 1497.1,1069.3 1495.6,1068.8 1494.1,1069.7 1492.7,1069.8 1491.2,1070.4 1489.8,1070.9 1488.3,1071.1 1486.9,1072.0 1485.4,1072.3 1484.0,1072.4 1482.5,1072.6 1481.1,1072.7 1479.6,1073.5 1478.1,1073.8 1476.7,1073.4 1475.2,1073.4 1473.8,1073.9 1472.3,1074.3 1470.9,1075.0 1469.4,1075.5 1468.0,1075.5 1466.5,1075.4 1465.0,1074.7 1463.6,1074.9 1462.1,1076.0 1460.7,1076.1 1459.2,1076.5 1457.8,1076.2 1456.3,1075.6 1454.9,1076.5 1453.4,1076.6 1452.0,1076.8 1450.5,1076.8 1449.0,1076.4 1447.6,1076.0 1446.1,1075.1 1444.7,1075.3 1443.2,1075.1 1441.8,1074.8 1440.3,1074.5 1438.9,1074.2 1437.4,1073.7 1435.9,1073.5 1434.5,1073.7 1433.0,1073.3 1431.6,1073.5 1430.1,1074.4 1428.7,1074.8 1427.2,1075.1 1425.8,1075.2 1424.3,1075.2 1422.9,1075.7 1421.4,1075.9 1419.9,1076.3 1418.5,1077.2 1417.0,1077.2 1415.6,1077.1 1414.1,1077.8 1412.7,1078.1 1411.2,1078.7 1409.8,1079.0 1408.3,1078.9 1406.8,1079.8 1405.4,1080.4 1403.9,1080.9 1402.5,1081.4 1401.0,1080.9 1399.6,1081.6 1398.1,1082.7 1396.7,1082.3 1395.2,1082.7 1393.8,1083.8 1392.3,1083.9 1390.8,1083.4 1389.4,1083.1 1387.9,1083.8 1386.5,1084.6 1385.0,1084.7 1383.6,1085.0 1382.1,1085.6 1380.7,1085.6 1379.2,1085.9 1377.7,1085.9 1376.3,1085.7 1374.8,1085.4 1373.4,1085.6 1371.9,1086.1 1370.5,1086.2 1369.0,1086.2 1367.6,1086.2 1366.1,1086.2 1364.7,1086.0 1363.2,1085.9Z" fill="#b9b9b9"/><path d="M1363.2,1080.8 1364.7,1080.4 1366.1,1080.6 1367.6,1080.3 1369.0,1079.9 1370.5,1079.8 1371.9,1079.5 1373.4,1078.8 1374.8,1078.3 1376.3,1078.3 1377.7,1078.7 1379.2,1078.8 1380.7,1078.7 1382.1,1078.4 1383.6,1077.5 1385.0,1076.5 1386.5,1076.2 1387.9,1076.2 1389.4,1075.7 1390.8,1075.6 1392.3,1075.2 1393.8,1074.6 1395.2,1074.6 1396.7,1073.5 1398.1,1072.7 1399.6,1073.1 1401.0,1073.0 1402.5,1072.2 1403.9,1071.2 1405.4,1070.5 1406.8,1070.3 1408.3,1070.4 1409.8,1069.9 1411.2,1069.0 1412.7,1068.3 1414.1,1068.1 1415.6,1067.0 1417.0,1066.0 1418.5,1066.1 1419.9,1066.5 1421.4,1066.4 1422.9,1065.4 1424.3,1064.7 1425.8,1064.4 1427.2,1063.9 1428.7,1063.9 1430.1,1063.6 1431.6,1063.1 1433.0,1062.7 1434.5,1062.2 1435.9,1062.5 1437.4,1063.1 1438.9,1063.5 1440.3,1063.5 1441.8,1063.4 1443.2,1064.5 1444.7,1065.4 1446.1,1065.7 1447.6,1065.8 1449.0,1065.6 1450.5,1065.7 1452.0,1066.3 1453.4,1066.3 1454.9,1065.3 1456.3,1065.3 1457.8,1066.1 1459.2,1066.1 1460.7,1065.5 1462.1,1065.2 1463.6,1064.9 1465.0,1064.5 1466.5,1063.8 1468.0,1064.2 1469.4,1064.3 1470.9,1064.0 1472.3,1063.3 1473.8,1062.9 1475.2,1062.8 1476.7,1061.9 1478.1,1062.1 1479.6,1062.6 1481.1,1062.7 1482.5,1062.4 1484.0,1061.6 1485.4,1061.1 1486.9,1060.6 1488.3,1059.8 1489.8,1059.7 1491.2,1059.4 1492.7,1059.2 1494.1,1058.2 1495.6,1057.8 1497.1,1057.7 1498.5,1057.4 1500.0,1057.4 1501.4,1056.1 1502.9,1055.1 1504.3,1055.2 1505.8,1054.4 1507.2,1053.3 1508.7,1052.8 1510.2,1052.7 1511.6,1052.4 1513.1,1051.3 1514.5,1050.5 1516.0,1050.4 1517.4,1049.6 1518.9,1047.9 1520.3,1046.3 1521.8,1045.7 1523.2,1045.4 1524.7,1044.5 1526.2,1043.1 1527.6,1041.6 1529.1,1041.2 1530.5,1040.5 1532.0,1039.8 1533.4,1038.4 1534.9,1036.5 1536.3,1035.7 1537.8,1035.5 1539.3,1035.2 1540.7,1033.2 1542.2,1030.7 1543.6,1030.4 1545.1,1030.3 1546.5,1028.5 1548.0,1027.1 1549.4,1027.0 1550.9,1026.9 1552.3,1026.1 1553.8,1025.8 1555.3,1025.1 1556.7,1024.5 1558.2,1024.8 1559.6,1024.9 1561.1,1024.7 1562.5,1025.5 1564.0,1025.3 1565.4,1026.3 1566.9,1028.2 1568.4,1028.6 1569.8,1029.8 1571.3,1032.2 1572.7,1034.1 1574.2,1034.3 1575.6,1035.0 1577.1,1037.3 1578.5,1039.8 1580.0,1041.4 1581.4,1041.8 1582.9,1042.9 1584.4,1044.1 1585.8,1044.8 1587.3,1046.1 1588.7,1046.4 1590.2,1047.7 1591.6,1049.7 1593.1,1050.1 1594.5,1050.5 1596.0,1051.2 1597.5,1052.5 1598.9,1053.1 1600.4,1052.7 1601.8,1051.9 1603.3,1051.5 1604.7,1051.4 1606.2,1051.3 1607.6,1051.3 1609.1,1051.1 1610.5,1050.8 1612.0,1050.6 1613.5,1050.5 1614.9,1050.3 1616.4,1050.0 1617.8,1049.6 1619.3,1049.2 1620.7,1048.8 1622.2,1048.5 1623.6,1048.2 1625.1,1047.8 1626.6,1047.4 1628.0,1047.1 1629.5,1046.7 1630.9,1046.2 1632.4,1045.6 1633.8,1045.0 1635.3,1044.3 1636.7,1043.6 1638.2,1043.0 1639.6,1042.3 1641.1,1041.4 1642.6,1040.2 1644.0,1039.1 1645.5,1038.1 1646.9,1036.8 1648.4,1035.4 1649.8,1034.0 1651.3,1032.4 1652.7,1030.7 1654.2,1029.1 1655.7,1027.5 1657.1,1025.6 1658.6,1023.2 1660.0,1020.8 1661.5,1018.2 1662.9,1015.2 1664.4,1012.0 1665.8,1008.6 1667.3,1005.0 1668.7,1001.3 1670.9,995.0 L1670.9,1063.9 1668.7,1063.9 1667.3,1063.8 1665.8,1063.7 1664.4,1063.7 1662.9,1063.6 1661.5,1063.5 1660.0,1063.4 1658.6,1063.6 1657.1,1063.6 1655.7,1063.5 1654.2,1063.5 1652.7,1063.5 1651.3,1063.5 1649.8,1063.6 1648.4,1063.5 1646.9,1063.5 1645.5,1063.5 1644.0,1063.4 1642.6,1063.4 1641.1,1063.4 1639.6,1063.3 1638.2,1063.2 1636.7,1063.2 1635.3,1063.2 1633.8,1063.1 1632.4,1063.0 1630.9,1063.1 1629.5,1063.1 1628.0,1063.0 1626.6,1063.1 1625.1,1063.1 1623.6,1063.0 1622.2,1063.0 1620.7,1063.0 1619.3,1062.8 1617.8,1062.9 1616.4,1062.8 1614.9,1062.8 1613.5,1062.9 1612.0,1062.8 1610.5,1062.7 1609.1,1062.7 1607.6,1062.7 1606.2,1062.7 1604.7,1062.7 1603.3,1062.7 1601.8,1062.9 1600.4,1063.4 1598.9,1063.4 1597.5,1063.4 1596.0,1063.5 1594.5,1063.1 1593.1,1062.2 1591.6,1061.1 1590.2,1060.2 1588.7,1059.1 1587.3,1058.3 1585.8,1057.7 1584.4,1056.2 1582.9,1055.5 1581.4,1054.9 1580.0,1053.7 1578.5,1052.6 1577.1,1051.1 1575.6,1050.0 1574.2,1049.3 1572.7,1048.1 1571.3,1046.5 1569.8,1044.6 1568.4,1042.9 1566.9,1041.7 1565.4,1040.7 1564.0,1040.5 1562.5,1041.0 1561.1,1040.9 1559.6,1040.1 1558.2,1040.1 1556.7,1040.1 1555.3,1040.4 1553.8,1040.8 1552.3,1041.3 1550.9,1042.2 1549.4,1042.3 1548.0,1042.7 1546.5,1043.5 1545.1,1044.4 1543.6,1045.4 1542.2,1046.5 1540.7,1046.7 1539.3,1047.3 1537.8,1048.9 1536.3,1049.7 1534.9,1050.2 1533.4,1051.0 1532.0,1051.9 1530.5,1051.7 1529.1,1052.2 1527.6,1053.8 1526.2,1054.9 1524.7,1055.6 1523.2,1057.2 1521.8,1058.0 1520.3,1058.0 1518.9,1058.5 1517.4,1059.4 1516.0,1061.0 1514.5,1061.4 1513.1,1060.8 1511.6,1061.7 1510.2,1062.7 1508.7,1062.7 1507.2,1063.3 1505.8,1064.3 1504.3,1064.5 1502.9,1064.6 1501.4,1065.1 1500.0,1065.1 1498.5,1065.5 1497.1,1066.0 1495.6,1066.5 1494.1,1067.2 1492.7,1067.9 1491.2,1068.2 1489.8,1068.0 1488.3,1068.3 1486.9,1069.7 1485.4,1069.8 1484.0,1069.5 1482.5,1069.9 1481.1,1069.8 1479.6,1070.0 1478.1,1070.5 1476.7,1071.2 1475.2,1071.3 1473.8,1071.4 1472.3,1071.1 1470.9,1071.0 1469.4,1071.8 1468.0,1071.9 1466.5,1072.5 1465.0,1073.3 1463.6,1073.2 1462.1,1072.8 1460.7,1072.6 1459.2,1073.5 1457.8,1073.9 1456.3,1074.1 1454.9,1074.3 1453.4,1074.3 1452.0,1074.4 1450.5,1074.0 1449.0,1074.1 1447.6,1073.8 1446.1,1072.9 1444.7,1072.8 1443.2,1072.4 1441.8,1071.9 1440.3,1071.6 1438.9,1071.4 1437.4,1071.3 1435.9,1071.2 1434.5,1071.0 1433.0,1071.0 1431.6,1071.7 1430.1,1072.0 1428.7,1072.0 1427.2,1072.1 1425.8,1072.1 1424.3,1072.8 1422.9,1073.4 1421.4,1073.7 1419.9,1074.3 1418.5,1074.0 1417.0,1074.4 1415.6,1074.8 1414.1,1074.9 1412.7,1075.3 1411.2,1076.2 1409.8,1076.5 1408.3,1076.4 1406.8,1076.9 1405.4,1077.1 1403.9,1077.8 1402.5,1078.7 1401.0,1079.2 1399.6,1079.4 1398.1,1079.8 1396.7,1080.3 1395.2,1080.3 1393.8,1081.0 1392.3,1081.5 1390.8,1081.8 1389.4,1082.2 1387.9,1082.3 1386.5,1082.8 1385.0,1082.9 1383.6,1082.8 1382.1,1083.2 1380.7,1083.6 1379.2,1083.9 1377.7,1084.5 1376.3,1084.4 1374.8,1084.2 1373.4,1084.5 1371.9,1084.4 1370.5,1084.8 1369.0,1084.6 1367.6,1084.2 1366.1,1084.8 1364.7,1085.0 1363.2,1085.1Z" fill="#878787"/><path d="M1363.2,1083.9 1364.7,1083.2 1366.1,1083.1 1367.6,1083.2 1369.0,1082.6 1370.5,1082.6 1371.9,1082.3 1373.4,1083.0 1374.8,1082.5 1376.3,1082.0 1377.7,1082.1 1379.2,1081.6 1380.7,1081.2 1382.1,1081.2 1383.6,1080.3 1385.0,1079.8 1386.5,1081.0 1387.9,1081.2 1389.4,1079.6 1390.8,1078.2 1392.3,1078.4 1393.8,1079.5 1395.2,1079.0 1396.7,1077.7 1398.1,1077.3 1399.6,1077.0 1401.0,1076.3 1402.5,1075.8 1403.9,1076.1 1405.4,1076.1 1406.8,1075.0 1408.3,1074.5 1409.8,1075.5 1411.2,1075.0 1412.7,1073.9 1414.1,1071.9 1415.6,1071.8 1417.0,1073.6 1418.5,1073.2 1419.9,1072.1 1421.4,1071.6 1422.9,1072.5 1424.3,1071.3 1425.8,1069.2 1427.2,1069.8 1428.7,1069.8 1430.1,1067.9 1431.6,1067.6 1433.0,1068.7 1434.5,1068.0 1435.9,1067.9 1437.4,1068.6 1438.9,1067.6 1440.3,1068.1 1441.8,1070.5 1443.2,1071.5 1444.7,1070.3 1446.1,1069.2 1447.6,1070.3 1449.0,1071.4 1450.5,1070.9 1452.0,1070.5 1453.4,1071.8 1454.9,1072.2 1456.3,1071.9 1457.8,1071.6 1459.2,1071.3 1460.7,1070.8 1462.1,1069.8 1463.6,1069.3 1465.0,1068.3 1466.5,1068.3 1468.0,1068.4 1469.4,1068.1 1470.9,1068.7 1472.3,1068.8 1473.8,1068.7 1475.2,1068.1 1476.7,1067.7 1478.1,1068.2 1479.6,1067.9 1481.1,1067.0 1482.5,1065.6 1484.0,1064.7 1485.4,1066.1 1486.9,1065.9 1488.3,1064.5 1489.8,1065.0 1491.2,1064.6 1492.7,1064.2 1494.1,1064.4 1495.6,1063.2 1497.1,1061.8 1498.5,1062.3 1500.0,1062.0 1501.4,1060.3 1502.9,1061.1 1504.3,1060.6 1505.8,1060.0 1507.2,1060.1 1508.7,1059.1 1510.2,1058.1 1511.6,1057.3 1513.1,1057.4 1514.5,1056.6 1516.0,1056.2 1517.4,1056.1 1518.9,1055.4 1520.3,1054.6 1521.8,1053.9 1523.2,1053.2 1524.7,1052.5 1526.2,1051.7 1527.6,1050.6 1529.1,1049.1 1530.5,1047.2 1532.0,1046.8 1533.4,1047.2 1534.9,1045.9 1536.3,1043.7 1537.8,1043.0 1539.3,1043.0 1540.7,1042.8 1542.2,1041.4 1543.6,1039.5 1545.1,1038.8 1546.5,1039.0 1548.0,1038.4 1549.4,1037.9 1550.9,1037.1 1552.3,1036.5 1553.8,1037.0 1555.3,1035.7 1556.7,1034.1 1558.2,1034.8 1559.6,1036.8 1561.1,1036.9 1562.5,1035.5 1564.0,1036.3 1565.4,1036.6 1566.9,1035.9 1568.4,1036.8 1569.8,1039.9 1571.3,1041.4 1572.7,1041.7 1574.2,1044.5 1575.6,1046.6 1577.1,1048.0 1578.5,1048.6 1580.0,1048.8 1581.4,1050.3 1582.9,1051.2 1584.4,1052.3 1585.8,1053.9 1587.3,1055.4 1588.7,1056.5 1590.2,1056.8 1591.6,1058.0 1593.1,1059.6 1594.5,1060.5 1596.0,1060.7 1597.5,1060.6 1598.9,1060.6 1600.4,1060.1 1601.8,1059.8" fill="none" stroke="#474747" stroke-width="4.2" stroke-linejoin="round"/><path d="M1601.8,1059.8 1603.3,1059.3 1604.7,1059.5 1606.2,1059.4 1607.6,1059.1 1609.1,1059.2 1610.5,1058.5 1612.0,1057.9 1613.5,1058.2 1614.9,1058.3 1616.4,1058.0 1617.8,1058.0 1619.3,1058.4 1620.7,1058.2 1622.2,1058.0 1623.6,1057.4 1625.1,1057.4 1626.6,1057.3 1628.0,1056.4 1629.5,1056.3 1630.9,1056.7 1632.4,1056.3 1633.8,1055.5 1635.3,1055.1 1636.7,1055.1 1638.2,1054.3 1639.6,1054.2 1641.1,1054.5 1642.6,1053.7 1644.0,1053.1 1645.5,1052.6 1646.9,1051.5 1648.4,1051.2 1649.8,1051.1 1651.3,1050.2 1652.7,1049.2 1654.2,1048.7 1655.7,1048.8 1657.1,1048.5 1658.6,1048.5 1660.0,1047.9 1661.5,1047.0 1662.9,1046.9 1664.4,1046.3 1665.8,1046.1 1667.3,1045.6 1668.7,1045.1 1670.9,1044.6" fill="none" stroke="#474747" stroke-width="3.8" stroke-linejoin="round" stroke-linecap="round"/></g>
<g fill="#b32c48" fill-opacity="0.6" stroke="#b32c48" stroke-opacity="0.6" stroke-width="1.1"><circle cx="421.0" cy="467.6" r="2.7"/><circle cx="422.5" cy="467.6" r="2.7"/><circle cx="423.9" cy="467.6" r="2.7"/><circle cx="425.4" cy="467.6" r="2.7"/><circle cx="426.8" cy="467.6" r="2.7"/><circle cx="428.3" cy="467.6" r="2.7"/><circle cx="429.7" cy="467.6" r="2.7"/><circle cx="431.2" cy="467.6" r="2.7"/><circle cx="432.6" cy="467.6" r="2.7"/><circle cx="434.1" cy="467.6" r="2.7"/><circle cx="435.5" cy="467.6" r="2.7"/><circle cx="437.0" cy="467.6" r="2.7"/><circle cx="438.5" cy="467.6" r="2.7"/><circle cx="439.9" cy="467.6" r="2.7"/><circle cx="441.4" cy="467.6" r="2.7"/><circle cx="442.8" cy="467.6" r="2.7"/><circle cx="444.3" cy="467.6" r="2.7"/><circle cx="445.7" cy="467.6" r="2.7"/><circle cx="447.2" cy="467.6" r="2.7"/><circle cx="448.6" cy="467.6" r="2.7"/><circle cx="450.1" cy="467.6" r="2.7"/><circle cx="451.6" cy="467.5" r="2.7"/><circle cx="453.0" cy="466.6" r="2.7"/><circle cx="454.5" cy="465.4" r="2.7"/><circle cx="455.9" cy="464.3" r="2.7"/><circle cx="457.4" cy="462.8" r="2.7"/><circle cx="458.8" cy="461.6" r="2.7"/><circle cx="460.3" cy="459.6" r="2.7"/><circle cx="461.7" cy="458.1" r="2.7"/><circle cx="463.2" cy="456.4" r="2.7"/><circle cx="464.6" cy="451.4" r="2.7"/><circle cx="466.1" cy="440.7" r="2.7"/><circle cx="467.6" cy="441.2" r="2.7"/><circle cx="469.0" cy="441.5" r="2.7"/><circle cx="470.5" cy="442.9" r="2.7"/><circle cx="471.9" cy="445.7" r="2.7"/><circle cx="473.4" cy="441.3" r="2.7"/><circle cx="474.8" cy="445.4" r="2.7"/><circle cx="476.3" cy="440.6" r="2.7"/><circle cx="477.7" cy="438.6" r="2.7"/><circle cx="479.2" cy="442.6" r="2.7"/><circle cx="480.7" cy="445.7" r="2.7"/><circle cx="482.1" cy="446.3" r="2.7"/><circle cx="483.6" cy="445.9" r="2.7"/><circle cx="485.0" cy="445.6" r="2.7"/><circle cx="486.5" cy="442.6" r="2.7"/><circle cx="487.9" cy="443.2" r="2.7"/><circle cx="489.4" cy="442.0" r="2.7"/><circle cx="490.8" cy="440.8" r="2.7"/><circle cx="492.3" cy="441.7" r="2.7"/><circle cx="493.7" cy="438.9" r="2.7"/><circle cx="495.2" cy="435.6" r="2.7"/><circle cx="496.7" cy="435.1" r="2.7"/><circle cx="498.1" cy="433.3" r="2.7"/><circle cx="499.6" cy="432.4" r="2.7"/><circle cx="501.0" cy="433.3" r="2.7"/><circle cx="502.5" cy="437.1" r="2.7"/><circle cx="503.9" cy="433.7" r="2.7"/><circle cx="505.4" cy="437.7" r="2.7"/><circle cx="506.8" cy="435.7" r="2.7"/><circle cx="508.3" cy="431.6" r="2.7"/><circle cx="509.8" cy="435.8" r="2.7"/><circle cx="511.2" cy="437.1" r="2.7"/><circle cx="512.7" cy="442.7" r="2.7"/><circle cx="514.1" cy="439.3" r="2.7"/><circle cx="515.6" cy="433.7" r="2.7"/><circle cx="517.0" cy="430.3" r="2.7"/><circle cx="518.5" cy="429.1" r="2.7"/><circle cx="519.9" cy="424.5" r="2.7"/><circle cx="521.4" cy="428.2" r="2.7"/><circle cx="522.8" cy="431.4" r="2.7"/><circle cx="524.3" cy="430.9" r="2.7"/><circle cx="525.8" cy="433.0" r="2.7"/><circle cx="527.2" cy="427.9" r="2.7"/><circle cx="528.7" cy="431.6" r="2.7"/><circle cx="530.1" cy="430.9" r="2.7"/><circle cx="531.6" cy="436.3" r="2.7"/><circle cx="533.0" cy="436.2" r="2.7"/><circle cx="534.5" cy="436.1" r="2.7"/><circle cx="535.9" cy="432.9" r="2.7"/><circle cx="537.4" cy="435.5" r="2.7"/><circle cx="538.9" cy="433.2" r="2.7"/><circle cx="540.3" cy="433.9" r="2.7"/><circle cx="541.8" cy="436.5" r="2.7"/><circle cx="543.2" cy="437.3" r="2.7"/><circle cx="544.7" cy="436.3" r="2.7"/><circle cx="546.1" cy="434.7" r="2.7"/><circle cx="547.6" cy="433.1" r="2.7"/><circle cx="549.0" cy="435.8" r="2.7"/><circle cx="550.5" cy="433.7" r="2.7"/><circle cx="551.9" cy="440.0" r="2.7"/><circle cx="553.4" cy="445.7" r="2.7"/><circle cx="554.9" cy="449.5" r="2.7"/><circle cx="556.3" cy="450.1" r="2.7"/><circle cx="557.8" cy="447.5" r="2.7"/><circle cx="559.2" cy="447.7" r="2.7"/><circle cx="560.7" cy="452.0" r="2.7"/><circle cx="562.1" cy="456.2" r="2.7"/><circle cx="563.6" cy="458.2" r="2.7"/><circle cx="565.0" cy="458.9" r="2.7"/><circle cx="566.5" cy="458.0" r="2.7"/><circle cx="568.0" cy="457.9" r="2.7"/><circle cx="569.4" cy="457.5" r="2.7"/><circle cx="570.9" cy="459.6" r="2.7"/><circle cx="572.3" cy="460.2" r="2.7"/><circle cx="573.8" cy="462.6" r="2.7"/><circle cx="575.2" cy="463.0" r="2.7"/><circle cx="576.7" cy="463.0" r="2.7"/><circle cx="578.1" cy="462.0" r="2.7"/><circle cx="579.6" cy="463.3" r="2.7"/><circle cx="581.0" cy="463.2" r="2.7"/><circle cx="582.5" cy="464.3" r="2.7"/><circle cx="584.0" cy="463.3" r="2.7"/><circle cx="585.4" cy="464.6" r="2.7"/><circle cx="586.9" cy="464.1" r="2.7"/><circle cx="588.3" cy="464.1" r="2.7"/><circle cx="589.8" cy="462.6" r="2.7"/><circle cx="591.2" cy="464.8" r="2.7"/><circle cx="592.7" cy="465.6" r="2.7"/><circle cx="594.1" cy="465.2" r="2.7"/><circle cx="595.6" cy="465.4" r="2.7"/><circle cx="597.1" cy="465.1" r="2.7"/><circle cx="598.5" cy="464.9" r="2.7"/><circle cx="600.0" cy="464.8" r="2.7"/><circle cx="601.4" cy="465.7" r="2.7"/><circle cx="602.9" cy="465.3" r="2.7"/><circle cx="604.3" cy="466.2" r="2.7"/><circle cx="605.8" cy="465.9" r="2.7"/><circle cx="607.2" cy="466.0" r="2.7"/><circle cx="608.7" cy="464.8" r="2.7"/><circle cx="610.1" cy="464.6" r="2.7"/><circle cx="611.6" cy="463.6" r="2.7"/><circle cx="613.1" cy="464.5" r="2.7"/><circle cx="614.5" cy="464.7" r="2.7"/><circle cx="616.0" cy="465.7" r="2.7"/><circle cx="617.4" cy="464.7" r="2.7"/><circle cx="618.9" cy="463.5" r="2.7"/><circle cx="620.3" cy="462.9" r="2.7"/><circle cx="621.8" cy="463.4" r="2.7"/><circle cx="623.2" cy="463.4" r="2.7"/><circle cx="624.7" cy="463.9" r="2.7"/><circle cx="626.2" cy="464.5" r="2.7"/><circle cx="627.6" cy="464.9" r="2.7"/><circle cx="629.1" cy="462.6" r="2.7"/><circle cx="630.5" cy="461.8" r="2.7"/><circle cx="632.0" cy="461.6" r="2.7"/><circle cx="633.4" cy="462.1" r="2.7"/><circle cx="634.9" cy="463.8" r="2.7"/><circle cx="636.3" cy="464.1" r="2.7"/><circle cx="637.8" cy="463.1" r="2.7"/><circle cx="639.2" cy="462.5" r="2.7"/><circle cx="640.7" cy="461.9" r="2.7"/><circle cx="642.2" cy="462.3" r="2.7"/><circle cx="643.6" cy="462.3" r="2.7"/><circle cx="645.1" cy="463.7" r="2.7"/><circle cx="646.5" cy="464.2" r="2.7"/><circle cx="648.0" cy="463.2" r="2.7"/><circle cx="649.4" cy="462.6" r="2.7"/><circle cx="650.9" cy="462.0" r="2.7"/><circle cx="652.3" cy="462.6" r="2.7"/><circle cx="653.8" cy="464.2" r="2.7"/><circle cx="655.3" cy="464.3" r="2.7"/><circle cx="656.7" cy="464.6" r="2.7"/><circle cx="658.2" cy="464.6" r="2.7"/><circle cx="659.6" cy="463.7" r="2.7"/><circle cx="661.1" cy="463.9" r="2.7"/><circle cx="662.5" cy="462.3" r="2.7"/><circle cx="664.0" cy="464.7" r="2.7"/><circle cx="665.4" cy="464.7" r="2.7"/><circle cx="666.9" cy="465.2" r="2.7"/><circle cx="668.3" cy="465.1" r="2.7"/><circle cx="669.8" cy="464.5" r="2.7"/><circle cx="671.3" cy="464.2" r="2.7"/><circle cx="672.7" cy="464.1" r="2.7"/><circle cx="674.2" cy="465.5" r="2.7"/><circle cx="675.6" cy="465.3" r="2.7"/><circle cx="677.1" cy="465.6" r="2.7"/><circle cx="678.5" cy="465.6" r="2.7"/><circle cx="680.0" cy="464.3" r="2.7"/><circle cx="681.4" cy="465.1" r="2.7"/><circle cx="682.9" cy="464.8" r="2.7"/><circle cx="684.4" cy="465.9" r="2.7"/><circle cx="685.8" cy="465.4" r="2.7"/><circle cx="687.3" cy="465.3" r="2.7"/><circle cx="688.7" cy="465.0" r="2.7"/><circle cx="690.2" cy="464.5" r="2.7"/><circle cx="691.6" cy="463.4" r="2.7"/><circle cx="693.1" cy="464.1" r="2.7"/><circle cx="694.5" cy="464.5" r="2.7"/><circle cx="696.0" cy="465.9" r="2.7"/><circle cx="697.4" cy="464.8" r="2.7"/><circle cx="698.9" cy="465.1" r="2.7"/><circle cx="700.4" cy="463.4" r="2.7"/></g>
<g id="dg1" fill="#b32c48" fill-opacity="0.6" stroke="#b32c48" stroke-opacity="0.6" stroke-width="1.1"><circle cx="716.0" cy="463.4" r="2.7"/><circle cx="717.5" cy="463.2" r="2.7"/><circle cx="718.9" cy="463.0" r="2.7"/><circle cx="720.4" cy="462.6" r="2.7"/><circle cx="721.8" cy="461.6" r="2.7"/><circle cx="723.3" cy="461.2" r="2.7"/><circle cx="724.7" cy="461.1" r="2.7"/><circle cx="726.2" cy="460.0" r="2.7"/><circle cx="727.6" cy="459.3" r="2.7"/><circle cx="729.1" cy="459.8" r="2.7"/><circle cx="730.6" cy="459.4" r="2.7"/><circle cx="732.0" cy="455.8" r="2.7"/><circle cx="733.5" cy="455.4" r="2.7"/><circle cx="734.9" cy="453.5" r="2.7"/><circle cx="736.4" cy="450.2" r="2.7"/><circle cx="737.8" cy="450.0" r="2.7"/><circle cx="739.3" cy="450.1" r="2.7"/><circle cx="740.7" cy="450.2" r="2.7"/><circle cx="742.2" cy="440.1" r="2.7"/><circle cx="743.6" cy="438.8" r="2.7"/><circle cx="745.1" cy="435.3" r="2.7"/><circle cx="746.6" cy="429.8" r="2.7"/><circle cx="748.0" cy="440.3" r="2.7"/><circle cx="749.5" cy="434.3" r="2.7"/><circle cx="750.9" cy="440.3" r="2.7"/><circle cx="752.4" cy="423.1" r="2.7"/><circle cx="753.8" cy="423.6" r="2.7"/><circle cx="755.3" cy="426.9" r="2.7"/><circle cx="756.7" cy="421.5" r="2.7"/><circle cx="758.2" cy="424.3" r="2.7"/><circle cx="759.7" cy="437.2" r="2.7"/><circle cx="761.1" cy="434.4" r="2.7"/><circle cx="762.6" cy="426.5" r="2.7"/><circle cx="764.0" cy="425.6" r="2.7"/><circle cx="765.5" cy="426.0" r="2.7"/><circle cx="766.9" cy="424.5" r="2.7"/><circle cx="768.4" cy="435.7" r="2.7"/><circle cx="769.8" cy="435.8" r="2.7"/><circle cx="771.3" cy="434.0" r="2.7"/><circle cx="772.7" cy="424.7" r="2.7"/><circle cx="774.2" cy="427.4" r="2.7"/><circle cx="775.7" cy="432.6" r="2.7"/><circle cx="777.1" cy="424.8" r="2.7"/><circle cx="778.6" cy="432.9" r="2.7"/><circle cx="780.0" cy="441.4" r="2.7"/><circle cx="781.5" cy="439.4" r="2.7"/><circle cx="782.9" cy="425.7" r="2.7"/><circle cx="784.4" cy="430.5" r="2.7"/><circle cx="785.8" cy="432.1" r="2.7"/><circle cx="787.3" cy="428.6" r="2.7"/><circle cx="788.8" cy="431.8" r="2.7"/><circle cx="790.2" cy="442.5" r="2.7"/><circle cx="791.7" cy="439.7" r="2.7"/><circle cx="793.1" cy="426.7" r="2.7"/><circle cx="794.6" cy="427.1" r="2.7"/><circle cx="796.0" cy="432.1" r="2.7"/><circle cx="797.5" cy="428.1" r="2.7"/><circle cx="798.9" cy="437.6" r="2.7"/><circle cx="800.4" cy="440.3" r="2.7"/><circle cx="801.8" cy="444.0" r="2.7"/><circle cx="803.3" cy="426.8" r="2.7"/><circle cx="804.8" cy="424.4" r="2.7"/><circle cx="806.2" cy="427.6" r="2.7"/><circle cx="807.7" cy="416.9" r="2.7"/><circle cx="809.1" cy="424.9" r="2.7"/><circle cx="810.6" cy="435.1" r="2.7"/><circle cx="812.0" cy="429.7" r="2.7"/><circle cx="813.5" cy="410.5" r="2.7"/><circle cx="814.9" cy="415.9" r="2.7"/><circle cx="816.4" cy="415.1" r="2.7"/><circle cx="817.9" cy="411.7" r="2.7"/><circle cx="819.3" cy="423.8" r="2.7"/><circle cx="820.8" cy="429.8" r="2.7"/><circle cx="822.2" cy="439.4" r="2.7"/><circle cx="823.7" cy="422.0" r="2.7"/><circle cx="825.1" cy="423.4" r="2.7"/><circle cx="826.6" cy="425.1" r="2.7"/><circle cx="828.0" cy="420.4" r="2.7"/><circle cx="829.5" cy="429.9" r="2.7"/><circle cx="830.9" cy="429.9" r="2.7"/><circle cx="832.4" cy="437.4" r="2.7"/><circle cx="833.9" cy="414.7" r="2.7"/><circle cx="835.3" cy="413.1" r="2.7"/><circle cx="836.8" cy="416.7" r="2.7"/><circle cx="838.2" cy="413.9" r="2.7"/><circle cx="839.7" cy="421.2" r="2.7"/><circle cx="841.1" cy="421.8" r="2.7"/><circle cx="842.6" cy="423.0" r="2.7"/><circle cx="844.0" cy="405.8" r="2.7"/><circle cx="845.5" cy="405.5" r="2.7"/><circle cx="847.0" cy="408.4" r="2.7"/><circle cx="848.4" cy="401.8" r="2.7"/><circle cx="849.9" cy="413.1" r="2.7"/><circle cx="851.3" cy="417.0" r="2.7"/><circle cx="852.8" cy="430.1" r="2.7"/><circle cx="854.2" cy="397.3" r="2.7"/><circle cx="855.7" cy="400.3" r="2.7"/><circle cx="857.1" cy="399.8" r="2.7"/><circle cx="858.6" cy="390.0" r="2.7"/><circle cx="860.0" cy="396.2" r="2.7"/><circle cx="861.5" cy="414.0" r="2.7"/><circle cx="863.0" cy="414.6" r="2.7"/><circle cx="864.4" cy="379.1" r="2.7"/><circle cx="865.9" cy="381.8" r="2.7"/><circle cx="867.3" cy="375.6" r="2.7"/><circle cx="868.8" cy="362.7" r="2.7"/><circle cx="870.2" cy="386.5" r="2.7"/><circle cx="871.7" cy="387.0" r="2.7"/><circle cx="873.1" cy="407.7" r="2.7"/><circle cx="874.6" cy="352.3" r="2.7"/><circle cx="876.1" cy="367.8" r="2.7"/><circle cx="877.5" cy="365.1" r="2.7"/><circle cx="879.0" cy="350.8" r="2.7"/><circle cx="880.4" cy="359.8" r="2.7"/><circle cx="881.9" cy="375.6" r="2.7"/><circle cx="883.3" cy="391.9" r="2.7"/><circle cx="884.8" cy="332.7" r="2.7"/><circle cx="886.2" cy="329.3" r="2.7"/><circle cx="887.7" cy="346.8" r="2.7"/><circle cx="889.1" cy="328.0" r="2.7"/><circle cx="890.6" cy="350.8" r="2.7"/><circle cx="892.1" cy="361.8" r="2.7"/><circle cx="893.5" cy="366.3" r="2.7"/><circle cx="895.0" cy="324.5" r="2.7"/><circle cx="896.4" cy="324.4" r="2.7"/><circle cx="897.9" cy="334.4" r="2.7"/><circle cx="899.3" cy="333.1" r="2.7"/><circle cx="900.8" cy="356.5" r="2.7"/><circle cx="902.2" cy="388.7" r="2.7"/><circle cx="903.7" cy="377.5" r="2.7"/><circle cx="905.2" cy="351.9" r="2.7"/><circle cx="906.6" cy="360.5" r="2.7"/><circle cx="908.1" cy="374.4" r="2.7"/><circle cx="909.5" cy="372.6" r="2.7"/><circle cx="911.0" cy="379.7" r="2.7"/><circle cx="912.4" cy="390.6" r="2.7"/><circle cx="913.9" cy="413.2" r="2.7"/><circle cx="915.3" cy="373.5" r="2.7"/><circle cx="916.8" cy="385.8" r="2.7"/><circle cx="918.2" cy="386.9" r="2.7"/><circle cx="919.7" cy="379.2" r="2.7"/><circle cx="921.2" cy="393.3" r="2.7"/><circle cx="922.6" cy="411.8" r="2.7"/><circle cx="924.1" cy="421.9" r="2.7"/><circle cx="925.5" cy="382.9" r="2.7"/><circle cx="927.0" cy="391.1" r="2.7"/><circle cx="928.4" cy="400.1" r="2.7"/><circle cx="929.9" cy="389.5" r="2.7"/><circle cx="931.3" cy="397.4" r="2.7"/><circle cx="932.8" cy="415.7" r="2.7"/><circle cx="934.3" cy="416.6" r="2.7"/><circle cx="935.7" cy="396.2" r="2.7"/><circle cx="937.2" cy="401.1" r="2.7"/><circle cx="938.6" cy="405.0" r="2.7"/><circle cx="940.1" cy="406.6" r="2.7"/><circle cx="941.5" cy="405.7" r="2.7"/><circle cx="943.0" cy="416.1" r="2.7"/><circle cx="944.4" cy="433.2" r="2.7"/><circle cx="945.9" cy="410.1" r="2.7"/><circle cx="947.3" cy="412.4" r="2.7"/><circle cx="948.8" cy="414.6" r="2.7"/><circle cx="950.3" cy="416.7" r="2.7"/><circle cx="951.7" cy="423.4" r="2.7"/></g>
<use href="#dg1" x="323.8"/>
<use href="#dg1" x="647.6"/>
<g fill="#b32c48" fill-opacity="0.6" stroke="#b32c48" stroke-opacity="0.6" stroke-width="1.1"><circle cx="393.0" cy="775.8" r="2.7"/><circle cx="394.5" cy="776.6" r="2.7"/><circle cx="395.9" cy="776.6" r="2.7"/><circle cx="397.4" cy="775.0" r="2.7"/><circle cx="398.8" cy="775.3" r="2.7"/><circle cx="400.3" cy="774.9" r="2.7"/><circle cx="401.7" cy="776.4" r="2.7"/><circle cx="403.2" cy="775.5" r="2.7"/><circle cx="404.6" cy="776.5" r="2.7"/><circle cx="406.1" cy="772.9" r="2.7"/><circle cx="407.5" cy="776.6" r="2.7"/><circle cx="409.0" cy="775.2" r="2.7"/><circle cx="410.5" cy="776.2" r="2.7"/><circle cx="411.9" cy="774.9" r="2.7"/><circle cx="413.4" cy="774.5" r="2.7"/><circle cx="414.8" cy="775.6" r="2.7"/><circle cx="416.3" cy="776.0" r="2.7"/><circle cx="417.7" cy="774.5" r="2.7"/><circle cx="419.2" cy="774.4" r="2.7"/><circle cx="420.6" cy="775.5" r="2.7"/><circle cx="422.1" cy="773.1" r="2.7"/><circle cx="423.6" cy="772.1" r="2.7"/><circle cx="425.0" cy="774.8" r="2.7"/><circle cx="426.5" cy="773.0" r="2.7"/><circle cx="427.9" cy="770.9" r="2.7"/><circle cx="429.4" cy="772.3" r="2.7"/><circle cx="430.8" cy="772.5" r="2.7"/><circle cx="432.3" cy="771.0" r="2.7"/><circle cx="433.7" cy="770.1" r="2.7"/><circle cx="435.2" cy="772.2" r="2.7"/><circle cx="436.6" cy="773.2" r="2.7"/><circle cx="438.1" cy="770.8" r="2.7"/><circle cx="439.6" cy="769.3" r="2.7"/><circle cx="441.0" cy="770.6" r="2.7"/><circle cx="442.5" cy="770.5" r="2.7"/><circle cx="443.9" cy="767.5" r="2.7"/><circle cx="445.4" cy="768.1" r="2.7"/><circle cx="446.8" cy="767.9" r="2.7"/><circle cx="448.3" cy="763.2" r="2.7"/><circle cx="449.7" cy="759.0" r="2.7"/><circle cx="451.2" cy="759.1" r="2.7"/><circle cx="452.7" cy="755.5" r="2.7"/><circle cx="454.1" cy="755.1" r="2.7"/><circle cx="455.6" cy="743.2" r="2.7"/><circle cx="457.0" cy="742.0" r="2.7"/><circle cx="458.5" cy="737.5" r="2.7"/><circle cx="459.9" cy="729.4" r="2.7"/><circle cx="461.4" cy="734.2" r="2.7"/><circle cx="462.8" cy="732.6" r="2.7"/><circle cx="464.3" cy="722.0" r="2.7"/><circle cx="465.7" cy="730.7" r="2.7"/><circle cx="467.2" cy="724.0" r="2.7"/><circle cx="468.7" cy="719.3" r="2.7"/><circle cx="470.1" cy="714.3" r="2.7"/><circle cx="471.6" cy="714.8" r="2.7"/><circle cx="473.0" cy="694.4" r="2.7"/><circle cx="474.5" cy="705.4" r="2.7"/><circle cx="475.9" cy="701.7" r="2.7"/><circle cx="477.4" cy="678.1" r="2.7"/><circle cx="478.8" cy="692.2" r="2.7"/><circle cx="480.3" cy="683.4" r="2.7"/><circle cx="481.8" cy="689.6" r="2.7"/><circle cx="483.2" cy="675.1" r="2.7"/><circle cx="484.7" cy="676.3" r="2.7"/><circle cx="486.1" cy="677.1" r="2.7"/><circle cx="487.6" cy="662.1" r="2.7"/><circle cx="489.0" cy="675.0" r="2.7"/><circle cx="490.5" cy="665.5" r="2.7"/><circle cx="491.9" cy="670.0" r="2.7"/><circle cx="493.4" cy="657.2" r="2.7"/><circle cx="494.8" cy="673.3" r="2.7"/><circle cx="496.3" cy="666.6" r="2.7"/><circle cx="497.8" cy="656.4" r="2.7"/><circle cx="499.2" cy="664.6" r="2.7"/><circle cx="500.7" cy="671.1" r="2.7"/><circle cx="502.1" cy="676.8" r="2.7"/><circle cx="503.6" cy="637.6" r="2.7"/><circle cx="505.0" cy="665.6" r="2.7"/><circle cx="506.5" cy="660.4" r="2.7"/><circle cx="507.9" cy="653.7" r="2.7"/><circle cx="509.4" cy="643.0" r="2.7"/><circle cx="510.9" cy="669.4" r="2.7"/><circle cx="512.3" cy="640.4" r="2.7"/><circle cx="513.8" cy="662.0" r="2.7"/><circle cx="515.2" cy="671.0" r="2.7"/><circle cx="516.7" cy="638.9" r="2.7"/><circle cx="518.1" cy="655.2" r="2.7"/><circle cx="519.6" cy="646.2" r="2.7"/><circle cx="521.0" cy="666.2" r="2.7"/><circle cx="522.5" cy="682.7" r="2.7"/><circle cx="523.9" cy="690.6" r="2.7"/><circle cx="525.4" cy="654.4" r="2.7"/><circle cx="526.9" cy="669.6" r="2.7"/><circle cx="528.3" cy="685.0" r="2.7"/><circle cx="529.8" cy="696.0" r="2.7"/><circle cx="531.2" cy="687.9" r="2.7"/><circle cx="532.7" cy="680.4" r="2.7"/><circle cx="534.1" cy="692.5" r="2.7"/><circle cx="535.6" cy="692.8" r="2.7"/><circle cx="537.0" cy="694.2" r="2.7"/><circle cx="538.5" cy="693.0" r="2.7"/><circle cx="540.0" cy="704.7" r="2.7"/><circle cx="541.4" cy="706.8" r="2.7"/><circle cx="542.9" cy="706.6" r="2.7"/><circle cx="544.3" cy="708.4" r="2.7"/><circle cx="545.8" cy="703.9" r="2.7"/><circle cx="547.2" cy="711.9" r="2.7"/><circle cx="548.7" cy="725.2" r="2.7"/><circle cx="550.1" cy="718.9" r="2.7"/><circle cx="551.6" cy="713.9" r="2.7"/><circle cx="553.0" cy="732.3" r="2.7"/><circle cx="554.5" cy="729.9" r="2.7"/><circle cx="556.0" cy="740.3" r="2.7"/><circle cx="557.4" cy="731.6" r="2.7"/><circle cx="558.9" cy="731.0" r="2.7"/><circle cx="560.3" cy="728.4" r="2.7"/><circle cx="561.8" cy="743.4" r="2.7"/><circle cx="563.2" cy="750.6" r="2.7"/><circle cx="564.7" cy="737.5" r="2.7"/><circle cx="566.1" cy="740.1" r="2.7"/><circle cx="567.6" cy="746.9" r="2.7"/><circle cx="569.1" cy="742.9" r="2.7"/><circle cx="570.5" cy="746.7" r="2.7"/><circle cx="572.0" cy="748.0" r="2.7"/><circle cx="573.4" cy="751.4" r="2.7"/><circle cx="574.9" cy="755.9" r="2.7"/><circle cx="576.3" cy="753.6" r="2.7"/><circle cx="577.8" cy="757.7" r="2.7"/><circle cx="579.2" cy="754.8" r="2.7"/><circle cx="580.7" cy="758.2" r="2.7"/><circle cx="582.1" cy="752.3" r="2.7"/><circle cx="583.6" cy="755.4" r="2.7"/><circle cx="585.1" cy="762.5" r="2.7"/><circle cx="586.5" cy="759.8" r="2.7"/><circle cx="588.0" cy="763.7" r="2.7"/><circle cx="589.4" cy="764.4" r="2.7"/><circle cx="590.9" cy="767.0" r="2.7"/><circle cx="592.3" cy="766.4" r="2.7"/><circle cx="593.8" cy="767.6" r="2.7"/><circle cx="595.2" cy="765.7" r="2.7"/><circle cx="596.7" cy="765.0" r="2.7"/><circle cx="598.2" cy="765.6" r="2.7"/><circle cx="599.6" cy="766.6" r="2.7"/><circle cx="601.1" cy="765.9" r="2.7"/><circle cx="602.5" cy="767.6" r="2.7"/><circle cx="604.0" cy="769.0" r="2.7"/><circle cx="605.4" cy="770.1" r="2.7"/><circle cx="606.9" cy="769.4" r="2.7"/><circle cx="608.3" cy="766.9" r="2.7"/><circle cx="609.8" cy="770.6" r="2.7"/><circle cx="611.2" cy="771.5" r="2.7"/><circle cx="612.7" cy="773.3" r="2.7"/><circle cx="614.2" cy="772.6" r="2.7"/><circle cx="615.6" cy="770.8" r="2.7"/><circle cx="617.1" cy="770.8" r="2.7"/><circle cx="618.5" cy="775.5" r="2.7"/><circle cx="620.0" cy="773.5" r="2.7"/><circle cx="621.4" cy="775.3" r="2.7"/><circle cx="622.9" cy="775.9" r="2.7"/><circle cx="624.3" cy="771.1" r="2.7"/><circle cx="625.8" cy="773.1" r="2.7"/><circle cx="627.3" cy="773.2" r="2.7"/><circle cx="628.7" cy="773.3" r="2.7"/><circle cx="630.2" cy="773.2" r="2.7"/><circle cx="631.6" cy="772.6" r="2.7"/><circle cx="633.1" cy="772.4" r="2.7"/><circle cx="634.5" cy="769.5" r="2.7"/><circle cx="636.0" cy="771.6" r="2.7"/><circle cx="637.4" cy="770.5" r="2.7"/><circle cx="638.9" cy="771.9" r="2.7"/><circle cx="640.3" cy="770.8" r="2.7"/><circle cx="641.8" cy="772.5" r="2.7"/><circle cx="643.3" cy="772.8" r="2.7"/><circle cx="644.7" cy="771.9" r="2.7"/><circle cx="646.2" cy="771.9" r="2.7"/><circle cx="647.6" cy="771.5" r="2.7"/><circle cx="649.1" cy="770.6" r="2.7"/><circle cx="650.5" cy="771.0" r="2.7"/><circle cx="652.0" cy="770.5" r="2.7"/><circle cx="653.4" cy="772.0" r="2.7"/><circle cx="654.9" cy="771.4" r="2.7"/><circle cx="656.4" cy="772.3" r="2.7"/><circle cx="657.8" cy="769.0" r="2.7"/><circle cx="659.3" cy="772.9" r="2.7"/><circle cx="660.7" cy="770.0" r="2.7"/><circle cx="662.2" cy="770.1" r="2.7"/><circle cx="663.6" cy="771.0" r="2.7"/><circle cx="665.1" cy="770.4" r="2.7"/><circle cx="666.5" cy="771.8" r="2.7"/><circle cx="668.0" cy="770.3" r="2.7"/><circle cx="669.4" cy="769.5" r="2.7"/><circle cx="670.9" cy="769.9" r="2.7"/><circle cx="672.4" cy="773.6" r="2.7"/><circle cx="673.8" cy="771.4" r="2.7"/><circle cx="675.3" cy="769.3" r="2.7"/><circle cx="676.7" cy="771.3" r="2.7"/><circle cx="678.2" cy="768.6" r="2.7"/><circle cx="679.6" cy="774.4" r="2.7"/><circle cx="681.1" cy="768.7" r="2.7"/><circle cx="682.5" cy="772.2" r="2.7"/><circle cx="684.0" cy="772.3" r="2.7"/><circle cx="685.5" cy="768.8" r="2.7"/><circle cx="686.9" cy="771.9" r="2.7"/><circle cx="688.4" cy="773.1" r="2.7"/><circle cx="689.8" cy="772.1" r="2.7"/><circle cx="691.3" cy="771.8" r="2.7"/><circle cx="692.7" cy="773.0" r="2.7"/><circle cx="694.2" cy="771.6" r="2.7"/><circle cx="695.6" cy="771.9" r="2.7"/><circle cx="697.1" cy="771.1" r="2.7"/><circle cx="698.5" cy="772.4" r="2.7"/><circle cx="700.0" cy="769.7" r="2.7"/><circle cx="507.1" cy="626.4" r="2.7"/><circle cx="512.9" cy="699.1" r="2.7"/><circle cx="471.1" cy="749.8" r="2.7"/></g>
<g id="dg2" fill="#b32c48" fill-opacity="0.6" stroke="#b32c48" stroke-opacity="0.6" stroke-width="1.1"><circle cx="717.0" cy="774.6" r="2.7"/><circle cx="718.5" cy="776.1" r="2.7"/><circle cx="719.9" cy="775.3" r="2.7"/><circle cx="721.4" cy="775.0" r="2.7"/><circle cx="722.8" cy="776.3" r="2.7"/><circle cx="724.3" cy="770.9" r="2.7"/><circle cx="725.7" cy="771.5" r="2.7"/><circle cx="727.2" cy="769.8" r="2.7"/><circle cx="728.6" cy="771.6" r="2.7"/><circle cx="730.1" cy="773.3" r="2.7"/><circle cx="731.6" cy="770.8" r="2.7"/><circle cx="733.0" cy="771.3" r="2.7"/><circle cx="734.5" cy="765.8" r="2.7"/><circle cx="735.9" cy="769.4" r="2.7"/><circle cx="737.4" cy="766.4" r="2.7"/><circle cx="738.8" cy="771.2" r="2.7"/><circle cx="740.3" cy="767.7" r="2.7"/><circle cx="741.7" cy="766.2" r="2.7"/><circle cx="743.2" cy="761.7" r="2.7"/><circle cx="744.6" cy="761.7" r="2.7"/><circle cx="746.1" cy="759.9" r="2.7"/><circle cx="747.6" cy="754.6" r="2.7"/><circle cx="749.0" cy="751.7" r="2.7"/><circle cx="750.5" cy="750.5" r="2.7"/><circle cx="751.9" cy="746.1" r="2.7"/><circle cx="753.4" cy="744.9" r="2.7"/><circle cx="754.8" cy="745.1" r="2.7"/><circle cx="756.3" cy="742.3" r="2.7"/><circle cx="757.7" cy="747.7" r="2.7"/><circle cx="759.2" cy="736.7" r="2.7"/><circle cx="760.7" cy="746.4" r="2.7"/><circle cx="762.1" cy="739.3" r="2.7"/><circle cx="763.6" cy="738.9" r="2.7"/><circle cx="765.0" cy="734.6" r="2.7"/><circle cx="766.5" cy="739.6" r="2.7"/><circle cx="767.9" cy="738.7" r="2.7"/><circle cx="769.4" cy="740.3" r="2.7"/><circle cx="770.8" cy="736.6" r="2.7"/><circle cx="772.3" cy="739.1" r="2.7"/><circle cx="773.7" cy="747.0" r="2.7"/><circle cx="775.2" cy="740.1" r="2.7"/><circle cx="776.7" cy="735.3" r="2.7"/><circle cx="778.1" cy="742.6" r="2.7"/><circle cx="779.6" cy="737.8" r="2.7"/><circle cx="781.0" cy="741.9" r="2.7"/><circle cx="782.5" cy="743.0" r="2.7"/><circle cx="783.9" cy="739.5" r="2.7"/><circle cx="785.4" cy="733.7" r="2.7"/><circle cx="786.8" cy="741.5" r="2.7"/><circle cx="788.3" cy="745.9" r="2.7"/><circle cx="789.8" cy="741.9" r="2.7"/><circle cx="791.2" cy="745.4" r="2.7"/><circle cx="792.7" cy="747.8" r="2.7"/><circle cx="794.1" cy="741.2" r="2.7"/><circle cx="795.6" cy="748.8" r="2.7"/><circle cx="797.0" cy="750.5" r="2.7"/><circle cx="798.5" cy="748.1" r="2.7"/><circle cx="799.9" cy="748.3" r="2.7"/><circle cx="801.4" cy="747.5" r="2.7"/><circle cx="802.8" cy="752.0" r="2.7"/><circle cx="804.3" cy="742.1" r="2.7"/><circle cx="805.8" cy="740.6" r="2.7"/><circle cx="807.2" cy="742.8" r="2.7"/><circle cx="808.7" cy="735.2" r="2.7"/><circle cx="810.1" cy="731.6" r="2.7"/><circle cx="811.6" cy="734.1" r="2.7"/><circle cx="813.0" cy="739.5" r="2.7"/><circle cx="814.5" cy="739.4" r="2.7"/><circle cx="815.9" cy="728.9" r="2.7"/><circle cx="817.4" cy="726.5" r="2.7"/><circle cx="818.9" cy="733.6" r="2.7"/><circle cx="820.3" cy="733.6" r="2.7"/><circle cx="821.8" cy="733.6" r="2.7"/><circle cx="823.2" cy="736.6" r="2.7"/><circle cx="824.7" cy="738.9" r="2.7"/><circle cx="826.1" cy="733.0" r="2.7"/><circle cx="827.6" cy="734.3" r="2.7"/><circle cx="829.0" cy="724.3" r="2.7"/><circle cx="830.5" cy="723.1" r="2.7"/><circle cx="831.9" cy="730.1" r="2.7"/><circle cx="833.4" cy="731.7" r="2.7"/><circle cx="834.9" cy="731.3" r="2.7"/><circle cx="836.3" cy="729.8" r="2.7"/><circle cx="837.8" cy="730.1" r="2.7"/><circle cx="839.2" cy="729.4" r="2.7"/><circle cx="840.7" cy="713.3" r="2.7"/><circle cx="842.1" cy="718.4" r="2.7"/><circle cx="843.6" cy="724.7" r="2.7"/><circle cx="845.0" cy="724.6" r="2.7"/><circle cx="846.5" cy="710.3" r="2.7"/><circle cx="848.0" cy="726.3" r="2.7"/><circle cx="849.4" cy="714.8" r="2.7"/><circle cx="850.9" cy="714.9" r="2.7"/><circle cx="852.3" cy="717.1" r="2.7"/><circle cx="853.8" cy="719.1" r="2.7"/><circle cx="855.2" cy="702.8" r="2.7"/><circle cx="856.7" cy="718.4" r="2.7"/><circle cx="858.1" cy="710.7" r="2.7"/><circle cx="859.6" cy="703.2" r="2.7"/><circle cx="861.0" cy="705.2" r="2.7"/><circle cx="862.5" cy="689.2" r="2.7"/><circle cx="864.0" cy="699.1" r="2.7"/><circle cx="865.4" cy="703.7" r="2.7"/><circle cx="866.9" cy="694.8" r="2.7"/><circle cx="868.3" cy="695.9" r="2.7"/><circle cx="869.8" cy="695.3" r="2.7"/><circle cx="871.2" cy="694.7" r="2.7"/><circle cx="872.7" cy="700.9" r="2.7"/><circle cx="874.1" cy="689.5" r="2.7"/><circle cx="875.6" cy="685.0" r="2.7"/><circle cx="877.1" cy="690.0" r="2.7"/><circle cx="878.5" cy="702.3" r="2.7"/><circle cx="880.0" cy="676.9" r="2.7"/><circle cx="881.4" cy="682.7" r="2.7"/><circle cx="882.9" cy="659.1" r="2.7"/><circle cx="884.3" cy="686.4" r="2.7"/><circle cx="885.8" cy="676.9" r="2.7"/><circle cx="887.2" cy="681.8" r="2.7"/><circle cx="888.7" cy="664.4" r="2.7"/><circle cx="890.1" cy="650.8" r="2.7"/><circle cx="891.6" cy="669.9" r="2.7"/><circle cx="893.1" cy="665.9" r="2.7"/><circle cx="894.5" cy="644.5" r="2.7"/><circle cx="896.0" cy="635.7" r="2.7"/><circle cx="897.4" cy="657.6" r="2.7"/><circle cx="898.9" cy="649.0" r="2.7"/><circle cx="900.3" cy="682.0" r="2.7"/><circle cx="901.8" cy="641.4" r="2.7"/><circle cx="903.2" cy="641.5" r="2.7"/><circle cx="904.7" cy="645.9" r="2.7"/><circle cx="906.2" cy="625.7" r="2.7"/><circle cx="907.6" cy="635.8" r="2.7"/><circle cx="909.1" cy="669.3" r="2.7"/><circle cx="910.5" cy="650.4" r="2.7"/><circle cx="912.0" cy="647.9" r="2.7"/><circle cx="913.4" cy="643.8" r="2.7"/><circle cx="914.9" cy="668.8" r="2.7"/><circle cx="916.3" cy="673.3" r="2.7"/><circle cx="917.8" cy="672.5" r="2.7"/><circle cx="919.2" cy="669.4" r="2.7"/><circle cx="920.7" cy="680.0" r="2.7"/><circle cx="922.2" cy="684.2" r="2.7"/><circle cx="923.6" cy="677.7" r="2.7"/><circle cx="925.1" cy="693.0" r="2.7"/><circle cx="926.5" cy="671.9" r="2.7"/><circle cx="928.0" cy="682.5" r="2.7"/><circle cx="929.4" cy="693.9" r="2.7"/><circle cx="930.9" cy="698.3" r="2.7"/><circle cx="932.3" cy="692.7" r="2.7"/><circle cx="933.8" cy="706.8" r="2.7"/><circle cx="935.3" cy="714.5" r="2.7"/><circle cx="936.7" cy="712.2" r="2.7"/><circle cx="938.2" cy="712.6" r="2.7"/><circle cx="939.6" cy="718.7" r="2.7"/><circle cx="941.1" cy="717.6" r="2.7"/><circle cx="942.5" cy="709.2" r="2.7"/><circle cx="944.0" cy="717.0" r="2.7"/><circle cx="945.4" cy="728.0" r="2.7"/><circle cx="946.9" cy="714.2" r="2.7"/><circle cx="948.3" cy="723.0" r="2.7"/><circle cx="949.8" cy="721.5" r="2.7"/><circle cx="951.3" cy="719.4" r="2.7"/><circle cx="952.7" cy="719.6" r="2.7"/><circle cx="789.3" cy="721.3" r="2.7"/><circle cx="891.6" cy="630.9" r="2.7"/><circle cx="907.1" cy="629.8" r="2.7"/><circle cx="946.7" cy="746.9" r="2.7"/><circle cx="881.1" cy="714.7" r="2.7"/></g>
<use href="#dg2" x="323.8"/>
<use href="#dg2" x="647.6"/>
<g fill="#b32c48" fill-opacity="0.6" stroke="#b32c48" stroke-opacity="0.6" stroke-width="1.1"><circle cx="393.0" cy="1085.7" r="2.7"/><circle cx="394.5" cy="1081.1" r="2.7"/><circle cx="395.9" cy="1085.5" r="2.7"/><circle cx="397.4" cy="1084.5" r="2.7"/><circle cx="398.8" cy="1085.7" r="2.7"/><circle cx="400.3" cy="1084.8" r="2.7"/><circle cx="401.7" cy="1085.7" r="2.7"/><circle cx="403.2" cy="1084.4" r="2.7"/><circle cx="404.6" cy="1083.8" r="2.7"/><circle cx="406.1" cy="1085.0" r="2.7"/><circle cx="407.5" cy="1084.8" r="2.7"/><circle cx="409.0" cy="1083.9" r="2.7"/><circle cx="410.5" cy="1084.0" r="2.7"/><circle cx="411.9" cy="1085.1" r="2.7"/><circle cx="413.4" cy="1085.1" r="2.7"/><circle cx="414.8" cy="1083.7" r="2.7"/><circle cx="416.3" cy="1083.8" r="2.7"/><circle cx="417.7" cy="1082.2" r="2.7"/><circle cx="419.2" cy="1085.7" r="2.7"/><circle cx="420.6" cy="1083.9" r="2.7"/><circle cx="422.1" cy="1085.6" r="2.7"/><circle cx="423.6" cy="1084.6" r="2.7"/><circle cx="425.0" cy="1085.7" r="2.7"/><circle cx="426.5" cy="1085.7" r="2.7"/><circle cx="427.9" cy="1084.4" r="2.7"/><circle cx="429.4" cy="1085.7" r="2.7"/><circle cx="430.8" cy="1082.8" r="2.7"/><circle cx="432.3" cy="1085.3" r="2.7"/><circle cx="433.7" cy="1082.1" r="2.7"/><circle cx="435.2" cy="1084.2" r="2.7"/><circle cx="436.6" cy="1085.0" r="2.7"/><circle cx="438.1" cy="1083.9" r="2.7"/><circle cx="439.6" cy="1083.1" r="2.7"/><circle cx="441.0" cy="1082.4" r="2.7"/><circle cx="442.5" cy="1082.9" r="2.7"/><circle cx="443.9" cy="1084.5" r="2.7"/><circle cx="445.4" cy="1084.2" r="2.7"/><circle cx="446.8" cy="1082.5" r="2.7"/><circle cx="448.3" cy="1081.1" r="2.7"/><circle cx="449.7" cy="1083.4" r="2.7"/><circle cx="451.2" cy="1080.2" r="2.7"/><circle cx="452.7" cy="1081.2" r="2.7"/><circle cx="454.1" cy="1080.4" r="2.7"/><circle cx="455.6" cy="1082.2" r="2.7"/><circle cx="457.0" cy="1080.9" r="2.7"/><circle cx="458.5" cy="1080.8" r="2.7"/><circle cx="459.9" cy="1079.9" r="2.7"/><circle cx="461.4" cy="1077.6" r="2.7"/><circle cx="462.8" cy="1079.1" r="2.7"/><circle cx="464.3" cy="1080.1" r="2.7"/><circle cx="465.7" cy="1076.2" r="2.7"/><circle cx="467.2" cy="1076.6" r="2.7"/><circle cx="468.7" cy="1073.8" r="2.7"/><circle cx="470.1" cy="1075.6" r="2.7"/><circle cx="471.6" cy="1073.3" r="2.7"/><circle cx="473.0" cy="1072.6" r="2.7"/><circle cx="474.5" cy="1069.5" r="2.7"/><circle cx="475.9" cy="1072.2" r="2.7"/><circle cx="477.4" cy="1063.5" r="2.7"/><circle cx="478.8" cy="1061.6" r="2.7"/><circle cx="480.3" cy="1058.6" r="2.7"/><circle cx="481.8" cy="1061.6" r="2.7"/><circle cx="483.2" cy="1053.8" r="2.7"/><circle cx="484.7" cy="1051.2" r="2.7"/><circle cx="486.1" cy="1055.9" r="2.7"/><circle cx="487.6" cy="1056.1" r="2.7"/><circle cx="489.0" cy="1050.6" r="2.7"/><circle cx="490.5" cy="1028.0" r="2.7"/><circle cx="491.9" cy="1036.1" r="2.7"/><circle cx="493.4" cy="1032.5" r="2.7"/><circle cx="494.8" cy="1028.7" r="2.7"/><circle cx="496.3" cy="1031.8" r="2.7"/><circle cx="497.8" cy="1046.7" r="2.7"/><circle cx="499.2" cy="1027.3" r="2.7"/><circle cx="500.7" cy="1020.9" r="2.7"/><circle cx="502.1" cy="1030.7" r="2.7"/><circle cx="503.6" cy="1022.3" r="2.7"/><circle cx="505.0" cy="1020.1" r="2.7"/><circle cx="506.5" cy="1009.5" r="2.7"/><circle cx="507.9" cy="1013.8" r="2.7"/><circle cx="509.4" cy="1016.2" r="2.7"/><circle cx="510.9" cy="988.9" r="2.7"/><circle cx="512.3" cy="990.2" r="2.7"/><circle cx="513.8" cy="1018.6" r="2.7"/><circle cx="515.2" cy="1014.6" r="2.7"/><circle cx="516.7" cy="997.8" r="2.7"/><circle cx="518.1" cy="990.5" r="2.7"/><circle cx="519.6" cy="999.2" r="2.7"/><circle cx="521.0" cy="985.8" r="2.7"/><circle cx="522.5" cy="995.0" r="2.7"/><circle cx="523.9" cy="1018.7" r="2.7"/><circle cx="525.4" cy="999.7" r="2.7"/><circle cx="526.9" cy="1012.7" r="2.7"/><circle cx="528.3" cy="996.3" r="2.7"/><circle cx="529.8" cy="1004.5" r="2.7"/><circle cx="531.2" cy="1017.8" r="2.7"/><circle cx="532.7" cy="986.9" r="2.7"/><circle cx="534.1" cy="999.9" r="2.7"/><circle cx="535.6" cy="1003.7" r="2.7"/><circle cx="537.0" cy="1010.5" r="2.7"/><circle cx="538.5" cy="1026.3" r="2.7"/><circle cx="540.0" cy="1018.8" r="2.7"/><circle cx="541.4" cy="998.4" r="2.7"/><circle cx="542.9" cy="1013.2" r="2.7"/><circle cx="544.3" cy="1009.3" r="2.7"/><circle cx="545.8" cy="1011.3" r="2.7"/><circle cx="547.2" cy="1040.6" r="2.7"/><circle cx="548.7" cy="1014.3" r="2.7"/><circle cx="550.1" cy="1027.8" r="2.7"/><circle cx="551.6" cy="1021.6" r="2.7"/><circle cx="553.0" cy="1036.7" r="2.7"/><circle cx="554.5" cy="1034.5" r="2.7"/><circle cx="556.0" cy="1034.7" r="2.7"/><circle cx="557.4" cy="1035.4" r="2.7"/><circle cx="558.9" cy="1046.3" r="2.7"/><circle cx="560.3" cy="1034.4" r="2.7"/><circle cx="561.8" cy="1038.4" r="2.7"/><circle cx="563.2" cy="1038.7" r="2.7"/><circle cx="564.7" cy="1055.7" r="2.7"/><circle cx="566.1" cy="1048.3" r="2.7"/><circle cx="567.6" cy="1046.4" r="2.7"/><circle cx="569.1" cy="1051.6" r="2.7"/><circle cx="570.5" cy="1067.7" r="2.7"/><circle cx="572.0" cy="1056.8" r="2.7"/><circle cx="573.4" cy="1062.6" r="2.7"/><circle cx="574.9" cy="1062.4" r="2.7"/><circle cx="576.3" cy="1061.8" r="2.7"/><circle cx="577.8" cy="1060.6" r="2.7"/><circle cx="579.2" cy="1063.3" r="2.7"/><circle cx="580.7" cy="1064.6" r="2.7"/><circle cx="582.1" cy="1059.6" r="2.7"/><circle cx="583.6" cy="1076.5" r="2.7"/><circle cx="585.1" cy="1072.1" r="2.7"/><circle cx="586.5" cy="1070.6" r="2.7"/><circle cx="588.0" cy="1070.7" r="2.7"/><circle cx="589.4" cy="1070.1" r="2.7"/><circle cx="590.9" cy="1075.6" r="2.7"/><circle cx="592.3" cy="1073.5" r="2.7"/><circle cx="593.8" cy="1076.0" r="2.7"/><circle cx="595.2" cy="1072.5" r="2.7"/><circle cx="596.7" cy="1077.2" r="2.7"/><circle cx="598.2" cy="1081.2" r="2.7"/><circle cx="599.6" cy="1077.2" r="2.7"/><circle cx="601.1" cy="1079.9" r="2.7"/><circle cx="602.5" cy="1079.1" r="2.7"/><circle cx="604.0" cy="1081.5" r="2.7"/><circle cx="605.4" cy="1081.9" r="2.7"/><circle cx="606.9" cy="1080.8" r="2.7"/><circle cx="608.3" cy="1080.2" r="2.7"/><circle cx="609.8" cy="1081.9" r="2.7"/><circle cx="611.2" cy="1081.9" r="2.7"/><circle cx="612.7" cy="1081.2" r="2.7"/><circle cx="614.2" cy="1083.0" r="2.7"/><circle cx="615.6" cy="1083.2" r="2.7"/><circle cx="617.1" cy="1081.7" r="2.7"/><circle cx="618.5" cy="1082.9" r="2.7"/><circle cx="620.0" cy="1085.7" r="2.7"/><circle cx="621.4" cy="1084.3" r="2.7"/><circle cx="622.9" cy="1083.6" r="2.7"/><circle cx="624.3" cy="1085.7" r="2.7"/><circle cx="625.8" cy="1083.1" r="2.7"/><circle cx="627.3" cy="1080.8" r="2.7"/><circle cx="628.7" cy="1081.5" r="2.7"/><circle cx="630.2" cy="1082.0" r="2.7"/><circle cx="631.6" cy="1084.1" r="2.7"/><circle cx="633.1" cy="1084.9" r="2.7"/><circle cx="634.5" cy="1081.2" r="2.7"/><circle cx="636.0" cy="1085.1" r="2.7"/><circle cx="637.4" cy="1082.3" r="2.7"/><circle cx="638.9" cy="1084.1" r="2.7"/><circle cx="640.3" cy="1084.3" r="2.7"/><circle cx="641.8" cy="1084.3" r="2.7"/><circle cx="643.3" cy="1083.8" r="2.7"/><circle cx="644.7" cy="1084.0" r="2.7"/><circle cx="646.2" cy="1082.4" r="2.7"/><circle cx="647.6" cy="1084.1" r="2.7"/><circle cx="649.1" cy="1084.9" r="2.7"/><circle cx="650.5" cy="1084.9" r="2.7"/><circle cx="652.0" cy="1085.7" r="2.7"/><circle cx="653.4" cy="1085.1" r="2.7"/><circle cx="654.9" cy="1084.6" r="2.7"/><circle cx="656.4" cy="1085.7" r="2.7"/><circle cx="657.8" cy="1084.1" r="2.7"/><circle cx="659.3" cy="1082.3" r="2.7"/><circle cx="660.7" cy="1081.1" r="2.7"/><circle cx="662.2" cy="1085.3" r="2.7"/><circle cx="663.6" cy="1084.4" r="2.7"/><circle cx="665.1" cy="1084.8" r="2.7"/><circle cx="666.5" cy="1083.4" r="2.7"/><circle cx="668.0" cy="1084.2" r="2.7"/><circle cx="669.4" cy="1085.7" r="2.7"/><circle cx="670.9" cy="1084.2" r="2.7"/><circle cx="672.4" cy="1082.5" r="2.7"/><circle cx="673.8" cy="1083.3" r="2.7"/><circle cx="675.3" cy="1085.4" r="2.7"/><circle cx="676.7" cy="1082.5" r="2.7"/><circle cx="678.2" cy="1080.7" r="2.7"/><circle cx="679.6" cy="1081.1" r="2.7"/><circle cx="681.1" cy="1082.2" r="2.7"/><circle cx="682.5" cy="1084.7" r="2.7"/><circle cx="684.0" cy="1083.9" r="2.7"/><circle cx="685.5" cy="1082.9" r="2.7"/><circle cx="686.9" cy="1082.3" r="2.7"/><circle cx="688.4" cy="1083.6" r="2.7"/><circle cx="689.8" cy="1083.6" r="2.7"/><circle cx="691.3" cy="1083.1" r="2.7"/><circle cx="692.7" cy="1083.5" r="2.7"/><circle cx="694.2" cy="1082.9" r="2.7"/><circle cx="695.6" cy="1085.7" r="2.7"/><circle cx="697.1" cy="1081.0" r="2.7"/><circle cx="698.5" cy="1083.9" r="2.7"/><circle cx="700.0" cy="1082.6" r="2.7"/><circle cx="518.9" cy="940.4" r="2.7"/><circle cx="533.3" cy="970.4" r="2.7"/><circle cx="518.9" cy="984.9" r="2.7"/></g>
<g id="dg3" fill="#b32c48" fill-opacity="0.6" stroke="#b32c48" stroke-opacity="0.6" stroke-width="1.1"><circle cx="717.0" cy="1085.5" r="2.7"/><circle cx="718.5" cy="1083.3" r="2.7"/><circle cx="719.9" cy="1082.4" r="2.7"/><circle cx="721.4" cy="1080.6" r="2.7"/><circle cx="722.8" cy="1083.9" r="2.7"/><circle cx="724.3" cy="1085.7" r="2.7"/><circle cx="725.7" cy="1084.2" r="2.7"/><circle cx="727.2" cy="1084.7" r="2.7"/><circle cx="728.6" cy="1085.3" r="2.7"/><circle cx="730.1" cy="1082.5" r="2.7"/><circle cx="731.6" cy="1085.7" r="2.7"/><circle cx="733.0" cy="1082.1" r="2.7"/><circle cx="734.5" cy="1083.8" r="2.7"/><circle cx="735.9" cy="1085.7" r="2.7"/><circle cx="737.4" cy="1082.6" r="2.7"/><circle cx="738.8" cy="1082.7" r="2.7"/><circle cx="740.3" cy="1081.4" r="2.7"/><circle cx="741.7" cy="1082.4" r="2.7"/><circle cx="743.2" cy="1077.7" r="2.7"/><circle cx="744.6" cy="1079.8" r="2.7"/><circle cx="746.1" cy="1083.6" r="2.7"/><circle cx="747.6" cy="1080.3" r="2.7"/><circle cx="749.0" cy="1078.9" r="2.7"/><circle cx="750.5" cy="1079.6" r="2.7"/><circle cx="751.9" cy="1079.1" r="2.7"/><circle cx="753.4" cy="1078.0" r="2.7"/><circle cx="754.8" cy="1078.4" r="2.7"/><circle cx="756.3" cy="1072.4" r="2.7"/><circle cx="757.7" cy="1077.3" r="2.7"/><circle cx="759.2" cy="1073.3" r="2.7"/><circle cx="760.7" cy="1076.6" r="2.7"/><circle cx="762.1" cy="1074.0" r="2.7"/><circle cx="763.6" cy="1070.8" r="2.7"/><circle cx="765.0" cy="1073.0" r="2.7"/><circle cx="766.5" cy="1069.8" r="2.7"/><circle cx="767.9" cy="1075.4" r="2.7"/><circle cx="769.4" cy="1071.9" r="2.7"/><circle cx="770.8" cy="1074.3" r="2.7"/><circle cx="772.3" cy="1067.8" r="2.7"/><circle cx="773.7" cy="1076.1" r="2.7"/><circle cx="775.2" cy="1069.6" r="2.7"/><circle cx="776.7" cy="1074.7" r="2.7"/><circle cx="778.1" cy="1072.7" r="2.7"/><circle cx="779.6" cy="1065.7" r="2.7"/><circle cx="781.0" cy="1070.3" r="2.7"/><circle cx="782.5" cy="1067.0" r="2.7"/><circle cx="783.9" cy="1070.1" r="2.7"/><circle cx="785.4" cy="1073.5" r="2.7"/><circle cx="786.8" cy="1070.8" r="2.7"/><circle cx="788.3" cy="1072.1" r="2.7"/><circle cx="789.8" cy="1064.1" r="2.7"/><circle cx="791.2" cy="1069.2" r="2.7"/><circle cx="792.7" cy="1070.0" r="2.7"/><circle cx="794.1" cy="1072.9" r="2.7"/><circle cx="795.6" cy="1067.4" r="2.7"/><circle cx="797.0" cy="1071.9" r="2.7"/><circle cx="798.5" cy="1071.9" r="2.7"/><circle cx="799.9" cy="1066.0" r="2.7"/><circle cx="801.4" cy="1067.9" r="2.7"/><circle cx="802.8" cy="1072.8" r="2.7"/><circle cx="804.3" cy="1067.9" r="2.7"/><circle cx="805.8" cy="1067.7" r="2.7"/><circle cx="807.2" cy="1074.2" r="2.7"/><circle cx="808.7" cy="1072.2" r="2.7"/><circle cx="810.1" cy="1070.3" r="2.7"/><circle cx="811.6" cy="1071.2" r="2.7"/><circle cx="813.0" cy="1069.3" r="2.7"/><circle cx="814.5" cy="1068.6" r="2.7"/><circle cx="815.9" cy="1068.5" r="2.7"/><circle cx="817.4" cy="1071.1" r="2.7"/><circle cx="818.9" cy="1074.0" r="2.7"/><circle cx="820.3" cy="1067.7" r="2.7"/><circle cx="821.8" cy="1068.8" r="2.7"/><circle cx="823.2" cy="1068.1" r="2.7"/><circle cx="824.7" cy="1064.2" r="2.7"/><circle cx="826.1" cy="1069.3" r="2.7"/><circle cx="827.6" cy="1071.3" r="2.7"/><circle cx="829.0" cy="1064.8" r="2.7"/><circle cx="830.5" cy="1070.7" r="2.7"/><circle cx="831.9" cy="1065.3" r="2.7"/><circle cx="833.4" cy="1071.4" r="2.7"/><circle cx="834.9" cy="1071.4" r="2.7"/><circle cx="836.3" cy="1065.0" r="2.7"/><circle cx="837.8" cy="1058.4" r="2.7"/><circle cx="839.2" cy="1064.5" r="2.7"/><circle cx="840.7" cy="1060.0" r="2.7"/><circle cx="842.1" cy="1059.8" r="2.7"/><circle cx="843.6" cy="1063.7" r="2.7"/><circle cx="845.0" cy="1070.0" r="2.7"/><circle cx="846.5" cy="1063.6" r="2.7"/><circle cx="848.0" cy="1062.6" r="2.7"/><circle cx="849.4" cy="1055.2" r="2.7"/><circle cx="850.9" cy="1060.1" r="2.7"/><circle cx="852.3" cy="1056.1" r="2.7"/><circle cx="853.8" cy="1064.2" r="2.7"/><circle cx="855.2" cy="1059.0" r="2.7"/><circle cx="856.7" cy="1060.7" r="2.7"/><circle cx="858.1" cy="1060.3" r="2.7"/><circle cx="859.6" cy="1059.0" r="2.7"/><circle cx="861.0" cy="1063.8" r="2.7"/><circle cx="862.5" cy="1060.9" r="2.7"/><circle cx="864.0" cy="1056.2" r="2.7"/><circle cx="865.4" cy="1057.8" r="2.7"/><circle cx="866.9" cy="1059.1" r="2.7"/><circle cx="868.3" cy="1062.8" r="2.7"/><circle cx="869.8" cy="1055.2" r="2.7"/><circle cx="871.2" cy="1061.7" r="2.7"/><circle cx="872.7" cy="1049.2" r="2.7"/><circle cx="874.1" cy="1050.3" r="2.7"/><circle cx="875.6" cy="1041.6" r="2.7"/><circle cx="877.1" cy="1054.7" r="2.7"/><circle cx="878.5" cy="1042.0" r="2.7"/><circle cx="880.0" cy="1040.7" r="2.7"/><circle cx="881.4" cy="1051.9" r="2.7"/><circle cx="882.9" cy="1041.5" r="2.7"/><circle cx="884.3" cy="1038.6" r="2.7"/><circle cx="885.8" cy="1049.5" r="2.7"/><circle cx="887.2" cy="1040.1" r="2.7"/><circle cx="888.7" cy="1047.1" r="2.7"/><circle cx="890.1" cy="1035.9" r="2.7"/><circle cx="891.6" cy="1043.6" r="2.7"/><circle cx="893.1" cy="1045.5" r="2.7"/><circle cx="894.5" cy="1036.4" r="2.7"/><circle cx="896.0" cy="1049.6" r="2.7"/><circle cx="897.4" cy="1030.5" r="2.7"/><circle cx="898.9" cy="1031.2" r="2.7"/><circle cx="900.3" cy="1033.0" r="2.7"/><circle cx="901.8" cy="1040.6" r="2.7"/><circle cx="903.2" cy="1028.9" r="2.7"/><circle cx="904.7" cy="1027.1" r="2.7"/><circle cx="906.2" cy="1032.8" r="2.7"/><circle cx="907.6" cy="1041.3" r="2.7"/><circle cx="909.1" cy="1026.0" r="2.7"/><circle cx="910.5" cy="1017.9" r="2.7"/><circle cx="912.0" cy="1027.9" r="2.7"/><circle cx="913.4" cy="1034.6" r="2.7"/><circle cx="914.9" cy="1023.8" r="2.7"/><circle cx="916.3" cy="1029.8" r="2.7"/><circle cx="917.8" cy="1011.8" r="2.7"/><circle cx="919.2" cy="1029.2" r="2.7"/><circle cx="920.7" cy="1030.3" r="2.7"/><circle cx="922.2" cy="1035.3" r="2.7"/><circle cx="923.6" cy="1033.1" r="2.7"/><circle cx="925.1" cy="1038.3" r="2.7"/><circle cx="926.5" cy="1024.8" r="2.7"/><circle cx="928.0" cy="1040.6" r="2.7"/><circle cx="929.4" cy="1024.1" r="2.7"/><circle cx="930.9" cy="1034.5" r="2.7"/><circle cx="932.3" cy="1049.0" r="2.7"/><circle cx="933.8" cy="1048.5" r="2.7"/><circle cx="935.3" cy="1031.0" r="2.7"/><circle cx="936.7" cy="1049.4" r="2.7"/><circle cx="938.2" cy="1044.1" r="2.7"/><circle cx="939.6" cy="1043.3" r="2.7"/><circle cx="941.1" cy="1050.9" r="2.7"/><circle cx="942.5" cy="1051.7" r="2.7"/><circle cx="944.0" cy="1060.3" r="2.7"/><circle cx="945.4" cy="1045.2" r="2.7"/><circle cx="946.9" cy="1052.2" r="2.7"/><circle cx="948.3" cy="1054.9" r="2.7"/><circle cx="949.8" cy="1047.2" r="2.7"/><circle cx="951.3" cy="1063.6" r="2.7"/><circle cx="952.7" cy="1067.1" r="2.7"/><circle cx="910.2" cy="1001.6" r="2.7"/><circle cx="923.3" cy="1012.0" r="2.7"/><circle cx="935.1" cy="1066.0" r="2.7"/></g>
<use href="#dg3" x="323.8"/>
<use href="#dg3" x="647.6"/>
<path d="M391.6,211.5 V469.5" stroke="#1c1c1c" stroke-width="1.9"/>
<path d="M384.1,468.6 H391.6" stroke="#1c1c1c" stroke-width="1.6"/>
<path d="M384.1,443.0 H391.6" stroke="#1c1c1c" stroke-width="1.6"/>
<path d="M384.1,417.3 H391.6" stroke="#1c1c1c" stroke-width="1.6"/>
<path d="M384.1,391.7 H391.6" stroke="#1c1c1c" stroke-width="1.6"/>
<path d="M384.1,366.1 H391.6" stroke="#1c1c1c" stroke-width="1.6"/>
<path d="M384.1,340.5 H391.6" stroke="#1c1c1c" stroke-width="1.6"/>
<path d="M384.1,314.8 H391.6" stroke="#1c1c1c" stroke-width="1.6"/>
<path d="M384.1,289.2 H391.6" stroke="#1c1c1c" stroke-width="1.6"/>
<path d="M384.1,263.6 H391.6" stroke="#1c1c1c" stroke-width="1.6"/>
<path d="M384.1,237.9 H391.6" stroke="#1c1c1c" stroke-width="1.6"/>
<path d="M384.1,212.3 H391.6" stroke="#1c1c1c" stroke-width="1.6"/>
<path d="M390.7,468.6 H700.7" stroke="#1c1c1c" stroke-width="1.8"/><path d="M391.6,468.6 V476.1" stroke="#1c1c1c" stroke-width="1.6"/><path d="M433.8,468.6 V476.1" stroke="#1c1c1c" stroke-width="1.6"/><path d="M478.6,468.6 V476.1" stroke="#1c1c1c" stroke-width="1.6"/><path d="M521.8,468.6 V476.1" stroke="#1c1c1c" stroke-width="1.6"/><path d="M566.5,468.6 V476.1" stroke="#1c1c1c" stroke-width="1.6"/><path d="M610.3,468.6 V476.1" stroke="#1c1c1c" stroke-width="1.6"/><path d="M655.0,468.6 V476.1" stroke="#1c1c1c" stroke-width="1.6"/><path d="M699.8,468.6 V476.1" stroke="#1c1c1c" stroke-width="1.6"/>
<path d="M714.7,468.6 H1024.2" stroke="#1c1c1c" stroke-width="1.8"/><path d="M715.6,468.6 V476.1" stroke="#1c1c1c" stroke-width="1.6"/><path d="M759.3,468.6 V476.1" stroke="#1c1c1c" stroke-width="1.6"/><path d="M804.4,468.6 V476.1" stroke="#1c1c1c" stroke-width="1.6"/><path d="M847.8,468.6 V476.1" stroke="#1c1c1c" stroke-width="1.6"/><path d="M892.9,468.6 V476.1" stroke="#1c1c1c" stroke-width="1.6"/><path d="M938.2,468.6 V476.1" stroke="#1c1c1c" stroke-width="1.6"/><path d="M978.9,468.6 V476.1" stroke="#1c1c1c" stroke-width="1.6"/><path d="M1023.3,468.6 V476.1" stroke="#1c1c1c" stroke-width="1.6"/>
<path d="M1038.5,468.6 H1348.0" stroke="#1c1c1c" stroke-width="1.8"/><path d="M1039.4,468.6 V476.1" stroke="#1c1c1c" stroke-width="1.6"/><path d="M1083.1,468.6 V476.1" stroke="#1c1c1c" stroke-width="1.6"/><path d="M1128.2,468.6 V476.1" stroke="#1c1c1c" stroke-width="1.6"/><path d="M1171.6,468.6 V476.1" stroke="#1c1c1c" stroke-width="1.6"/><path d="M1216.7,468.6 V476.1" stroke="#1c1c1c" stroke-width="1.6"/><path d="M1262.0,468.6 V476.1" stroke="#1c1c1c" stroke-width="1.6"/><path d="M1302.7,468.6 V476.1" stroke="#1c1c1c" stroke-width="1.6"/><path d="M1347.1,468.6 V476.1" stroke="#1c1c1c" stroke-width="1.6"/>
<path d="M1362.3,468.6 H1671.8" stroke="#1c1c1c" stroke-width="1.8"/><path d="M1363.2,468.6 V476.1" stroke="#1c1c1c" stroke-width="1.6"/><path d="M1406.9,468.6 V476.1" stroke="#1c1c1c" stroke-width="1.6"/><path d="M1452.0,468.6 V476.1" stroke="#1c1c1c" stroke-width="1.6"/><path d="M1495.4,468.6 V476.1" stroke="#1c1c1c" stroke-width="1.6"/><path d="M1540.5,468.6 V476.1" stroke="#1c1c1c" stroke-width="1.6"/><path d="M1585.8,468.6 V476.1" stroke="#1c1c1c" stroke-width="1.6"/><path d="M1626.5,468.6 V476.1" stroke="#1c1c1c" stroke-width="1.6"/><path d="M1670.9,468.6 V476.1" stroke="#1c1c1c" stroke-width="1.6"/>
<rect x="398.0" y="212.0" width="45.4" height="76.5" fill="#e3eff4"/>
<rect x="398.0" y="224.8" width="45.4" height="51.0" fill="#a9d0dc"/>
<rect x="398.0" y="237.5" width="45.4" height="25.5" fill="#6eb0c4"/>
<path d="M397.2,250.2 H444.6" stroke="#388ea9" stroke-width="4.4" stroke-linecap="round"/>
<path d="M391.6,520.5 V778.5" stroke="#1c1c1c" stroke-width="1.9"/>
<path d="M384.1,777.6 H391.6" stroke="#1c1c1c" stroke-width="1.6"/>
<path d="M384.1,745.6 H391.6" stroke="#1c1c1c" stroke-width="1.6"/>
<path d="M384.1,713.5 H391.6" stroke="#1c1c1c" stroke-width="1.6"/>
<path d="M384.1,681.5 H391.6" stroke="#1c1c1c" stroke-width="1.6"/>
<path d="M384.1,649.5 H391.6" stroke="#1c1c1c" stroke-width="1.6"/>
<path d="M384.1,617.4 H391.6" stroke="#1c1c1c" stroke-width="1.6"/>
<path d="M384.1,585.4 H391.6" stroke="#1c1c1c" stroke-width="1.6"/>
<path d="M384.1,553.3 H391.6" stroke="#1c1c1c" stroke-width="1.6"/>
<path d="M384.1,521.3 H391.6" stroke="#1c1c1c" stroke-width="1.6"/>
<path d="M390.7,777.6 H700.7" stroke="#1c1c1c" stroke-width="1.8"/><path d="M391.6,777.6 V785.1" stroke="#1c1c1c" stroke-width="1.6"/><path d="M433.8,777.6 V785.1" stroke="#1c1c1c" stroke-width="1.6"/><path d="M478.6,777.6 V785.1" stroke="#1c1c1c" stroke-width="1.6"/><path d="M521.8,777.6 V785.1" stroke="#1c1c1c" stroke-width="1.6"/><path d="M566.5,777.6 V785.1" stroke="#1c1c1c" stroke-width="1.6"/><path d="M610.3,777.6 V785.1" stroke="#1c1c1c" stroke-width="1.6"/><path d="M655.0,777.6 V785.1" stroke="#1c1c1c" stroke-width="1.6"/><path d="M699.8,777.6 V785.1" stroke="#1c1c1c" stroke-width="1.6"/>
<path d="M714.7,777.6 H1024.2" stroke="#1c1c1c" stroke-width="1.8"/><path d="M715.6,777.6 V785.1" stroke="#1c1c1c" stroke-width="1.6"/><path d="M759.3,777.6 V785.1" stroke="#1c1c1c" stroke-width="1.6"/><path d="M804.4,777.6 V785.1" stroke="#1c1c1c" stroke-width="1.6"/><path d="M847.8,777.6 V785.1" stroke="#1c1c1c" stroke-width="1.6"/><path d="M892.9,777.6 V785.1" stroke="#1c1c1c" stroke-width="1.6"/><path d="M938.2,777.6 V785.1" stroke="#1c1c1c" stroke-width="1.6"/><path d="M978.9,777.6 V785.1" stroke="#1c1c1c" stroke-width="1.6"/><path d="M1023.3,777.6 V785.1" stroke="#1c1c1c" stroke-width="1.6"/>
<path d="M1038.5,777.6 H1348.0" stroke="#1c1c1c" stroke-width="1.8"/><path d="M1039.4,777.6 V785.1" stroke="#1c1c1c" stroke-width="1.6"/><path d="M1083.1,777.6 V785.1" stroke="#1c1c1c" stroke-width="1.6"/><path d="M1128.2,777.6 V785.1" stroke="#1c1c1c" stroke-width="1.6"/><path d="M1171.6,777.6 V785.1" stroke="#1c1c1c" stroke-width="1.6"/><path d="M1216.7,777.6 V785.1" stroke="#1c1c1c" stroke-width="1.6"/><path d="M1262.0,777.6 V785.1" stroke="#1c1c1c" stroke-width="1.6"/><path d="M1302.7,777.6 V785.1" stroke="#1c1c1c" stroke-width="1.6"/><path d="M1347.1,777.6 V785.1" stroke="#1c1c1c" stroke-width="1.6"/>
<path d="M1362.3,777.6 H1671.8" stroke="#1c1c1c" stroke-width="1.8"/><path d="M1363.2,777.6 V785.1" stroke="#1c1c1c" stroke-width="1.6"/><path d="M1406.9,777.6 V785.1" stroke="#1c1c1c" stroke-width="1.6"/><path d="M1452.0,777.6 V785.1" stroke="#1c1c1c" stroke-width="1.6"/><path d="M1495.4,777.6 V785.1" stroke="#1c1c1c" stroke-width="1.6"/><path d="M1540.5,777.6 V785.1" stroke="#1c1c1c" stroke-width="1.6"/><path d="M1585.8,777.6 V785.1" stroke="#1c1c1c" stroke-width="1.6"/><path d="M1626.5,777.6 V785.1" stroke="#1c1c1c" stroke-width="1.6"/><path d="M1670.9,777.6 V785.1" stroke="#1c1c1c" stroke-width="1.6"/>
<rect x="398.0" y="521.0" width="45.4" height="76.5" fill="#fdf0e7"/>
<rect x="398.0" y="533.8" width="45.4" height="51.0" fill="#f9cdab"/>
<rect x="398.0" y="546.5" width="45.4" height="25.5" fill="#f4a872"/>
<path d="M397.2,559.2 H444.6" stroke="#ee7f31" stroke-width="4.4" stroke-linecap="round"/>
<path d="M391.6,829.0 V1087.6" stroke="#1c1c1c" stroke-width="1.9"/>
<path d="M384.1,1086.7 H391.6" stroke="#1c1c1c" stroke-width="1.6"/>
<path d="M384.1,1061.0 H391.6" stroke="#1c1c1c" stroke-width="1.6"/>
<path d="M384.1,1035.3 H391.6" stroke="#1c1c1c" stroke-width="1.6"/>
<path d="M384.1,1009.6 H391.6" stroke="#1c1c1c" stroke-width="1.6"/>
<path d="M384.1,983.9 H391.6" stroke="#1c1c1c" stroke-width="1.6"/>
<path d="M384.1,958.2 H391.6" stroke="#1c1c1c" stroke-width="1.6"/>
<path d="M384.1,932.6 H391.6" stroke="#1c1c1c" stroke-width="1.6"/>
<path d="M384.1,906.9 H391.6" stroke="#1c1c1c" stroke-width="1.6"/>
<path d="M384.1,881.2 H391.6" stroke="#1c1c1c" stroke-width="1.6"/>
<path d="M384.1,855.5 H391.6" stroke="#1c1c1c" stroke-width="1.6"/>
<path d="M384.1,829.8 H391.6" stroke="#1c1c1c" stroke-width="1.6"/>
<path d="M390.7,1086.7 H700.7" stroke="#1c1c1c" stroke-width="1.8"/><path d="M391.6,1086.7 V1094.2" stroke="#1c1c1c" stroke-width="1.6"/><path d="M433.8,1086.7 V1094.2" stroke="#1c1c1c" stroke-width="1.6"/><path d="M478.6,1086.7 V1094.2" stroke="#1c1c1c" stroke-width="1.6"/><path d="M521.8,1086.7 V1094.2" stroke="#1c1c1c" stroke-width="1.6"/><path d="M566.5,1086.7 V1094.2" stroke="#1c1c1c" stroke-width="1.6"/><path d="M610.3,1086.7 V1094.2" stroke="#1c1c1c" stroke-width="1.6"/><path d="M655.0,1086.7 V1094.2" stroke="#1c1c1c" stroke-width="1.6"/><path d="M699.8,1086.7 V1094.2" stroke="#1c1c1c" stroke-width="1.6"/>
<path d="M714.7,1086.7 H1024.2" stroke="#1c1c1c" stroke-width="1.8"/><path d="M715.6,1086.7 V1094.2" stroke="#1c1c1c" stroke-width="1.6"/><path d="M759.3,1086.7 V1094.2" stroke="#1c1c1c" stroke-width="1.6"/><path d="M804.4,1086.7 V1094.2" stroke="#1c1c1c" stroke-width="1.6"/><path d="M847.8,1086.7 V1094.2" stroke="#1c1c1c" stroke-width="1.6"/><path d="M892.9,1086.7 V1094.2" stroke="#1c1c1c" stroke-width="1.6"/><path d="M938.2,1086.7 V1094.2" stroke="#1c1c1c" stroke-width="1.6"/><path d="M978.9,1086.7 V1094.2" stroke="#1c1c1c" stroke-width="1.6"/><path d="M1023.3,1086.7 V1094.2" stroke="#1c1c1c" stroke-width="1.6"/>
<path d="M1038.5,1086.7 H1348.0" stroke="#1c1c1c" stroke-width="1.8"/><path d="M1039.4,1086.7 V1094.2" stroke="#1c1c1c" stroke-width="1.6"/><path d="M1083.1,1086.7 V1094.2" stroke="#1c1c1c" stroke-width="1.6"/><path d="M1128.2,1086.7 V1094.2" stroke="#1c1c1c" stroke-width="1.6"/><path d="M1171.6,1086.7 V1094.2" stroke="#1c1c1c" stroke-width="1.6"/><path d="M1216.7,1086.7 V1094.2" stroke="#1c1c1c" stroke-width="1.6"/><path d="M1262.0,1086.7 V1094.2" stroke="#1c1c1c" stroke-width="1.6"/><path d="M1302.7,1086.7 V1094.2" stroke="#1c1c1c" stroke-width="1.6"/><path d="M1347.1,1086.7 V1094.2" stroke="#1c1c1c" stroke-width="1.6"/>
<path d="M1362.3,1086.7 H1671.8" stroke="#1c1c1c" stroke-width="1.8"/><path d="M1363.2,1086.7 V1094.2" stroke="#1c1c1c" stroke-width="1.6"/><path d="M1406.9,1086.7 V1094.2" stroke="#1c1c1c" stroke-width="1.6"/><path d="M1452.0,1086.7 V1094.2" stroke="#1c1c1c" stroke-width="1.6"/><path d="M1495.4,1086.7 V1094.2" stroke="#1c1c1c" stroke-width="1.6"/><path d="M1540.5,1086.7 V1094.2" stroke="#1c1c1c" stroke-width="1.6"/><path d="M1585.8,1086.7 V1094.2" stroke="#1c1c1c" stroke-width="1.6"/><path d="M1626.5,1086.7 V1094.2" stroke="#1c1c1c" stroke-width="1.6"/><path d="M1670.9,1086.7 V1094.2" stroke="#1c1c1c" stroke-width="1.6"/>
<rect x="398.0" y="829.5" width="45.4" height="76.5" fill="#e7e7e7"/>
<rect x="398.0" y="842.2" width="45.4" height="51.0" fill="#b9b9b9"/>
<rect x="398.0" y="855.0" width="45.4" height="25.5" fill="#878787"/>
<path d="M397.2,867.8 H444.6" stroke="#474747" stroke-width="4.4" stroke-linecap="round"/>
<path d="M160,1123.2 H1035" stroke="#79aad0" stroke-width="2.2"/>
<text id="y1_0" x="380.6" y="476.3" font-size="16.8" fill="#222" font-weight="400" text-anchor="end" letter-spacing="1.000">0</text>
<text id="y1_1" x="380.6" y="450.7" font-size="16.8" fill="#222" font-weight="400" text-anchor="end" letter-spacing="1.000">400</text>
<text id="y1_2" x="380.6" y="425.0" font-size="16.8" fill="#222" font-weight="400" text-anchor="end" letter-spacing="1.000">800</text>
<text id="y1_3" x="380.6" y="399.4" font-size="16.8" fill="#222" font-weight="400" text-anchor="end" letter-spacing="1.000">1200</text>
<text id="y1_4" x="380.6" y="373.8" font-size="16.8" fill="#222" font-weight="400" text-anchor="end" letter-spacing="1.000">1600</text>
<text id="y1_5" x="380.6" y="348.2" font-size="16.8" fill="#222" font-weight="400" text-anchor="end" letter-spacing="1.000">2000</text>
<text id="y1_6" x="380.6" y="322.5" font-size="16.8" fill="#222" font-weight="400" text-anchor="end" letter-spacing="1.000">2400</text>
<text id="y1_7" x="380.6" y="296.9" font-size="16.8" fill="#222" font-weight="400" text-anchor="end" letter-spacing="1.000">2800</text>
<text id="y1_8" x="380.6" y="271.3" font-size="16.8" fill="#222" font-weight="400" text-anchor="end" letter-spacing="1.000">3200</text>
<text id="y1_9" x="380.6" y="245.6" font-size="16.8" fill="#222" font-weight="400" text-anchor="end" letter-spacing="1.000">3600</text>
<text id="y1_10" x="380.6" y="220.0" font-size="16.8" fill="#222" font-weight="400" text-anchor="end" letter-spacing="1.000">4000</text>
<text id="x1_1_Fév" x="391.6" y="493.7" font-size="17.2" fill="#222" font-weight="400" text-anchor="middle" letter-spacing="0.100">Fév</text>
<text id="x1_1_Mars" x="433.8" y="493.7" font-size="17.2" fill="#222" font-weight="400" text-anchor="middle" letter-spacing="0.100">Mars</text>
<text id="x1_1_Avr" x="478.6" y="493.7" font-size="17.2" fill="#222" font-weight="400" text-anchor="middle" letter-spacing="0.100">Avr</text>
<text id="x1_1_Mai" x="521.8" y="493.7" font-size="17.2" fill="#222" font-weight="400" text-anchor="middle" letter-spacing="0.100">Mai</text>
<text id="x1_1_Juin" x="566.5" y="493.7" font-size="17.2" fill="#222" font-weight="400" text-anchor="middle" letter-spacing="0.100">Juin</text>
<text id="x1_1_Juil" x="610.3" y="493.7" font-size="17.2" fill="#222" font-weight="400" text-anchor="middle" letter-spacing="0.100">Juil</text>
<text id="x1_1_Août" x="655.0" y="493.7" font-size="17.2" fill="#222" font-weight="400" text-anchor="middle" letter-spacing="0.100">Août</text>
<text id="x1_1_Sep" x="699.8" y="493.7" font-size="17.2" fill="#222" font-weight="400" text-anchor="middle" letter-spacing="0.100">Sep</text>
<text id="x1_2_Oct" x="759.3" y="493.7" font-size="17.2" fill="#222" font-weight="400" text-anchor="middle" letter-spacing="0.100">Oct</text>
<text id="x1_2_Nov" x="804.4" y="493.7" font-size="17.2" fill="#222" font-weight="400" text-anchor="middle" letter-spacing="0.100">Nov</text>
<text id="x1_2_Déc" x="847.8" y="493.7" font-size="17.2" fill="#222" font-weight="400" text-anchor="middle" letter-spacing="0.100">Déc</text>
<text id="x1_2_Jan" x="892.9" y="493.7" font-size="17.2" fill="#222" font-weight="400" text-anchor="middle" letter-spacing="0.100">Jan</text>
<text id="x1_2_Fév" x="938.2" y="493.7" font-size="17.2" fill="#222" font-weight="400" text-anchor="middle" letter-spacing="0.100">Fév</text>
<text id="x1_2_Mars" x="978.9" y="493.7" font-size="17.2" fill="#222" font-weight="400" text-anchor="middle" letter-spacing="0.100">Mars</text>
<text id="x1_2_Avr" x="1023.3" y="493.7" font-size="17.2" fill="#222" font-weight="400" text-anchor="middle" letter-spacing="0.100">Avr</text>
<text id="x1_3_Oct" x="1083.1" y="493.7" font-size="17.2" fill="#222" font-weight="400" text-anchor="middle" letter-spacing="0.100">Oct</text>
<text id="x1_3_Nov" x="1128.2" y="493.7" font-size="17.2" fill="#222" font-weight="400" text-anchor="middle" letter-spacing="0.100">Nov</text>
<text id="x1_3_Déc" x="1171.6" y="493.7" font-size="17.2" fill="#222" font-weight="400" text-anchor="middle" letter-spacing="0.100">Déc</text>
<text id="x1_3_Jan" x="1216.7" y="493.7" font-size="17.2" fill="#222" font-weight="400" text-anchor="middle" letter-spacing="0.100">Jan</text>
<text id="x1_3_Fév" x="1262.0" y="493.7" font-size="17.2" fill="#222" font-weight="400" text-anchor="middle" letter-spacing="0.100">Fév</text>
<text id="x1_3_Mars" x="1302.7" y="493.7" font-size="17.2" fill="#222" font-weight="400" text-anchor="middle" letter-spacing="0.100">Mars</text>
<text id="x1_3_Avr" x="1347.1" y="493.7" font-size="17.2" fill="#222" font-weight="400" text-anchor="middle" letter-spacing="0.100">Avr</text>
<text id="x1_4_Oct" x="1406.9" y="493.7" font-size="17.2" fill="#222" font-weight="400" text-anchor="middle" letter-spacing="0.100">Oct</text>
<text id="x1_4_Nov" x="1452.0" y="493.7" font-size="17.2" fill="#222" font-weight="400" text-anchor="middle" letter-spacing="0.100">Nov</text>
<text id="x1_4_Déc" x="1495.4" y="493.7" font-size="17.2" fill="#222" font-weight="400" text-anchor="middle" letter-spacing="0.100">Déc</text>
<text id="x1_4_Jan" x="1540.5" y="493.7" font-size="17.2" fill="#222" font-weight="400" text-anchor="middle" letter-spacing="0.100">Jan</text>
<text id="x1_4_Fév" x="1585.8" y="493.7" font-size="17.2" fill="#222" font-weight="400" text-anchor="middle" letter-spacing="0.100">Fév</text>
<text id="x1_4_Mars" x="1626.5" y="493.7" font-size="17.2" fill="#222" font-weight="400" text-anchor="middle" letter-spacing="0.100">Mars</text>
<text id="x1_4_Avr" x="1670.9" y="493.7" font-size="17.2" fill="#222" font-weight="400" text-anchor="middle" letter-spacing="0.100">Avr</text>
<text id="lg1_0" x="450.5" y="215.6" font-size="10.3" fill="#333" font-weight="400" letter-spacing="0.450">Max</text>
<text id="lg1_1" x="450.5" y="228.3" font-size="10.3" fill="#333" font-weight="400" letter-spacing="0.450">90%</text>
<text id="lg1_2" x="450.5" y="241.1" font-size="10.3" fill="#333" font-weight="400" letter-spacing="0.450">75%</text>
<text id="lg1_3" x="450.5" y="253.8" font-size="10.3" fill="#333" font-weight="400" letter-spacing="0.450">Médiane</text>
<text id="lg1_4" x="450.5" y="266.6" font-size="10.3" fill="#333" font-weight="400" letter-spacing="0.450">25%</text>
<text id="lg1_5" x="450.5" y="279.4" font-size="10.3" fill="#333" font-weight="400" letter-spacing="0.450">10%</text>
<text id="lg1_6" x="450.5" y="292.1" font-size="10.3" fill="#333" font-weight="400" letter-spacing="0.450">Min</text>
<text id="y2_0" x="380.6" y="785.3" font-size="16.8" fill="#222" font-weight="400" text-anchor="end" letter-spacing="1.000">0</text>
<text id="y2_1" x="380.6" y="753.3" font-size="16.8" fill="#222" font-weight="400" text-anchor="end" letter-spacing="1.000">25</text>
<text id="y2_2" x="380.6" y="721.2" font-size="16.8" fill="#222" font-weight="400" text-anchor="end" letter-spacing="1.000">50</text>
<text id="y2_3" x="380.6" y="689.2" font-size="16.8" fill="#222" font-weight="400" text-anchor="end" letter-spacing="1.000">75</text>
<text id="y2_4" x="380.6" y="657.2" font-size="16.8" fill="#222" font-weight="400" text-anchor="end" letter-spacing="1.000">100</text>
<text id="y2_5" x="380.6" y="625.1" font-size="16.8" fill="#222" font-weight="400" text-anchor="end" letter-spacing="1.000">125</text>
<text id="y2_6" x="380.6" y="593.1" font-size="16.8" fill="#222" font-weight="400" text-anchor="end" letter-spacing="1.000">150</text>
<text id="y2_7" x="380.6" y="561.0" font-size="16.8" fill="#222" font-weight="400" text-anchor="end" letter-spacing="1.000">175</text>
<text id="y2_8" x="380.6" y="529.0" font-size="16.8" fill="#222" font-weight="400" text-anchor="end" letter-spacing="1.000">200</text>
<text id="x2_1_Fév" x="391.6" y="802.7" font-size="17.2" fill="#222" font-weight="400" text-anchor="middle" letter-spacing="0.100">Fév</text>
<text id="x2_1_Mars" x="433.8" y="802.7" font-size="17.2" fill="#222" font-weight="400" text-anchor="middle" letter-spacing="0.100">Mars</text>
<text id="x2_1_Avr" x="478.6" y="802.7" font-size="17.2" fill="#222" font-weight="400" text-anchor="middle" letter-spacing="0.100">Avr</text>
<text id="x2_1_Mai" x="521.8" y="802.7" font-size="17.2" fill="#222" font-weight="400" text-anchor="middle" letter-spacing="0.100">Mai</text>
<text id="x2_1_Juin" x="566.5" y="802.7" font-size="17.2" fill="#222" font-weight="400" text-anchor="middle" letter-spacing="0.100">Juin</text>
<text id="x2_1_Juil" x="610.3" y="802.7" font-size="17.2" fill="#222" font-weight="400" text-anchor="middle" letter-spacing="0.100">Juil</text>
<text id="x2_1_Août" x="655.0" y="802.7" font-size="17.2" fill="#222" font-weight="400" text-anchor="middle" letter-spacing="0.100">Août</text>
<text id="x2_1_Sep" x="699.8" y="802.7" font-size="17.2" fill="#222" font-weight="400" text-anchor="middle" letter-spacing="0.100">Sep</text>
<text id="x2_2_Oct" x="759.3" y="802.7" font-size="17.2" fill="#222" font-weight="400" text-anchor="middle" letter-spacing="0.100">Oct</text>
<text id="x2_2_Nov" x="804.4" y="802.7" font-size="17.2" fill="#222" font-weight="400" text-anchor="middle" letter-spacing="0.100">Nov</text>
<text id="x2_2_Déc" x="847.8" y="802.7" font-size="17.2" fill="#222" font-weight="400" text-anchor="middle" letter-spacing="0.100">Déc</text>
<text id="x2_2_Jan" x="892.9" y="802.7" font-size="17.2" fill="#222" font-weight="400" text-anchor="middle" letter-spacing="0.100">Jan</text>
<text id="x2_2_Fév" x="938.2" y="802.7" font-size="17.2" fill="#222" font-weight="400" text-anchor="middle" letter-spacing="0.100">Fév</text>
<text id="x2_2_Mars" x="978.9" y="802.7" font-size="17.2" fill="#222" font-weight="400" text-anchor="middle" letter-spacing="0.100">Mars</text>
<text id="x2_2_Avr" x="1023.3" y="802.7" font-size="17.2" fill="#222" font-weight="400" text-anchor="middle" letter-spacing="0.100">Avr</text>
<text id="x2_3_Oct" x="1083.1" y="802.7" font-size="17.2" fill="#222" font-weight="400" text-anchor="middle" letter-spacing="0.100">Oct</text>
<text id="x2_3_Nov" x="1128.2" y="802.7" font-size="17.2" fill="#222" font-weight="400" text-anchor="middle" letter-spacing="0.100">Nov</text>
<text id="x2_3_Déc" x="1171.6" y="802.7" font-size="17.2" fill="#222" font-weight="400" text-anchor="middle" letter-spacing="0.100">Déc</text>
<text id="x2_3_Jan" x="1216.7" y="802.7" font-size="17.2" fill="#222" font-weight="400" text-anchor="middle" letter-spacing="0.100">Jan</text>
<text id="x2_3_Fév" x="1262.0" y="802.7" font-size="17.2" fill="#222" font-weight="400" text-anchor="middle" letter-spacing="0.100">Fév</text>
<text id="x2_3_Mars" x="1302.7" y="802.7" font-size="17.2" fill="#222" font-weight="400" text-anchor="middle" letter-spacing="0.100">Mars</text>
<text id="x2_3_Avr" x="1347.1" y="802.7" font-size="17.2" fill="#222" font-weight="400" text-anchor="middle" letter-spacing="0.100">Avr</text>
<text id="x2_4_Oct" x="1406.9" y="802.7" font-size="17.2" fill="#222" font-weight="400" text-anchor="middle" letter-spacing="0.100">Oct</text>
<text id="x2_4_Nov" x="1452.0" y="802.7" font-size="17.2" fill="#222" font-weight="400" text-anchor="middle" letter-spacing="0.100">Nov</text>
<text id="x2_4_Déc" x="1495.4" y="802.7" font-size="17.2" fill="#222" font-weight="400" text-anchor="middle" letter-spacing="0.100">Déc</text>
<text id="x2_4_Jan" x="1540.5" y="802.7" font-size="17.2" fill="#222" font-weight="400" text-anchor="middle" letter-spacing="0.100">Jan</text>
<text id="x2_4_Fév" x="1585.8" y="802.7" font-size="17.2" fill="#222" font-weight="400" text-anchor="middle" letter-spacing="0.100">Fév</text>
<text id="x2_4_Mars" x="1626.5" y="802.7" font-size="17.2" fill="#222" font-weight="400" text-anchor="middle" letter-spacing="0.100">Mars</text>
<text id="x2_4_Avr" x="1670.9" y="802.7" font-size="17.2" fill="#222" font-weight="400" text-anchor="middle" letter-spacing="0.100">Avr</text>
<text id="lg2_0" x="450.5" y="524.6" font-size="10.3" fill="#333" font-weight="400" letter-spacing="0.450">Max</text>
<text id="lg2_1" x="450.5" y="537.4" font-size="10.3" fill="#333" font-weight="400" letter-spacing="0.450">90%</text>
<text id="lg2_2" x="450.5" y="550.1" font-size="10.3" fill="#333" font-weight="400" letter-spacing="0.450">75%</text>
<text id="lg2_3" x="450.5" y="562.9" font-size="10.3" fill="#333" font-weight="400" letter-spacing="0.450">Médiane</text>
<text id="lg2_4" x="450.5" y="575.6" font-size="10.3" fill="#333" font-weight="400" letter-spacing="0.450">25%</text>
<text id="lg2_5" x="450.5" y="588.4" font-size="10.3" fill="#333" font-weight="400" letter-spacing="0.450">10%</text>
<text id="lg2_6" x="450.5" y="601.1" font-size="10.3" fill="#333" font-weight="400" letter-spacing="0.450">Min</text>
<text id="y3_0" x="380.6" y="1094.4" font-size="16.8" fill="#222" font-weight="400" text-anchor="end" letter-spacing="1.000">0</text>
<text id="y3_1" x="380.6" y="1068.7" font-size="16.8" fill="#222" font-weight="400" text-anchor="end" letter-spacing="1.000">10</text>
<text id="y3_2" x="380.6" y="1043.0" font-size="16.8" fill="#222" font-weight="400" text-anchor="end" letter-spacing="1.000">20</text>
<text id="y3_3" x="380.6" y="1017.3" font-size="16.8" fill="#222" font-weight="400" text-anchor="end" letter-spacing="1.000">30</text>
<text id="y3_4" x="380.6" y="991.6" font-size="16.8" fill="#222" font-weight="400" text-anchor="end" letter-spacing="1.000">40</text>
<text id="y3_5" x="380.6" y="966.0" font-size="16.8" fill="#222" font-weight="400" text-anchor="end" letter-spacing="1.000">50</text>
<text id="y3_6" x="380.6" y="940.3" font-size="16.8" fill="#222" font-weight="400" text-anchor="end" letter-spacing="1.000">60</text>
<text id="y3_7" x="380.6" y="914.6" font-size="16.8" fill="#222" font-weight="400" text-anchor="end" letter-spacing="1.000">70</text>
<text id="y3_8" x="380.6" y="888.9" font-size="16.8" fill="#222" font-weight="400" text-anchor="end" letter-spacing="1.000">80</text>
<text id="y3_9" x="380.6" y="863.2" font-size="16.8" fill="#222" font-weight="400" text-anchor="end" letter-spacing="1.000">90</text>
<text id="y3_10" x="380.6" y="837.5" font-size="16.8" fill="#222" font-weight="400" text-anchor="end" letter-spacing="1.000">100</text>
<text id="x3_1_Fév" x="391.6" y="1111.8" font-size="17.2" fill="#222" font-weight="400" text-anchor="middle" letter-spacing="0.100">Fév</text>
<text id="x3_1_Mars" x="433.8" y="1111.8" font-size="17.2" fill="#222" font-weight="400" text-anchor="middle" letter-spacing="0.100">Mars</text>
<text id="x3_1_Avr" x="478.6" y="1111.8" font-size="17.2" fill="#222" font-weight="400" text-anchor="middle" letter-spacing="0.100">Avr</text>
<text id="x3_1_Mai" x="521.8" y="1111.8" font-size="17.2" fill="#222" font-weight="400" text-anchor="middle" letter-spacing="0.100">Mai</text>
<text id="x3_1_Juin" x="566.5" y="1111.8" font-size="17.2" fill="#222" font-weight="400" text-anchor="middle" letter-spacing="0.100">Juin</text>
<text id="x3_1_Juil" x="610.3" y="1111.8" font-size="17.2" fill="#222" font-weight="400" text-anchor="middle" letter-spacing="0.100">Juil</text>
<text id="x3_1_Août" x="655.0" y="1111.8" font-size="17.2" fill="#222" font-weight="400" text-anchor="middle" letter-spacing="0.100">Août</text>
<text id="x3_1_Sep" x="699.8" y="1111.8" font-size="17.2" fill="#222" font-weight="400" text-anchor="middle" letter-spacing="0.100">Sep</text>
<text id="x3_2_Oct" x="759.3" y="1111.8" font-size="17.2" fill="#222" font-weight="400" text-anchor="middle" letter-spacing="0.100">Oct</text>
<text id="x3_2_Nov" x="804.4" y="1111.8" font-size="17.2" fill="#222" font-weight="400" text-anchor="middle" letter-spacing="0.100">Nov</text>
<text id="x3_2_Déc" x="847.8" y="1111.8" font-size="17.2" fill="#222" font-weight="400" text-anchor="middle" letter-spacing="0.100">Déc</text>
<text id="x3_2_Jan" x="892.9" y="1111.8" font-size="17.2" fill="#222" font-weight="400" text-anchor="middle" letter-spacing="0.100">Jan</text>
<text id="x3_2_Fév" x="938.2" y="1111.8" font-size="17.2" fill="#222" font-weight="400" text-anchor="middle" letter-spacing="0.100">Fév</text>
<text id="x3_2_Mars" x="978.9" y="1111.8" font-size="17.2" fill="#222" font-weight="400" text-anchor="middle" letter-spacing="0.100">Mars</text>
<text id="x3_2_Avr" x="1023.3" y="1111.8" font-size="17.2" fill="#222" font-weight="400" text-anchor="middle" letter-spacing="0.100">Avr</text>
<text id="x3_3_Oct" x="1083.1" y="1111.8" font-size="17.2" fill="#222" font-weight="400" text-anchor="middle" letter-spacing="0.100">Oct</text>
<text id="x3_3_Nov" x="1128.2" y="1111.8" font-size="17.2" fill="#222" font-weight="400" text-anchor="middle" letter-spacing="0.100">Nov</text>
<text id="x3_3_Déc" x="1171.6" y="1111.8" font-size="17.2" fill="#222" font-weight="400" text-anchor="middle" letter-spacing="0.100">Déc</text>
<text id="x3_3_Jan" x="1216.7" y="1111.8" font-size="17.2" fill="#222" font-weight="400" text-anchor="middle" letter-spacing="0.100">Jan</text>
<text id="x3_3_Fév" x="1262.0" y="1111.8" font-size="17.2" fill="#222" font-weight="400" text-anchor="middle" letter-spacing="0.100">Fév</text>
<text id="x3_3_Mars" x="1302.7" y="1111.8" font-size="17.2" fill="#222" font-weight="400" text-anchor="middle" letter-spacing="0.100">Mars</text>
<text id="x3_3_Avr" x="1347.1" y="1111.8" font-size="17.2" fill="#222" font-weight="400" text-anchor="middle" letter-spacing="0.100">Avr</text>
<text id="x3_4_Oct" x="1406.9" y="1111.8" font-size="17.2" fill="#222" font-weight="400" text-anchor="middle" letter-spacing="0.100">Oct</text>
<text id="x3_4_Nov" x="1452.0" y="1111.8" font-size="17.2" fill="#222" font-weight="400" text-anchor="middle" letter-spacing="0.100">Nov</text>
<text id="x3_4_Déc" x="1495.4" y="1111.8" font-size="17.2" fill="#222" font-weight="400" text-anchor="middle" letter-spacing="0.100">Déc</text>
<text id="x3_4_Jan" x="1540.5" y="1111.8" font-size="17.2" fill="#222" font-weight="400" text-anchor="middle" letter-spacing="0.100">Jan</text>
<text id="x3_4_Fév" x="1585.8" y="1111.8" font-size="17.2" fill="#222" font-weight="400" text-anchor="middle" letter-spacing="0.100">Fév</text>
<text id="x3_4_Mars" x="1626.5" y="1111.8" font-size="17.2" fill="#222" font-weight="400" text-anchor="middle" letter-spacing="0.100">Mars</text>
<text id="x3_4_Avr" x="1670.9" y="1111.8" font-size="17.2" fill="#222" font-weight="400" text-anchor="middle" letter-spacing="0.100">Avr</text>
<text id="lg3_0" x="450.5" y="833.1" font-size="10.3" fill="#333" font-weight="400" letter-spacing="0.450">Max</text>
<text id="lg3_1" x="450.5" y="845.9" font-size="10.3" fill="#333" font-weight="400" letter-spacing="0.450">90%</text>
<text id="lg3_2" x="450.5" y="858.6" font-size="10.3" fill="#333" font-weight="400" letter-spacing="0.450">75%</text>
<text id="lg3_3" x="450.5" y="871.4" font-size="10.3" fill="#333" font-weight="400" letter-spacing="0.450">Médiane</text>
<text id="lg3_4" x="450.5" y="884.1" font-size="10.3" fill="#333" font-weight="400" letter-spacing="0.450">25%</text>
<text id="lg3_5" x="450.5" y="896.9" font-size="10.3" fill="#333" font-weight="400" letter-spacing="0.450">10%</text>
<text id="lg3_6" x="450.5" y="909.6" font-size="10.3" fill="#333" font-weight="400" letter-spacing="0.450">Min</text>
<text id="yt1" x="330.2" y="460.2" font-size="25.6" fill="#4b9db3" font-weight="400" transform="rotate(-90 330.2 460.2) translate(-16.510 0) scale(1.05 1)" letter-spacing="0.027">Nouvelles infections</text>
<text id="yt2" x="330.6" y="802.6" font-size="25.6" fill="#eda468" font-weight="400" transform="rotate(-90 330.6 802.6) translate(-13.488 0) scale(1.0408 1)">Nouvelles hospitalisations</text>
<text id="yt3" x="330.4" y="1056.2" font-size="25.6" fill="#4a4a4a" font-weight="400" transform="rotate(-90 330.4 1056.2) translate(-12.720 0) scale(1.0385 1)">Nouveaux décès</text>
<text id="ct1" x="869.5" y="203.4" font-size="22.0" fill="#b23a44" font-weight="400" text-anchor="middle" transform="translate(-33.824 0) scale(1.0389 1)">Sans variant</text>
<text id="ct2" x="1193.7" y="203.4" font-size="22.0" fill="#b23a44" font-weight="400" text-anchor="middle" transform="translate(-59.685 0) scale(1.05 1)" letter-spacing="0.469">Importation faible</text>
<text id="ct3" x="1517.3" y="203.4" font-size="22.0" fill="#b23a44" font-weight="400" text-anchor="middle" transform="translate(-75.865 0) scale(1.05 1)" letter-spacing="0.525">Importation forte</text>
<text id="title" x="157.0" y="99.9" font-size="62.4" fill="#2f5b9f" font-weight="700" transform="translate(5.165 0) scale(0.9671 1)">Évolution de la COVID-19 dans le Grand Montréal</text>
<text id="sub" x="156.6" y="154.7" font-size="52.0" fill="#b3221f" font-weight="400" transform="translate(2.380 0) scale(0.9848 1)" stroke="#fff" stroke-width="1.1">Adhésion moyenne aux mesures du 8 février</text>
<text id="r1" x="1721.0" y="276.2" font-size="27.2" fill="#3a598f" font-weight="400" transform="translate(-83.813 0) scale(1.0487 1)">Le modèle prédit que</text>
<text id="r2" x="1721.0" y="308.3" font-size="27.2" fill="#3a598f" font-weight="400" transform="translate(-38.034 0) scale(1.0221 1)">l'assouplissement des mesures le</text>
<text id="r3" x="1721.0" y="340.5" font-size="27.2" fill="#3a598f" font-weight="400" transform="translate(-61.612 0) scale(1.0358 1)">8 février pourrait permettre <tspan font-weight="700" fill="#2d4f90">une</tspan></text>
<text id="r4" x="1721.0" y="372.6" font-size="27.2" fill="#3a598f" font-weight="400" transform="translate(20.308 0) scale(0.9882 1)"><tspan font-weight="700" fill="#2d4f90">augmentation des cas, des</tspan></text>
<text id="r5" x="1721.0" y="404.7" font-size="27.2" fill="#3a598f" font-weight="400" transform="translate(29.773 0) scale(0.9827 1)"><tspan font-weight="700" fill="#2d4f90">hospitalisations et des décès</tspan></text>
<text id="r6" x="1721.0" y="436.9" font-size="27.2" fill="#3a598f" font-weight="400" transform="translate(31.322 0) scale(0.9818 1)"><tspan font-weight="700" fill="#2d4f90">dans les scénarios d'importation</tspan></text>
<text id="r7" x="1721.0" y="469.0" font-size="27.2" fill="#3a598f" font-weight="400" transform="translate(34.592 0) scale(0.9799 1)"><tspan font-weight="700" fill="#2d4f90">d'un variant plus transmissible</tspan></text>
<text id="r8" x="1721.0" y="501.1" font-size="27.2" fill="#3a598f" font-weight="400" transform="translate(92.246 0) scale(0.9464 1)">(ex: variant britannique - B.1.1.7) .</text>
<text id="r9" x="1721.0" y="567.6" font-size="27.2" fill="#3a598f" font-weight="400" transform="translate(1.033 0) scale(0.9994 1)">Ces <tspan font-weight="700" fill="#2d4f90">augmentations dépendent</tspan>:</text>
<text id="n1" x="1721.0" y="612.4" font-size="20.5" fill="#3a598f" font-weight="400">1.</text>
<text id="r10" x="1760.5" y="612.4" font-size="27.2" fill="#3a598f" font-weight="400" transform="translate(19.189 0) scale(0.9891 1)">de <tspan font-weight="700" fill="#2d4f90">l'adhésion aux mesures</tspan></text>
<text id="r11" x="1760.5" y="644.0" font-size="27.2" fill="#3a598f" font-weight="400" transform="translate(-63.554 0) scale(1.0361 1)">du 8 février</text>
<text id="n2" x="1721.0" y="683.4" font-size="20.5" fill="#3a598f" font-weight="400">2.</text>
<text id="r12" x="1760.5" y="683.4" font-size="27.2" fill="#3a598f" font-weight="400" transform="translate(1.761 0) scale(0.999 1)">du <tspan font-weight="700" fill="#2d4f90">nombre de cas importés</tspan></text>
<text id="r13" x="1760.5" y="716.0" font-size="27.2" fill="#3a598f" font-weight="400" transform="translate(-18.661 0) scale(1.0106 1)">du variant</text>
<text id="f1" x="162.0" y="1145.0" font-size="19.3" fill="#808080" font-weight="400" transform="translate(-8.100 0) scale(1.05 1)" letter-spacing="0.241"><tspan font-weight="700" fill="#7a161b" letter-spacing="-0.209">Points rouges</tspan>, données INSPQ/MSSS. Les résultats représentent la médiane, min-max et les 10<tspan font-size="12" dy="-6.5">e</tspan><tspan dy="6.5">, 25</tspan><tspan font-size="12" dy="-6.5">e</tspan><tspan dy="6.5">, 75</tspan><tspan font-size="12" dy="-6.5">e</tspan><tspan dy="6.5"> et 90</tspan><tspan font-size="12" dy="-6.5">e</tspan><tspan dy="6.5">  percentiles des prédictions du modèle. Les prédictions pour les cas totaux représentent </tspan><tspan font-weight="700" fill="#6c6c6c" letter-spacing="-0.159">tous les</tspan></text>
<text id="f2" x="162.0" y="1168.5" font-size="19.3" fill="#808080" font-weight="400" transform="translate(-8.100 0) scale(1.05 1)" letter-spacing="0.224"><tspan font-weight="700" fill="#6c6c6c" letter-spacing="-0.176">cas (cliniques et sous-cliniques)</tspan>; le nombre est plus élevé que les cas détectés (en rouge) et il y a un délai lié aux tests entre les cas infectieux et les cas détectés. Les transferts hospitaliers des CHSLD et décès</text>
<text id="f3" x="162.0" y="1192.0" font-size="19.3" fill="#808080" font-weight="400" transform="translate(-8.100 0) scale(1.05 1)" letter-spacing="0.199">lors d'éclosions dans les CHSLD sont exclus. <tspan font-weight="700" fill="#2c4a86" letter-spacing="-0.202">Vaccination:</tspan> Nous modélisons l'impact direct de la vaccination avec 90% d'efficacité 14 jours après la première dose. La réduction des éclosions dans les RPA et CH</text>
<text id="f4" x="162.0" y="1215.5" font-size="19.3" fill="#808080" font-weight="400" transform="translate(-8.100 0) scale(1.05 1)" letter-spacing="0.261">est proportionnelle au taux de vaccination.</text>
</svg>
</body></html>
